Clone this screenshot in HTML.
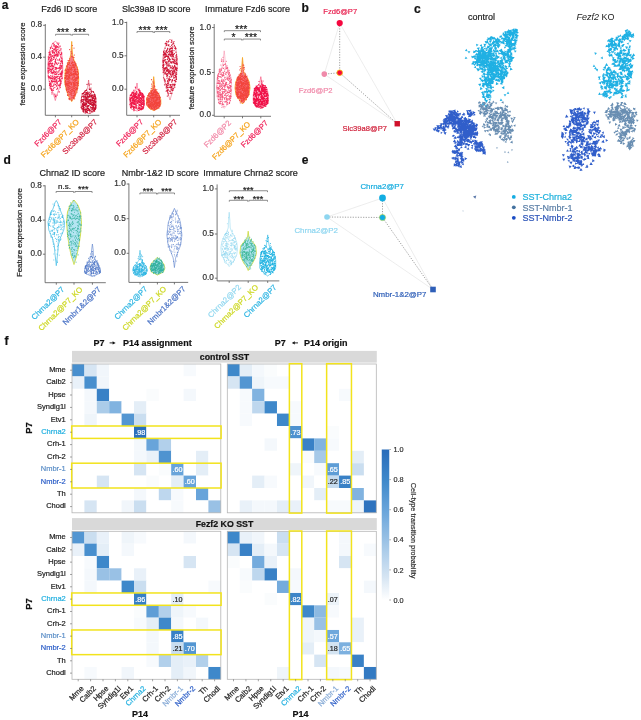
<!DOCTYPE html><html><head><meta charset="utf-8"><style>html,body{margin:0;padding:0;background:#fff;}svg{display:block;will-change:transform;}text{font-family:"Liberation Sans",sans-serif;}</style></head><body><svg width="641" height="720" viewBox="0 0 641 720" font-family="Liberation Sans">
<rect width="641" height="720" fill="#fff"/>
<text x="1.70" y="8.80" font-size="12" fill="#111" text-anchor="start" font-weight="bold" stroke="#111" stroke-width="0.2">a</text>
<text x="301.60" y="11.50" font-size="12" fill="#111" text-anchor="start" font-weight="bold" stroke="#111" stroke-width="0.2">b</text>
<text x="414.00" y="12.90" font-size="12" fill="#111" text-anchor="start" font-weight="bold" stroke="#111" stroke-width="0.2">c</text>
<text x="3.40" y="163.80" font-size="12" fill="#111" text-anchor="start" font-weight="bold" stroke="#111" stroke-width="0.2">d</text>
<text x="301.70" y="164.40" font-size="12" fill="#111" text-anchor="start" font-weight="bold" stroke="#111" stroke-width="0.2">e</text>
<text x="4.60" y="345.40" font-size="12" fill="#111" text-anchor="start" font-weight="bold" stroke="#111" stroke-width="0.2">f</text>
<text x="69.20" y="11.70" font-size="9" fill="#222" text-anchor="middle" stroke="#222" stroke-width="0.2">Fzd6 ID score</text>
<text x="25.20" y="64.00" font-size="7.6" fill="#222" text-anchor="middle" transform="rotate(-90 25.20 64.00)" stroke="#222" stroke-width="0.2">feature expression score</text>
<line x1="45.30" y1="24.00" x2="45.30" y2="115.30" stroke="#555" stroke-width="0.8"/>
<line x1="45.30" y1="115.30" x2="99.40" y2="115.30" stroke="#555" stroke-width="0.8"/>
<line x1="43.10" y1="25.30" x2="45.30" y2="25.30" stroke="#555" stroke-width="0.8"/>
<text x="42.10" y="27.30" font-size="8.2" fill="#333" text-anchor="end" stroke="#333" stroke-width="0.2">0.8</text>
<line x1="43.10" y1="57.20" x2="45.30" y2="57.20" stroke="#555" stroke-width="0.8"/>
<text x="42.10" y="59.20" font-size="8.2" fill="#333" text-anchor="end" stroke="#333" stroke-width="0.2">0.4</text>
<line x1="43.10" y1="89.20" x2="45.30" y2="89.20" stroke="#555" stroke-width="0.8"/>
<text x="42.10" y="91.20" font-size="8.2" fill="#333" text-anchor="end" stroke="#333" stroke-width="0.2">0.0</text>
<path d="M55.30 41.00 L56.31 42.01 L57.32 43.02 L58.31 44.03 L58.73 45.03 L59.15 46.04 L59.57 47.05 L59.99 48.06 L60.41 49.07 L60.81 50.08 L61.00 51.08 L61.19 52.09 L61.38 53.10 L61.57 54.11 L61.76 55.12 L61.95 56.13 L62.14 57.14 L62.31 58.14 L62.36 59.15 L62.41 60.16 L62.46 61.17 L62.51 62.18 L62.56 63.19 L62.61 64.19 L62.66 65.20 L62.71 66.21 L62.76 67.22 L62.79 68.23 L62.74 69.24 L62.69 70.25 L62.64 71.25 L62.59 72.26 L62.54 73.27 L62.49 74.28 L62.44 75.29 L62.39 76.30 L62.33 77.31 L62.22 78.31 L61.97 79.32 L61.72 80.33 L61.47 81.34 L61.21 82.35 L60.96 83.36 L60.71 84.36 L60.46 85.37 L60.14 86.38 L59.72 87.39 L59.30 88.40 L58.88 89.41 L58.46 90.42 L58.04 91.42 L57.67 92.43 L57.38 93.44 L57.08 94.45 L56.78 95.46 L56.49 96.47 L56.19 97.47 L55.89 98.48 L55.60 99.49 L55.30 100.50 L55.30 100.50 L55.00 99.49 L54.71 98.48 L54.41 97.47 L54.11 96.47 L53.82 95.46 L53.52 94.45 L53.22 93.44 L52.93 92.43 L52.56 91.42 L52.14 90.42 L51.72 89.41 L51.30 88.40 L50.88 87.39 L50.46 86.38 L50.14 85.37 L49.89 84.36 L49.64 83.36 L49.39 82.35 L49.13 81.34 L48.88 80.33 L48.63 79.32 L48.38 78.31 L48.27 77.31 L48.21 76.30 L48.16 75.29 L48.11 74.28 L48.06 73.27 L48.01 72.26 L47.96 71.25 L47.91 70.25 L47.86 69.24 L47.81 68.23 L47.84 67.22 L47.89 66.21 L47.94 65.20 L47.99 64.19 L48.04 63.19 L48.09 62.18 L48.14 61.17 L48.19 60.16 L48.24 59.15 L48.29 58.14 L48.46 57.14 L48.65 56.13 L48.84 55.12 L49.03 54.11 L49.22 53.10 L49.41 52.09 L49.60 51.08 L49.79 50.08 L50.19 49.07 L50.61 48.06 L51.03 47.05 L51.45 46.04 L51.87 45.03 L52.29 44.03 L53.28 43.02 L54.29 42.01 L55.30 41.00Z" fill="none" stroke="#f0245a" stroke-width="0.5" stroke-linejoin="round"/>
<path d="M62.6 72.1h.01M51.2 84.8h.01M59.7 78.0h.01M54.0 57.2h.01M59.4 59.7h.01M60.2 83.8h.01M58.9 43.1h.01M52.1 80.6h.01M54.6 79.1h.01M61.9 66.5h.01M61.7 60.4h.01M53.5 59.3h.01M61.6 58.6h.01M53.9 66.1h.01M53.4 68.1h.01M59.1 70.4h.01M55.1 96.8h.01M54.6 79.2h.01M53.6 72.4h.01M54.8 94.2h.01M50.3 56.2h.01M49.5 54.4h.01M59.0 71.8h.01M56.0 47.3h.01M57.1 46.6h.01M59.8 68.7h.01M51.3 66.2h.01M52.3 86.3h.01M52.0 72.5h.01M52.4 68.3h.01M59.2 67.5h.01M53.5 57.7h.01M53.8 44.1h.01M57.1 55.2h.01M50.8 75.7h.01M49.9 55.7h.01M58.2 63.1h.01M57.2 43.1h.01M52.6 81.4h.01M57.1 53.7h.01M48.6 59.2h.01M54.1 83.1h.01M56.5 67.9h.01M52.1 82.7h.01M53.1 73.0h.01M56.9 77.3h.01M56.4 50.3h.01M50.1 69.4h.01M58.4 68.3h.01M50.1 83.7h.01M62.2 62.1h.01M50.9 71.4h.01M52.6 48.4h.01M50.9 63.4h.01M62.4 61.3h.01M52.5 53.0h.01M56.7 80.4h.01M62.5 63.1h.01M59.1 91.7h.01M48.5 71.1h.01M55.6 72.2h.01M56.8 73.5h.01M58.3 74.3h.01M53.2 52.9h.01M52.7 65.5h.01M48.3 57.0h.01M48.4 64.5h.01M55.9 51.4h.01M51.5 90.4h.01M51.2 56.3h.01M52.9 73.8h.01M49.1 60.0h.01M49.5 83.7h.01M61.5 74.4h.01M54.5 53.2h.01M51.4 81.5h.01M57.4 88.6h.01M49.5 85.5h.01M51.5 70.2h.01M61.3 52.8h.01M60.7 54.9h.01M56.8 86.2h.01M49.3 70.2h.01M52.8 55.6h.01M49.6 84.2h.01M51.2 73.2h.01M48.2 70.1h.01M49.8 63.3h.01M57.3 64.6h.01M49.7 57.5h.01M51.7 46.9h.01M60.3 83.1h.01M52.8 66.6h.01M52.8 69.2h.01M49.3 61.4h.01M59.6 76.9h.01M57.0 46.4h.01M56.0 63.0h.01M56.5 46.0h.01M50.2 51.8h.01M53.2 90.3h.01M56.5 74.6h.01M62.0 65.5h.01M60.1 68.2h.01M57.1 83.6h.01M55.6 62.1h.01M48.1 71.1h.01M61.0 75.3h.01M49.0 61.9h.01M49.7 68.0h.01M58.0 78.5h.01M59.0 85.6h.01M59.1 53.7h.01M54.8 87.6h.01M52.9 43.3h.01M48.6 77.2h.01M60.0 79.9h.01M61.5 53.3h.01M51.5 64.9h.01M60.2 80.5h.01M54.4 44.9h.01M52.5 72.4h.01M55.4 79.1h.01M47.9 68.2h.01M54.5 76.3h.01M51.1 57.3h.01M58.2 55.8h.01M55.3 62.6h.01M60.3 54.9h.01M61.1 62.0h.01M53.4 88.2h.01M52.0 69.8h.01M61.7 61.1h.01M55.4 59.4h.01M51.2 88.6h.01M48.5 65.9h.01M59.1 92.1h.01M56.5 68.0h.01M48.6 68.5h.01M55.4 84.4h.01M55.4 77.7h.01M54.3 71.4h.01M62.0 65.3h.01M60.9 83.6h.01M49.8 64.4h.01M51.4 86.2h.01M54.2 48.8h.01M60.3 65.1h.01M57.2 68.2h.01M57.6 88.0h.01M56.4 58.1h.01M51.4 80.5h.01M59.9 73.9h.01M48.3 75.9h.01M58.2 71.9h.01M52.6 90.2h.01M54.9 61.6h.01M62.3 63.7h.01M55.8 55.8h.01M50.4 47.7h.01M54.3 56.1h.01M57.2 84.9h.01M49.5 81.3h.01M52.1 51.8h.01M48.2 72.0h.01M55.9 67.5h.01M53.5 70.9h.01M55.4 74.4h.01M52.3 60.1h.01M56.8 89.3h.01M50.4 66.5h.01M61.3 71.9h.01M62.0 73.7h.01M55.2 55.5h.01M54.9 49.2h.01M60.6 63.7h.01M52.3 78.5h.01M59.4 80.4h.01M52.2 76.6h.01M58.1 51.8h.01M53.4 85.8h.01M56.7 79.7h.01M60.6 83.0h.01M48.6 68.0h.01M58.9 84.9h.01M55.8 48.4h.01M54.1 46.5h.01M53.9 45.5h.01M49.1 58.3h.01M51.8 58.3h.01M57.0 55.3h.01M49.3 70.3h.01M57.1 47.5h.01M62.1 71.4h.01M61.7 53.9h.01M61.0 74.3h.01M58.2 44.5h.01M50.6 60.4h.01M60.3 87.6h.01M50.9 69.2h.01M60.3 80.7h.01M60.8 74.5h.01M57.1 72.1h.01M55.6 54.7h.01M50.8 69.9h.01M55.5 46.7h.01M52.4 79.1h.01M51.7 89.4h.01M50.5 82.8h.01M58.6 47.8h.01M61.4 61.6h.01M50.1 61.4h.01M49.1 52.4h.01M51.8 72.2h.01M50.2 78.8h.01M50.8 60.5h.01M56.4 82.1h.01M54.2 79.0h.01M54.4 52.4h.01M51.1 78.5h.01M57.3 83.1h.01M52.4 55.9h.01M53.8 70.7h.01M54.8 73.0h.01M61.3 72.5h.01M52.1 50.7h.01M58.5 74.6h.01M52.5 72.9h.01M60.6 80.3h.01M53.9 79.9h.01M55.4 61.2h.01M60.7 76.6h.01M57.4 82.9h.01M50.4 84.1h.01M50.5 54.4h.01M60.2 46.2h.01M48.4 73.1h.01M52.5 56.3h.01M62.1 70.2h.01M50.4 88.8h.01M50.3 63.0h.01M51.2 58.4h.01M49.1 66.3h.01M54.9 74.5h.01M56.5 51.0h.01M52.6 63.4h.01M50.2 53.3h.01M59.8 74.2h.01M59.3 80.9h.01M56.2 63.7h.01M50.0 63.4h.01M55.9 68.9h.01M57.1 56.4h.01M54.3 57.9h.01M60.6 61.1h.01M53.7 66.6h.01M55.4 50.0h.01M49.8 77.1h.01M56.2 71.1h.01M59.2 59.7h.01M58.1 49.8h.01M51.8 78.1h.01M61.7 52.8h.01M58.2 52.7h.01M54.3 52.1h.01M54.3 49.8h.01M58.6 85.6h.01M50.6 59.6h.01M57.3 59.9h.01M58.2 81.4h.01M55.5 72.3h.01M60.4 54.7h.01M54.8 64.8h.01M54.9 84.8h.01M52.1 63.2h.01M61.4 76.6h.01M53.0 50.6h.01M58.1 76.4h.01M54.0 78.7h.01M61.0 81.7h.01M61.8 73.8h.01M48.4 63.2h.01M61.1 48.9h.01M56.9 68.5h.01M49.2 77.9h.01M55.3 54.9h.01M48.8 59.5h.01M56.0 69.2h.01M50.8 77.3h.01M53.7 84.8h.01M52.8 51.9h.01M56.7 54.7h.01M59.8 79.2h.01M61.7 72.9h.01M52.8 75.9h.01M55.7 96.5h.01M50.0 87.8h.01M53.6 81.4h.01M61.8 78.5h.01M49.7 64.0h.01M60.7 73.3h.01M57.4 55.4h.01M52.4 78.4h.01M59.3 78.6h.01M52.3 76.3h.01M61.2 65.9h.01M49.2 63.3h.01M49.7 65.2h.01M57.9 46.7h.01M54.6 81.5h.01M50.0 69.6h.01M55.5 62.8h.01M52.3 69.3h.01M56.0 76.5h.01M58.9 63.1h.01M60.0 81.1h.01M50.3 86.3h.01M56.7 63.2h.01M61.6 53.3h.01M54.7 78.4h.01M57.1 95.1h.01M50.1 53.4h.01M60.7 76.7h.01M56.4 80.9h.01M59.7 86.1h.01M59.0 51.8h.01M59.8 50.4h.01M52.0 93.9h.01M58.1 51.6h.01M51.2 54.9h.01M51.8 69.9h.01M52.7 66.2h.01M56.6 77.7h.01M57.0 54.7h.01M60.4 85.0h.01M48.4 57.1h.01M50.9 78.3h.01M53.7 49.3h.01M60.1 67.2h.01M55.8 45.7h.01M55.5 60.0h.01M59.1 60.6h.01M57.5 76.5h.01M52.2 65.8h.01M50.7 48.4h.01M55.1 95.3h.01M59.9 84.6h.01M56.4 85.9h.01M48.9 58.5h.01M54.4 63.9h.01M53.7 57.1h.01M56.4 52.3h.01M56.2 46.1h.01M62.1 67.9h.01M53.2 51.7h.01M54.1 54.9h.01M56.8 81.9h.01M61.1 66.9h.01M58.1 54.7h.01M54.9 74.2h.01M59.8 59.0h.01M55.1 69.3h.01M62.0 58.9h.01M52.0 67.8h.01M49.8 72.1h.01M60.2 69.5h.01M52.3 63.9h.01M60.1 79.2h.01M56.7 83.6h.01M55.4 55.0h.01M49.9 53.5h.01M59.0 52.5h.01M51.9 92.2h.01M60.3 87.6h.01M60.6 56.9h.01M53.5 90.1h.01M50.2 56.1h.01M61.1 68.3h.01M55.0 67.7h.01M50.9 85.0h.01M55.3 47.3h.01M51.6 61.1h.01M53.9 70.9h.01M56.9 49.5h.01M61.2 57.3h.01M59.8 65.8h.01M51.1 83.8h.01M55.0 77.9h.01M55.2 80.9h.01M62.3 78.1h.01M49.3 76.7h.01M55.4 81.9h.01M61.3 75.7h.01M53.8 77.4h.01M51.9 59.7h.01M56.0 54.2h.01M52.7 78.3h.01M61.0 54.2h.01M50.6 86.6h.01M51.0 71.4h.01" stroke="#f22455" stroke-width="1.30" stroke-linecap="round" opacity="1.0"/>
<path d="M71.70 41.50 L71.76 42.52 L71.82 43.53 L71.88 44.55 L71.94 45.57 L72.00 46.58 L72.06 47.60 L72.12 48.62 L72.18 49.64 L72.27 50.65 L72.37 51.67 L72.47 52.69 L72.57 53.70 L72.67 54.72 L72.88 55.74 L73.12 56.75 L73.37 57.77 L73.61 58.79 L73.85 59.81 L74.28 60.82 L74.75 61.84 L75.21 62.86 L75.68 63.87 L76.15 64.89 L76.54 65.91 L76.93 66.92 L77.32 67.94 L77.70 68.96 L78.09 69.97 L78.16 70.99 L78.22 72.01 L78.28 73.03 L78.34 74.04 L78.40 75.06 L78.46 76.08 L78.53 77.09 L78.59 78.11 L78.65 79.13 L78.69 80.14 L78.58 81.16 L78.48 82.18 L78.38 83.19 L78.28 84.21 L78.15 85.23 L77.90 86.25 L77.66 87.26 L77.41 88.28 L77.17 89.30 L76.89 90.31 L76.52 91.33 L76.16 92.35 L75.80 93.36 L75.44 94.38 L75.07 95.40 L74.71 96.42 L74.23 97.43 L73.60 98.45 L72.97 99.47 L72.33 100.48 L71.70 101.50 L71.70 101.50 L71.07 100.48 L70.43 99.47 L69.80 98.45 L69.17 97.43 L68.69 96.42 L68.33 95.40 L67.96 94.38 L67.60 93.36 L67.24 92.35 L66.88 91.33 L66.51 90.31 L66.23 89.30 L65.99 88.28 L65.74 87.26 L65.50 86.25 L65.25 85.23 L65.12 84.21 L65.02 83.19 L64.92 82.18 L64.82 81.16 L64.71 80.14 L64.75 79.13 L64.81 78.11 L64.87 77.09 L64.94 76.08 L65.00 75.06 L65.06 74.04 L65.12 73.03 L65.18 72.01 L65.24 70.99 L65.31 69.97 L65.70 68.96 L66.08 67.94 L66.47 66.92 L66.86 65.91 L67.25 64.89 L67.72 63.87 L68.19 62.86 L68.65 61.84 L69.12 60.82 L69.55 59.81 L69.79 58.79 L70.03 57.77 L70.28 56.75 L70.52 55.74 L70.73 54.72 L70.83 53.70 L70.93 52.69 L71.03 51.67 L71.13 50.65 L71.22 49.64 L71.28 48.62 L71.34 47.60 L71.40 46.58 L71.46 45.57 L71.52 44.55 L71.58 43.53 L71.64 42.52 L71.70 41.50Z" fill="#f77b86" stroke="#f5a31a" stroke-width="0.9" stroke-linejoin="round"/>
<path d="M69.1 64.1h.01M71.6 84.2h.01M77.6 71.7h.01M74.2 91.0h.01M72.4 91.2h.01M71.9 93.2h.01M74.3 70.5h.01M72.3 45.5h.01M69.5 75.0h.01M68.1 95.2h.01M67.8 86.1h.01M74.3 62.7h.01M73.5 84.1h.01M74.8 92.5h.01M67.6 95.4h.01M77.1 83.9h.01M70.3 90.6h.01M76.8 89.3h.01M73.0 74.0h.01M72.2 65.1h.01M75.9 85.5h.01M73.1 67.3h.01M74.1 75.4h.01M69.7 99.6h.01M73.2 80.4h.01M69.7 78.8h.01M67.7 94.6h.01M66.8 71.8h.01M71.6 100.2h.01M69.2 92.0h.01M75.3 73.9h.01M66.6 72.5h.01M66.4 66.1h.01M76.9 92.6h.01M69.3 69.2h.01M71.8 53.3h.01M68.5 91.5h.01M67.7 81.5h.01M70.4 82.7h.01M75.5 84.9h.01M68.1 60.6h.01M75.2 64.9h.01M78.5 77.8h.01M72.2 61.9h.01M69.8 78.0h.01M68.2 85.4h.01M67.4 83.2h.01M69.3 82.4h.01M74.7 61.6h.01M65.2 70.2h.01M74.8 91.6h.01M73.5 66.1h.01M65.0 78.7h.01M68.1 62.3h.01M74.0 93.4h.01M73.8 67.7h.01M69.1 76.0h.01M76.8 80.2h.01M67.9 85.2h.01M71.0 93.1h.01M66.6 85.0h.01M73.7 73.9h.01M67.7 64.2h.01M67.4 84.1h.01M73.9 95.9h.01M71.7 56.7h.01M73.8 85.9h.01M74.5 67.4h.01M73.2 77.6h.01M67.5 78.9h.01M74.5 81.2h.01M69.1 98.3h.01M68.6 83.8h.01M71.0 75.5h.01M66.5 84.7h.01M66.3 76.8h.01M73.8 76.0h.01M75.0 73.9h.01M69.9 77.8h.01M70.2 72.2h.01M67.8 71.3h.01M71.9 67.2h.01M72.8 77.3h.01M77.5 71.5h.01M66.2 89.0h.01M76.6 89.3h.01M78.3 74.2h.01M69.6 82.1h.01M74.2 91.3h.01M76.1 74.4h.01M73.8 79.7h.01M68.8 76.9h.01M73.4 83.0h.01M75.1 95.9h.01M67.2 66.6h.01M71.5 94.9h.01M65.2 83.1h.01M76.0 87.4h.01M75.5 81.8h.01M66.5 90.7h.01M75.0 72.7h.01M74.3 84.4h.01M66.7 70.6h.01M72.1 79.5h.01M74.3 82.9h.01M69.6 69.2h.01M71.7 63.2h.01M77.7 87.0h.01M73.4 87.9h.01M71.7 83.3h.01M65.9 73.0h.01M66.6 83.2h.01M75.1 64.2h.01M75.0 83.2h.01M76.4 80.1h.01M72.8 82.2h.01M72.7 77.0h.01M72.1 69.9h.01M74.8 84.9h.01M69.4 76.9h.01M71.7 85.0h.01M71.3 73.8h.01M73.4 65.2h.01M67.7 78.7h.01M65.2 81.9h.01M67.4 92.4h.01M68.2 91.1h.01M75.0 62.6h.01M74.5 86.1h.01M75.0 71.0h.01M71.0 84.4h.01M66.3 75.5h.01M71.2 73.4h.01M76.7 78.0h.01M71.8 79.1h.01M73.5 84.1h.01M70.0 81.9h.01M67.0 83.7h.01M73.4 74.6h.01M71.5 82.9h.01M69.6 74.2h.01M68.4 81.3h.01M74.4 76.9h.01M69.2 80.6h.01M72.2 56.7h.01M68.4 78.2h.01M75.0 69.6h.01M70.0 75.5h.01M71.5 63.5h.01M77.5 83.1h.01M74.1 91.7h.01M74.9 74.5h.01M70.0 65.3h.01M76.4 82.5h.01M70.4 65.6h.01M77.1 90.9h.01M76.1 65.9h.01M73.9 73.6h.01M76.3 78.6h.01M72.2 65.4h.01M74.8 72.8h.01M66.7 71.7h.01M78.3 83.7h.01M74.0 97.4h.01M66.9 73.6h.01M68.5 87.7h.01M72.6 67.1h.01M75.4 80.0h.01M66.9 76.4h.01M77.8 72.3h.01M69.8 88.1h.01M78.3 85.6h.01M74.6 67.4h.01M71.5 72.1h.01M70.0 88.1h.01M68.9 98.9h.01M66.0 81.6h.01M73.2 90.2h.01M73.8 97.0h.01M77.1 85.6h.01M69.8 82.3h.01M77.5 69.7h.01M68.9 75.1h.01M77.7 82.0h.01M75.9 93.8h.01M67.1 71.8h.01M76.6 74.8h.01M73.0 57.3h.01M74.4 84.1h.01M76.4 77.6h.01M72.2 87.0h.01M71.8 69.9h.01M69.9 83.7h.01M76.7 82.7h.01M77.2 76.9h.01M67.4 69.3h.01M75.4 74.6h.01M68.7 85.7h.01M67.7 69.3h.01M68.5 64.5h.01M72.7 77.2h.01M68.8 70.0h.01M68.5 87.5h.01M66.8 88.1h.01M70.0 94.3h.01M75.0 89.0h.01M65.1 82.0h.01M71.5 68.6h.01M73.0 88.7h.01M65.7 85.6h.01M69.0 85.1h.01M77.2 84.4h.01M77.7 88.3h.01M76.4 71.8h.01M67.2 83.0h.01M75.4 79.6h.01M71.0 73.9h.01M67.3 73.1h.01M71.5 68.4h.01M77.6 77.9h.01M76.8 74.4h.01M70.2 75.7h.01M66.5 89.5h.01M77.1 83.5h.01M78.3 83.5h.01M71.8 97.9h.01M68.1 70.2h.01M72.3 78.6h.01M73.7 64.7h.01M71.5 75.1h.01M70.3 94.1h.01M69.2 63.4h.01M69.1 86.2h.01M66.5 90.5h.01M68.3 79.4h.01M77.4 86.8h.01M64.9 77.5h.01M74.8 73.8h.01M75.7 77.9h.01M70.5 69.3h.01M73.0 73.4h.01M68.0 73.3h.01M73.0 97.3h.01M74.5 73.0h.01M74.8 70.3h.01M71.6 93.2h.01M77.1 67.2h.01M75.0 95.7h.01M72.6 89.3h.01M74.2 82.6h.01M68.6 76.0h.01M77.3 69.2h.01M73.2 65.0h.01M75.8 64.7h.01M68.8 74.1h.01M78.3 76.2h.01M67.6 92.4h.01M72.1 78.7h.01M69.0 98.9h.01M67.6 85.7h.01M74.7 66.5h.01M65.6 80.6h.01M70.3 68.0h.01M69.3 60.4h.01M75.0 94.7h.01M66.1 74.0h.01M69.6 69.2h.01M75.4 65.2h.01M74.2 83.2h.01M74.5 76.6h.01M74.4 55.0h.01M65.3 84.4h.01M73.9 71.4h.01M74.8 87.0h.01M75.1 78.4h.01M74.7 79.5h.01M65.8 76.9h.01M66.1 83.1h.01M73.6 98.3h.01M73.1 86.8h.01M69.5 62.6h.01M64.9 77.9h.01M72.1 69.6h.01M67.4 65.2h.01M74.8 68.9h.01M69.6 71.1h.01M74.4 95.2h.01M66.3 85.1h.01M71.6 89.6h.01M66.3 84.2h.01M75.5 73.1h.01M72.5 75.0h.01M68.0 77.2h.01M77.9 72.4h.01M74.2 75.8h.01M69.6 86.3h.01M75.2 64.1h.01M70.1 71.6h.01M77.8 78.6h.01M68.9 83.2h.01M78.3 81.9h.01M65.9 85.5h.01M74.1 65.2h.01M69.1 69.1h.01M70.7 73.4h.01M73.5 71.6h.01M65.8 86.3h.01M69.8 98.7h.01M66.3 83.6h.01M73.4 59.9h.01M68.0 72.1h.01M71.7 87.1h.01M69.9 92.4h.01M68.0 81.2h.01M77.6 74.5h.01M71.8 74.4h.01M73.8 82.4h.01M74.0 90.7h.01M76.0 73.6h.01M68.7 69.2h.01M69.6 49.6h.01M71.3 67.2h.01M67.8 89.1h.01M65.1 82.1h.01M74.6 98.8h.01M72.9 62.4h.01M70.5 73.8h.01M67.1 87.3h.01M75.2 83.6h.01M72.0 62.6h.01M67.3 75.4h.01M78.3 81.9h.01M77.8 84.0h.01M77.6 77.1h.01M75.8 69.1h.01M72.0 95.8h.01M69.0 77.5h.01M73.7 85.0h.01M66.8 79.4h.01M72.8 64.0h.01M66.0 69.9h.01M67.3 63.1h.01M74.4 69.4h.01M69.7 68.9h.01M74.4 76.5h.01M75.5 72.6h.01M76.2 73.7h.01M73.1 88.5h.01M74.0 57.6h.01M73.4 65.0h.01M76.9 88.3h.01M77.2 78.8h.01M65.4 77.4h.01M68.6 71.2h.01M70.1 78.8h.01M68.4 69.7h.01M67.9 89.6h.01M76.3 88.7h.01M65.3 73.4h.01M69.5 58.8h.01M74.6 91.2h.01M68.0 72.0h.01M68.4 82.9h.01M77.2 89.3h.01M75.0 87.0h.01M71.1 90.0h.01M66.7 78.0h.01M69.0 88.9h.01M78.3 77.1h.01M75.6 71.2h.01M65.7 78.3h.01M74.5 73.5h.01M70.1 86.6h.01M74.4 88.4h.01M69.3 67.3h.01M67.2 67.9h.01M65.2 75.4h.01M68.9 76.9h.01M75.1 94.4h.01M75.6 93.9h.01M73.3 95.5h.01M75.0 85.2h.01M67.6 83.5h.01M69.8 70.8h.01M77.1 75.4h.01M74.0 48.1h.01M71.0 88.0h.01M75.4 71.7h.01M75.9 63.6h.01M78.4 73.5h.01M69.0 72.5h.01M73.7 85.0h.01M71.1 51.7h.01M71.2 70.2h.01M71.3 91.6h.01M69.1 89.2h.01M65.1 81.9h.01M75.4 80.5h.01M74.3 69.6h.01M75.6 89.9h.01" stroke="#f2443c" stroke-width="1.20" stroke-linecap="round" opacity="1.0"/>
<path d="M88.60 80.00 L88.67 80.57 L88.74 81.14 L88.81 81.70 L88.88 82.27 L88.95 82.84 L89.03 83.41 L89.10 83.97 L89.17 84.54 L89.24 85.11 L89.31 85.68 L89.38 86.25 L89.45 86.81 L89.52 87.38 L89.59 87.95 L89.94 88.52 L90.32 89.08 L90.70 89.65 L91.08 90.22 L91.46 90.79 L92.02 91.36 L92.68 91.92 L93.34 92.49 L94.00 93.06 L94.66 93.63 L95.13 94.19 L95.23 94.76 L95.32 95.33 L95.42 95.90 L95.51 96.47 L95.61 97.03 L95.70 97.60 L95.79 98.17 L95.89 98.74 L95.98 99.31 L96.08 99.87 L96.10 100.44 L96.10 101.01 L96.10 101.58 L96.10 102.14 L96.10 102.71 L96.10 103.28 L96.10 103.85 L96.10 104.42 L96.10 104.98 L96.10 105.55 L96.10 106.12 L96.10 106.69 L96.10 107.25 L96.10 107.82 L95.86 108.39 L95.50 108.96 L95.15 109.53 L94.79 110.09 L94.44 110.66 L94.08 111.23 L93.73 111.80 L92.39 112.36 L90.49 112.93 L88.60 113.50 L88.60 113.50 L86.71 112.93 L84.81 112.36 L83.47 111.80 L83.12 111.23 L82.76 110.66 L82.41 110.09 L82.05 109.53 L81.70 108.96 L81.34 108.39 L81.10 107.82 L81.10 107.25 L81.10 106.69 L81.10 106.12 L81.10 105.55 L81.10 104.98 L81.10 104.42 L81.10 103.85 L81.10 103.28 L81.10 102.71 L81.10 102.14 L81.10 101.58 L81.10 101.01 L81.10 100.44 L81.12 99.87 L81.22 99.31 L81.31 98.74 L81.41 98.17 L81.50 97.60 L81.59 97.03 L81.69 96.47 L81.78 95.90 L81.88 95.33 L81.97 94.76 L82.07 94.19 L82.54 93.63 L83.20 93.06 L83.86 92.49 L84.52 91.92 L85.18 91.36 L85.74 90.79 L86.12 90.22 L86.50 89.65 L86.88 89.08 L87.26 88.52 L87.61 87.95 L87.68 87.38 L87.75 86.81 L87.82 86.25 L87.89 85.68 L87.96 85.11 L88.03 84.54 L88.10 83.97 L88.17 83.41 L88.25 82.84 L88.32 82.27 L88.39 81.70 L88.46 81.14 L88.53 80.57 L88.60 80.00Z" fill="none" stroke="#d21e3c" stroke-width="0.5" stroke-linejoin="round"/>
<path d="M84.2 94.5h.01M88.2 96.3h.01M84.9 103.9h.01M93.6 110.9h.01M83.8 101.9h.01M95.2 95.8h.01M94.0 103.6h.01M87.2 111.2h.01M92.5 108.9h.01M89.7 109.5h.01M88.1 100.0h.01M93.1 97.2h.01M93.3 109.0h.01M84.1 107.3h.01M94.6 108.4h.01M81.6 100.0h.01M81.5 97.8h.01M88.4 96.7h.01M85.8 109.2h.01M87.6 110.3h.01M88.3 99.1h.01M88.2 108.9h.01M94.7 99.5h.01M94.9 100.9h.01M86.3 103.3h.01M85.6 96.2h.01M90.8 96.9h.01M84.3 97.0h.01M87.2 96.8h.01M91.9 102.1h.01M82.2 93.5h.01M92.7 107.5h.01M91.9 95.2h.01M86.9 100.9h.01M84.8 104.6h.01M89.1 94.2h.01M85.5 99.6h.01M93.4 103.1h.01M90.0 102.8h.01M86.0 109.4h.01M93.2 107.1h.01M90.1 94.3h.01M83.2 108.4h.01M87.3 102.6h.01M88.4 105.6h.01M94.7 94.8h.01M85.9 101.3h.01M87.8 105.4h.01M95.8 107.7h.01M87.5 108.0h.01M93.2 96.2h.01M82.7 108.3h.01M87.0 103.1h.01M83.9 105.1h.01M94.2 108.6h.01M89.4 99.6h.01M84.9 110.3h.01M83.0 109.6h.01M87.4 107.7h.01M82.6 99.5h.01M88.4 102.0h.01M91.8 95.5h.01M85.8 106.4h.01M84.1 109.5h.01M86.7 94.8h.01M83.6 106.9h.01M93.8 105.7h.01M85.2 90.8h.01M91.8 109.8h.01M86.1 101.5h.01M91.9 97.0h.01M90.9 91.1h.01M83.1 107.4h.01M92.4 98.7h.01M95.3 102.1h.01M89.5 96.1h.01M90.8 103.6h.01M85.9 100.1h.01M83.7 107.9h.01M92.3 104.9h.01M93.4 106.2h.01M84.4 97.0h.01M84.3 92.3h.01M86.6 109.5h.01M90.2 110.4h.01M86.6 104.2h.01M94.7 110.1h.01M93.0 105.7h.01M94.8 103.7h.01M90.1 100.4h.01M92.4 99.6h.01M95.4 101.8h.01M82.0 96.7h.01M89.7 100.5h.01M83.9 102.2h.01M91.1 90.8h.01M84.6 99.9h.01M92.1 97.6h.01M86.1 104.3h.01M90.9 107.7h.01M91.3 103.6h.01M94.7 104.9h.01M94.2 104.0h.01M87.7 97.1h.01M91.4 99.1h.01M83.9 108.6h.01M83.5 110.4h.01M91.6 95.6h.01M91.0 88.0h.01M91.6 111.3h.01M88.8 108.9h.01M90.5 104.0h.01M92.1 107.5h.01M89.6 103.6h.01M86.8 110.1h.01M93.6 96.9h.01M86.6 101.0h.01M94.7 105.0h.01M92.8 95.6h.01M93.0 106.4h.01M93.4 97.1h.01M95.9 105.9h.01M95.9 108.0h.01M88.6 100.5h.01M87.4 112.5h.01M92.1 104.6h.01M95.6 107.0h.01M89.6 89.4h.01M82.4 93.9h.01M81.7 106.1h.01M88.1 110.5h.01M92.9 104.3h.01M93.7 110.0h.01M87.3 92.1h.01M88.8 109.5h.01M88.8 108.7h.01M82.5 104.5h.01M81.1 100.4h.01M89.0 105.7h.01M88.7 96.8h.01M94.1 105.2h.01M83.8 105.8h.01M93.9 102.4h.01M85.3 97.0h.01M88.8 83.8h.01M91.5 95.9h.01M83.4 108.2h.01M94.9 96.1h.01M93.7 92.3h.01M95.3 97.1h.01M81.1 102.2h.01M90.8 103.2h.01M91.0 108.8h.01M94.0 109.2h.01M85.1 111.5h.01M83.5 109.4h.01M93.2 100.9h.01M85.3 94.8h.01M83.3 111.2h.01M82.8 96.2h.01M90.8 104.5h.01M89.1 97.2h.01M92.3 107.9h.01M92.9 95.9h.01M81.1 100.3h.01M94.7 96.2h.01M94.0 109.0h.01M95.1 104.5h.01M92.6 104.4h.01M86.9 98.4h.01M85.1 95.2h.01M94.4 109.1h.01M87.4 106.8h.01M88.4 106.3h.01M90.0 113.2h.01M91.4 103.1h.01M91.3 95.6h.01M90.5 103.8h.01M88.7 97.7h.01M92.6 102.4h.01M87.0 101.1h.01M85.0 103.3h.01M94.0 109.8h.01M93.8 107.9h.01M91.9 100.3h.01M83.6 107.8h.01M82.2 108.9h.01M94.9 107.5h.01M95.2 102.8h.01M85.5 109.7h.01M90.5 101.4h.01M82.3 93.5h.01M87.1 97.8h.01M91.7 104.8h.01M86.5 99.6h.01M93.2 100.4h.01M94.8 99.8h.01M83.5 95.9h.01M90.9 93.0h.01M87.3 91.9h.01M83.7 104.9h.01M86.4 98.3h.01M88.3 100.9h.01M93.6 110.5h.01M92.6 104.4h.01M81.2 107.6h.01M81.9 106.7h.01M94.6 111.2h.01M89.2 92.7h.01M90.2 99.7h.01M86.8 111.2h.01M93.6 101.2h.01M89.3 110.6h.01M89.9 95.5h.01M85.8 92.6h.01M92.4 109.3h.01M84.3 99.8h.01M83.2 102.3h.01M89.8 110.7h.01M93.3 96.6h.01M86.2 112.1h.01M85.6 100.0h.01M83.6 97.1h.01M90.1 96.7h.01M92.7 102.1h.01M83.0 100.7h.01M89.1 109.4h.01M89.0 92.0h.01M85.0 91.6h.01M89.0 94.8h.01M85.2 103.7h.01M84.1 107.5h.01M95.9 101.5h.01M82.5 103.7h.01M86.3 104.4h.01M89.5 89.6h.01M87.2 96.8h.01M85.2 113.1h.01M94.0 98.8h.01M85.3 110.9h.01M87.3 101.4h.01M94.4 96.7h.01M91.0 84.1h.01M94.5 96.3h.01M87.3 98.2h.01M92.3 100.5h.01M93.8 100.9h.01M84.1 102.5h.01M95.6 101.8h.01M85.2 90.6h.01M90.9 97.0h.01M85.4 111.2h.01M86.3 90.4h.01M83.2 106.2h.01M95.2 101.5h.01M83.0 105.8h.01M94.7 98.7h.01M83.6 99.4h.01M86.0 102.0h.01M84.8 110.2h.01M95.8 98.9h.01M83.7 93.2h.01M92.0 91.3h.01M85.9 109.4h.01M95.2 98.2h.01M92.0 94.4h.01M85.1 103.7h.01M88.7 108.1h.01M83.5 103.7h.01M87.3 95.0h.01M81.5 99.6h.01M91.2 96.8h.01M89.2 88.9h.01M85.8 111.5h.01M81.3 100.9h.01M94.6 94.3h.01M83.5 109.6h.01M86.9 112.3h.01M81.5 108.0h.01M86.9 97.0h.01M87.2 95.9h.01M89.1 102.0h.01M86.0 103.0h.01M85.1 109.0h.01M91.9 111.7h.01M85.7 110.0h.01M86.1 99.0h.01M88.5 103.2h.01M85.5 94.0h.01M92.0 102.2h.01M84.0 92.5h.01M86.3 93.4h.01M87.5 94.1h.01M85.1 98.2h.01M93.6 98.0h.01M86.4 105.8h.01M87.6 93.2h.01M88.2 93.6h.01M93.6 105.2h.01M84.4 104.7h.01M93.5 106.0h.01M95.3 106.4h.01M85.1 105.0h.01M83.6 102.5h.01M92.9 106.7h.01M86.3 93.2h.01M84.8 96.0h.01M82.3 106.4h.01M90.2 95.6h.01M95.2 102.7h.01M94.1 96.8h.01M89.9 100.2h.01M87.7 108.5h.01M95.7 104.9h.01M91.0 100.8h.01M95.2 97.8h.01M91.4 107.7h.01M91.6 105.2h.01M91.6 100.5h.01M83.3 109.0h.01M84.9 105.5h.01M83.5 111.9h.01M95.1 104.8h.01M95.4 109.4h.01M90.2 102.9h.01M83.4 106.0h.01M83.1 108.3h.01M88.0 93.2h.01M87.0 101.5h.01M84.0 103.8h.01M84.4 92.2h.01M90.8 107.1h.01M93.0 106.0h.01M83.1 110.9h.01M85.8 99.2h.01M85.6 100.9h.01M89.2 110.3h.01M90.2 99.8h.01M87.3 108.7h.01M94.1 100.6h.01M87.0 98.9h.01M85.8 97.4h.01M92.3 95.7h.01M93.7 100.6h.01M93.8 94.9h.01M83.8 108.2h.01M85.1 111.6h.01M88.1 93.5h.01M93.4 91.7h.01M89.2 85.1h.01M90.2 110.7h.01M86.7 92.6h.01M96.0 105.3h.01M84.0 98.0h.01M89.4 95.7h.01M91.1 96.9h.01M93.2 105.4h.01M90.8 89.3h.01M87.0 108.9h.01M85.2 103.1h.01M95.4 96.6h.01M89.3 96.2h.01M85.3 105.2h.01M83.2 104.5h.01M93.0 98.1h.01M93.7 98.7h.01M89.6 100.9h.01M87.1 110.3h.01M91.0 102.9h.01M95.6 108.4h.01M89.8 104.6h.01M92.9 103.4h.01M94.3 101.7h.01M92.5 105.4h.01M88.4 101.4h.01M83.8 106.0h.01M91.3 95.6h.01M93.4 98.3h.01M95.2 109.2h.01M83.4 100.1h.01M82.9 108.6h.01M90.3 110.6h.01M93.5 103.4h.01M83.1 93.4h.01M90.3 106.8h.01M85.1 104.7h.01M95.8 97.9h.01M86.6 109.2h.01M82.3 101.4h.01M91.5 92.1h.01M86.4 92.7h.01M87.5 96.2h.01M83.1 103.9h.01M86.1 107.8h.01M83.8 93.7h.01M86.8 89.9h.01M89.8 104.5h.01M85.6 99.7h.01M91.1 101.0h.01M94.6 107.9h.01M89.6 109.8h.01M83.1 111.6h.01M95.5 107.2h.01M87.0 84.4h.01M86.5 94.6h.01M89.0 103.4h.01M90.0 111.5h.01M86.7 93.0h.01M87.7 102.2h.01M90.5 100.0h.01M88.0 100.0h.01M85.5 97.1h.01M87.3 97.3h.01M87.0 96.7h.01M85.9 93.4h.01M90.1 102.5h.01M88.8 101.0h.01M87.3 106.2h.01M91.7 104.6h.01M92.4 111.1h.01M90.8 99.0h.01M86.4 109.6h.01M95.1 100.1h.01M82.7 105.0h.01M93.2 107.6h.01M87.4 99.6h.01M87.1 101.1h.01M93.7 104.4h.01M90.6 93.6h.01M95.7 102.6h.01" stroke="#c81030" stroke-width="1.20" stroke-linecap="round" opacity="1.0"/>
<path d="M55.60 35.70V34.30H71.10V35.70M72.30 35.70V34.30H88.60V35.70" fill="none" stroke="#666" stroke-width="0.75"/>
<text x="62.85" y="35.69" font-size="10.5" fill="#222" text-anchor="middle" stroke="#222" stroke-width="0.2">***</text>
<text x="80.00" y="35.69" font-size="10.5" fill="#222" text-anchor="middle" stroke="#222" stroke-width="0.2">***</text>
<line x1="55.40" y1="115.30" x2="55.40" y2="117.30" stroke="#555" stroke-width="0.8"/>
<text x="62.20" y="122.40" font-size="7.8" fill="#f0245a" text-anchor="end" transform="rotate(-45 62.20 122.40)" stroke="#f0245a" stroke-width="0.2">Fzd6@P7</text>
<line x1="71.70" y1="115.30" x2="71.70" y2="117.30" stroke="#555" stroke-width="0.8"/>
<text x="79.60" y="122.40" font-size="7.8" fill="#f5a31a" text-anchor="end" transform="rotate(-45 79.60 122.40)" stroke="#f5a31a" stroke-width="0.2">Fzd6@P7_KO</text>
<line x1="88.40" y1="115.30" x2="88.40" y2="117.30" stroke="#555" stroke-width="0.8"/>
<text x="97.90" y="122.40" font-size="7.8" fill="#d21e3c" text-anchor="end" transform="rotate(-45 97.90 122.40)" stroke="#d21e3c" stroke-width="0.2">Slc39a8@P7</text>
<text x="156.20" y="12.00" font-size="9" fill="#222" text-anchor="middle" stroke="#222" stroke-width="0.2">Slc39a8 ID score</text>
<line x1="126.70" y1="21.70" x2="126.70" y2="115.30" stroke="#555" stroke-width="0.8"/>
<line x1="126.70" y1="115.30" x2="180.00" y2="115.30" stroke="#555" stroke-width="0.8"/>
<line x1="124.50" y1="22.50" x2="126.70" y2="22.50" stroke="#555" stroke-width="0.8"/>
<text x="123.50" y="24.50" font-size="8.2" fill="#333" text-anchor="end" stroke="#333" stroke-width="0.2">1.0</text>
<line x1="124.50" y1="55.80" x2="126.70" y2="55.80" stroke="#555" stroke-width="0.8"/>
<text x="123.50" y="57.80" font-size="8.2" fill="#333" text-anchor="end" stroke="#333" stroke-width="0.2">0.5</text>
<line x1="124.50" y1="89.20" x2="126.70" y2="89.20" stroke="#555" stroke-width="0.8"/>
<text x="123.50" y="91.20" font-size="8.2" fill="#333" text-anchor="end" stroke="#333" stroke-width="0.2">0.0</text>
<path d="M137.00 83.00 L137.06 83.47 L137.11 83.95 L137.17 84.42 L137.23 84.90 L137.28 85.37 L137.34 85.85 L137.40 86.32 L137.46 86.80 L137.51 87.27 L137.57 87.75 L137.67 88.22 L137.81 88.69 L137.95 89.17 L138.09 89.64 L138.24 90.12 L138.38 90.59 L138.62 91.07 L139.45 91.54 L140.28 92.02 L141.11 92.49 L141.94 92.97 L142.29 93.44 L142.61 93.92 L142.93 94.39 L143.24 94.86 L143.56 95.34 L143.88 95.81 L144.01 96.29 L144.02 96.76 L144.03 97.24 L144.04 97.71 L144.05 98.19 L144.06 98.66 L144.07 99.14 L144.08 99.61 L144.09 100.08 L144.10 100.56 L144.11 101.03 L144.12 101.51 L144.13 101.98 L144.14 102.46 L144.15 102.93 L144.16 103.41 L144.18 103.88 L144.19 104.36 L144.20 104.83 L144.11 105.31 L143.97 105.78 L143.82 106.25 L143.68 106.73 L143.54 107.20 L143.40 107.68 L143.25 108.15 L143.11 108.63 L142.69 109.10 L141.27 109.58 L139.85 110.05 L138.42 110.53 L137.00 111.00 L137.00 111.00 L135.58 110.53 L134.15 110.05 L132.73 109.58 L131.31 109.10 L130.89 108.63 L130.75 108.15 L130.60 107.68 L130.46 107.20 L130.32 106.73 L130.18 106.25 L130.03 105.78 L129.89 105.31 L129.80 104.83 L129.81 104.36 L129.82 103.88 L129.84 103.41 L129.85 102.93 L129.86 102.46 L129.87 101.98 L129.88 101.51 L129.89 101.03 L129.90 100.56 L129.91 100.08 L129.92 99.61 L129.93 99.14 L129.94 98.66 L129.95 98.19 L129.96 97.71 L129.97 97.24 L129.98 96.76 L129.99 96.29 L130.12 95.81 L130.44 95.34 L130.76 94.86 L131.07 94.39 L131.39 93.92 L131.71 93.44 L132.06 92.97 L132.89 92.49 L133.72 92.02 L134.55 91.54 L135.38 91.07 L135.62 90.59 L135.76 90.12 L135.91 89.64 L136.05 89.17 L136.19 88.69 L136.33 88.22 L136.43 87.75 L136.49 87.27 L136.54 86.80 L136.60 86.32 L136.66 85.85 L136.72 85.37 L136.77 84.90 L136.83 84.42 L136.89 83.95 L136.94 83.47 L137.00 83.00Z" fill="none" stroke="#f0245a" stroke-width="0.5" stroke-linejoin="round"/>
<path d="M135.4 107.1h.01M141.3 94.6h.01M137.5 100.9h.01M139.7 105.3h.01M135.2 93.5h.01M138.3 101.5h.01M138.7 110.2h.01M135.2 96.5h.01M136.9 94.4h.01M141.9 97.8h.01M143.2 98.0h.01M134.9 97.3h.01M130.7 100.1h.01M141.7 106.7h.01M136.2 101.5h.01M143.8 102.5h.01M140.4 94.5h.01M135.5 93.2h.01M141.6 108.7h.01M137.7 98.9h.01M139.8 108.7h.01M142.5 98.1h.01M138.2 103.2h.01M143.5 103.7h.01M135.7 93.8h.01M135.6 93.3h.01M139.0 100.2h.01M135.8 94.5h.01M140.0 97.8h.01M137.4 95.8h.01M140.5 97.7h.01M141.7 100.0h.01M138.0 97.9h.01M143.0 98.0h.01M141.1 100.5h.01M142.2 103.9h.01M132.1 92.3h.01M133.9 110.7h.01M138.9 100.1h.01M134.8 108.1h.01M139.1 89.0h.01M135.8 92.9h.01M140.0 94.0h.01M133.6 108.0h.01M138.9 99.4h.01M142.6 106.8h.01M142.3 104.3h.01M135.4 94.1h.01M136.7 98.8h.01M137.5 98.3h.01M134.8 100.3h.01M136.8 105.5h.01M142.5 93.4h.01M142.0 108.2h.01M134.3 100.4h.01M139.6 98.5h.01M143.5 104.2h.01M135.0 97.1h.01M142.1 104.2h.01M141.3 99.5h.01M142.6 100.6h.01M131.1 95.7h.01M143.0 95.6h.01M143.6 107.2h.01M133.2 102.3h.01M138.9 99.7h.01M131.1 105.2h.01M138.4 108.2h.01M139.9 95.2h.01M138.6 110.5h.01M139.3 90.8h.01M134.0 102.8h.01M131.5 97.3h.01M141.5 96.7h.01M130.1 100.8h.01M133.1 102.7h.01M133.2 100.2h.01M141.0 104.3h.01M136.2 108.7h.01M141.6 95.3h.01M139.4 96.9h.01M142.0 102.8h.01M141.1 99.6h.01M142.5 97.7h.01M133.8 101.2h.01M134.9 104.1h.01M138.7 108.1h.01M138.1 108.6h.01M140.9 106.3h.01M141.4 98.5h.01M134.4 107.7h.01M131.5 104.4h.01M140.3 95.4h.01M139.4 108.5h.01M133.8 96.7h.01M130.5 103.8h.01M130.0 104.3h.01M133.7 108.1h.01M133.7 104.1h.01M133.9 109.3h.01M131.9 93.2h.01M133.6 92.3h.01M134.9 95.6h.01M131.1 102.3h.01M132.8 99.5h.01M136.3 93.6h.01M141.9 96.0h.01M142.4 102.7h.01M135.6 99.6h.01M131.6 105.1h.01M133.7 100.6h.01M139.4 107.4h.01M135.7 105.1h.01M138.0 101.2h.01M140.4 98.4h.01M139.3 96.4h.01M142.2 97.7h.01M131.0 98.9h.01M134.1 98.8h.01M130.4 95.6h.01M137.3 100.6h.01M138.5 94.3h.01M133.6 107.2h.01M130.6 101.8h.01M136.6 93.8h.01M132.2 98.1h.01M132.6 96.5h.01M135.4 95.3h.01M143.4 100.7h.01M135.0 95.6h.01M139.8 95.1h.01M135.1 104.4h.01M135.6 99.5h.01M131.8 104.1h.01M132.4 100.5h.01M140.9 101.0h.01M136.0 97.7h.01M133.9 99.8h.01M144.0 100.4h.01M142.4 98.0h.01M133.7 106.2h.01M136.1 96.6h.01M138.0 96.5h.01M132.2 98.2h.01M136.0 105.8h.01M134.0 106.9h.01M141.5 102.0h.01M131.2 98.6h.01M144.2 103.4h.01M133.3 106.3h.01M134.6 96.7h.01M130.8 103.8h.01M143.0 104.3h.01M141.7 99.2h.01M131.3 94.7h.01M137.4 103.2h.01M135.4 96.2h.01M138.5 98.6h.01M134.6 101.3h.01M142.7 109.1h.01M133.3 94.8h.01M140.8 93.5h.01M133.6 101.7h.01M139.0 108.5h.01M136.3 92.6h.01M137.4 103.3h.01M137.2 92.0h.01M138.8 101.8h.01M131.5 94.6h.01M130.6 103.3h.01M143.8 98.8h.01M133.4 103.2h.01M134.9 96.9h.01M133.9 93.3h.01M139.1 95.8h.01M143.9 97.3h.01M135.7 95.2h.01M134.5 95.8h.01M134.8 101.7h.01M130.2 99.9h.01M131.2 106.2h.01M130.5 100.9h.01M134.4 101.3h.01M144.1 104.4h.01M132.0 106.7h.01M137.7 102.5h.01M134.0 92.7h.01M130.3 100.7h.01M140.0 91.9h.01M131.6 102.9h.01M132.8 93.0h.01M141.6 101.7h.01M133.6 95.0h.01M132.8 106.7h.01M142.5 93.7h.01M132.6 103.6h.01M141.8 104.3h.01M134.2 97.2h.01M138.0 102.6h.01M134.3 98.0h.01M134.7 97.0h.01M143.2 96.6h.01M139.6 90.4h.01M132.3 103.9h.01M139.7 93.6h.01M131.9 95.8h.01M134.5 94.1h.01M131.0 106.2h.01M139.1 101.7h.01M140.3 100.4h.01M140.6 102.4h.01M140.9 106.1h.01M135.5 103.0h.01M132.3 101.0h.01M129.9 97.8h.01M136.1 101.4h.01M141.5 109.7h.01M136.3 102.2h.01M138.7 100.4h.01M142.6 107.6h.01M141.1 93.1h.01M139.7 93.1h.01M138.3 106.0h.01M133.5 108.5h.01M139.8 93.0h.01M136.4 91.3h.01M138.2 89.6h.01M133.0 102.5h.01M142.8 94.7h.01M132.1 101.9h.01M141.2 103.8h.01M139.5 90.4h.01M132.2 107.0h.01M142.2 96.9h.01M139.1 101.7h.01M138.5 98.9h.01M133.5 98.4h.01M134.5 99.8h.01M135.6 87.9h.01M136.2 99.4h.01M139.1 97.1h.01M140.3 98.6h.01M139.8 95.2h.01M134.8 98.0h.01M134.6 104.6h.01M139.8 109.8h.01M143.7 95.9h.01M133.2 107.1h.01M135.7 103.1h.01M134.2 94.1h.01M140.0 90.5h.01M130.5 107.5h.01M142.6 96.6h.01M140.4 94.3h.01M134.6 103.6h.01M139.6 104.2h.01M135.2 107.6h.01M139.0 101.0h.01M135.9 97.9h.01M143.0 98.0h.01M136.4 96.4h.01M141.5 103.3h.01M138.0 108.7h.01M135.5 93.6h.01M143.7 99.3h.01M132.6 98.8h.01M141.9 93.3h.01M144.0 102.4h.01M140.6 109.4h.01M138.6 97.1h.01M138.8 104.6h.01M142.8 107.8h.01M136.0 97.0h.01M141.3 108.0h.01M141.0 105.4h.01M142.2 103.5h.01M136.2 96.0h.01M139.2 97.2h.01M132.0 93.7h.01M131.2 107.8h.01M131.5 106.2h.01M139.9 94.0h.01M134.9 101.3h.01M142.9 96.1h.01M130.9 105.4h.01M132.2 102.1h.01M141.4 108.7h.01M135.8 104.8h.01M133.5 94.0h.01M141.0 98.5h.01M133.1 102.3h.01M143.3 108.1h.01M133.8 98.7h.01M142.1 95.7h.01M136.7 97.1h.01M143.2 96.7h.01M134.2 95.3h.01M143.1 98.1h.01M134.2 97.0h.01M136.2 101.2h.01M138.8 107.5h.01M137.7 109.1h.01M139.3 95.2h.01M139.8 101.9h.01M133.6 103.7h.01M130.3 95.1h.01M140.2 101.3h.01M138.4 95.6h.01M137.9 98.7h.01M136.9 98.0h.01M143.0 106.4h.01M134.1 96.9h.01M143.0 101.4h.01M132.2 102.5h.01M139.8 98.4h.01M142.9 108.0h.01M132.0 98.2h.01M140.9 98.2h.01M133.7 104.3h.01M130.6 100.9h.01M136.0 104.6h.01M139.7 95.4h.01M134.1 94.7h.01M143.6 104.8h.01M129.8 99.3h.01M133.8 107.1h.01M134.7 96.7h.01M135.1 97.0h.01M134.3 107.2h.01M130.1 98.7h.01M133.3 94.3h.01M133.6 96.4h.01M139.5 105.2h.01M135.2 97.3h.01M140.2 101.9h.01M136.2 106.5h.01M134.7 103.1h.01M132.1 105.4h.01M134.2 109.8h.01M142.8 97.6h.01M136.4 107.1h.01M134.3 101.8h.01M133.0 95.7h.01M142.0 94.8h.01M139.9 98.0h.01M139.6 94.8h.01M141.4 105.2h.01M133.2 102.2h.01M139.4 92.5h.01M131.1 107.4h.01M139.4 102.2h.01M134.4 99.9h.01M139.1 95.1h.01M133.0 100.3h.01M135.1 107.9h.01M139.5 102.5h.01M143.4 100.5h.01M134.7 102.8h.01M132.2 102.0h.01M131.5 103.0h.01M139.4 95.7h.01M142.2 94.9h.01M134.0 90.1h.01M134.8 106.9h.01M135.3 87.1h.01M143.5 96.6h.01M131.7 102.5h.01M130.8 100.8h.01M140.6 107.8h.01M144.2 96.5h.01M140.5 94.3h.01M131.7 95.5h.01M135.7 100.9h.01M137.3 97.9h.01M142.8 99.9h.01M140.7 103.6h.01M130.7 98.0h.01M136.3 103.9h.01M138.9 90.8h.01M137.6 102.2h.01M139.2 108.2h.01M143.1 108.7h.01M143.9 102.0h.01M140.5 109.5h.01M138.0 96.9h.01M134.2 97.8h.01M132.1 100.1h.01M132.2 100.9h.01M139.0 106.1h.01M140.9 100.0h.01M140.7 92.4h.01M143.0 104.2h.01M134.0 96.5h.01M134.8 107.6h.01M132.6 96.3h.01M137.6 97.5h.01M142.9 94.9h.01M140.7 97.8h.01M136.1 102.3h.01M132.1 97.5h.01M140.5 92.3h.01M142.8 102.3h.01M140.9 104.9h.01M134.3 94.3h.01M135.4 99.8h.01M138.0 93.3h.01M139.8 91.0h.01M133.3 99.2h.01M135.8 97.4h.01M131.0 107.4h.01M133.9 90.5h.01M133.3 103.4h.01M141.5 104.8h.01M139.5 99.7h.01M136.7 100.9h.01M135.7 96.9h.01M133.6 96.9h.01M140.0 92.8h.01M136.8 107.6h.01M133.1 91.9h.01M138.7 95.1h.01M144.2 104.8h.01M130.8 100.1h.01M144.2 101.2h.01M131.2 97.7h.01M134.4 95.6h.01M143.8 105.7h.01M143.0 94.2h.01M132.5 97.5h.01M140.2 105.4h.01" stroke="#f01848" stroke-width="1.20" stroke-linecap="round" opacity="1.0"/>
<path d="M153.70 76.70 L153.76 77.27 L153.83 77.85 L153.89 78.42 L153.96 78.99 L154.02 79.56 L154.09 80.14 L154.15 80.71 L154.22 81.28 L154.28 81.86 L154.33 82.43 L154.37 83.00 L154.40 83.57 L154.44 84.15 L154.48 84.72 L154.52 85.29 L154.56 85.87 L154.60 86.44 L154.63 87.01 L154.67 87.58 L154.78 88.16 L155.07 88.73 L155.35 89.30 L155.64 89.88 L155.92 90.45 L156.22 91.02 L156.70 91.59 L157.17 92.17 L157.65 92.74 L158.13 93.31 L158.61 93.89 L158.88 94.46 L159.11 95.03 L159.34 95.61 L159.57 96.18 L159.80 96.75 L160.03 97.32 L160.26 97.90 L160.49 98.47 L160.70 99.04 L160.72 99.62 L160.75 100.19 L160.77 100.76 L160.79 101.33 L160.82 101.91 L160.84 102.48 L160.86 103.05 L160.89 103.63 L160.79 104.20 L160.48 104.77 L160.16 105.34 L159.85 105.92 L159.53 106.49 L159.22 107.06 L158.90 107.64 L158.28 108.21 L157.14 108.78 L155.99 109.35 L154.85 109.93 L153.70 110.50 L153.70 110.50 L152.55 109.93 L151.41 109.35 L150.26 108.78 L149.12 108.21 L148.50 107.64 L148.18 107.06 L147.87 106.49 L147.55 105.92 L147.24 105.34 L146.92 104.77 L146.61 104.20 L146.51 103.63 L146.54 103.05 L146.56 102.48 L146.58 101.91 L146.61 101.33 L146.63 100.76 L146.65 100.19 L146.68 99.62 L146.70 99.04 L146.91 98.47 L147.14 97.90 L147.37 97.32 L147.60 96.75 L147.83 96.18 L148.06 95.61 L148.29 95.03 L148.52 94.46 L148.79 93.89 L149.27 93.31 L149.75 92.74 L150.23 92.17 L150.70 91.59 L151.18 91.02 L151.48 90.45 L151.76 89.88 L152.05 89.30 L152.33 88.73 L152.62 88.16 L152.73 87.58 L152.77 87.01 L152.80 86.44 L152.84 85.87 L152.88 85.29 L152.92 84.72 L152.96 84.15 L153.00 83.57 L153.03 83.00 L153.07 82.43 L153.12 81.86 L153.18 81.28 L153.25 80.71 L153.31 80.14 L153.38 79.56 L153.44 78.99 L153.51 78.42 L153.57 77.85 L153.64 77.27 L153.70 76.70Z" fill="#f77b86" stroke="#f5a31a" stroke-width="0.9" stroke-linejoin="round"/>
<path d="M159.5 102.1h.01M159.6 98.8h.01M160.3 104.8h.01M146.9 102.4h.01M154.8 96.0h.01M155.6 100.1h.01M154.2 103.6h.01M149.2 102.5h.01M159.7 101.3h.01M154.2 104.3h.01M148.5 94.1h.01M152.6 90.7h.01M155.2 89.4h.01M149.4 102.3h.01M157.6 99.7h.01M149.8 105.3h.01M153.0 108.1h.01M151.5 93.2h.01M148.5 98.3h.01M159.1 99.1h.01M151.4 101.1h.01M156.7 107.1h.01M159.3 101.9h.01M150.8 97.0h.01M146.6 102.9h.01M154.0 98.2h.01M149.9 101.4h.01M157.4 92.5h.01M148.9 101.4h.01M156.8 100.3h.01M146.9 102.3h.01M150.4 101.3h.01M149.4 101.2h.01M158.7 104.2h.01M154.8 94.1h.01M156.0 104.0h.01M147.7 102.3h.01M151.0 102.8h.01M159.3 99.1h.01M154.8 92.5h.01M156.8 107.1h.01M153.7 105.5h.01M151.0 108.9h.01M159.6 99.7h.01M150.7 106.2h.01M149.4 105.9h.01M155.8 101.2h.01M148.5 106.5h.01M157.2 105.1h.01M155.9 93.1h.01M152.4 94.1h.01M153.9 99.3h.01M153.5 100.5h.01M147.6 102.7h.01M147.7 101.1h.01M151.9 106.4h.01M146.9 105.1h.01M150.4 93.6h.01M151.9 97.9h.01M155.3 106.6h.01M153.9 104.1h.01M151.9 86.1h.01M157.4 102.4h.01M157.0 93.7h.01M156.0 100.6h.01M155.1 109.4h.01M151.4 92.2h.01M158.2 105.6h.01M154.9 100.0h.01M150.8 109.0h.01M156.1 106.2h.01M154.8 91.7h.01M154.7 102.3h.01M153.3 105.7h.01M157.1 96.5h.01M157.0 103.5h.01M154.8 96.9h.01M148.4 95.4h.01M150.1 97.9h.01M160.0 97.1h.01M152.7 108.3h.01M155.4 95.9h.01M148.5 99.2h.01M154.7 100.3h.01M155.3 102.9h.01M156.5 108.3h.01M160.4 101.8h.01M153.1 105.9h.01M151.6 93.9h.01M148.8 102.9h.01M151.7 95.0h.01M153.0 106.1h.01M160.3 102.1h.01M153.8 94.1h.01M156.0 106.0h.01M157.0 101.0h.01M146.8 100.0h.01M151.2 92.4h.01M154.2 106.8h.01M147.4 101.0h.01M149.2 106.1h.01M156.0 92.1h.01M156.2 103.2h.01M148.7 98.7h.01M148.3 100.6h.01M158.6 102.6h.01M153.3 105.1h.01M151.5 107.2h.01M156.2 94.2h.01M155.9 106.0h.01M158.9 93.0h.01M151.6 84.1h.01M157.2 97.5h.01M153.2 97.2h.01M150.1 104.5h.01M153.7 101.3h.01M146.9 98.9h.01M148.5 105.0h.01M149.2 107.4h.01M156.5 102.5h.01M156.7 102.7h.01M150.4 106.2h.01M151.2 97.4h.01M155.8 109.2h.01M152.4 95.0h.01M152.6 90.3h.01M159.7 105.2h.01M154.2 94.9h.01M154.2 97.7h.01M155.3 100.5h.01M148.9 93.5h.01M152.3 98.8h.01M157.7 98.5h.01M155.2 92.7h.01M159.3 102.0h.01M151.0 99.7h.01M153.4 94.4h.01M150.0 104.9h.01M149.3 99.1h.01M151.3 88.4h.01M149.9 106.5h.01M148.9 99.3h.01M153.1 92.9h.01M152.5 97.4h.01M157.1 96.7h.01M155.8 90.4h.01M154.3 97.7h.01M155.5 94.6h.01M153.3 95.7h.01M151.0 103.2h.01M153.7 94.2h.01M154.4 86.8h.01M159.1 95.1h.01M157.9 97.5h.01M148.7 94.2h.01M155.7 101.6h.01M148.6 106.4h.01M155.3 105.3h.01M158.7 99.9h.01M156.5 104.5h.01M148.4 104.6h.01M152.6 102.2h.01M149.5 104.6h.01M155.9 98.2h.01M156.7 104.1h.01M157.1 100.9h.01M151.7 104.3h.01M155.1 104.3h.01M151.2 91.6h.01M159.5 105.2h.01M156.8 89.6h.01M147.0 99.4h.01M154.6 102.2h.01M156.6 105.5h.01M151.6 91.1h.01M147.0 103.1h.01M147.0 98.0h.01M155.2 90.1h.01M147.1 97.7h.01M152.1 102.7h.01M156.4 92.3h.01M147.9 105.8h.01M155.2 90.3h.01M152.8 96.0h.01M152.2 97.9h.01M153.6 91.9h.01M151.9 107.2h.01M157.6 108.0h.01M155.7 106.8h.01M152.3 95.5h.01M148.6 105.2h.01M153.8 97.7h.01M160.3 97.5h.01M159.3 102.9h.01M149.4 92.8h.01M153.0 81.8h.01M153.3 107.9h.01M152.4 98.5h.01M148.3 104.6h.01M149.3 99.8h.01M154.0 92.6h.01M156.8 100.2h.01M156.3 94.9h.01M155.3 92.2h.01M154.7 86.3h.01M146.7 98.9h.01M150.1 96.6h.01M151.5 98.2h.01M151.1 108.0h.01M152.2 105.2h.01M152.3 103.6h.01M151.7 96.0h.01M146.7 104.0h.01M159.0 103.6h.01M160.2 100.8h.01M155.2 96.2h.01M150.9 95.5h.01M153.0 99.1h.01M159.0 96.9h.01M154.9 106.4h.01M156.5 100.0h.01M156.6 103.1h.01M159.7 106.4h.01M155.9 102.7h.01M149.2 94.2h.01M153.8 97.9h.01M158.8 107.0h.01M150.9 90.3h.01M148.2 95.8h.01M147.3 102.3h.01M148.1 106.1h.01M149.2 105.5h.01M157.6 103.9h.01M155.1 103.4h.01M156.9 98.3h.01M154.2 91.4h.01M151.6 102.4h.01M156.3 92.4h.01M149.1 104.9h.01M152.1 93.7h.01M153.2 87.9h.01M154.8 110.1h.01M156.7 94.5h.01M154.7 101.6h.01M154.6 91.6h.01M151.7 108.6h.01M154.2 85.7h.01M158.6 102.8h.01M152.9 106.2h.01M157.0 97.3h.01M153.7 83.1h.01M153.8 89.7h.01M154.6 91.5h.01M148.6 104.3h.01M149.6 100.9h.01M149.6 106.7h.01M154.2 102.3h.01M156.1 101.8h.01M156.2 95.5h.01M150.0 96.1h.01M152.2 109.0h.01M149.6 107.6h.01M155.9 99.5h.01M152.6 104.8h.01M150.4 103.7h.01M150.2 96.7h.01M159.2 95.3h.01M153.4 104.3h.01M159.0 108.0h.01M152.1 109.0h.01M149.8 98.3h.01M155.5 91.5h.01M159.3 97.9h.01M150.8 91.8h.01M157.0 108.7h.01M154.9 97.3h.01M158.9 105.9h.01M159.3 96.0h.01M152.9 108.1h.01M160.0 100.4h.01M149.4 105.6h.01M152.9 101.8h.01M152.9 104.4h.01M151.4 91.9h.01M153.5 92.9h.01M157.2 98.2h.01M148.8 106.4h.01M153.5 107.0h.01M154.1 103.6h.01M149.4 102.2h.01M154.8 90.4h.01M150.7 106.8h.01M154.7 102.8h.01M154.7 102.0h.01M156.9 105.7h.01M159.2 95.9h.01M159.8 102.3h.01M153.7 103.3h.01M150.3 104.2h.01M151.2 92.5h.01M157.8 103.7h.01M156.8 107.0h.01M157.9 102.5h.01M157.7 95.3h.01M154.5 107.2h.01M157.9 93.3h.01M155.7 96.5h.01M155.4 105.9h.01M158.5 101.9h.01M155.8 98.1h.01M157.4 105.0h.01M159.9 102.6h.01M152.6 93.2h.01M156.9 96.1h.01M151.0 105.1h.01M153.5 105.2h.01M157.1 92.3h.01M160.4 100.8h.01M160.1 103.8h.01M157.2 98.0h.01M156.7 91.6h.01M159.1 99.2h.01M155.0 107.6h.01M150.0 103.7h.01M147.8 95.6h.01M157.1 105.8h.01M157.4 103.2h.01M156.7 97.1h.01M154.7 97.0h.01M155.6 95.3h.01M156.8 99.2h.01M154.1 98.5h.01M155.8 97.3h.01M150.3 106.4h.01M154.2 104.2h.01M155.5 100.0h.01M154.4 108.4h.01M150.2 103.3h.01M149.4 107.6h.01M155.8 105.5h.01M148.1 102.4h.01M157.9 103.3h.01M149.3 105.0h.01M157.6 104.3h.01M151.9 106.8h.01M159.1 98.0h.01M149.9 98.6h.01M149.4 96.2h.01M155.8 106.8h.01M157.0 106.8h.01M151.6 99.8h.01M153.3 98.9h.01M155.5 94.0h.01M151.8 108.6h.01M152.1 103.2h.01M154.4 108.5h.01M150.9 102.5h.01M148.7 100.5h.01M159.5 104.3h.01M149.0 106.5h.01M160.0 106.1h.01M158.4 97.7h.01M152.9 100.6h.01M157.9 107.9h.01M147.5 101.0h.01M154.6 105.0h.01M151.6 100.8h.01M151.0 105.4h.01M157.1 91.8h.01M151.5 79.7h.01M157.3 92.5h.01M147.7 99.4h.01M156.2 98.2h.01M151.4 108.0h.01M153.9 109.7h.01M158.5 93.8h.01M157.7 105.4h.01M148.0 101.0h.01M151.1 105.3h.01M153.5 98.3h.01" stroke="#f2443c" stroke-width="1.20" stroke-linecap="round" opacity="1.0"/>
<path d="M170.00 39.00 L171.03 40.03 L172.07 41.07 L173.04 42.10 L173.43 43.14 L173.81 44.17 L174.20 45.20 L174.59 46.24 L174.98 47.27 L175.36 48.31 L175.75 49.34 L176.06 50.37 L176.21 51.41 L176.37 52.44 L176.52 53.47 L176.68 54.51 L176.83 55.54 L176.99 56.58 L177.14 57.61 L177.30 58.64 L177.45 59.68 L177.46 60.71 L177.41 61.75 L177.36 62.78 L177.31 63.81 L177.26 64.85 L177.21 65.88 L177.15 66.92 L177.10 67.95 L177.05 68.98 L177.00 70.02 L176.89 71.05 L176.79 72.08 L176.69 73.12 L176.58 74.15 L176.48 75.19 L176.38 76.22 L176.27 77.25 L176.17 78.29 L176.07 79.32 L175.89 80.36 L175.57 81.39 L175.24 82.42 L174.92 83.46 L174.60 84.49 L174.27 85.53 L173.95 86.56 L173.63 87.59 L173.32 88.63 L173.03 89.66 L172.73 90.69 L172.43 91.73 L172.14 92.76 L171.84 93.80 L171.55 94.83 L171.24 95.86 L170.93 96.90 L170.62 97.93 L170.31 98.97 L170.00 100.00 L170.00 100.00 L169.69 98.97 L169.38 97.93 L169.07 96.90 L168.76 95.86 L168.45 94.83 L168.16 93.80 L167.86 92.76 L167.57 91.73 L167.27 90.69 L166.97 89.66 L166.68 88.63 L166.37 87.59 L166.05 86.56 L165.73 85.53 L165.40 84.49 L165.08 83.46 L164.76 82.42 L164.43 81.39 L164.11 80.36 L163.93 79.32 L163.83 78.29 L163.73 77.25 L163.62 76.22 L163.52 75.19 L163.42 74.15 L163.31 73.12 L163.21 72.08 L163.11 71.05 L163.00 70.02 L162.95 68.98 L162.90 67.95 L162.85 66.92 L162.79 65.88 L162.74 64.85 L162.69 63.81 L162.64 62.78 L162.59 61.75 L162.54 60.71 L162.55 59.68 L162.70 58.64 L162.86 57.61 L163.01 56.58 L163.17 55.54 L163.32 54.51 L163.48 53.47 L163.63 52.44 L163.79 51.41 L163.94 50.37 L164.25 49.34 L164.64 48.31 L165.02 47.27 L165.41 46.24 L165.80 45.20 L166.19 44.17 L166.57 43.14 L166.96 42.10 L167.93 41.07 L168.97 40.03 L170.00 39.00Z" fill="none" stroke="#e0506a" stroke-width="0.5" stroke-linejoin="round"/>
<path d="M165.2 73.9h.01M166.5 41.3h.01M167.6 81.5h.01M167.7 80.5h.01M172.3 88.7h.01M172.5 53.7h.01M173.4 54.4h.01M168.6 79.8h.01M169.0 66.0h.01M176.2 55.4h.01M165.8 43.3h.01M163.4 54.7h.01M163.2 72.5h.01M174.3 75.3h.01M170.3 59.7h.01M172.1 84.3h.01M172.2 65.8h.01M174.6 65.7h.01M170.4 61.9h.01M167.4 62.1h.01M164.2 60.8h.01M168.8 79.0h.01M165.5 62.3h.01M176.0 55.9h.01M173.9 62.6h.01M167.7 85.7h.01M170.2 71.5h.01M169.6 49.8h.01M171.6 62.8h.01M176.6 64.2h.01M168.0 42.0h.01M171.0 89.1h.01M170.0 84.7h.01M175.7 48.9h.01M165.9 68.3h.01M172.2 58.3h.01M164.3 55.0h.01M170.6 56.1h.01M175.0 46.5h.01M173.1 72.8h.01M163.0 60.8h.01M176.7 74.0h.01M170.5 79.7h.01M171.2 67.7h.01M176.7 59.9h.01M171.1 51.9h.01M166.1 71.6h.01M169.0 72.3h.01M173.3 76.8h.01M168.6 51.7h.01M166.5 45.6h.01M168.7 82.1h.01M164.3 70.4h.01M165.2 48.2h.01M164.8 74.0h.01M170.1 46.7h.01M167.5 70.9h.01M165.4 67.6h.01M173.3 74.0h.01M171.3 48.7h.01M173.5 85.0h.01M166.6 86.5h.01M170.9 92.8h.01M166.8 76.3h.01M169.9 59.0h.01M169.6 91.2h.01M171.2 70.3h.01M171.0 74.6h.01M175.9 72.0h.01M171.7 54.4h.01M168.2 81.9h.01M174.2 71.0h.01M165.3 54.4h.01M174.1 61.1h.01M171.0 51.4h.01M166.4 62.9h.01M171.8 93.6h.01M164.2 60.9h.01M163.1 61.6h.01M167.0 78.6h.01M170.1 48.3h.01M171.7 50.8h.01M167.5 75.2h.01M171.0 50.7h.01M176.9 70.0h.01M176.5 79.5h.01M173.2 67.7h.01M167.6 48.4h.01M169.7 54.7h.01M174.5 66.6h.01M173.6 88.7h.01M176.3 72.5h.01M168.4 72.8h.01M167.7 69.0h.01M167.6 59.0h.01M174.1 69.9h.01M174.0 41.6h.01M170.9 62.8h.01M169.3 78.2h.01M172.3 55.0h.01M168.9 71.2h.01M171.0 74.4h.01M165.9 51.3h.01M165.1 81.8h.01M168.7 55.9h.01M168.0 89.2h.01M164.8 59.8h.01M176.7 70.4h.01M171.9 87.7h.01M168.5 79.8h.01M177.2 64.6h.01M164.6 53.6h.01M167.8 70.1h.01M175.5 68.8h.01M175.4 47.6h.01M174.4 60.6h.01M166.7 85.7h.01M171.0 67.2h.01M164.1 53.7h.01M163.8 70.6h.01M175.4 63.4h.01M164.5 84.8h.01M164.1 65.0h.01M166.1 43.8h.01M172.8 52.1h.01M171.7 52.4h.01M167.3 87.3h.01M168.7 61.2h.01M176.8 59.4h.01M167.6 91.2h.01M164.0 54.7h.01M172.1 70.1h.01M166.2 87.8h.01M170.6 84.7h.01M166.7 52.2h.01M163.1 64.8h.01M172.3 56.1h.01M173.5 73.7h.01M167.4 56.0h.01M165.4 52.8h.01M176.8 56.8h.01M166.7 50.0h.01M166.5 74.3h.01M168.0 57.8h.01M166.1 61.7h.01M166.4 56.5h.01M176.4 60.9h.01M163.8 58.1h.01M175.0 59.6h.01M170.5 73.9h.01M163.7 52.4h.01M165.1 73.2h.01M172.3 59.6h.01M170.7 48.7h.01M166.6 50.8h.01M167.6 83.7h.01M174.4 45.5h.01M173.4 56.6h.01M172.0 81.2h.01M175.1 48.6h.01M166.3 54.1h.01M167.6 56.7h.01M174.3 80.5h.01M169.2 50.0h.01M169.5 87.3h.01M174.0 50.6h.01M177.2 68.3h.01M175.2 77.1h.01M173.9 68.0h.01M169.2 66.1h.01M173.1 62.9h.01M166.1 56.5h.01M168.4 95.0h.01M165.6 62.0h.01M172.6 71.4h.01M176.5 69.0h.01M172.3 88.8h.01M166.7 55.2h.01M172.1 51.1h.01M168.3 83.8h.01M174.7 65.6h.01M169.8 71.0h.01M166.4 70.4h.01M167.2 76.9h.01M164.7 80.5h.01M168.1 73.9h.01M168.8 41.2h.01M169.5 80.7h.01M171.6 45.5h.01M175.3 81.7h.01M171.9 40.1h.01M171.0 77.3h.01M168.0 70.7h.01M166.8 43.8h.01M171.2 76.5h.01M163.7 68.5h.01M164.2 50.8h.01M171.7 82.1h.01M165.2 69.2h.01M175.2 63.8h.01M171.6 87.7h.01M170.3 54.8h.01M175.9 52.2h.01M165.8 83.8h.01M167.4 52.7h.01M170.1 79.4h.01M176.5 54.6h.01M164.5 79.2h.01M171.5 62.2h.01M176.0 69.9h.01M164.9 69.7h.01M173.0 61.8h.01M172.8 66.3h.01M168.0 71.5h.01M170.5 51.5h.01M174.8 84.4h.01M169.6 79.6h.01M169.4 54.6h.01M170.9 54.8h.01M163.0 62.1h.01M174.1 77.5h.01M163.4 66.4h.01M177.1 58.8h.01M176.3 76.7h.01M174.4 53.6h.01M175.4 73.9h.01M171.6 76.4h.01M167.6 49.6h.01M171.5 67.9h.01M172.6 68.6h.01M167.0 90.5h.01M174.0 57.9h.01M167.1 63.5h.01M170.1 86.1h.01M167.0 50.8h.01M167.5 83.9h.01M175.6 61.1h.01M174.0 60.0h.01M167.3 96.1h.01M174.0 61.8h.01M176.0 55.7h.01M172.8 54.8h.01M172.7 72.9h.01M166.7 70.7h.01M172.8 55.7h.01M168.2 65.0h.01M176.2 58.1h.01M172.6 80.3h.01M167.3 59.6h.01M175.5 69.6h.01M173.0 84.0h.01M165.8 55.2h.01M167.3 87.7h.01M162.8 65.3h.01M173.8 70.7h.01M164.1 56.2h.01M166.9 73.3h.01M173.2 75.0h.01M167.2 68.5h.01M167.4 81.8h.01M163.6 64.5h.01M165.8 43.1h.01M170.8 84.8h.01M164.8 68.2h.01M176.7 70.5h.01M163.2 69.1h.01M168.1 44.8h.01M165.4 57.2h.01M174.8 48.5h.01M173.6 71.1h.01M165.2 81.1h.01M163.8 71.7h.01M164.6 79.2h.01M173.6 59.5h.01M172.4 44.0h.01M172.0 61.6h.01M169.9 52.7h.01M169.5 58.6h.01M171.3 55.9h.01M164.6 53.5h.01M174.1 72.9h.01M174.0 69.4h.01M172.4 79.5h.01M168.0 93.1h.01M166.0 55.3h.01M174.8 87.0h.01M176.0 76.4h.01M173.6 67.8h.01M172.4 90.4h.01M169.4 65.5h.01M173.7 43.7h.01M172.5 50.1h.01M169.1 58.4h.01M172.5 73.2h.01M163.9 67.8h.01M168.5 72.6h.01M173.2 42.8h.01M169.7 55.0h.01M170.8 67.5h.01M170.9 71.9h.01M176.6 62.9h.01M165.8 54.2h.01M172.7 59.0h.01M169.3 76.7h.01M166.4 74.3h.01M163.6 55.1h.01M171.1 87.3h.01M166.7 45.2h.01M171.2 56.0h.01M169.0 63.3h.01M168.8 78.5h.01M175.6 68.4h.01M164.2 71.7h.01M170.6 87.6h.01M168.7 60.7h.01M165.2 53.2h.01M168.4 61.8h.01M175.3 68.0h.01M166.1 50.9h.01M171.9 44.8h.01M166.8 75.0h.01M170.1 93.5h.01M170.5 85.2h.01M163.6 60.5h.01M174.6 63.7h.01M168.4 79.8h.01M167.8 92.6h.01M165.6 59.7h.01M174.7 87.2h.01M176.2 72.8h.01M169.6 51.1h.01M166.6 63.9h.01M171.5 40.9h.01M163.3 61.5h.01M175.2 66.9h.01M163.5 77.8h.01M163.2 60.1h.01M167.6 70.6h.01M169.4 72.0h.01M162.8 67.4h.01M166.9 69.7h.01M177.2 63.3h.01M173.9 70.0h.01M163.5 63.9h.01M174.1 84.4h.01M169.6 49.0h.01M176.0 81.6h.01M167.6 75.3h.01M168.3 41.9h.01M172.5 74.3h.01M169.8 61.1h.01M166.7 65.9h.01M170.4 65.8h.01M171.9 75.3h.01M167.2 64.9h.01M174.6 70.6h.01M173.5 54.9h.01M172.9 46.9h.01M172.3 72.3h.01M168.1 93.7h.01M172.5 48.6h.01M166.4 84.5h.01M164.6 61.0h.01M170.1 72.1h.01M165.3 56.3h.01M164.8 73.4h.01M171.4 63.1h.01M176.3 78.3h.01M163.5 58.1h.01M169.2 59.9h.01M164.1 70.5h.01M170.5 49.0h.01M170.6 91.2h.01M169.9 70.3h.01M166.2 91.2h.01M172.7 52.3h.01M170.1 74.2h.01M171.0 53.9h.01M172.0 48.5h.01M176.0 63.6h.01M169.0 64.6h.01M176.0 68.4h.01M165.2 64.0h.01M169.4 53.0h.01M165.5 72.9h.01M168.2 56.6h.01M175.9 57.3h.01M176.3 77.2h.01M169.6 73.3h.01M167.0 74.8h.01M168.1 85.3h.01M175.1 80.7h.01M169.1 54.0h.01M167.5 90.3h.01M174.9 66.2h.01M170.1 68.1h.01M168.9 57.6h.01M176.0 62.1h.01M173.6 67.6h.01M165.2 43.7h.01M176.4 74.5h.01M169.3 59.8h.01M165.5 72.9h.01M175.6 75.3h.01M168.8 69.6h.01M172.1 47.1h.01M173.6 68.0h.01M165.4 60.0h.01M176.7 74.0h.01M170.9 73.7h.01M163.5 65.5h.01M170.5 75.0h.01M163.6 51.5h.01M176.2 79.5h.01M171.5 89.9h.01M168.6 83.8h.01M173.9 78.5h.01M174.4 61.9h.01M172.0 86.7h.01M166.2 68.1h.01M164.3 54.7h.01M175.2 67.4h.01M175.0 80.0h.01M167.9 73.3h.01M168.5 80.0h.01M169.0 44.9h.01M168.0 90.1h.01M174.6 85.4h.01M170.5 66.0h.01M172.2 85.2h.01M171.4 53.5h.01M163.8 60.2h.01M164.2 52.5h.01M165.0 72.6h.01M170.0 84.7h.01M171.3 86.7h.01M176.0 48.4h.01M175.4 76.0h.01M173.5 68.2h.01M168.4 54.4h.01M168.2 83.3h.01M172.9 67.0h.01M168.4 45.7h.01M174.0 61.0h.01M173.2 73.3h.01M165.1 80.0h.01M174.2 53.8h.01M164.1 68.9h.01M167.8 48.4h.01M175.2 84.6h.01M171.3 42.4h.01M173.0 90.2h.01M176.2 67.5h.01M166.8 76.0h.01M174.2 71.8h.01M168.1 66.1h.01M163.5 62.4h.01M164.5 54.1h.01M164.6 57.6h.01M171.6 47.9h.01M172.0 56.9h.01M174.9 71.9h.01M167.0 67.7h.01M173.8 68.0h.01M166.6 67.4h.01M168.2 87.4h.01M172.0 80.1h.01M168.5 56.4h.01M177.2 68.2h.01M168.4 90.1h.01" stroke="#d01838" stroke-width="1.24" stroke-linecap="round" opacity="1.0"/>
<path d="M137.00 33.00V31.60H153.20V33.00M154.40 33.00V31.60H169.80V33.00" fill="none" stroke="#666" stroke-width="0.75"/>
<text x="144.70" y="33.59" font-size="10.5" fill="#222" text-anchor="middle" stroke="#222" stroke-width="0.2">***</text>
<text x="161.50" y="33.59" font-size="10.5" fill="#222" text-anchor="middle" stroke="#222" stroke-width="0.2">***</text>
<line x1="137.00" y1="115.30" x2="137.00" y2="117.30" stroke="#555" stroke-width="0.8"/>
<text x="143.80" y="122.40" font-size="7.8" fill="#f0245a" text-anchor="end" transform="rotate(-45 143.80 122.40)" stroke="#f0245a" stroke-width="0.2">Fzd6@P7</text>
<line x1="153.70" y1="115.30" x2="153.70" y2="117.30" stroke="#555" stroke-width="0.8"/>
<text x="162.10" y="122.40" font-size="7.8" fill="#f5a31a" text-anchor="end" transform="rotate(-45 162.10 122.40)" stroke="#f5a31a" stroke-width="0.2">Fzd6@P7_KO</text>
<line x1="170.00" y1="115.30" x2="170.00" y2="117.30" stroke="#555" stroke-width="0.8"/>
<text x="177.90" y="122.40" font-size="7.8" fill="#d21e3c" text-anchor="end" transform="rotate(-45 177.90 122.40)" stroke="#d21e3c" stroke-width="0.2">Slc39a8@P7</text>
<text x="193.90" y="68.00" font-size="7.6" fill="#222" text-anchor="middle" transform="rotate(-90 193.90 68.00)" stroke="#222" stroke-width="0.2">feature expression score</text>
<text x="247.50" y="12.00" font-size="9" fill="#222" text-anchor="middle" stroke="#222" stroke-width="0.2">Immature Fzd6 score</text>
<line x1="214.20" y1="24.00" x2="214.20" y2="116.30" stroke="#555" stroke-width="0.8"/>
<line x1="214.20" y1="116.30" x2="271.00" y2="116.30" stroke="#555" stroke-width="0.8"/>
<line x1="212.00" y1="27.50" x2="214.20" y2="27.50" stroke="#555" stroke-width="0.8"/>
<text x="211.00" y="29.50" font-size="8.2" fill="#333" text-anchor="end" stroke="#333" stroke-width="0.2">1.0</text>
<line x1="212.00" y1="72.50" x2="214.20" y2="72.50" stroke="#555" stroke-width="0.8"/>
<text x="211.00" y="74.50" font-size="8.2" fill="#333" text-anchor="end" stroke="#333" stroke-width="0.2">0.5</text>
<line x1="212.00" y1="115.30" x2="214.20" y2="115.30" stroke="#555" stroke-width="0.8"/>
<text x="211.00" y="117.30" font-size="8.2" fill="#333" text-anchor="end" stroke="#333" stroke-width="0.2">0.0</text>
<path d="M224.20 50.80 L224.32 51.77 L224.43 52.75 L224.55 53.72 L224.66 54.70 L224.75 55.67 L224.82 56.65 L224.89 57.62 L224.96 58.60 L225.03 59.57 L225.10 60.55 L225.17 61.52 L225.32 62.49 L225.57 63.47 L225.81 64.44 L226.05 65.42 L226.30 66.39 L226.54 67.37 L226.91 68.34 L227.52 69.32 L228.13 70.29 L228.74 71.27 L229.28 72.24 L229.61 73.22 L229.93 74.19 L230.25 75.16 L230.58 76.14 L230.90 77.11 L231.20 78.09 L231.25 79.06 L231.30 80.04 L231.35 81.01 L231.40 81.99 L231.45 82.96 L231.50 83.94 L231.55 84.91 L231.59 85.88 L231.64 86.86 L231.69 87.83 L231.66 88.81 L231.60 89.78 L231.55 90.76 L231.49 91.73 L231.44 92.71 L231.38 93.68 L231.33 94.66 L231.28 95.63 L231.22 96.61 L231.01 97.58 L230.68 98.55 L230.36 99.53 L230.03 100.50 L229.71 101.48 L229.38 102.45 L228.77 103.43 L227.80 104.40 L226.82 105.38 L225.89 106.35 L225.05 107.33 L224.20 108.30 L224.20 108.30 L223.35 107.33 L222.51 106.35 L221.58 105.38 L220.60 104.40 L219.63 103.43 L219.02 102.45 L218.69 101.48 L218.37 100.50 L218.04 99.53 L217.72 98.55 L217.39 97.58 L217.18 96.61 L217.12 95.63 L217.07 94.66 L217.02 93.68 L216.96 92.71 L216.91 91.73 L216.85 90.76 L216.80 89.78 L216.74 88.81 L216.71 87.83 L216.76 86.86 L216.81 85.88 L216.85 84.91 L216.90 83.94 L216.95 82.96 L217.00 81.99 L217.05 81.01 L217.10 80.04 L217.15 79.06 L217.20 78.09 L217.50 77.11 L217.82 76.14 L218.15 75.16 L218.47 74.19 L218.79 73.22 L219.12 72.24 L219.66 71.27 L220.27 70.29 L220.88 69.32 L221.49 68.34 L221.86 67.37 L222.10 66.39 L222.35 65.42 L222.59 64.44 L222.83 63.47 L223.08 62.49 L223.23 61.52 L223.30 60.55 L223.37 59.57 L223.44 58.60 L223.51 57.62 L223.58 56.65 L223.65 55.67 L223.74 54.70 L223.85 53.72 L223.97 52.75 L224.08 51.77 L224.20 50.80Z" fill="none" stroke="#f4789a" stroke-width="0.5" stroke-linejoin="round"/>
<path d="M227.0 77.9h.01M218.9 99.2h.01M228.9 98.6h.01M222.5 75.3h.01M217.4 82.0h.01M228.2 86.5h.01M221.6 70.6h.01M231.5 82.8h.01M230.3 95.4h.01M229.8 95.8h.01M229.2 74.9h.01M218.0 80.4h.01M217.4 79.2h.01M222.8 93.0h.01M223.2 74.0h.01M223.3 104.3h.01M225.4 73.0h.01M228.5 87.6h.01M228.4 92.6h.01M229.3 102.7h.01M226.8 90.8h.01M229.3 98.9h.01M218.1 87.5h.01M217.4 77.9h.01M223.5 83.5h.01M229.9 90.2h.01M222.5 87.4h.01M218.6 95.7h.01M218.6 88.0h.01M220.2 82.7h.01M229.6 87.3h.01M221.7 88.3h.01M226.3 61.3h.01M230.6 80.7h.01M228.3 89.0h.01M230.4 93.7h.01M220.6 85.0h.01M219.8 94.8h.01M220.3 87.3h.01M217.1 83.2h.01M230.4 77.9h.01M220.0 96.8h.01M225.8 101.4h.01M221.1 94.1h.01M224.8 78.1h.01M223.3 93.2h.01M227.5 87.3h.01M220.5 101.3h.01M223.0 59.9h.01M219.0 95.7h.01M221.6 86.1h.01M228.7 98.8h.01M231.1 90.2h.01M221.4 60.9h.01M229.3 92.8h.01M227.7 87.7h.01M218.2 78.1h.01M219.9 74.0h.01M229.6 83.8h.01M219.6 88.8h.01M230.3 85.8h.01M224.5 64.2h.01M230.5 75.0h.01M224.3 92.5h.01M218.7 87.5h.01M225.7 94.7h.01M223.4 83.5h.01M218.0 78.8h.01M228.8 96.3h.01M229.9 78.3h.01M228.8 70.1h.01M226.3 82.6h.01M225.4 85.2h.01M220.0 77.1h.01M229.7 102.7h.01M227.6 77.9h.01M226.3 74.0h.01M227.1 91.8h.01M228.6 74.7h.01M221.9 80.5h.01M218.5 83.6h.01M231.3 79.5h.01M217.3 91.9h.01M221.3 74.4h.01M224.1 91.4h.01M218.6 73.6h.01M221.4 88.8h.01M227.7 104.3h.01M226.0 95.3h.01M225.2 102.1h.01M217.0 88.2h.01M223.3 75.6h.01M218.7 82.9h.01M222.6 95.8h.01M222.8 74.4h.01M223.1 91.7h.01M221.5 81.0h.01M227.8 100.6h.01M223.7 81.8h.01M230.1 81.3h.01M222.0 79.0h.01M218.9 87.8h.01M222.5 102.1h.01M229.8 88.3h.01M222.2 94.2h.01M229.0 88.0h.01M226.4 72.4h.01M220.6 89.6h.01M219.6 90.2h.01M218.4 89.3h.01M223.5 79.8h.01M227.0 78.9h.01M221.2 81.2h.01M227.7 67.5h.01M217.9 75.4h.01M228.3 80.4h.01M219.3 86.4h.01M230.5 100.6h.01M218.3 92.6h.01M230.5 87.0h.01M222.8 93.7h.01M221.0 84.8h.01M220.0 68.8h.01M220.1 92.5h.01M222.5 93.6h.01M230.6 91.6h.01M230.6 98.4h.01M218.1 95.8h.01M225.1 97.4h.01M219.9 69.7h.01M221.9 107.2h.01M225.9 89.7h.01M224.6 89.7h.01M230.1 91.2h.01M230.0 79.2h.01M219.3 80.5h.01M226.0 99.0h.01M228.8 90.2h.01M227.2 103.1h.01M225.1 77.5h.01M224.4 89.3h.01M225.3 90.1h.01M223.5 68.5h.01M225.2 90.9h.01M229.9 82.9h.01M222.0 84.8h.01M223.4 75.8h.01M223.3 89.4h.01M229.6 91.9h.01M220.8 99.4h.01M223.3 97.1h.01M226.6 104.1h.01M223.2 104.1h.01M229.4 92.4h.01M224.7 80.0h.01M218.2 88.2h.01M222.7 72.3h.01M218.9 89.0h.01M223.3 80.6h.01M222.2 88.0h.01M221.9 95.0h.01M227.5 70.8h.01M229.4 99.7h.01M226.3 68.4h.01M228.2 87.3h.01M229.8 77.7h.01M227.7 68.6h.01M219.4 86.1h.01M229.9 79.3h.01M220.5 71.1h.01M221.0 97.2h.01M228.4 77.7h.01M219.8 101.7h.01M231.1 89.6h.01M230.5 82.4h.01M219.2 69.9h.01M226.1 98.9h.01M229.3 73.2h.01M224.8 95.4h.01M224.8 87.6h.01M225.5 84.8h.01M224.8 71.1h.01M225.4 83.7h.01M225.4 64.2h.01M230.8 96.1h.01M218.1 93.6h.01M220.9 74.3h.01M216.8 87.1h.01M218.4 76.0h.01M219.9 94.1h.01M229.6 75.9h.01M221.7 75.8h.01M225.7 79.6h.01M222.2 103.2h.01M231.2 96.2h.01M219.7 84.1h.01M222.7 96.7h.01M222.3 81.5h.01M220.4 76.6h.01M218.6 99.8h.01M223.3 68.4h.01M219.9 97.0h.01M218.6 102.5h.01M228.7 71.9h.01M222.1 98.8h.01M217.2 96.1h.01M225.2 67.9h.01M223.9 84.9h.01M226.9 78.8h.01M222.1 83.4h.01M218.9 82.6h.01M226.2 83.3h.01M223.6 61.2h.01M229.6 79.2h.01M221.7 80.2h.01M220.1 92.0h.01M219.6 92.3h.01M220.7 94.6h.01M220.3 90.4h.01M224.5 99.2h.01M222.3 88.5h.01M231.0 80.7h.01M221.7 68.8h.01M230.6 93.7h.01M221.7 88.6h.01M224.0 75.2h.01M231.1 86.4h.01M227.5 102.2h.01M230.8 89.9h.01M224.8 81.2h.01M221.6 96.7h.01M226.8 84.4h.01M225.4 63.9h.01M219.2 71.6h.01M219.9 103.4h.01M229.4 72.5h.01M227.4 95.4h.01M226.7 67.7h.01M219.6 83.7h.01M231.1 80.5h.01M221.3 81.5h.01M220.0 72.5h.01M222.1 83.9h.01M222.0 95.0h.01M217.6 87.9h.01M228.5 74.5h.01M229.5 96.8h.01M220.1 98.7h.01M225.0 86.3h.01M229.6 81.6h.01M223.4 64.9h.01M224.3 71.3h.01M220.4 83.2h.01M223.8 73.4h.01M222.2 103.3h.01M229.0 91.8h.01M219.3 81.5h.01M217.3 89.8h.01M229.6 76.5h.01M220.0 100.0h.01M224.9 86.9h.01M227.3 92.9h.01M221.9 76.0h.01M230.6 85.5h.01M221.8 94.0h.01M219.8 83.2h.01M219.8 70.2h.01M230.1 85.5h.01M220.2 97.9h.01M230.1 86.2h.01M223.8 104.7h.01M230.7 89.1h.01M218.8 99.3h.01M227.0 67.5h.01M231.3 90.7h.01M227.3 86.8h.01M218.9 81.9h.01M230.5 100.7h.01M227.7 72.7h.01M219.9 85.9h.01M231.0 80.9h.01M219.7 103.6h.01M218.9 95.8h.01M217.5 77.0h.01M225.4 74.3h.01M223.5 65.6h.01M218.6 76.4h.01M224.1 101.2h.01M229.4 98.7h.01M218.4 96.5h.01M226.2 84.3h.01M219.3 86.0h.01M224.4 89.1h.01M221.9 96.9h.01M223.0 57.3h.01M217.6 75.7h.01M225.4 90.0h.01M223.5 73.8h.01M226.5 101.9h.01M221.3 69.5h.01M229.5 103.4h.01M217.5 77.3h.01M220.0 76.8h.01M226.3 84.1h.01M218.8 91.2h.01M221.9 103.9h.01M224.2 86.3h.01M227.6 99.3h.01M229.0 99.4h.01M222.5 104.8h.01M226.5 82.3h.01M217.1 85.8h.01M227.0 65.9h.01M226.7 82.5h.01M230.1 82.1h.01M220.6 74.2h.01M224.2 98.0h.01M227.7 79.6h.01M218.3 74.0h.01M228.3 73.2h.01M225.7 66.0h.01M228.4 94.8h.01M219.1 88.2h.01M228.4 88.2h.01M225.2 83.6h.01M220.4 103.4h.01M218.8 83.4h.01M229.5 85.5h.01M222.7 92.9h.01M221.4 101.3h.01M222.4 99.0h.01M226.6 99.6h.01M219.3 76.5h.01M220.2 102.0h.01M226.3 97.7h.01M229.9 80.9h.01M226.7 96.2h.01M229.4 102.4h.01M221.1 94.9h.01M222.1 94.7h.01M222.4 97.7h.01M222.3 99.3h.01M220.9 95.6h.01M227.4 71.2h.01M221.2 77.5h.01M223.2 74.6h.01M223.8 85.8h.01M229.2 70.3h.01M221.7 88.6h.01M226.5 101.5h.01M222.6 104.0h.01M226.7 68.8h.01M222.6 92.6h.01M218.0 74.7h.01M224.5 98.4h.01M222.9 67.8h.01M221.4 73.0h.01M221.2 80.9h.01M221.4 59.1h.01M227.6 92.0h.01M224.9 77.0h.01M226.2 93.4h.01M225.0 102.3h.01M222.4 85.8h.01M223.6 86.3h.01M224.0 106.4h.01M230.3 81.4h.01M222.2 100.0h.01M219.1 94.0h.01M221.8 61.4h.01M221.8 79.9h.01M225.3 93.7h.01M225.0 69.5h.01M227.3 98.9h.01M226.2 100.8h.01M218.2 94.5h.01M222.6 96.8h.01M222.3 89.7h.01M218.6 96.9h.01M225.5 85.4h.01M228.2 84.3h.01M217.5 92.9h.01M224.6 85.5h.01M218.7 80.8h.01M228.2 78.9h.01M225.1 84.9h.01M217.8 83.4h.01M224.4 95.1h.01M220.5 95.7h.01M220.0 96.2h.01M226.5 98.0h.01M222.8 82.4h.01M230.5 82.6h.01M230.0 97.7h.01M228.9 76.3h.01M222.9 92.9h.01M230.3 88.1h.01M217.9 91.2h.01M228.2 92.5h.01M222.1 91.6h.01M229.4 78.2h.01M220.9 65.0h.01M225.1 102.2h.01M218.5 99.2h.01M221.1 86.4h.01M225.2 91.7h.01M220.0 72.0h.01M227.1 85.9h.01M224.4 89.5h.01M220.2 93.0h.01M224.7 77.7h.01M223.6 72.5h.01M219.1 103.6h.01M227.0 98.2h.01M227.1 76.0h.01M230.0 97.5h.01M230.5 96.6h.01M222.5 76.3h.01M226.3 96.1h.01M225.8 82.6h.01" stroke="#f4587e" stroke-width="1.10" stroke-linecap="round" opacity="1.0"/>
<path d="M242.50 57.50 L242.56 58.29 L242.63 59.08 L242.69 59.86 L242.75 60.65 L242.82 61.44 L242.88 62.23 L242.94 63.02 L243.00 63.81 L243.07 64.59 L243.13 65.38 L243.20 66.17 L243.27 66.96 L243.34 67.75 L243.40 68.53 L243.47 69.32 L243.54 70.11 L243.61 70.90 L243.67 71.69 L243.91 72.47 L244.25 73.26 L244.59 74.05 L244.93 74.84 L245.52 75.63 L246.18 76.42 L246.84 77.20 L247.49 77.99 L247.85 78.78 L248.21 79.57 L248.56 80.36 L248.91 81.14 L249.27 81.93 L249.38 82.72 L249.48 83.51 L249.57 84.30 L249.66 85.08 L249.75 85.87 L249.84 86.66 L249.94 87.45 L249.97 88.24 L249.85 89.03 L249.74 89.81 L249.63 90.60 L249.52 91.39 L249.40 92.18 L249.29 92.97 L249.18 93.75 L249.07 94.54 L248.77 95.33 L248.22 96.12 L247.67 96.91 L247.11 97.69 L246.56 98.48 L246.01 99.27 L245.46 100.06 L244.86 100.85 L244.27 101.64 L243.68 102.42 L243.09 103.21 L242.50 104.00 L242.50 104.00 L241.91 103.21 L241.32 102.42 L240.73 101.64 L240.14 100.85 L239.54 100.06 L238.99 99.27 L238.44 98.48 L237.89 97.69 L237.33 96.91 L236.78 96.12 L236.23 95.33 L235.93 94.54 L235.82 93.75 L235.71 92.97 L235.60 92.18 L235.48 91.39 L235.37 90.60 L235.26 89.81 L235.15 89.03 L235.03 88.24 L235.06 87.45 L235.16 86.66 L235.25 85.87 L235.34 85.08 L235.43 84.30 L235.52 83.51 L235.62 82.72 L235.73 81.93 L236.09 81.14 L236.44 80.36 L236.79 79.57 L237.15 78.78 L237.51 77.99 L238.16 77.20 L238.82 76.42 L239.48 75.63 L240.07 74.84 L240.41 74.05 L240.75 73.26 L241.09 72.47 L241.33 71.69 L241.39 70.90 L241.46 70.11 L241.53 69.32 L241.60 68.53 L241.66 67.75 L241.73 66.96 L241.80 66.17 L241.87 65.38 L241.93 64.59 L242.00 63.81 L242.06 63.02 L242.12 62.23 L242.18 61.44 L242.25 60.65 L242.31 59.86 L242.37 59.08 L242.44 58.29 L242.50 57.50Z" fill="#f77b86" stroke="#f5a31a" stroke-width="0.9" stroke-linejoin="round"/>
<path d="M242.2 75.7h.01M237.9 92.0h.01M248.7 82.8h.01M238.8 85.7h.01M238.7 89.8h.01M237.1 87.7h.01M248.3 83.1h.01M247.4 95.8h.01M244.0 78.3h.01M242.9 89.8h.01M243.5 80.5h.01M241.2 98.0h.01M246.5 97.4h.01M243.3 92.1h.01M246.7 96.4h.01M245.1 93.0h.01M244.9 90.9h.01M244.7 93.2h.01M245.5 97.3h.01M246.5 81.3h.01M244.9 91.8h.01M240.3 80.7h.01M239.2 86.4h.01M238.4 84.0h.01M247.3 90.5h.01M242.3 90.4h.01M237.0 96.6h.01M243.8 94.7h.01M245.8 76.7h.01M247.6 80.2h.01M245.7 74.7h.01M247.4 92.3h.01M238.1 84.1h.01M242.6 100.1h.01M245.1 81.5h.01M243.9 98.2h.01M240.6 93.0h.01M236.4 92.7h.01M247.9 90.0h.01M245.8 95.9h.01M247.3 82.2h.01M241.1 95.3h.01M239.6 96.5h.01M247.2 89.7h.01M244.6 90.6h.01M244.7 81.6h.01M236.0 87.3h.01M237.1 89.0h.01M246.1 83.8h.01M245.3 74.9h.01M241.1 98.7h.01M247.3 94.0h.01M238.2 84.0h.01M243.6 88.1h.01M240.4 89.3h.01M242.8 98.7h.01M238.3 89.1h.01M240.9 92.1h.01M242.0 93.8h.01M243.4 77.6h.01M238.4 88.7h.01M243.6 97.6h.01M238.8 94.3h.01M247.4 97.5h.01M239.5 79.8h.01M237.4 94.0h.01M239.5 82.9h.01M243.3 96.2h.01M241.8 94.1h.01M244.7 84.9h.01M237.1 89.1h.01M241.3 86.6h.01M243.1 98.0h.01M249.1 88.1h.01M246.3 77.0h.01M243.5 88.4h.01M241.4 71.1h.01M238.2 79.0h.01M244.3 87.7h.01M243.4 86.4h.01M242.3 76.5h.01M245.5 84.3h.01M242.0 83.0h.01M246.2 82.6h.01M239.6 86.5h.01M241.3 73.9h.01M245.2 73.3h.01M243.5 82.3h.01M248.5 92.3h.01M238.0 97.9h.01M248.1 92.9h.01M238.1 77.1h.01M245.7 94.9h.01M243.5 94.5h.01M237.8 95.0h.01M239.9 92.4h.01M242.2 82.5h.01M243.3 87.4h.01M242.3 86.0h.01M239.2 74.3h.01M249.4 87.8h.01M240.5 82.8h.01M244.6 98.2h.01M248.3 90.7h.01M248.6 94.6h.01M240.4 73.3h.01M247.7 92.1h.01M242.7 93.8h.01M244.6 87.0h.01M239.2 81.8h.01M237.5 87.4h.01M243.6 88.0h.01M248.0 85.8h.01M241.4 83.2h.01M248.6 90.9h.01M244.9 96.0h.01M236.1 83.1h.01M247.6 95.8h.01M239.3 75.8h.01M238.8 91.5h.01M243.3 84.4h.01M248.7 88.5h.01M237.6 84.0h.01M240.5 77.4h.01M237.0 80.0h.01M239.5 100.7h.01M241.6 86.1h.01M243.2 98.5h.01M242.7 88.6h.01M237.5 97.2h.01M241.5 86.6h.01M242.1 101.5h.01M248.5 86.4h.01M240.2 81.6h.01M244.1 80.5h.01M242.4 76.7h.01M245.5 77.6h.01M243.9 91.4h.01M249.1 84.6h.01M244.1 96.2h.01M240.5 81.1h.01M241.7 98.0h.01M246.8 80.3h.01M240.8 82.6h.01M248.3 84.3h.01M241.7 82.6h.01M248.6 85.8h.01M238.0 93.8h.01M245.1 76.1h.01M241.8 82.0h.01M240.3 75.7h.01M243.7 93.9h.01M237.6 78.6h.01M238.3 87.1h.01M246.8 95.5h.01M242.8 83.4h.01M240.7 78.9h.01M237.8 82.5h.01M239.0 97.6h.01M239.6 77.8h.01M242.0 95.3h.01M237.1 78.9h.01M239.1 79.4h.01M241.6 92.8h.01M247.7 90.6h.01M247.4 83.7h.01M248.3 91.3h.01M239.3 79.2h.01M238.1 96.1h.01M247.3 89.0h.01M244.4 98.9h.01M239.0 89.9h.01M241.6 88.7h.01M247.8 95.4h.01M246.9 88.7h.01M246.8 77.1h.01M242.4 89.4h.01M238.4 82.8h.01M243.0 90.3h.01M240.3 102.8h.01M237.3 89.6h.01M237.3 94.9h.01M239.2 84.6h.01M240.7 68.5h.01M240.7 74.8h.01M243.6 70.8h.01M244.7 81.3h.01M236.2 82.5h.01M247.3 83.4h.01M246.8 90.3h.01M248.3 92.9h.01M238.8 92.7h.01M245.5 93.3h.01M243.2 95.3h.01M245.2 92.0h.01M248.1 86.5h.01M236.8 85.6h.01M245.9 76.9h.01M244.5 69.0h.01M244.3 95.5h.01M241.3 79.3h.01M243.0 95.6h.01M237.6 85.5h.01M244.7 76.7h.01M243.2 94.3h.01M243.5 92.4h.01M243.7 102.5h.01M236.9 88.6h.01M237.9 97.5h.01M237.2 87.5h.01M236.9 82.8h.01M246.6 84.8h.01M237.5 90.7h.01M241.1 96.3h.01M244.5 94.8h.01M240.0 98.0h.01M248.3 87.9h.01M248.2 86.9h.01M241.0 88.1h.01M243.4 97.9h.01M246.4 84.0h.01M246.8 76.3h.01M245.1 85.0h.01M241.8 90.8h.01M236.6 94.6h.01M243.9 98.7h.01M244.6 91.0h.01M245.0 94.4h.01M240.6 94.7h.01M247.1 94.3h.01M243.8 90.1h.01M241.4 98.3h.01M239.5 96.3h.01M240.1 66.6h.01M244.9 79.1h.01M241.3 101.3h.01M247.3 90.5h.01M240.4 79.5h.01M240.4 96.8h.01M245.3 77.2h.01M240.8 88.3h.01M249.1 85.3h.01M243.4 83.1h.01M248.2 82.2h.01M238.8 77.4h.01M236.3 84.8h.01M237.3 77.8h.01M247.7 89.4h.01M242.2 83.2h.01M245.6 93.2h.01M242.8 97.3h.01M248.0 95.9h.01M246.6 92.1h.01M242.2 93.5h.01M239.1 77.9h.01M241.6 99.9h.01M241.0 89.0h.01M240.5 88.0h.01M245.4 91.0h.01M246.6 80.7h.01M247.1 86.9h.01M239.1 79.0h.01M238.9 96.7h.01M244.9 87.8h.01M245.1 79.0h.01M245.0 99.2h.01M248.1 88.9h.01M240.4 93.2h.01M236.9 93.4h.01M240.8 91.4h.01M240.1 87.0h.01M237.3 83.0h.01M244.0 76.0h.01M242.7 89.8h.01M243.8 77.6h.01M247.5 85.0h.01M243.4 95.9h.01M246.8 97.0h.01M246.5 94.7h.01M242.8 80.7h.01M243.7 97.6h.01M242.2 79.5h.01M241.3 96.6h.01M245.5 93.2h.01M243.4 99.3h.01M241.5 100.6h.01M244.6 88.2h.01M243.0 83.5h.01M238.2 97.2h.01M245.8 83.3h.01M242.5 84.3h.01M248.4 89.0h.01M247.2 79.3h.01M237.2 86.4h.01M239.9 78.6h.01M245.2 86.6h.01M239.2 97.0h.01M246.1 97.1h.01M244.0 99.6h.01M248.5 91.9h.01M240.6 93.3h.01M245.1 85.8h.01M243.7 96.3h.01M244.5 78.6h.01M247.9 80.5h.01M240.8 78.9h.01M238.8 85.5h.01M245.3 76.7h.01M237.8 91.0h.01M243.1 80.4h.01M248.2 91.2h.01M247.3 89.1h.01M245.1 91.1h.01M236.0 91.5h.01M248.7 94.0h.01M241.8 86.7h.01M239.6 89.3h.01M236.8 81.8h.01M237.5 87.6h.01M238.0 77.2h.01M243.1 98.8h.01M241.3 97.4h.01M240.5 77.5h.01M244.2 67.4h.01M236.8 85.4h.01M241.4 87.9h.01M246.7 86.8h.01M246.9 84.0h.01M245.4 90.0h.01M242.8 84.9h.01M237.8 85.5h.01M241.8 73.6h.01M245.7 89.1h.01M245.3 77.5h.01M243.9 95.6h.01M248.0 86.3h.01M243.4 84.0h.01M247.2 90.8h.01M247.2 96.4h.01M238.5 80.1h.01M237.7 85.4h.01M246.4 99.7h.01M240.0 95.5h.01M241.8 85.2h.01M241.5 84.2h.01M247.0 94.4h.01M237.7 77.1h.01M242.4 78.8h.01M242.0 89.0h.01M236.9 88.8h.01M241.8 88.6h.01M247.4 93.0h.01M237.3 95.9h.01M239.1 84.8h.01M243.9 83.3h.01M243.0 95.1h.01M245.9 82.2h.01M240.7 96.0h.01M237.5 92.3h.01M240.9 94.9h.01M247.0 90.7h.01M241.8 78.3h.01M241.1 92.4h.01M246.4 87.7h.01M243.5 80.3h.01M238.6 78.0h.01M240.9 83.0h.01M247.1 78.6h.01M237.2 78.8h.01M245.8 95.5h.01M240.7 98.4h.01M244.1 101.6h.01M237.9 88.7h.01M244.7 89.2h.01M245.8 76.2h.01M237.6 78.6h.01M248.5 92.7h.01M237.0 89.2h.01M235.8 88.9h.01M246.7 93.4h.01M242.7 94.8h.01M236.3 92.5h.01M243.3 67.9h.01M242.6 88.0h.01M248.8 94.4h.01M248.6 94.4h.01M246.1 98.2h.01M242.8 88.2h.01M247.0 88.5h.01M243.9 72.5h.01M239.3 87.2h.01M245.9 89.2h.01M240.3 97.3h.01M241.6 96.1h.01M238.7 76.1h.01M238.3 79.7h.01M242.5 85.1h.01M246.9 94.0h.01M246.1 80.4h.01M238.0 93.3h.01M243.1 88.6h.01M240.2 96.2h.01M238.5 84.4h.01M240.7 85.3h.01M244.1 76.2h.01M248.4 87.5h.01M237.2 92.8h.01M239.6 87.6h.01M246.0 87.9h.01M242.5 96.6h.01M241.0 93.3h.01M246.5 83.7h.01M237.9 98.3h.01M248.4 92.0h.01M239.5 83.5h.01M246.9 80.9h.01M247.0 91.1h.01M247.2 87.8h.01M244.1 89.6h.01M244.2 79.0h.01M236.6 93.1h.01M241.6 95.5h.01M244.2 85.7h.01M239.5 83.3h.01M244.0 100.2h.01M242.9 100.4h.01M244.4 78.7h.01M247.5 88.0h.01M240.2 85.9h.01M244.1 82.5h.01M236.2 88.1h.01M246.5 90.8h.01M246.7 84.1h.01M245.0 83.5h.01M244.9 95.4h.01M243.3 90.3h.01M240.2 83.2h.01M246.0 79.9h.01M237.5 85.4h.01M243.3 98.0h.01M237.5 94.6h.01M245.6 81.1h.01M242.5 89.5h.01M243.2 65.2h.01M238.9 96.6h.01M241.7 98.5h.01M244.5 81.1h.01M241.7 84.0h.01M245.5 83.2h.01M237.5 80.4h.01M240.6 91.1h.01M237.2 84.7h.01M243.7 65.2h.01M241.2 81.4h.01M245.9 90.7h.01M245.9 91.4h.01M239.9 69.9h.01M244.2 88.2h.01M246.6 90.2h.01M248.1 90.5h.01M236.9 90.6h.01M237.2 93.4h.01M241.7 84.4h.01M245.6 95.3h.01M237.1 86.3h.01M247.0 76.1h.01M245.4 90.6h.01M236.0 84.6h.01M245.8 90.3h.01M241.5 85.1h.01M238.0 87.3h.01M244.8 88.1h.01M245.4 92.5h.01M244.1 83.6h.01M239.2 91.2h.01M238.3 81.9h.01M236.8 94.1h.01M238.2 82.2h.01M241.2 76.4h.01M241.4 74.1h.01" stroke="#f2443c" stroke-width="1.20" stroke-linecap="round" opacity="1.0"/>
<path d="M260.80 76.70 L260.90 77.24 L260.99 77.77 L261.09 78.31 L261.19 78.84 L261.29 79.38 L261.38 79.91 L261.44 80.45 L261.50 80.98 L261.55 81.52 L261.61 82.06 L261.66 82.59 L261.71 83.13 L261.77 83.66 L262.10 84.20 L262.90 84.73 L263.70 85.27 L264.51 85.81 L265.08 86.34 L265.53 86.88 L265.98 87.41 L266.42 87.95 L266.87 88.48 L267.30 89.02 L267.39 89.55 L267.48 90.09 L267.57 90.63 L267.66 91.16 L267.75 91.70 L267.84 92.23 L267.93 92.77 L268.02 93.30 L268.11 93.84 L268.20 94.37 L268.29 94.91 L268.30 95.45 L268.30 95.98 L268.30 96.52 L268.30 97.05 L268.30 97.59 L268.30 98.12 L268.30 98.66 L268.30 99.19 L268.30 99.73 L268.30 100.27 L268.30 100.80 L268.30 101.34 L268.30 101.87 L268.30 102.41 L268.30 102.94 L267.90 103.48 L267.45 104.02 L267.01 104.55 L266.56 105.09 L266.11 105.62 L265.46 106.16 L264.29 106.69 L263.13 107.23 L261.96 107.76 L260.80 108.30 L260.80 108.30 L259.64 107.76 L258.47 107.23 L257.31 106.69 L256.14 106.16 L255.49 105.62 L255.04 105.09 L254.59 104.55 L254.15 104.02 L253.70 103.48 L253.30 102.94 L253.30 102.41 L253.30 101.87 L253.30 101.34 L253.30 100.80 L253.30 100.27 L253.30 99.73 L253.30 99.19 L253.30 98.66 L253.30 98.12 L253.30 97.59 L253.30 97.05 L253.30 96.52 L253.30 95.98 L253.30 95.45 L253.31 94.91 L253.40 94.37 L253.49 93.84 L253.58 93.30 L253.67 92.77 L253.76 92.23 L253.85 91.70 L253.94 91.16 L254.03 90.63 L254.12 90.09 L254.21 89.55 L254.30 89.02 L254.73 88.48 L255.18 87.95 L255.62 87.41 L256.07 86.88 L256.52 86.34 L257.09 85.81 L257.90 85.27 L258.70 84.73 L259.50 84.20 L259.83 83.66 L259.89 83.13 L259.94 82.59 L259.99 82.06 L260.05 81.52 L260.10 80.98 L260.16 80.45 L260.22 79.91 L260.31 79.38 L260.41 78.84 L260.51 78.31 L260.61 77.77 L260.70 77.24 L260.80 76.70Z" fill="none" stroke="#f01048" stroke-width="0.5" stroke-linejoin="round"/>
<path d="M264.9 87.6h.01M255.0 102.8h.01M258.4 90.3h.01M263.4 87.4h.01M262.1 90.7h.01M259.1 95.4h.01M265.8 98.8h.01M265.4 87.3h.01M261.7 89.4h.01M258.7 85.0h.01M267.7 94.3h.01M260.7 107.9h.01M258.5 101.9h.01M255.2 103.1h.01M266.6 104.6h.01M263.5 91.2h.01M254.4 99.2h.01M256.0 94.7h.01M267.1 93.9h.01M254.4 101.2h.01M263.4 97.4h.01M261.8 98.4h.01M260.8 92.1h.01M263.2 105.2h.01M258.3 99.1h.01M262.7 98.5h.01M266.5 101.3h.01M261.8 104.8h.01M261.1 90.0h.01M262.4 91.6h.01M257.3 106.0h.01M258.3 99.6h.01M263.8 103.9h.01M261.8 93.5h.01M257.2 106.9h.01M266.3 94.9h.01M259.5 102.6h.01M257.5 104.3h.01M255.5 96.5h.01M267.2 95.1h.01M264.3 96.3h.01M258.2 89.3h.01M257.2 87.4h.01M265.2 105.1h.01M255.5 99.4h.01M261.1 88.2h.01M263.3 98.0h.01M267.0 91.7h.01M263.6 103.1h.01M255.0 93.8h.01M261.0 85.0h.01M267.0 99.6h.01M259.0 107.5h.01M254.6 100.9h.01M255.5 105.7h.01M265.1 88.6h.01M267.0 92.1h.01M260.2 101.8h.01M257.9 95.8h.01M259.4 90.3h.01M256.1 93.2h.01M259.9 92.0h.01M260.4 100.5h.01M261.3 101.3h.01M254.9 101.0h.01M267.9 99.7h.01M262.7 101.4h.01M261.8 104.7h.01M265.4 91.7h.01M254.3 92.5h.01M261.8 106.3h.01M258.9 103.7h.01M262.9 99.7h.01M267.4 101.7h.01M254.3 99.0h.01M256.1 92.6h.01M258.6 97.6h.01M261.3 91.9h.01M264.9 88.0h.01M264.2 93.3h.01M261.5 102.2h.01M256.6 89.0h.01M260.8 86.2h.01M260.0 91.1h.01M255.0 101.9h.01M266.8 103.7h.01M265.7 92.2h.01M262.2 105.8h.01M257.0 95.7h.01M262.0 99.6h.01M258.1 99.8h.01M263.0 95.4h.01M253.9 102.7h.01M262.2 103.9h.01M261.7 96.0h.01M267.0 93.0h.01M261.7 104.9h.01M265.0 100.0h.01M256.7 94.0h.01M261.5 89.6h.01M258.2 94.3h.01M268.1 95.4h.01M267.7 102.3h.01M257.0 100.4h.01M262.7 96.7h.01M254.9 103.9h.01M261.5 98.3h.01M267.8 103.4h.01M256.8 86.9h.01M263.5 87.3h.01M261.0 103.3h.01M268.2 100.6h.01M259.5 91.6h.01M265.1 88.4h.01M261.9 87.4h.01M265.1 93.0h.01M265.7 103.9h.01M262.8 90.2h.01M258.7 91.6h.01M262.2 102.9h.01M264.8 89.9h.01M265.3 91.4h.01M262.8 101.3h.01M260.1 103.0h.01M255.6 105.1h.01M256.8 86.3h.01M262.9 93.2h.01M259.2 98.8h.01M263.4 93.3h.01M261.1 100.6h.01M259.4 90.9h.01M256.4 98.7h.01M265.6 89.6h.01M257.7 89.4h.01M262.8 101.7h.01M254.8 98.8h.01M267.8 97.7h.01M255.6 94.2h.01M260.9 99.9h.01M264.5 105.4h.01M256.9 94.0h.01M262.3 86.5h.01M259.5 91.5h.01M267.7 102.1h.01M255.5 93.0h.01M256.2 101.2h.01M261.4 90.7h.01M263.5 98.1h.01M261.9 93.6h.01M256.0 96.9h.01M260.7 93.7h.01M254.3 98.2h.01M263.4 100.8h.01M258.2 100.5h.01M267.7 94.8h.01M259.8 85.8h.01M254.1 102.3h.01M254.5 88.4h.01M258.3 94.4h.01M257.2 102.0h.01M265.8 106.3h.01M265.0 100.6h.01M259.1 88.4h.01M257.9 105.7h.01M256.3 86.5h.01M257.2 86.0h.01M264.4 100.7h.01M255.0 104.5h.01M265.1 99.0h.01M259.3 103.5h.01M263.5 99.1h.01M262.2 88.0h.01M254.9 98.7h.01M264.6 101.2h.01M266.5 96.3h.01M255.0 100.4h.01M267.9 96.1h.01M264.8 88.7h.01M262.3 103.5h.01M263.5 90.4h.01M254.5 90.4h.01M257.1 89.3h.01M266.7 93.4h.01M266.2 94.2h.01M256.9 90.6h.01M261.4 89.4h.01M258.5 95.6h.01M258.8 84.3h.01M265.0 96.7h.01M263.1 88.6h.01M254.9 89.0h.01M263.0 88.7h.01M253.5 102.9h.01M254.7 102.5h.01M260.0 106.5h.01M253.8 102.3h.01M261.1 96.6h.01M263.5 94.3h.01M257.2 98.3h.01M263.8 98.7h.01M256.8 106.9h.01M254.8 93.4h.01M260.8 104.1h.01M255.2 105.6h.01M263.9 105.5h.01M266.7 98.6h.01M253.4 98.9h.01M263.1 107.3h.01M261.8 95.1h.01M267.9 101.8h.01M264.3 87.3h.01M266.5 91.3h.01M266.1 96.5h.01M266.1 101.0h.01M264.4 89.9h.01M266.9 102.3h.01M254.6 98.2h.01M264.9 89.2h.01M262.7 86.2h.01M258.8 94.6h.01M259.9 102.5h.01M256.5 106.0h.01M258.0 101.1h.01M263.8 91.4h.01M261.5 104.1h.01M266.7 89.7h.01M257.2 94.3h.01M256.7 99.5h.01M264.3 93.3h.01M267.5 93.4h.01M258.8 95.3h.01M259.3 104.3h.01M254.1 96.1h.01M257.5 87.7h.01M266.8 93.7h.01M268.0 98.3h.01M260.7 97.2h.01M265.0 105.8h.01M256.5 96.3h.01M263.0 102.1h.01M267.0 101.4h.01M258.5 95.9h.01M262.9 95.0h.01M264.5 95.3h.01M256.1 88.7h.01M257.8 87.7h.01M262.0 88.4h.01M257.5 89.1h.01M256.6 87.9h.01M255.8 94.6h.01M264.7 89.7h.01M260.4 106.3h.01M261.6 94.8h.01M261.5 81.0h.01M258.2 99.6h.01M263.2 100.2h.01M260.2 104.8h.01M255.0 91.6h.01M261.1 92.9h.01M260.8 101.4h.01M263.6 98.6h.01M267.7 98.6h.01M255.1 104.9h.01M261.7 107.0h.01M262.0 82.9h.01M260.5 94.4h.01M259.9 105.3h.01M262.4 84.8h.01M261.4 93.2h.01M259.5 101.4h.01M262.6 87.2h.01M262.4 97.9h.01M255.4 104.3h.01M258.7 97.1h.01M263.0 81.0h.01M256.4 88.3h.01M261.1 95.1h.01M261.7 84.0h.01M255.1 99.7h.01M256.5 92.3h.01M258.2 93.1h.01M262.3 101.8h.01M255.2 100.8h.01M264.8 102.0h.01M263.3 90.2h.01M265.2 93.4h.01M256.9 99.0h.01M261.4 96.3h.01M266.2 102.6h.01M259.8 94.7h.01M261.7 104.5h.01M259.5 91.3h.01M264.4 99.0h.01M262.7 102.1h.01M263.2 106.8h.01M267.8 94.3h.01M264.8 103.3h.01M261.9 98.1h.01M257.1 99.4h.01M261.0 91.5h.01M267.2 103.3h.01M266.5 87.4h.01M257.3 106.9h.01M263.4 97.5h.01M253.6 98.1h.01M255.4 90.3h.01M258.9 99.7h.01M255.3 89.7h.01M263.1 103.0h.01M260.8 101.4h.01M259.2 89.5h.01M266.1 102.0h.01M258.6 99.4h.01M257.1 92.6h.01M257.6 99.6h.01M253.6 100.1h.01M264.1 96.7h.01M263.0 100.2h.01M259.5 101.8h.01M265.2 104.0h.01M258.3 103.2h.01M257.1 88.2h.01M254.1 103.3h.01M256.7 105.3h.01M260.0 96.0h.01M258.5 103.9h.01M260.0 91.4h.01M256.1 86.1h.01M253.7 95.2h.01M263.1 88.7h.01M259.6 89.2h.01M265.1 95.5h.01M264.6 106.0h.01M258.7 97.2h.01M260.4 106.5h.01M264.8 96.5h.01M255.3 95.8h.01M263.4 85.2h.01M259.2 87.7h.01M257.2 103.5h.01M260.3 99.7h.01M263.0 97.8h.01M265.5 104.0h.01M265.6 99.2h.01M254.1 92.0h.01M255.9 103.4h.01M258.4 100.7h.01M255.6 87.7h.01M260.0 102.7h.01M260.1 93.9h.01M261.2 103.1h.01M258.5 102.6h.01M257.2 104.1h.01M262.0 88.3h.01M254.1 101.0h.01M254.1 92.8h.01M264.5 103.0h.01M256.8 88.7h.01M255.9 103.2h.01M258.0 106.3h.01M261.9 96.7h.01M256.9 97.7h.01M263.2 98.5h.01M262.7 104.2h.01M259.6 87.8h.01M267.2 102.8h.01M264.6 94.0h.01M255.4 95.1h.01M256.9 103.4h.01M255.7 88.5h.01M263.7 89.2h.01M256.2 99.8h.01M260.1 100.7h.01M255.1 91.1h.01M266.5 100.3h.01M264.4 94.0h.01M262.4 85.7h.01M263.6 91.5h.01M258.9 89.7h.01M256.1 95.3h.01M253.6 95.3h.01M259.5 94.3h.01M266.2 104.4h.01M253.8 94.2h.01M256.6 90.0h.01M261.1 104.9h.01M254.4 99.3h.01M258.4 105.4h.01M264.6 95.4h.01M256.5 98.9h.01M257.9 93.3h.01M258.2 105.8h.01M256.6 92.1h.01M264.6 105.2h.01M267.4 93.1h.01M262.2 101.6h.01M257.1 99.4h.01M256.9 102.0h.01M263.5 90.5h.01M262.1 107.9h.01M265.5 96.7h.01M256.5 87.5h.01M256.3 99.9h.01M258.9 87.3h.01M259.7 99.3h.01M265.5 100.7h.01M255.0 90.6h.01M258.2 88.4h.01M255.6 88.9h.01M265.4 99.1h.01M264.0 101.5h.01M264.9 104.3h.01M258.1 93.3h.01M261.1 87.9h.01M266.6 98.5h.01M253.6 102.7h.01M265.3 100.8h.01M264.8 96.4h.01M259.9 91.6h.01M264.9 100.7h.01M264.7 102.8h.01M256.3 91.2h.01M267.8 100.5h.01M267.4 101.2h.01M258.9 107.2h.01M267.5 93.9h.01M261.5 94.3h.01M260.9 86.1h.01M264.6 89.6h.01M267.0 100.7h.01M257.3 92.0h.01M255.8 104.5h.01M265.7 93.0h.01M259.9 101.6h.01M261.6 94.0h.01M260.5 101.4h.01M266.5 95.6h.01M261.8 90.7h.01M263.7 90.7h.01M264.6 92.4h.01M254.3 88.3h.01M261.7 103.3h.01M262.2 104.6h.01M254.9 101.9h.01M259.0 81.5h.01M254.6 103.4h.01M259.5 102.1h.01M264.9 103.0h.01M257.0 99.3h.01M266.0 90.4h.01M254.5 92.6h.01M258.5 94.3h.01M257.1 90.4h.01M265.2 85.6h.01M256.8 105.6h.01M266.0 94.5h.01M261.1 98.7h.01M257.8 88.6h.01M259.6 102.9h.01M255.3 101.2h.01M261.9 86.2h.01M263.1 90.7h.01M259.9 100.8h.01M264.0 86.8h.01M263.1 85.5h.01M263.1 88.4h.01M264.2 88.9h.01M259.7 101.9h.01M255.6 101.9h.01M261.2 97.7h.01M260.2 92.8h.01M255.5 101.6h.01M263.7 99.2h.01M260.2 86.7h.01M263.2 89.9h.01M256.2 100.4h.01M256.8 97.8h.01M254.8 94.6h.01M266.9 96.9h.01M263.5 91.1h.01M257.9 98.3h.01M254.7 89.2h.01M259.3 106.5h.01M265.0 102.3h.01M266.8 96.6h.01M257.1 106.0h.01M267.2 99.5h.01M256.3 98.0h.01M253.8 99.2h.01M255.3 100.4h.01M256.3 106.8h.01M256.9 101.9h.01M264.6 91.2h.01M260.6 86.9h.01M264.7 104.7h.01M254.7 100.9h.01M264.5 98.2h.01M255.3 96.7h.01M258.6 104.9h.01M265.4 86.1h.01M264.0 89.6h.01M264.1 92.7h.01M261.9 107.4h.01M258.8 100.2h.01M262.7 98.2h.01M259.8 93.4h.01M264.8 89.4h.01M262.1 84.5h.01M266.1 89.0h.01M265.5 89.9h.01M265.9 96.4h.01M254.8 93.8h.01M255.5 106.0h.01M259.2 104.6h.01M267.5 97.7h.01M262.3 89.5h.01M261.9 92.8h.01M264.0 85.6h.01M262.8 99.8h.01M255.0 94.6h.01" stroke="#f01048" stroke-width="1.20" stroke-linecap="round" opacity="1.0"/>
<path d="M224.30 32.10V30.70H260.50V32.10" fill="none" stroke="#666" stroke-width="0.75"/>
<path d="M224.30 40.45V39.05H241.70V40.45M242.90 40.45V39.05H260.50V40.45" fill="none" stroke="#666" stroke-width="0.75"/>
<text x="241.25" y="32.99" font-size="10.5" fill="#222" text-anchor="middle" stroke="#222" stroke-width="0.2">***</text>
<text x="233.50" y="41.29" font-size="10.5" fill="#222" text-anchor="middle" stroke="#222" stroke-width="0.2">*</text>
<text x="251.00" y="41.29" font-size="10.5" fill="#222" text-anchor="middle" stroke="#222" stroke-width="0.2">***</text>
<line x1="224.20" y1="116.30" x2="224.20" y2="118.30" stroke="#555" stroke-width="0.8"/>
<text x="231.50" y="123.50" font-size="7.8" fill="#f28aa8" text-anchor="end" transform="rotate(-45 231.50 123.50)" stroke="#f28aa8" stroke-width="0.2">Fzd6@P2</text>
<line x1="242.50" y1="116.30" x2="242.50" y2="118.30" stroke="#555" stroke-width="0.8"/>
<text x="250.90" y="124.60" font-size="7.8" fill="#f5a31a" text-anchor="end" transform="rotate(-45 250.90 124.60)" stroke="#f5a31a" stroke-width="0.2">Fzd6@P7_KO</text>
<line x1="260.80" y1="116.30" x2="260.80" y2="118.30" stroke="#555" stroke-width="0.8"/>
<text x="268.70" y="123.50" font-size="7.8" fill="#f0245a" text-anchor="end" transform="rotate(-45 268.70 123.50)" stroke="#f0245a" stroke-width="0.2">Fzd6@P7</text>
<text x="72.20" y="176.00" font-size="9" fill="#222" text-anchor="middle" stroke="#222" stroke-width="0.2">Chrna2 ID score</text>
<text x="22.30" y="232.60" font-size="7.9" fill="#222" text-anchor="middle" transform="rotate(-90 22.30 232.60)" stroke="#222" stroke-width="0.2">Feature expression score</text>
<line x1="45.10" y1="185.30" x2="45.10" y2="282.70" stroke="#555" stroke-width="0.8"/>
<line x1="45.10" y1="282.70" x2="105.80" y2="282.70" stroke="#555" stroke-width="0.8"/>
<line x1="42.90" y1="185.80" x2="45.10" y2="185.80" stroke="#555" stroke-width="0.8"/>
<text x="41.90" y="187.80" font-size="8.2" fill="#333" text-anchor="end" stroke="#333" stroke-width="0.2">0.8</text>
<line x1="42.90" y1="220.10" x2="45.10" y2="220.10" stroke="#555" stroke-width="0.8"/>
<text x="41.90" y="222.10" font-size="8.2" fill="#333" text-anchor="end" stroke="#333" stroke-width="0.2">0.4</text>
<line x1="42.90" y1="254.20" x2="45.10" y2="254.20" stroke="#555" stroke-width="0.8"/>
<text x="41.90" y="256.20" font-size="8.2" fill="#333" text-anchor="end" stroke="#333" stroke-width="0.2">0.0</text>
<path d="M56.30 200.60 L56.99 201.70 L57.68 202.80 L58.07 203.91 L58.40 205.01 L58.73 206.11 L59.06 207.21 L59.43 208.31 L59.91 209.41 L60.38 210.52 L60.85 211.62 L61.32 212.72 L61.79 213.82 L62.27 214.92 L62.64 216.02 L63.00 217.13 L63.36 218.23 L63.72 219.33 L64.08 220.43 L64.45 221.53 L64.54 222.63 L64.43 223.74 L64.32 224.84 L64.21 225.94 L64.10 227.04 L63.99 228.14 L63.88 229.24 L63.65 230.35 L63.17 231.45 L62.68 232.55 L62.20 233.65 L61.72 234.75 L61.24 235.85 L60.76 236.96 L60.28 238.06 L59.97 239.16 L59.65 240.26 L59.34 241.36 L59.02 242.46 L58.71 243.57 L58.39 244.67 L58.25 245.77 L58.17 246.87 L58.09 247.97 L58.01 249.07 L57.93 250.18 L57.85 251.28 L57.76 252.38 L57.64 253.48 L57.52 254.58 L57.39 255.68 L57.27 256.79 L57.15 257.89 L57.03 258.99 L56.91 260.09 L56.79 261.19 L56.66 262.29 L56.54 263.40 L56.42 264.50 L56.30 265.60 L56.30 265.60 L56.18 264.50 L56.06 263.40 L55.94 262.29 L55.81 261.19 L55.69 260.09 L55.57 258.99 L55.45 257.89 L55.33 256.79 L55.21 255.68 L55.08 254.58 L54.96 253.48 L54.84 252.38 L54.75 251.28 L54.67 250.18 L54.59 249.07 L54.51 247.97 L54.43 246.87 L54.35 245.77 L54.21 244.67 L53.89 243.57 L53.58 242.46 L53.26 241.36 L52.95 240.26 L52.63 239.16 L52.32 238.06 L51.84 236.96 L51.36 235.85 L50.88 234.75 L50.40 233.65 L49.92 232.55 L49.43 231.45 L48.95 230.35 L48.72 229.24 L48.61 228.14 L48.50 227.04 L48.39 225.94 L48.28 224.84 L48.17 223.74 L48.06 222.63 L48.15 221.53 L48.52 220.43 L48.88 219.33 L49.24 218.23 L49.60 217.13 L49.96 216.02 L50.33 214.92 L50.81 213.82 L51.28 212.72 L51.75 211.62 L52.22 210.52 L52.69 209.41 L53.17 208.31 L53.54 207.21 L53.87 206.11 L54.20 205.01 L54.53 203.91 L54.92 202.80 L55.61 201.70 L56.30 200.60Z" fill="none" stroke="#2db5e3" stroke-width="0.7" stroke-linejoin="round"/>
<path d="M63.7 224.2h.01M51.1 237.2h.01M60.3 233.8h.01M51.6 210.7h.01M57.3 261.2h.01M63.9 226.5h.01M50.1 219.7h.01M60.2 222.3h.01M53.3 244.3h.01M57.1 239.1h.01M53.9 222.0h.01M57.2 227.7h.01M59.0 210.2h.01M52.4 234.2h.01M54.2 210.8h.01M50.9 231.5h.01M54.9 220.1h.01M50.9 214.4h.01M50.2 214.7h.01M57.9 249.8h.01M59.1 217.5h.01M48.8 223.8h.01M58.3 214.9h.01M59.0 225.0h.01M54.4 234.7h.01M53.3 217.9h.01M52.3 230.6h.01M57.9 221.8h.01M51.8 214.3h.01M56.9 234.7h.01M54.9 220.0h.01M56.5 229.8h.01M58.2 245.2h.01M52.4 231.1h.01M53.4 220.7h.01M56.0 228.5h.01M53.9 233.0h.01M58.8 217.2h.01M53.7 246.6h.01M62.1 216.6h.01M60.3 208.6h.01M50.5 226.1h.01M56.1 223.3h.01M54.3 215.2h.01M53.9 225.3h.01M51.8 219.0h.01M56.8 234.9h.01M61.0 224.7h.01M52.2 226.1h.01M60.0 214.5h.01M58.2 245.1h.01M58.2 218.0h.01M62.3 227.2h.01M57.7 232.3h.01M61.0 225.6h.01M63.3 220.9h.01M61.6 229.0h.01M57.4 231.9h.01M53.7 214.2h.01M57.8 218.3h.01M59.3 216.1h.01M58.1 205.6h.01M54.7 228.4h.01M57.6 262.5h.01M53.8 219.4h.01M53.3 243.9h.01M63.6 221.5h.01M60.2 240.1h.01M55.5 211.9h.01M57.1 220.4h.01M50.7 236.0h.01M60.5 239.9h.01M54.4 233.3h.01M57.9 230.0h.01M50.7 220.8h.01M53.9 254.0h.01M57.6 227.6h.01M58.4 234.8h.01M64.0 222.9h.01M57.9 243.1h.01M58.0 228.0h.01M57.8 230.8h.01M53.4 214.7h.01M54.2 222.3h.01M57.8 212.6h.01M50.5 221.8h.01M53.3 227.6h.01M51.4 218.8h.01M53.0 204.1h.01M55.5 223.0h.01M54.6 232.9h.01M57.2 222.0h.01M54.9 232.7h.01M49.5 221.9h.01M61.9 225.8h.01M49.4 219.4h.01M51.0 211.7h.01M50.2 233.6h.01M60.8 224.8h.01M54.6 233.9h.01M62.0 233.3h.01M53.8 232.9h.01M54.9 221.8h.01M59.3 219.0h.01M62.5 217.0h.01M62.8 224.1h.01M54.4 228.1h.01M58.3 237.3h.01M53.8 260.0h.01M57.3 232.0h.01M58.5 226.9h.01M53.0 219.9h.01M58.7 226.9h.01M53.4 219.2h.01M59.2 236.6h.01M50.3 217.4h.01M56.6 222.2h.01M62.6 217.4h.01M58.1 217.1h.01M62.2 232.9h.01M62.5 217.3h.01M60.3 220.9h.01M59.1 208.3h.01M58.5 240.0h.01M56.4 239.6h.01M60.9 222.0h.01M58.9 241.7h.01M61.3 217.2h.01M49.2 218.0h.01M49.1 225.4h.01M55.8 217.5h.01M58.3 240.4h.01M55.7 250.1h.01M54.8 213.8h.01M48.7 224.1h.01M58.0 222.3h.01M59.2 255.2h.01M57.0 254.1h.01M53.7 211.1h.01M57.3 246.6h.01M54.3 229.8h.01M54.2 223.2h.01M49.3 223.9h.01M58.6 237.0h.01M50.2 213.8h.01M61.7 222.1h.01M50.6 212.8h.01M60.8 222.8h.01M54.4 234.0h.01M54.6 236.2h.01M56.2 214.2h.01M51.8 217.7h.01M52.0 230.8h.01M59.2 216.0h.01M60.3 209.8h.01M52.4 237.4h.01M54.5 205.6h.01M61.0 239.1h.01M59.2 227.0h.01M63.0 222.7h.01M54.6 219.8h.01M60.6 222.1h.01M58.4 239.3h.01M60.1 227.0h.01M56.0 214.5h.01M53.1 227.2h.01M54.2 220.7h.01M53.0 239.8h.01M50.9 214.5h.01M54.4 224.8h.01M59.2 206.6h.01M53.9 218.6h.01M57.2 230.5h.01M61.2 228.0h.01M52.8 241.9h.01M54.6 214.9h.01M54.2 223.3h.01M58.8 212.8h.01M62.3 229.9h.01M50.6 213.1h.01M56.7 241.4h.01M48.5 225.1h.01M53.2 226.3h.01M54.7 221.9h.01M52.8 223.0h.01M55.4 238.4h.01M54.4 232.4h.01M56.3 221.0h.01M53.3 234.5h.01M54.6 221.7h.01M53.2 211.4h.01M55.2 217.7h.01M59.6 222.4h.01M48.9 224.0h.01M63.0 215.6h.01M51.1 230.3h.01M60.5 218.6h.01M53.1 229.7h.01M49.6 225.5h.01M60.7 229.6h.01" stroke="#2db5e3" stroke-width="0.90" stroke-linecap="round" opacity="0.9"/>
<path d="M74.00 200.00 L74.87 201.09 L75.75 202.19 L76.62 203.28 L77.50 204.37 L78.17 205.47 L78.56 206.56 L78.95 207.65 L79.34 208.75 L79.73 209.84 L80.12 210.93 L80.50 212.03 L80.61 213.12 L80.72 214.21 L80.83 215.31 L80.94 216.40 L81.05 217.49 L81.16 218.58 L81.27 219.68 L81.38 220.77 L81.49 221.86 L81.43 222.96 L81.34 224.05 L81.26 225.14 L81.17 226.24 L81.09 227.33 L81.01 228.42 L80.92 229.52 L80.84 230.61 L80.75 231.70 L80.67 232.80 L80.59 233.89 L80.50 234.98 L80.34 236.08 L80.17 237.17 L80.01 238.26 L79.85 239.36 L79.68 240.45 L79.52 241.54 L79.35 242.64 L79.19 243.73 L79.03 244.82 L78.82 245.92 L78.60 247.01 L78.38 248.10 L78.16 249.19 L77.94 250.29 L77.72 251.38 L77.51 252.47 L77.29 253.57 L77.07 254.66 L76.76 255.75 L76.42 256.85 L76.07 257.94 L75.73 259.03 L75.38 260.13 L75.04 261.22 L74.69 262.31 L74.35 263.41 L74.00 264.50 L74.00 264.50 L73.65 263.41 L73.31 262.31 L72.96 261.22 L72.62 260.13 L72.27 259.03 L71.93 257.94 L71.58 256.85 L71.24 255.75 L70.93 254.66 L70.71 253.57 L70.49 252.47 L70.28 251.38 L70.06 250.29 L69.84 249.19 L69.62 248.10 L69.40 247.01 L69.18 245.92 L68.97 244.82 L68.81 243.73 L68.65 242.64 L68.48 241.54 L68.32 240.45 L68.15 239.36 L67.99 238.26 L67.83 237.17 L67.66 236.08 L67.50 234.98 L67.41 233.89 L67.33 232.80 L67.25 231.70 L67.16 230.61 L67.08 229.52 L66.99 228.42 L66.91 227.33 L66.83 226.24 L66.74 225.14 L66.66 224.05 L66.57 222.96 L66.51 221.86 L66.62 220.77 L66.73 219.68 L66.84 218.58 L66.95 217.49 L67.06 216.40 L67.17 215.31 L67.28 214.21 L67.39 213.12 L67.50 212.03 L67.88 210.93 L68.27 209.84 L68.66 208.75 L69.05 207.65 L69.44 206.56 L69.83 205.47 L70.50 204.37 L71.38 203.28 L72.25 202.19 L73.13 201.09 L74.00 200.00Z" fill="#b5e5f2" stroke="#cdd822" stroke-width="0.8" stroke-linejoin="round"/>
<path d="M72.0 229.2h.01M69.4 217.9h.01M72.6 222.4h.01M69.0 245.1h.01M71.1 236.2h.01M77.0 218.5h.01M75.7 216.8h.01M80.1 229.7h.01M71.6 210.5h.01M72.8 216.6h.01M76.9 241.4h.01M70.7 236.8h.01M71.3 205.3h.01M81.0 225.5h.01M71.7 223.2h.01M78.9 238.1h.01M72.6 224.4h.01M79.7 216.5h.01M77.9 243.6h.01M71.1 213.8h.01M67.8 234.1h.01M76.4 218.3h.01M71.8 231.7h.01M71.6 213.9h.01M76.4 246.1h.01M72.7 221.4h.01M71.0 234.7h.01M78.7 238.4h.01M78.3 226.6h.01M78.4 228.7h.01M71.7 210.7h.01M80.8 228.3h.01M74.2 228.4h.01M72.0 247.5h.01M68.6 220.4h.01M78.3 213.4h.01M77.1 222.5h.01M79.4 240.8h.01M70.7 202.9h.01M69.1 206.4h.01M76.1 262.2h.01M70.5 229.7h.01M71.8 237.0h.01M68.5 225.5h.01M74.0 214.7h.01M70.0 234.1h.01M67.7 215.9h.01M80.7 224.7h.01M68.9 215.6h.01M72.6 248.0h.01M69.5 223.0h.01M78.3 236.5h.01M77.9 214.4h.01M79.9 231.7h.01M73.6 218.4h.01M77.8 210.5h.01M78.6 219.3h.01M77.9 207.2h.01M69.2 231.6h.01M73.9 230.0h.01M75.8 244.4h.01M72.0 205.5h.01M78.2 223.1h.01M75.1 257.3h.01M78.5 221.3h.01M76.8 207.8h.01M73.2 241.6h.01M69.2 210.1h.01M70.5 236.0h.01M73.9 228.7h.01M79.1 246.3h.01M69.8 227.0h.01M78.3 235.0h.01M70.5 217.3h.01M74.7 256.4h.01M79.6 215.2h.01M73.4 243.8h.01M70.2 235.0h.01M71.2 226.1h.01M77.7 221.9h.01M76.1 209.8h.01M75.6 239.9h.01M69.9 216.6h.01M76.9 246.2h.01M77.7 247.0h.01M73.5 215.5h.01M70.7 218.3h.01M75.4 236.3h.01M77.6 239.3h.01M73.5 207.8h.01M74.7 242.8h.01M77.0 242.6h.01M79.8 232.5h.01M69.4 247.5h.01M75.6 256.1h.01M67.9 215.2h.01M71.8 251.2h.01M76.1 245.2h.01M69.4 230.9h.01M76.2 210.7h.01M76.6 253.9h.01M76.3 238.1h.01M78.9 222.2h.01M75.6 219.3h.01M74.0 253.0h.01M80.9 216.3h.01M72.1 243.1h.01M69.2 224.9h.01M73.9 235.9h.01M75.0 242.4h.01M72.3 209.9h.01M80.5 217.2h.01M71.8 211.1h.01M69.3 223.2h.01M74.5 212.3h.01M71.1 249.1h.01M75.6 240.4h.01M71.1 230.3h.01M72.1 214.2h.01M76.6 215.3h.01M76.5 230.4h.01M69.2 248.2h.01M74.7 249.9h.01M74.7 250.2h.01M71.9 219.5h.01M72.3 236.1h.01M75.5 227.6h.01M78.0 229.0h.01M77.8 234.9h.01M79.0 218.1h.01M74.5 217.3h.01M70.4 224.3h.01M77.3 216.5h.01M70.1 245.1h.01M66.8 222.2h.01M70.1 206.4h.01M67.8 232.7h.01M73.4 257.6h.01M72.5 229.3h.01M80.8 218.7h.01M77.8 248.3h.01M78.5 233.0h.01M77.3 231.7h.01M69.3 224.7h.01M69.6 239.5h.01M78.4 235.4h.01M77.7 229.9h.01M67.3 220.2h.01M72.9 240.3h.01M71.6 249.2h.01M74.7 210.0h.01M73.5 205.8h.01M73.6 209.3h.01M75.4 246.4h.01M77.8 231.6h.01M79.8 223.5h.01M73.9 256.1h.01M72.8 251.3h.01M79.3 224.5h.01M66.9 221.8h.01M77.9 228.0h.01M67.7 230.3h.01M71.6 243.8h.01M78.8 246.2h.01M71.2 218.4h.01M68.8 245.3h.01M69.5 208.5h.01M80.4 215.8h.01M72.7 224.2h.01M72.4 209.0h.01M80.0 220.6h.01M77.6 205.5h.01M70.9 241.4h.01M68.8 235.0h.01M79.7 217.9h.01M72.3 228.7h.01M73.4 223.3h.01M69.9 242.5h.01M72.7 218.4h.01M79.6 216.5h.01M79.2 239.9h.01M70.0 238.5h.01M75.9 235.8h.01M69.9 208.0h.01M74.1 207.0h.01M76.9 250.5h.01M71.9 254.9h.01M75.2 215.5h.01M69.6 226.3h.01M70.8 225.0h.01M76.0 218.8h.01M72.0 208.7h.01M69.9 217.1h.01M72.4 254.0h.01M77.8 225.6h.01M72.8 214.9h.01M75.2 209.1h.01M70.7 234.0h.01M75.5 243.5h.01M67.4 217.3h.01M68.3 237.9h.01M71.3 204.3h.01M77.9 211.7h.01M69.5 233.0h.01M73.0 210.3h.01M81.2 224.9h.01M70.1 226.0h.01M70.3 205.5h.01M71.3 242.2h.01M74.4 237.9h.01M79.0 240.1h.01M67.6 234.2h.01M74.5 218.6h.01M67.5 236.4h.01M80.9 231.0h.01M73.4 232.6h.01M76.3 237.9h.01M70.5 218.1h.01M73.7 249.5h.01M78.8 225.2h.01M68.4 220.1h.01M69.9 228.6h.01M72.4 255.4h.01M78.3 236.1h.01M79.0 209.7h.01M77.6 218.2h.01M70.5 234.6h.01M72.3 253.8h.01M77.4 228.6h.01M73.2 228.3h.01M73.1 200.7h.01M80.8 212.9h.01M71.0 241.5h.01M78.0 216.7h.01M69.4 228.3h.01M79.6 235.3h.01M71.0 230.5h.01M79.4 239.5h.01M76.9 233.1h.01M79.5 219.6h.01M75.9 230.6h.01M68.7 235.6h.01M72.8 208.3h.01M78.2 254.9h.01M68.7 231.3h.01M74.3 255.4h.01M74.2 244.8h.01M73.3 205.9h.01M71.3 210.4h.01M71.8 245.1h.01" stroke="#2fb09c" stroke-width="0.90" stroke-linecap="round" opacity="1.0"/>
<path d="M92.40 244.00 L92.47 244.55 L92.55 245.10 L92.62 245.65 L92.69 246.20 L92.77 246.75 L92.84 247.31 L92.91 247.86 L92.99 248.41 L93.06 248.96 L93.13 249.51 L93.20 250.06 L93.24 250.61 L93.28 251.16 L93.31 251.71 L93.35 252.26 L93.39 252.81 L93.42 253.36 L93.46 253.92 L93.50 254.47 L93.53 255.02 L93.57 255.57 L93.65 256.12 L93.87 256.67 L94.09 257.22 L94.31 257.77 L94.60 258.32 L94.95 258.87 L95.29 259.42 L95.63 259.97 L95.98 260.53 L96.32 261.08 L96.67 261.63 L96.99 262.18 L97.26 262.73 L97.54 263.28 L97.82 263.83 L98.09 264.38 L98.37 264.93 L98.64 265.48 L98.92 266.03 L99.19 266.58 L99.47 267.14 L99.74 267.69 L99.92 268.24 L99.98 268.79 L100.03 269.34 L100.09 269.89 L100.14 270.44 L100.20 270.99 L100.25 271.54 L100.31 272.09 L100.36 272.64 L99.95 273.19 L98.70 273.75 L97.44 274.30 L96.18 274.85 L94.92 275.40 L93.66 275.95 L92.40 276.50 L92.40 276.50 L91.14 275.95 L89.88 275.40 L88.62 274.85 L87.36 274.30 L86.10 273.75 L84.85 273.19 L84.44 272.64 L84.49 272.09 L84.55 271.54 L84.60 270.99 L84.66 270.44 L84.71 269.89 L84.77 269.34 L84.82 268.79 L84.88 268.24 L85.06 267.69 L85.33 267.14 L85.61 266.58 L85.88 266.03 L86.16 265.48 L86.43 264.93 L86.71 264.38 L86.98 263.83 L87.26 263.28 L87.54 262.73 L87.81 262.18 L88.13 261.63 L88.48 261.08 L88.82 260.53 L89.17 259.97 L89.51 259.42 L89.85 258.87 L90.20 258.32 L90.49 257.77 L90.71 257.22 L90.93 256.67 L91.15 256.12 L91.23 255.57 L91.27 255.02 L91.30 254.47 L91.34 253.92 L91.38 253.36 L91.41 252.81 L91.45 252.26 L91.49 251.71 L91.52 251.16 L91.56 250.61 L91.60 250.06 L91.67 249.51 L91.74 248.96 L91.81 248.41 L91.89 247.86 L91.96 247.31 L92.03 246.75 L92.11 246.20 L92.18 245.65 L92.25 245.10 L92.33 244.55 L92.40 244.00Z" fill="none" stroke="#4a73c6" stroke-width="0.6" stroke-linejoin="round"/>
<path d="M93.0 263.2h.01M94.5 264.4h.01M95.4 256.3h.01M88.3 271.5h.01M97.6 273.2h.01M93.5 263.8h.01M88.6 258.6h.01M90.5 266.7h.01M97.1 260.7h.01M95.8 266.9h.01M94.6 264.3h.01M95.5 269.5h.01M99.7 271.4h.01M93.0 273.3h.01M86.7 271.2h.01M85.2 272.8h.01M93.0 275.5h.01M87.8 266.5h.01M97.3 262.0h.01M97.9 263.0h.01M93.4 267.6h.01M94.2 271.2h.01M86.5 272.7h.01M95.9 262.4h.01M91.3 268.5h.01M94.7 259.6h.01M91.3 269.5h.01M97.2 272.7h.01M87.1 265.8h.01M99.8 270.3h.01M95.3 270.1h.01M90.0 270.4h.01M91.4 262.9h.01M88.0 268.5h.01M92.5 258.2h.01M98.2 266.9h.01M92.2 257.5h.01M90.4 274.3h.01M91.9 266.2h.01M91.3 264.5h.01M91.2 273.2h.01M92.6 266.9h.01M95.8 268.1h.01M95.9 272.5h.01M85.1 268.6h.01M98.7 266.4h.01M90.1 270.7h.01M91.6 265.5h.01M92.6 262.1h.01M98.8 270.9h.01M85.3 268.1h.01M94.7 276.1h.01M95.1 268.7h.01M93.0 273.0h.01M91.7 256.5h.01M92.6 253.2h.01M95.2 265.9h.01M91.6 272.6h.01M98.8 267.5h.01M93.5 270.0h.01M91.8 265.8h.01M98.1 266.3h.01M86.0 265.7h.01M97.7 264.9h.01M92.3 256.2h.01M86.7 270.3h.01M95.0 265.4h.01M89.0 274.0h.01M92.1 269.3h.01M92.8 262.3h.01M98.6 265.1h.01M94.5 262.8h.01M91.7 271.5h.01M94.3 264.3h.01M94.8 268.5h.01M87.2 267.3h.01M90.7 266.7h.01M87.2 272.4h.01M86.5 268.4h.01M90.1 265.4h.01M87.0 262.9h.01M88.3 264.7h.01M88.7 262.5h.01M93.1 270.6h.01M91.2 271.8h.01M86.3 269.3h.01M100.2 271.2h.01M96.4 271.3h.01M95.3 269.1h.01M94.1 263.0h.01M96.0 270.1h.01M90.5 254.0h.01M95.9 267.6h.01M90.9 262.3h.01M87.7 270.7h.01M89.2 270.4h.01M96.9 265.7h.01M91.0 269.2h.01M98.3 270.8h.01M100.0 268.2h.01M98.0 264.5h.01M92.2 261.0h.01M93.5 272.8h.01M93.4 260.2h.01M87.5 263.1h.01M96.5 271.5h.01M94.7 258.0h.01M89.2 261.6h.01M90.1 266.7h.01M93.9 262.1h.01M95.5 256.8h.01M90.2 271.7h.01M96.8 262.9h.01M85.8 273.4h.01M92.8 257.7h.01M89.8 264.9h.01M98.0 269.5h.01M89.3 260.6h.01M86.3 267.7h.01M90.6 268.0h.01M96.4 269.2h.01M95.6 273.7h.01M90.1 267.3h.01M95.9 273.4h.01M88.1 264.1h.01M91.6 270.4h.01M98.0 267.4h.01M87.1 271.5h.01M88.5 268.1h.01M90.2 272.9h.01M89.2 262.0h.01M92.8 264.4h.01M91.2 268.9h.01M93.9 270.0h.01M85.5 266.8h.01M97.4 272.1h.01M90.9 266.6h.01M86.5 273.7h.01M94.0 273.8h.01M90.2 256.7h.01M88.0 269.9h.01M96.5 272.7h.01M89.2 257.8h.01M99.5 271.6h.01M88.5 269.3h.01M94.0 268.4h.01M87.4 264.8h.01M100.3 270.9h.01M98.0 263.7h.01M94.2 262.9h.01M89.2 266.1h.01M91.3 275.6h.01M93.6 267.2h.01M90.0 261.9h.01M93.7 266.7h.01M98.8 271.8h.01M86.9 269.8h.01M88.8 271.3h.01M99.8 272.0h.01M97.2 265.1h.01M85.9 266.1h.01M86.0 272.6h.01M94.5 266.4h.01M97.6 268.0h.01M100.1 272.4h.01M86.6 269.9h.01M92.0 273.2h.01M92.5 251.5h.01M97.9 269.6h.01M92.2 268.0h.01M85.6 267.2h.01M86.8 265.1h.01M92.4 266.8h.01M86.6 272.1h.01M92.6 267.8h.01M93.5 263.7h.01M92.5 270.2h.01M93.7 272.1h.01M85.3 267.0h.01M94.5 261.6h.01M85.1 271.3h.01M92.4 270.5h.01M86.9 270.7h.01M91.8 251.8h.01M95.6 260.9h.01M96.4 274.2h.01M98.4 268.6h.01M94.9 264.7h.01M92.7 257.7h.01M97.0 267.5h.01M86.6 265.7h.01M87.1 262.0h.01M98.4 269.7h.01M95.0 262.7h.01M91.4 273.5h.01M89.4 263.8h.01M99.7 273.2h.01M88.4 265.9h.01M89.1 265.0h.01M99.4 271.7h.01M96.4 268.1h.01M96.2 261.5h.01M99.4 272.7h.01M99.5 268.7h.01M90.7 269.2h.01M88.8 266.8h.01M93.4 271.9h.01M90.6 269.8h.01M91.0 259.3h.01M93.6 273.4h.01M98.5 269.4h.01M93.0 265.2h.01M91.3 256.5h.01M90.3 256.8h.01M95.8 261.2h.01M94.2 264.2h.01M88.0 268.7h.01M96.3 264.0h.01M85.7 272.1h.01M86.0 268.6h.01M89.3 266.9h.01M96.6 267.0h.01M92.7 264.5h.01M95.4 268.6h.01M97.4 263.6h.01M99.0 265.7h.01M97.6 268.1h.01M91.4 270.0h.01M93.0 265.7h.01M84.5 271.1h.01M86.5 266.1h.01M91.6 273.7h.01M90.4 262.3h.01M92.8 269.3h.01M85.5 266.2h.01M99.2 267.8h.01M92.2 260.9h.01M87.7 265.8h.01M94.0 262.8h.01M93.6 270.4h.01M95.7 271.6h.01M100.2 272.2h.01M91.5 273.2h.01M85.2 266.4h.01M87.7 269.9h.01M91.3 274.2h.01M88.6 268.2h.01M92.2 268.0h.01M94.5 270.7h.01M92.6 254.8h.01M85.3 272.9h.01M85.4 267.3h.01M84.9 271.5h.01M94.4 261.7h.01M91.0 268.1h.01M93.2 269.1h.01M90.8 271.5h.01M95.4 269.1h.01M100.1 269.7h.01M93.9 273.5h.01" stroke="#4a73c6" stroke-width="0.84" stroke-linecap="round" opacity="1.0"/>
<path d="M56.10 192.90V191.50H73.70V192.90M74.90 192.90V191.50H92.10V192.90" fill="none" stroke="#666" stroke-width="0.75"/>
<text x="64.55" y="189.30" font-size="8" fill="#222" text-anchor="middle" stroke="#222" stroke-width="0.2">n.s.</text>
<text x="83.15" y="192.22" font-size="9" fill="#222" text-anchor="middle" stroke="#222" stroke-width="0.2">***</text>
<line x1="56.30" y1="282.70" x2="56.30" y2="284.70" stroke="#555" stroke-width="0.8"/>
<text x="64.90" y="289.90" font-size="7.8" fill="#2db5e3" text-anchor="end" transform="rotate(-45 64.90 289.90)" stroke="#2db5e3" stroke-width="0.2">Chrna2@P7</text>
<line x1="74.00" y1="282.70" x2="74.00" y2="284.70" stroke="#555" stroke-width="0.8"/>
<text x="83.00" y="289.90" font-size="7.8" fill="#cdd822" text-anchor="end" transform="rotate(-45 83.00 289.90)" stroke="#cdd822" stroke-width="0.2">Chrna2@P7_KO</text>
<line x1="92.40" y1="282.70" x2="92.40" y2="284.70" stroke="#555" stroke-width="0.8"/>
<text x="101.40" y="289.90" font-size="7.8" fill="#4a73c6" text-anchor="end" transform="rotate(-45 101.40 289.90)" stroke="#4a73c6" stroke-width="0.2">Nmbr1&amp;2@P7</text>
<text x="160.30" y="176.00" font-size="9" fill="#222" text-anchor="middle" stroke="#222" stroke-width="0.2">Nmbr-1&amp;2 ID score</text>
<line x1="128.90" y1="183.50" x2="128.90" y2="282.40" stroke="#555" stroke-width="0.8"/>
<line x1="128.90" y1="282.40" x2="188.20" y2="282.40" stroke="#555" stroke-width="0.8"/>
<line x1="126.70" y1="184.00" x2="128.90" y2="184.00" stroke="#555" stroke-width="0.8"/>
<text x="125.70" y="186.00" font-size="8.2" fill="#333" text-anchor="end" stroke="#333" stroke-width="0.2">1.0</text>
<line x1="126.70" y1="218.70" x2="128.90" y2="218.70" stroke="#555" stroke-width="0.8"/>
<text x="125.70" y="220.70" font-size="8.2" fill="#333" text-anchor="end" stroke="#333" stroke-width="0.2">0.5</text>
<line x1="126.70" y1="253.30" x2="128.90" y2="253.30" stroke="#555" stroke-width="0.8"/>
<text x="125.70" y="255.30" font-size="8.2" fill="#333" text-anchor="end" stroke="#333" stroke-width="0.2">0.0</text>
<path d="M140.00 250.30 L140.06 250.75 L140.12 251.21 L140.17 251.66 L140.23 252.11 L140.29 252.56 L140.35 253.02 L140.40 253.47 L140.46 253.92 L140.52 254.37 L140.58 254.83 L140.62 255.28 L140.66 255.73 L140.69 256.18 L140.73 256.64 L140.77 257.09 L140.80 257.54 L140.84 257.99 L140.88 258.45 L140.91 258.90 L140.95 259.35 L140.98 259.80 L141.17 260.26 L141.47 260.71 L141.77 261.16 L142.08 261.61 L142.38 262.07 L142.68 262.52 L142.98 262.97 L143.42 263.42 L143.88 263.88 L144.33 264.33 L144.78 264.78 L145.23 265.23 L145.69 265.69 L146.05 266.14 L146.22 266.59 L146.39 267.04 L146.56 267.50 L146.73 267.95 L146.90 268.40 L147.07 268.85 L147.24 269.31 L147.41 269.76 L147.42 270.21 L147.25 270.66 L147.08 271.12 L146.91 271.57 L146.74 272.02 L146.57 272.47 L146.40 272.93 L146.23 273.38 L146.06 273.83 L145.43 274.28 L144.53 274.74 L143.62 275.19 L142.72 275.64 L141.81 276.09 L140.91 276.55 L140.00 277.00 L140.00 277.00 L139.09 276.55 L138.19 276.09 L137.28 275.64 L136.38 275.19 L135.47 274.74 L134.57 274.28 L133.94 273.83 L133.77 273.38 L133.60 272.93 L133.43 272.47 L133.26 272.02 L133.09 271.57 L132.92 271.12 L132.75 270.66 L132.58 270.21 L132.59 269.76 L132.76 269.31 L132.93 268.85 L133.10 268.40 L133.27 267.95 L133.44 267.50 L133.61 267.04 L133.78 266.59 L133.95 266.14 L134.31 265.69 L134.77 265.23 L135.22 264.78 L135.67 264.33 L136.12 263.88 L136.58 263.42 L137.02 262.97 L137.32 262.52 L137.62 262.07 L137.92 261.61 L138.23 261.16 L138.53 260.71 L138.83 260.26 L139.02 259.80 L139.05 259.35 L139.09 258.90 L139.12 258.45 L139.16 257.99 L139.20 257.54 L139.23 257.09 L139.27 256.64 L139.31 256.18 L139.34 255.73 L139.38 255.28 L139.42 254.83 L139.48 254.37 L139.54 253.92 L139.60 253.47 L139.65 253.02 L139.71 252.56 L139.77 252.11 L139.83 251.66 L139.88 251.21 L139.94 250.75 L140.00 250.30Z" fill="none" stroke="#2db5e3" stroke-width="0.6" stroke-linejoin="round"/>
<path d="M142.0 265.6h.01M137.0 271.5h.01M145.6 265.5h.01M139.9 271.1h.01M142.0 270.4h.01M142.7 256.7h.01M140.5 265.6h.01M142.1 266.4h.01M141.1 268.1h.01M144.3 274.0h.01M142.4 271.4h.01M134.9 269.4h.01M133.8 268.3h.01M142.4 260.4h.01M143.2 266.1h.01M135.2 273.3h.01M145.0 268.2h.01M142.1 266.8h.01M141.3 274.4h.01M143.2 266.1h.01M145.8 272.5h.01M137.3 268.0h.01M133.9 267.9h.01M142.4 267.5h.01M137.6 266.5h.01M142.8 266.6h.01M142.4 266.5h.01M142.5 268.8h.01M144.4 268.8h.01M138.1 258.6h.01M135.6 268.0h.01M140.3 272.8h.01M135.5 271.9h.01M140.0 264.5h.01M137.2 265.9h.01M147.0 270.5h.01M144.9 270.7h.01M142.1 261.6h.01M144.9 267.0h.01M136.3 269.4h.01M140.4 271.3h.01M141.7 269.9h.01M133.5 270.5h.01M136.8 273.9h.01M144.2 273.2h.01M137.0 265.5h.01M145.3 273.3h.01M139.6 265.7h.01M140.0 253.9h.01M134.9 272.3h.01M144.5 273.8h.01M139.1 263.7h.01M136.2 271.9h.01M137.2 263.1h.01M136.0 274.4h.01M143.9 268.7h.01M138.1 269.4h.01M141.2 274.1h.01M138.0 267.2h.01M146.2 269.6h.01M140.1 263.9h.01M139.6 265.2h.01M146.5 269.7h.01M144.1 273.2h.01M146.6 267.8h.01M141.4 255.0h.01M136.6 266.1h.01M139.5 269.2h.01M142.3 262.5h.01M137.0 264.8h.01M139.3 266.0h.01M135.1 273.0h.01M139.2 268.5h.01M140.6 264.9h.01M135.3 269.9h.01M141.4 270.4h.01M134.9 270.9h.01M139.9 272.1h.01M142.8 270.4h.01M141.8 262.3h.01M139.0 270.1h.01M135.2 270.2h.01M146.8 269.3h.01M140.5 264.8h.01M139.8 265.5h.01M133.4 270.6h.01M143.5 272.2h.01M142.4 263.0h.01M143.0 272.1h.01M139.4 268.9h.01M139.5 270.7h.01M144.3 272.3h.01M143.9 263.4h.01M141.3 271.7h.01M141.9 272.0h.01M144.8 269.1h.01M137.9 266.8h.01M135.3 270.2h.01M143.7 270.4h.01M141.6 268.3h.01M137.7 269.8h.01M144.7 272.2h.01M143.4 272.3h.01M135.0 274.7h.01M140.1 275.2h.01M141.2 259.3h.01M145.2 273.8h.01M142.7 273.9h.01M138.2 276.3h.01M135.3 272.3h.01M144.9 274.6h.01M142.9 275.7h.01M139.2 264.3h.01M139.1 264.4h.01M143.9 269.9h.01M141.7 274.4h.01M136.5 269.7h.01M139.8 269.2h.01M146.2 273.4h.01M139.3 270.0h.01M133.7 273.0h.01M134.2 270.3h.01M135.0 269.3h.01M142.2 269.5h.01M138.2 272.3h.01M141.7 264.1h.01M137.1 267.7h.01M142.8 264.0h.01M140.0 270.9h.01M146.0 268.5h.01M143.4 273.9h.01M139.7 267.3h.01M145.6 274.2h.01M137.7 267.1h.01M139.7 274.8h.01M138.2 273.7h.01M133.8 266.8h.01M137.2 269.6h.01M136.4 262.9h.01M134.5 270.6h.01M134.6 271.0h.01M138.2 268.8h.01M140.8 268.2h.01M141.0 269.3h.01M141.8 272.4h.01M136.2 265.6h.01M137.2 272.9h.01M134.8 271.7h.01M145.5 268.1h.01M136.8 275.0h.01M141.9 270.0h.01M139.9 269.3h.01M133.8 269.6h.01M144.4 267.6h.01M140.1 269.7h.01M140.5 263.6h.01M143.7 270.2h.01M137.4 267.5h.01M138.4 270.9h.01M134.8 270.1h.01M142.6 276.0h.01M138.4 272.2h.01M141.8 256.0h.01M143.6 264.4h.01M138.6 269.4h.01M141.4 269.9h.01M136.3 268.8h.01M139.7 271.8h.01M137.8 274.2h.01M143.5 262.7h.01M142.4 270.4h.01M145.2 267.1h.01M136.6 268.0h.01M136.9 274.9h.01M136.0 262.4h.01M141.1 265.6h.01M137.0 269.5h.01M136.9 271.9h.01M139.5 274.6h.01M140.6 275.2h.01M143.0 274.5h.01M145.2 272.4h.01M135.7 268.7h.01M139.9 266.4h.01M145.4 273.6h.01M137.5 271.9h.01M140.8 271.7h.01M139.3 271.8h.01M143.0 274.3h.01M143.3 269.8h.01M138.7 266.7h.01M138.7 256.7h.01M141.7 266.1h.01M146.1 271.0h.01M138.7 267.9h.01M140.0 265.7h.01M137.4 264.2h.01M142.5 260.5h.01M133.5 270.4h.01M138.3 271.0h.01M135.6 274.7h.01M139.2 272.5h.01M141.1 264.6h.01M135.2 265.8h.01M141.6 275.0h.01M136.9 267.2h.01M135.8 269.5h.01M137.8 272.3h.01M146.2 270.7h.01M142.6 261.2h.01M137.2 268.8h.01M133.2 269.9h.01M134.1 269.9h.01M139.5 264.0h.01M135.0 274.9h.01M142.7 269.5h.01M141.4 271.3h.01M138.8 272.2h.01M135.5 266.7h.01M142.6 259.7h.01M138.1 270.7h.01M136.8 273.9h.01M146.2 273.8h.01M143.2 273.4h.01M140.5 265.6h.01M138.1 273.7h.01M142.6 263.2h.01M142.6 266.5h.01M145.1 272.7h.01M144.3 263.4h.01M141.1 272.7h.01M144.4 272.3h.01M145.3 274.1h.01M136.2 273.2h.01M141.8 271.4h.01M144.0 265.5h.01M143.1 264.2h.01M142.0 263.2h.01M139.5 266.9h.01M144.8 267.0h.01M139.9 275.9h.01M137.3 273.3h.01M139.5 263.6h.01M144.6 269.0h.01M134.3 272.4h.01M133.3 267.8h.01M133.6 269.9h.01M135.2 273.2h.01M136.8 274.2h.01M135.8 265.1h.01M133.6 273.1h.01M136.7 268.8h.01M140.6 258.9h.01M143.2 267.1h.01M139.7 273.7h.01M144.9 265.3h.01M134.7 265.3h.01M144.0 275.0h.01M133.7 268.4h.01M141.3 273.8h.01M136.2 266.5h.01M141.8 262.5h.01M142.9 274.2h.01M144.1 267.0h.01M137.6 274.3h.01M135.2 271.2h.01M143.4 273.0h.01M142.5 267.1h.01M139.4 271.4h.01M139.1 273.0h.01M140.0 271.0h.01M145.4 274.4h.01M135.2 274.0h.01M141.4 270.1h.01M143.8 274.9h.01M134.5 271.6h.01M143.1 273.9h.01M143.5 264.9h.01M136.7 267.1h.01M138.3 264.6h.01M139.6 259.4h.01M146.9 271.3h.01M143.8 275.3h.01M146.2 270.6h.01M138.8 275.4h.01M145.1 273.1h.01M139.9 270.6h.01M141.4 268.6h.01M141.9 265.6h.01M142.5 274.6h.01M138.0 274.3h.01M138.4 274.0h.01M135.0 267.6h.01M145.1 271.9h.01M139.3 269.8h.01M146.1 273.0h.01M136.6 270.3h.01M140.7 256.8h.01M146.4 266.4h.01M142.6 266.7h.01" stroke="#2db5e3" stroke-width="0.90" stroke-linecap="round" opacity="1.0"/>
<path d="M157.40 257.50 L157.76 257.80 L158.11 258.09 L158.47 258.39 L158.82 258.69 L159.18 258.98 L159.54 259.28 L159.89 259.58 L160.25 259.87 L160.55 260.17 L160.81 260.47 L161.07 260.76 L161.33 261.06 L161.59 261.36 L161.85 261.65 L162.11 261.95 L162.37 262.25 L162.62 262.54 L162.88 262.84 L163.14 263.14 L163.40 263.43 L163.66 263.73 L163.91 264.03 L163.98 264.32 L164.05 264.62 L164.13 264.92 L164.20 265.21 L164.28 265.51 L164.35 265.81 L164.43 266.10 L164.50 266.40 L164.57 266.69 L164.65 266.99 L164.72 267.29 L164.80 267.58 L164.87 267.88 L164.83 268.18 L164.72 268.47 L164.61 268.77 L164.50 269.07 L164.39 269.36 L164.28 269.66 L164.17 269.96 L164.05 270.25 L163.94 270.55 L163.83 270.85 L163.72 271.14 L163.61 271.44 L163.50 271.74 L163.33 272.03 L162.74 272.33 L162.15 272.63 L161.55 272.92 L160.96 273.22 L160.37 273.52 L159.77 273.81 L159.18 274.11 L158.59 274.41 L157.99 274.70 L157.40 275.00 L157.40 275.00 L156.81 274.70 L156.21 274.41 L155.62 274.11 L155.03 273.81 L154.43 273.52 L153.84 273.22 L153.25 272.92 L152.65 272.63 L152.06 272.33 L151.47 272.03 L151.30 271.74 L151.19 271.44 L151.08 271.14 L150.97 270.85 L150.86 270.55 L150.75 270.25 L150.63 269.96 L150.52 269.66 L150.41 269.36 L150.30 269.07 L150.19 268.77 L150.08 268.47 L149.97 268.18 L149.93 267.88 L150.00 267.58 L150.08 267.29 L150.15 266.99 L150.23 266.69 L150.30 266.40 L150.37 266.10 L150.45 265.81 L150.52 265.51 L150.60 265.21 L150.67 264.92 L150.75 264.62 L150.82 264.32 L150.89 264.03 L151.14 263.73 L151.40 263.43 L151.66 263.14 L151.92 262.84 L152.18 262.54 L152.43 262.25 L152.69 261.95 L152.95 261.65 L153.21 261.36 L153.47 261.06 L153.73 260.76 L153.99 260.47 L154.25 260.17 L154.55 259.87 L154.91 259.58 L155.26 259.28 L155.62 258.98 L155.98 258.69 L156.33 258.39 L156.69 258.09 L157.04 257.80 L157.40 257.50Z" fill="#b5e5f2" stroke="#cdd822" stroke-width="0.8" stroke-linejoin="round"/>
<path d="M159.3 271.9h.01M154.9 272.3h.01M152.9 267.5h.01M158.3 263.5h.01M158.7 268.5h.01M158.7 268.9h.01M156.0 265.2h.01M153.5 263.6h.01M163.0 265.5h.01M159.7 270.3h.01M159.9 264.8h.01M151.3 270.7h.01M157.8 265.5h.01M157.8 270.4h.01M151.5 268.2h.01M154.2 272.2h.01M153.0 264.0h.01M158.9 270.3h.01M162.5 266.6h.01M159.0 263.6h.01M155.4 263.2h.01M161.9 264.4h.01M158.1 269.1h.01M161.4 271.3h.01M158.5 264.8h.01M152.9 265.2h.01M156.6 262.1h.01M154.2 267.7h.01M155.4 262.3h.01M151.6 264.9h.01M160.7 272.1h.01M158.3 267.4h.01M155.1 265.0h.01M160.2 270.0h.01M157.3 258.0h.01M151.8 269.7h.01M161.3 270.6h.01M161.6 267.0h.01M158.1 263.7h.01M159.3 264.0h.01M158.1 271.8h.01M154.6 269.5h.01M153.5 273.1h.01M159.2 263.5h.01M154.5 266.2h.01M160.5 270.2h.01M154.7 268.1h.01M155.8 267.0h.01M161.9 262.6h.01M153.3 272.5h.01M154.5 263.7h.01M159.9 269.7h.01M156.4 268.1h.01M162.2 270.4h.01M152.5 270.3h.01M150.8 266.6h.01M161.6 267.7h.01M154.1 261.2h.01M154.6 270.1h.01M153.5 264.6h.01M156.7 262.1h.01M160.9 260.4h.01M157.2 264.5h.01M159.9 262.6h.01M153.4 263.2h.01M157.9 266.1h.01M153.7 265.6h.01M153.8 264.3h.01M155.1 263.2h.01M155.8 268.1h.01M160.4 267.5h.01M152.1 265.8h.01M154.5 263.5h.01M163.5 270.2h.01M156.0 262.0h.01M151.0 265.7h.01M162.0 263.8h.01M150.9 269.6h.01M155.7 267.7h.01M159.9 272.0h.01M163.4 269.1h.01M162.8 268.8h.01M161.6 261.3h.01M158.1 259.1h.01M163.8 268.7h.01M153.9 270.1h.01M155.2 271.4h.01M158.5 273.7h.01M159.0 271.3h.01M161.9 267.7h.01M152.3 269.1h.01M155.7 265.5h.01M158.5 273.3h.01M153.7 273.1h.01M157.5 269.5h.01M162.2 264.1h.01M150.7 267.9h.01M161.9 269.2h.01M160.2 270.5h.01M156.4 268.7h.01M153.8 270.4h.01M161.1 270.3h.01M155.4 268.7h.01M158.8 262.2h.01M152.5 269.8h.01M161.0 266.8h.01M162.7 270.5h.01M161.8 261.9h.01M164.0 267.0h.01M151.7 264.9h.01M161.7 267.1h.01M155.3 273.5h.01M152.3 270.2h.01M161.0 271.3h.01M162.4 271.0h.01M153.4 261.0h.01M153.5 269.8h.01M157.1 270.1h.01M162.2 269.9h.01M156.9 264.2h.01M151.4 265.9h.01M160.6 268.7h.01M163.3 264.5h.01M152.7 267.1h.01M161.7 266.1h.01M161.8 261.4h.01M156.6 261.4h.01M161.5 263.9h.01M159.2 266.6h.01M163.1 272.1h.01M159.6 270.0h.01M154.7 265.0h.01M160.1 270.3h.01M155.3 270.4h.01M155.8 272.3h.01M150.8 269.3h.01M151.6 268.6h.01M153.1 269.1h.01M159.0 261.5h.01M157.7 268.2h.01M156.5 260.3h.01M158.9 268.5h.01M154.9 269.0h.01M155.1 265.9h.01M158.7 263.1h.01M160.8 267.3h.01M160.1 262.7h.01M158.1 265.9h.01M163.8 269.3h.01M161.5 260.3h.01M162.2 272.5h.01M154.9 271.8h.01M160.6 265.4h.01M152.4 270.8h.01M163.6 270.8h.01M158.3 269.3h.01M151.6 266.0h.01M152.5 265.6h.01M159.2 263.8h.01M159.7 270.6h.01M155.7 268.9h.01M156.9 272.9h.01M161.7 268.6h.01M159.1 258.6h.01M160.5 263.6h.01M156.3 260.4h.01M155.5 264.5h.01M159.6 268.0h.01M151.8 267.5h.01M159.9 268.3h.01M159.9 265.4h.01M160.6 271.9h.01M154.0 266.4h.01M155.4 263.9h.01M153.9 266.0h.01M156.6 265.8h.01M159.0 263.2h.01M156.8 267.9h.01M162.7 267.7h.01M158.0 259.2h.01M161.2 265.0h.01M162.3 262.2h.01M161.3 265.3h.01M154.1 263.0h.01M155.9 261.1h.01M151.4 265.7h.01M156.6 260.4h.01M156.9 261.0h.01M155.1 269.7h.01M155.8 264.0h.01M153.5 269.9h.01M161.7 266.0h.01M155.9 268.0h.01M151.3 270.7h.01M156.8 261.9h.01M156.3 260.0h.01M153.2 265.6h.01M159.5 272.7h.01M156.3 265.4h.01M161.2 266.0h.01M159.0 268.3h.01M159.7 258.1h.01M155.1 268.1h.01M151.1 268.9h.01M153.6 272.1h.01M160.9 268.8h.01M153.3 269.0h.01M158.3 261.6h.01M152.2 266.5h.01M161.8 263.7h.01M155.9 265.1h.01M155.4 261.3h.01M162.6 265.8h.01M159.7 262.9h.01M158.7 264.8h.01M160.8 260.2h.01M160.1 273.3h.01M150.8 266.0h.01M162.8 265.1h.01M153.3 268.9h.01M160.4 269.9h.01M154.7 269.1h.01M154.7 264.8h.01M156.3 267.6h.01M150.7 266.3h.01M161.9 270.1h.01M154.3 265.7h.01M159.0 271.9h.01M152.6 266.2h.01M152.4 263.7h.01M151.5 271.6h.01M157.3 261.0h.01M156.9 274.2h.01M159.0 273.8h.01M156.5 267.0h.01M157.5 264.9h.01M158.1 262.3h.01M152.6 266.6h.01M155.8 269.8h.01M161.5 263.8h.01M164.0 269.1h.01M157.2 264.8h.01M154.8 267.6h.01M161.9 270.6h.01M158.0 267.1h.01M151.1 268.8h.01M152.9 265.6h.01M159.4 268.0h.01M152.6 270.6h.01M157.8 271.6h.01M162.3 272.6h.01M157.6 264.6h.01M156.9 262.1h.01M159.8 259.8h.01M157.7 262.9h.01M161.9 269.4h.01M151.5 263.6h.01M161.9 269.8h.01M154.4 260.7h.01M153.8 270.4h.01M158.3 266.1h.01M159.5 262.8h.01M152.7 268.2h.01M161.3 270.0h.01M157.2 261.1h.01M160.8 266.0h.01M155.9 261.8h.01M155.9 272.7h.01M157.9 266.4h.01M159.6 266.8h.01M161.2 268.2h.01M155.3 270.8h.01M158.7 272.2h.01M154.1 266.1h.01M160.1 266.5h.01M156.2 271.0h.01M163.0 269.6h.01M160.5 269.0h.01M152.0 270.5h.01M159.0 272.5h.01M156.3 260.8h.01M154.9 267.9h.01M153.7 264.4h.01M159.8 272.1h.01M160.2 259.9h.01M156.7 266.2h.01M157.4 266.7h.01M155.8 261.4h.01M161.5 265.2h.01M163.9 265.9h.01M156.9 261.8h.01M156.7 270.1h.01M153.3 265.5h.01M154.5 266.8h.01M156.0 270.5h.01M156.4 272.1h.01M153.1 264.3h.01M155.6 270.0h.01M151.7 265.0h.01M155.1 272.7h.01" stroke="#2fb09c" stroke-width="0.90" stroke-linecap="round" opacity="1.0"/>
<path d="M174.40 208.40 L174.86 209.40 L175.31 210.40 L175.77 211.41 L176.22 212.41 L176.68 213.41 L177.13 214.41 L177.58 215.41 L178.01 216.41 L178.44 217.42 L178.86 218.42 L179.29 219.42 L179.72 220.42 L180.15 221.42 L180.45 222.42 L180.56 223.43 L180.68 224.43 L180.80 225.43 L180.91 226.43 L181.03 227.43 L181.14 228.43 L181.26 229.44 L181.37 230.44 L181.49 231.44 L181.60 232.44 L181.72 233.44 L181.84 234.44 L181.85 235.45 L181.73 236.45 L181.61 237.45 L181.49 238.45 L181.37 239.45 L181.25 240.45 L181.13 241.46 L181.01 242.46 L180.88 243.46 L180.76 244.46 L180.51 245.46 L180.11 246.46 L179.71 247.47 L179.31 248.47 L178.91 249.47 L178.51 250.47 L178.11 251.47 L177.72 252.47 L177.33 253.48 L176.95 254.48 L176.57 255.48 L176.18 256.48 L175.80 257.48 L175.54 258.48 L175.41 259.49 L175.29 260.49 L175.16 261.49 L175.03 262.49 L174.91 263.49 L174.78 264.49 L174.65 265.50 L174.53 266.50 L174.40 267.50 L174.40 267.50 L174.27 266.50 L174.15 265.50 L174.02 264.49 L173.89 263.49 L173.77 262.49 L173.64 261.49 L173.51 260.49 L173.39 259.49 L173.26 258.48 L173.00 257.48 L172.62 256.48 L172.23 255.48 L171.85 254.48 L171.47 253.48 L171.08 252.47 L170.69 251.47 L170.29 250.47 L169.89 249.47 L169.49 248.47 L169.09 247.47 L168.69 246.46 L168.29 245.46 L168.04 244.46 L167.92 243.46 L167.79 242.46 L167.67 241.46 L167.55 240.45 L167.43 239.45 L167.31 238.45 L167.19 237.45 L167.07 236.45 L166.95 235.45 L166.96 234.44 L167.08 233.44 L167.20 232.44 L167.31 231.44 L167.43 230.44 L167.54 229.44 L167.66 228.43 L167.77 227.43 L167.89 226.43 L168.00 225.43 L168.12 224.43 L168.24 223.43 L168.35 222.42 L168.65 221.42 L169.08 220.42 L169.51 219.42 L169.94 218.42 L170.36 217.42 L170.79 216.41 L171.22 215.41 L171.67 214.41 L172.12 213.41 L172.58 212.41 L173.03 211.41 L173.49 210.40 L173.94 209.40 L174.40 208.40Z" fill="none" stroke="#4a73c6" stroke-width="0.6" stroke-linejoin="round"/>
<path d="M168.6 239.0h.01M177.2 249.6h.01M168.2 225.4h.01M168.2 240.8h.01M176.1 225.5h.01M177.8 252.5h.01M179.9 226.9h.01M171.6 217.2h.01M177.3 252.4h.01M169.9 229.7h.01M170.3 224.7h.01M173.8 233.0h.01M175.3 246.0h.01M174.8 231.2h.01M180.5 233.9h.01M174.4 239.0h.01M173.2 213.9h.01M174.0 249.9h.01M170.0 241.1h.01M177.6 237.3h.01M169.8 229.8h.01M174.3 254.4h.01M170.0 218.0h.01M175.8 211.3h.01M172.4 237.7h.01M178.4 240.1h.01M170.1 222.2h.01M174.2 246.3h.01M179.9 232.0h.01M177.7 229.6h.01M170.3 241.0h.01M168.6 231.2h.01M175.7 222.4h.01M181.4 232.7h.01M173.5 216.0h.01M177.2 228.9h.01M177.1 237.5h.01M179.8 219.1h.01M173.0 232.1h.01M168.3 233.5h.01M170.6 216.0h.01M179.9 224.1h.01M171.7 216.9h.01M175.7 235.8h.01M176.4 238.6h.01M177.0 211.7h.01M173.3 236.1h.01M171.3 246.2h.01M178.3 215.9h.01M176.1 237.5h.01M181.3 227.9h.01M178.0 222.0h.01M176.4 248.0h.01M174.0 228.0h.01M168.1 246.9h.01M178.1 248.5h.01M172.4 226.4h.01M169.1 247.1h.01M177.0 249.4h.01M177.2 210.3h.01M177.2 247.7h.01M169.7 238.9h.01M173.4 211.2h.01M172.0 235.0h.01M171.9 246.9h.01M176.7 246.4h.01M176.9 248.4h.01M171.1 234.7h.01M173.1 220.6h.01M171.9 229.5h.01M171.1 227.1h.01M176.7 238.8h.01M178.5 226.2h.01M177.6 236.6h.01M180.9 228.1h.01M180.9 233.2h.01M181.1 238.6h.01M178.2 244.7h.01M173.1 216.9h.01M178.0 233.6h.01M180.9 228.6h.01M171.1 238.6h.01M172.3 241.2h.01M167.7 241.9h.01M179.7 222.5h.01M178.3 222.0h.01M169.7 246.4h.01M173.6 228.3h.01M171.4 240.1h.01M173.1 214.6h.01M173.5 237.8h.01M180.4 225.8h.01M171.7 239.8h.01M175.3 219.9h.01M177.3 247.2h.01M177.3 240.5h.01M167.7 238.4h.01M172.1 233.7h.01M178.8 244.7h.01M169.6 232.0h.01M173.7 238.2h.01M178.6 231.2h.01M172.1 213.0h.01M174.2 233.2h.01M180.5 244.4h.01M168.6 238.3h.01M172.0 219.1h.01M170.1 215.7h.01M168.6 223.0h.01M178.8 238.2h.01M174.8 228.6h.01M176.0 226.3h.01M171.5 247.6h.01M176.0 213.0h.01M169.7 245.9h.01M170.2 229.3h.01M168.5 244.8h.01M180.6 227.3h.01M171.8 235.8h.01M171.7 222.0h.01M173.3 227.2h.01M170.6 239.9h.01M180.2 240.0h.01M171.5 223.8h.01M167.8 238.3h.01M177.0 255.5h.01M177.7 237.2h.01M170.0 227.3h.01M172.6 240.9h.01M169.4 237.4h.01M180.1 239.1h.01M179.8 245.7h.01M169.8 250.2h.01M170.7 222.5h.01M173.2 226.7h.01M175.9 221.4h.01M176.2 261.1h.01M177.2 256.7h.01M180.4 242.9h.01M175.5 238.6h.01M177.6 222.9h.01M179.9 228.4h.01M177.4 221.1h.01M173.9 230.3h.01M178.3 220.7h.01M175.5 214.8h.01M172.2 217.2h.01M167.5 232.8h.01M177.8 222.7h.01M169.5 217.1h.01M178.4 242.8h.01M178.2 243.4h.01M171.4 251.1h.01M179.2 244.5h.01M174.9 252.2h.01M180.9 239.5h.01M180.9 235.9h.01M167.5 231.1h.01M170.6 229.5h.01M176.8 213.4h.01M174.8 241.1h.01M169.4 228.5h.01M174.6 241.2h.01M172.9 251.9h.01M172.9 244.8h.01M168.6 234.5h.01M176.0 236.2h.01M178.2 248.1h.01M172.9 225.2h.01M171.7 237.5h.01M180.3 237.5h.01M176.3 237.1h.01M181.0 227.7h.01M179.5 233.4h.01M170.1 234.9h.01M177.1 244.4h.01M171.4 253.4h.01M171.0 217.7h.01M176.3 244.4h.01M167.4 234.7h.01M170.5 238.5h.01M181.4 235.1h.01M171.6 244.9h.01M177.6 231.8h.01M177.4 231.1h.01M175.0 235.3h.01M177.2 254.5h.01M170.0 232.0h.01M169.1 232.3h.01M178.8 234.0h.01M173.5 261.5h.01M170.5 222.4h.01M174.7 237.9h.01M177.2 237.8h.01M174.7 248.2h.01M178.8 229.6h.01M172.2 238.9h.01M178.5 226.1h.01M180.5 231.5h.01M175.3 218.1h.01M176.8 227.2h.01M175.4 231.4h.01M171.6 226.9h.01M170.8 231.4h.01M177.5 227.2h.01M169.6 226.0h.01M173.1 229.5h.01M172.6 239.2h.01M180.1 238.2h.01M174.7 255.9h.01M171.5 221.4h.01M173.6 244.5h.01M169.4 219.0h.01M171.4 225.9h.01M175.9 214.5h.01M170.6 234.2h.01M172.9 213.6h.01M178.9 218.6h.01M171.1 239.4h.01M175.5 239.4h.01" stroke="#4a73c6" stroke-width="0.84" stroke-linecap="round" opacity="0.85"/>
<path d="M139.90 194.40V193.00H156.50V194.40M157.70 194.40V193.00H174.50V194.40" fill="none" stroke="#666" stroke-width="0.75"/>
<text x="148.10" y="194.22" font-size="9" fill="#222" text-anchor="middle" stroke="#222" stroke-width="0.2">***</text>
<text x="166.40" y="194.22" font-size="9" fill="#222" text-anchor="middle" stroke="#222" stroke-width="0.2">***</text>
<line x1="140.00" y1="282.40" x2="140.00" y2="284.40" stroke="#555" stroke-width="0.8"/>
<text x="147.90" y="289.50" font-size="7.8" fill="#2db5e3" text-anchor="end" transform="rotate(-45 147.90 289.50)" stroke="#2db5e3" stroke-width="0.2">Chrna2@P7</text>
<line x1="157.40" y1="282.40" x2="157.40" y2="284.40" stroke="#555" stroke-width="0.8"/>
<text x="166.90" y="289.50" font-size="7.8" fill="#cdd822" text-anchor="end" transform="rotate(-45 166.90 289.50)" stroke="#cdd822" stroke-width="0.2">Chrna2@P7_KO</text>
<line x1="174.40" y1="282.40" x2="174.40" y2="284.40" stroke="#555" stroke-width="0.8"/>
<text x="186.20" y="289.50" font-size="7.8" fill="#4a73c6" text-anchor="end" transform="rotate(-45 186.20 289.50)" stroke="#4a73c6" stroke-width="0.2">Nmbr1&amp;2@P7</text>
<text x="250.50" y="176.00" font-size="9" fill="#222" text-anchor="middle" stroke="#222" stroke-width="0.2">Immature Chrna2 score</text>
<line x1="217.10" y1="184.40" x2="217.10" y2="280.90" stroke="#555" stroke-width="0.8"/>
<line x1="217.10" y1="280.90" x2="279.30" y2="280.90" stroke="#555" stroke-width="0.8"/>
<line x1="214.90" y1="188.90" x2="217.10" y2="188.90" stroke="#555" stroke-width="0.8"/>
<text x="213.90" y="190.90" font-size="8.2" fill="#333" text-anchor="end" stroke="#333" stroke-width="0.2">1.0</text>
<line x1="214.90" y1="234.00" x2="217.10" y2="234.00" stroke="#555" stroke-width="0.8"/>
<text x="213.90" y="236.00" font-size="8.2" fill="#333" text-anchor="end" stroke="#333" stroke-width="0.2">0.5</text>
<line x1="214.90" y1="278.20" x2="217.10" y2="278.20" stroke="#555" stroke-width="0.8"/>
<text x="213.90" y="280.20" font-size="8.2" fill="#333" text-anchor="end" stroke="#333" stroke-width="0.2">0.0</text>
<path d="M229.20 212.30 L229.27 213.22 L229.34 214.14 L229.41 215.06 L229.49 215.97 L229.56 216.89 L229.63 217.81 L229.70 218.73 L229.77 219.65 L229.83 220.57 L229.87 221.49 L229.92 222.41 L229.97 223.32 L230.01 224.24 L230.06 225.16 L230.10 226.08 L230.15 227.00 L230.20 227.92 L230.51 228.84 L230.86 229.75 L231.20 230.67 L231.55 231.59 L232.02 232.51 L232.59 233.43 L233.17 234.35 L233.74 235.27 L234.28 236.18 L234.66 237.10 L235.04 238.02 L235.43 238.94 L235.81 239.86 L236.19 240.78 L236.57 241.70 L236.78 242.62 L236.90 243.53 L237.03 244.45 L237.15 245.37 L237.27 246.29 L237.39 247.21 L237.49 248.13 L237.38 249.05 L237.28 249.96 L237.17 250.88 L237.07 251.80 L236.96 252.72 L236.86 253.64 L236.75 254.56 L236.46 255.48 L236.00 256.39 L235.54 257.31 L235.08 258.23 L234.62 259.15 L234.15 260.07 L233.46 260.99 L232.77 261.91 L232.08 262.83 L231.39 263.74 L230.67 264.66 L229.93 265.58 L229.20 266.50 L229.20 266.50 L228.47 265.58 L227.73 264.66 L227.01 263.74 L226.32 262.83 L225.63 261.91 L224.94 260.99 L224.25 260.07 L223.78 259.15 L223.32 258.23 L222.86 257.31 L222.40 256.39 L221.94 255.48 L221.65 254.56 L221.54 253.64 L221.44 252.72 L221.33 251.80 L221.23 250.88 L221.12 249.96 L221.02 249.05 L220.91 248.13 L221.01 247.21 L221.13 246.29 L221.25 245.37 L221.37 244.45 L221.50 243.53 L221.62 242.62 L221.83 241.70 L222.21 240.78 L222.59 239.86 L222.97 238.94 L223.36 238.02 L223.74 237.10 L224.12 236.18 L224.66 235.27 L225.23 234.35 L225.81 233.43 L226.38 232.51 L226.85 231.59 L227.20 230.67 L227.54 229.75 L227.89 228.84 L228.20 227.92 L228.25 227.00 L228.30 226.08 L228.34 225.16 L228.39 224.24 L228.43 223.32 L228.48 222.41 L228.53 221.49 L228.57 220.57 L228.63 219.65 L228.70 218.73 L228.77 217.81 L228.84 216.89 L228.91 215.97 L228.99 215.06 L229.06 214.14 L229.13 213.22 L229.20 212.30Z" fill="none" stroke="#93d8f0" stroke-width="0.6" stroke-linejoin="round"/>
<path d="M230.7 263.4h.01M230.6 235.8h.01M226.4 245.2h.01M231.9 255.5h.01M227.5 254.6h.01M231.4 250.9h.01M225.4 253.0h.01M226.2 237.7h.01M230.7 234.8h.01M225.2 237.3h.01M233.5 257.8h.01M233.4 238.5h.01M230.0 252.4h.01M226.6 235.4h.01M227.2 258.3h.01M223.9 254.3h.01M232.6 256.6h.01M233.6 261.8h.01M223.2 251.1h.01M223.5 257.5h.01M228.8 264.4h.01M234.7 235.8h.01M226.5 233.5h.01M224.7 253.3h.01M227.6 250.0h.01M226.8 241.9h.01M225.6 251.5h.01M230.4 252.0h.01M223.2 243.4h.01M225.4 233.5h.01M229.1 262.8h.01M236.3 249.2h.01M225.7 236.2h.01M225.2 255.5h.01M225.5 257.3h.01M222.8 244.1h.01M223.2 254.7h.01M227.4 233.9h.01M225.9 252.6h.01M230.0 262.2h.01M224.1 254.0h.01M235.3 242.0h.01M230.3 245.6h.01M233.9 252.2h.01M223.3 246.7h.01M231.7 263.7h.01M227.8 254.7h.01M226.5 246.0h.01M235.0 252.8h.01M228.6 234.2h.01M226.1 243.9h.01M228.3 232.2h.01M230.6 243.2h.01M225.8 239.1h.01M229.2 247.3h.01M226.6 243.6h.01M225.4 234.4h.01M223.0 238.5h.01M234.2 245.5h.01M235.5 249.9h.01M226.0 241.4h.01M233.3 245.7h.01M228.1 260.3h.01M226.9 245.5h.01M225.8 247.1h.01M226.5 246.9h.01M227.4 258.7h.01M224.2 239.3h.01M234.3 247.2h.01M228.1 255.5h.01M224.3 247.9h.01M227.9 243.5h.01M228.8 244.6h.01M232.6 239.8h.01M224.0 252.1h.01M229.2 256.1h.01M233.2 253.3h.01M232.1 233.8h.01M224.0 254.3h.01M227.2 253.5h.01M232.3 244.7h.01M226.8 242.2h.01M230.9 261.0h.01M226.2 237.9h.01M226.6 255.0h.01M222.9 241.7h.01M231.5 249.1h.01M226.0 252.9h.01M224.2 259.4h.01M225.6 254.4h.01M225.7 234.8h.01M227.5 257.4h.01M233.6 261.9h.01M232.5 231.3h.01M234.3 242.8h.01M233.2 257.5h.01M235.7 248.6h.01M227.3 223.7h.01M229.2 254.3h.01M231.7 262.7h.01M234.8 238.2h.01M230.7 256.9h.01M223.5 251.2h.01M226.8 250.1h.01M226.3 233.3h.01M231.8 262.3h.01M231.3 264.6h.01M227.9 236.9h.01M221.9 255.8h.01M235.7 244.8h.01M232.1 230.3h.01M236.1 248.5h.01M232.7 256.1h.01M236.9 250.1h.01M227.1 233.4h.01M224.2 257.7h.01M234.4 246.7h.01M234.2 248.7h.01M225.6 245.3h.01M230.3 261.3h.01M222.7 249.0h.01M224.0 255.2h.01M234.6 260.1h.01M235.1 249.5h.01M224.6 256.1h.01M231.3 240.2h.01M232.1 240.2h.01M229.7 253.9h.01M229.2 251.4h.01M231.1 261.1h.01M221.9 244.4h.01M235.3 239.1h.01M230.9 245.2h.01M228.9 258.0h.01M225.7 249.4h.01M225.8 243.7h.01M231.1 248.2h.01M224.5 253.6h.01M231.5 236.0h.01M222.9 252.7h.01M227.4 246.6h.01M226.3 257.6h.01M221.9 255.1h.01M232.1 254.8h.01M232.8 233.6h.01M227.4 248.3h.01M226.8 233.3h.01M231.6 244.9h.01M224.1 239.0h.01M234.8 247.5h.01M229.3 240.4h.01M232.0 243.5h.01M226.3 253.4h.01M229.6 254.5h.01M230.2 253.5h.01M231.0 253.7h.01M233.7 244.1h.01M228.6 232.5h.01M228.5 234.2h.01M228.1 250.1h.01M224.3 260.8h.01M227.1 248.0h.01M236.0 247.0h.01M231.6 257.7h.01M227.3 244.1h.01M233.8 240.5h.01M226.6 260.4h.01M228.7 217.7h.01M225.8 248.4h.01M228.0 238.6h.01M223.9 241.4h.01M230.0 260.2h.01M223.7 251.5h.01M228.5 248.8h.01M232.2 236.1h.01M234.0 259.3h.01M231.7 246.0h.01M227.8 235.8h.01M224.5 248.9h.01M226.8 235.4h.01M226.0 256.7h.01M231.8 245.4h.01M233.2 242.5h.01M223.9 242.1h.01M228.6 239.7h.01M232.7 240.1h.01M232.3 250.2h.01M224.0 239.1h.01M230.4 249.1h.01M235.0 257.0h.01M234.6 253.7h.01M225.0 248.6h.01M234.6 246.7h.01M236.6 243.6h.01M235.6 241.7h.01M234.9 245.8h.01M225.9 263.2h.01M228.2 248.9h.01M231.6 243.0h.01M234.6 242.1h.01M234.4 246.0h.01M227.8 246.2h.01M227.0 244.3h.01M232.4 249.1h.01M225.8 253.8h.01M228.0 252.6h.01M234.5 253.8h.01M225.7 248.2h.01M234.1 256.4h.01M224.4 234.8h.01M222.7 249.7h.01M227.3 256.3h.01M231.9 253.8h.01M226.3 260.9h.01M235.1 237.8h.01M230.7 251.4h.01M222.9 254.7h.01M225.1 245.3h.01M234.5 241.7h.01M223.1 246.6h.01M222.2 255.6h.01M225.6 240.5h.01M222.1 254.4h.01M224.7 253.8h.01M229.0 249.3h.01M234.5 247.8h.01M228.7 260.0h.01M229.9 237.8h.01M225.3 234.0h.01M226.7 248.3h.01M230.8 235.2h.01M228.9 241.6h.01M234.8 238.3h.01M228.3 259.6h.01M236.0 247.9h.01M224.9 241.3h.01M231.9 243.1h.01M232.9 239.9h.01M236.4 244.3h.01M224.9 239.1h.01M230.9 256.1h.01M236.0 248.7h.01M229.2 236.4h.01M236.0 256.0h.01M235.6 246.3h.01M227.6 231.2h.01M229.0 254.0h.01M226.5 252.2h.01M234.1 247.7h.01M222.3 245.8h.01M232.1 253.7h.01M224.4 262.1h.01M222.1 248.4h.01M232.7 258.2h.01M224.6 249.0h.01M230.2 240.6h.01M235.5 252.8h.01M224.4 254.1h.01M227.9 237.3h.01M233.2 241.0h.01" stroke="#93d8f0" stroke-width="0.90" stroke-linecap="round" opacity="1.0"/>
<path d="M248.20 231.30 L248.28 231.96 L248.37 232.63 L248.45 233.29 L248.54 233.96 L248.62 234.62 L248.71 235.29 L248.79 235.95 L248.98 236.62 L249.18 237.28 L249.38 237.94 L249.58 238.61 L249.97 239.27 L250.64 239.94 L251.30 240.60 L251.97 241.27 L252.63 241.93 L253.15 242.59 L253.64 243.26 L254.14 243.92 L254.64 244.59 L255.14 245.25 L255.64 245.92 L255.77 246.58 L255.84 247.25 L255.92 247.91 L255.99 248.57 L256.07 249.24 L256.15 249.90 L256.22 250.57 L256.30 251.23 L256.37 251.90 L256.45 252.56 L256.44 253.23 L256.27 253.89 L256.10 254.55 L255.92 255.22 L255.75 255.88 L255.58 256.55 L255.40 257.21 L255.23 257.88 L254.93 258.54 L254.60 259.21 L254.27 259.87 L253.93 260.53 L253.60 261.20 L253.27 261.86 L252.94 262.53 L252.56 263.19 L252.06 263.86 L251.56 264.52 L251.06 265.18 L250.56 265.85 L250.06 266.51 L249.62 267.18 L249.34 267.84 L249.05 268.51 L248.77 269.17 L248.48 269.84 L248.20 270.50 L248.20 270.50 L247.92 269.84 L247.63 269.17 L247.35 268.51 L247.06 267.84 L246.78 267.18 L246.34 266.51 L245.84 265.85 L245.34 265.18 L244.84 264.52 L244.34 263.86 L243.84 263.19 L243.46 262.53 L243.13 261.86 L242.80 261.20 L242.47 260.53 L242.13 259.87 L241.80 259.21 L241.47 258.54 L241.17 257.88 L241.00 257.21 L240.82 256.55 L240.65 255.88 L240.48 255.22 L240.30 254.55 L240.13 253.89 L239.96 253.23 L239.95 252.56 L240.03 251.90 L240.10 251.23 L240.18 250.57 L240.25 249.90 L240.33 249.24 L240.41 248.57 L240.48 247.91 L240.56 247.25 L240.63 246.58 L240.76 245.92 L241.26 245.25 L241.76 244.59 L242.26 243.92 L242.76 243.26 L243.25 242.59 L243.77 241.93 L244.43 241.27 L245.10 240.60 L245.76 239.94 L246.43 239.27 L246.82 238.61 L247.02 237.94 L247.22 237.28 L247.42 236.62 L247.61 235.95 L247.69 235.29 L247.78 234.62 L247.86 233.96 L247.95 233.29 L248.03 232.63 L248.12 231.96 L248.20 231.30Z" fill="#b5e5f2" stroke="#cdd822" stroke-width="0.8" stroke-linejoin="round"/>
<path d="M241.9 254.4h.01M253.0 254.7h.01M241.6 246.1h.01M244.7 252.5h.01M243.0 259.8h.01M242.8 252.8h.01M248.8 255.1h.01M254.0 256.1h.01M253.6 250.2h.01M242.4 252.5h.01M253.0 249.1h.01M253.5 247.7h.01M245.5 242.4h.01M244.9 261.4h.01M246.2 249.1h.01M252.1 256.4h.01M255.1 246.7h.01M248.8 253.7h.01M246.9 257.1h.01M246.2 256.2h.01M247.4 252.2h.01M246.4 266.7h.01M250.9 245.4h.01M249.3 257.1h.01M246.3 244.5h.01M251.3 252.8h.01M249.8 237.3h.01M244.8 242.4h.01M246.9 261.1h.01M249.9 257.4h.01M250.5 241.2h.01M243.2 243.5h.01M243.4 243.7h.01M251.6 259.5h.01M252.1 251.7h.01M244.5 258.9h.01M246.6 253.7h.01M250.6 258.2h.01M248.3 244.7h.01M252.1 256.5h.01M244.0 248.3h.01M247.1 255.4h.01M245.9 245.3h.01M253.1 249.1h.01M246.0 258.5h.01M250.8 243.5h.01M247.3 245.6h.01M243.6 248.2h.01M250.0 246.6h.01M243.9 259.2h.01M243.7 260.5h.01M252.7 258.9h.01M254.1 251.1h.01M246.0 254.8h.01M246.2 253.8h.01M249.7 255.3h.01M249.9 254.9h.01M249.1 262.7h.01M244.9 255.1h.01M250.9 241.1h.01M245.5 257.5h.01M253.8 253.0h.01M254.2 258.0h.01M244.9 249.3h.01M249.7 246.6h.01M251.3 252.4h.01M244.4 246.9h.01M255.1 254.1h.01M247.4 253.2h.01M248.4 255.7h.01M246.9 240.5h.01M246.9 258.2h.01M243.0 244.4h.01M254.7 251.7h.01M253.8 250.3h.01M250.4 265.2h.01M254.7 258.3h.01M252.2 261.6h.01M249.9 247.6h.01M241.1 252.8h.01M253.6 260.3h.01M251.6 260.2h.01M248.7 254.2h.01M248.2 252.6h.01M250.0 247.5h.01M251.6 252.2h.01M248.8 260.7h.01M246.2 256.6h.01M242.9 259.3h.01M246.7 254.9h.01M243.3 243.7h.01M246.5 245.8h.01M253.7 250.7h.01M251.6 261.0h.01M248.3 252.2h.01M250.1 263.0h.01M247.1 251.8h.01M249.0 257.4h.01M253.7 256.1h.01M251.3 239.5h.01M244.9 251.4h.01M252.1 253.8h.01M247.3 265.8h.01M247.6 259.2h.01M246.8 247.0h.01M243.4 247.9h.01M244.1 251.9h.01M253.7 249.1h.01M249.3 249.7h.01M243.1 253.0h.01M253.1 241.8h.01M252.3 250.6h.01M251.0 242.9h.01M248.5 239.1h.01M249.4 259.6h.01M244.4 242.5h.01M243.6 255.2h.01M250.4 257.9h.01M250.1 243.2h.01M247.0 243.5h.01M250.9 240.4h.01M245.0 260.4h.01M243.1 251.7h.01M242.3 245.6h.01M251.7 265.2h.01M248.6 254.5h.01M249.1 260.9h.01M250.0 243.8h.01M242.6 254.1h.01M253.4 257.4h.01M255.3 251.5h.01M244.3 251.7h.01M245.5 241.6h.01M253.2 246.4h.01M248.3 247.0h.01M243.7 251.5h.01M251.4 239.1h.01M252.1 243.5h.01M246.3 253.7h.01M249.2 265.6h.01M251.5 247.1h.01M246.1 252.6h.01M249.5 252.2h.01M246.6 258.0h.01M253.4 252.8h.01M244.1 252.6h.01M247.7 241.5h.01M245.2 239.5h.01M249.7 251.6h.01M242.6 244.8h.01M245.9 248.7h.01M251.7 245.5h.01M248.8 258.8h.01M246.0 248.0h.01M248.0 254.9h.01M242.5 253.8h.01M244.7 256.2h.01M254.2 248.0h.01M243.4 245.2h.01M251.6 260.8h.01M251.8 251.8h.01M250.1 256.5h.01M252.3 251.3h.01M245.1 240.7h.01M246.4 244.6h.01M246.1 245.1h.01M245.6 241.3h.01M244.5 256.4h.01M246.4 264.0h.01M255.0 250.6h.01M247.2 264.3h.01M251.7 244.0h.01M251.8 249.5h.01M251.8 254.0h.01M248.1 254.9h.01M248.3 240.6h.01M244.6 261.0h.01M250.6 267.1h.01M246.4 247.7h.01M251.2 248.2h.01M253.6 254.7h.01M249.3 250.6h.01M246.2 252.4h.01M252.6 260.3h.01M242.4 255.4h.01M251.4 244.4h.01M245.1 249.5h.01M250.6 260.8h.01M245.2 262.3h.01M253.8 248.9h.01M247.9 243.6h.01M243.0 257.6h.01M252.5 246.6h.01M246.0 246.4h.01M242.3 250.7h.01M252.1 243.5h.01M242.3 255.7h.01M244.6 259.6h.01M243.7 249.2h.01M246.9 255.7h.01M254.2 244.7h.01M242.0 249.1h.01M254.7 245.3h.01M245.5 243.7h.01M247.0 247.8h.01M252.4 250.1h.01M251.2 240.8h.01M242.9 255.3h.01M250.9 255.3h.01M247.5 247.6h.01M242.0 251.3h.01M255.3 248.0h.01M247.1 243.7h.01M250.0 264.0h.01M250.8 262.3h.01M244.4 251.3h.01M245.5 258.9h.01M246.6 252.8h.01M251.8 263.8h.01M253.1 254.9h.01M250.1 259.8h.01M245.9 253.4h.01M245.4 253.2h.01M246.1 254.3h.01M246.8 259.7h.01M247.7 244.6h.01M246.9 256.7h.01M246.0 256.3h.01M249.5 269.2h.01M253.7 249.4h.01M253.5 255.7h.01M243.1 249.8h.01M249.4 253.7h.01M246.2 238.1h.01M253.0 259.1h.01M248.3 246.2h.01M241.0 252.1h.01M252.4 245.3h.01M249.9 263.5h.01M242.9 256.4h.01M252.4 260.2h.01M242.2 257.3h.01M252.7 261.4h.01M255.3 255.5h.01M247.6 243.0h.01M249.3 242.3h.01M246.7 257.3h.01M247.9 247.8h.01M252.8 256.4h.01M252.5 251.3h.01M247.1 259.9h.01M253.1 249.3h.01M246.2 243.5h.01M251.8 259.4h.01M245.5 248.4h.01M253.1 250.3h.01M245.0 258.0h.01M248.4 246.9h.01M245.0 263.0h.01M244.6 240.9h.01M247.0 257.8h.01M243.1 260.0h.01M243.0 254.7h.01M246.5 245.7h.01M251.4 244.1h.01M246.4 258.0h.01M241.9 256.9h.01M247.2 258.2h.01M247.6 264.9h.01M244.6 254.5h.01M246.6 263.2h.01M248.0 265.8h.01M248.4 254.2h.01M249.6 257.7h.01M254.1 245.5h.01M250.7 268.8h.01M250.9 251.7h.01M246.2 252.2h.01M241.4 255.7h.01M247.5 259.6h.01" stroke="#3cb896" stroke-width="0.90" stroke-linecap="round" opacity="1.0"/>
<path d="M267.70 234.90 L267.78 235.60 L267.86 236.29 L267.95 236.99 L268.03 237.69 L268.11 238.38 L268.19 239.08 L268.27 239.78 L268.37 240.47 L268.48 241.17 L268.58 241.87 L268.68 242.56 L268.79 243.26 L268.89 243.96 L269.00 244.65 L269.10 245.35 L269.24 246.05 L269.82 246.74 L270.40 247.44 L270.98 248.14 L271.56 248.83 L272.03 249.53 L272.47 250.23 L272.90 250.92 L273.34 251.62 L273.77 252.32 L274.20 253.01 L274.35 253.71 L274.50 254.41 L274.65 255.10 L274.80 255.80 L274.95 256.49 L275.10 257.19 L275.25 257.89 L275.40 258.58 L275.55 259.28 L275.70 259.98 L275.70 260.67 L275.70 261.37 L275.70 262.07 L275.70 262.76 L275.70 263.46 L275.70 264.16 L275.70 264.85 L275.70 265.55 L275.70 266.25 L275.70 266.94 L275.70 267.64 L275.45 268.34 L274.92 269.03 L274.40 269.73 L273.88 270.43 L273.36 271.12 L272.83 271.82 L272.05 272.52 L271.18 273.21 L270.31 273.91 L269.44 274.61 L268.57 275.30 L267.70 276.00 L267.70 276.00 L266.83 275.30 L265.96 274.61 L265.09 273.91 L264.22 273.21 L263.35 272.52 L262.57 271.82 L262.04 271.12 L261.52 270.43 L261.00 269.73 L260.48 269.03 L259.95 268.34 L259.70 267.64 L259.70 266.94 L259.70 266.25 L259.70 265.55 L259.70 264.85 L259.70 264.16 L259.70 263.46 L259.70 262.76 L259.70 262.07 L259.70 261.37 L259.70 260.67 L259.70 259.98 L259.85 259.28 L260.00 258.58 L260.15 257.89 L260.30 257.19 L260.45 256.49 L260.60 255.80 L260.75 255.10 L260.90 254.41 L261.05 253.71 L261.20 253.01 L261.63 252.32 L262.06 251.62 L262.50 250.92 L262.93 250.23 L263.37 249.53 L263.84 248.83 L264.42 248.14 L265.00 247.44 L265.58 246.74 L266.16 246.05 L266.30 245.35 L266.40 244.65 L266.51 243.96 L266.61 243.26 L266.72 242.56 L266.82 241.87 L266.92 241.17 L267.03 240.47 L267.13 239.78 L267.21 239.08 L267.29 238.38 L267.37 237.69 L267.45 236.99 L267.54 236.29 L267.62 235.60 L267.70 234.90Z" fill="none" stroke="#18b0e0" stroke-width="0.6" stroke-linejoin="round"/>
<path d="M265.4 256.8h.01M260.8 263.5h.01M273.3 254.1h.01M260.6 263.5h.01M268.6 255.7h.01M267.2 253.2h.01M271.8 249.4h.01M260.5 260.8h.01M261.3 252.1h.01M272.3 253.8h.01M263.0 255.9h.01M266.8 253.1h.01M270.4 243.6h.01M265.3 252.3h.01M263.1 266.4h.01M272.8 259.2h.01M272.5 264.7h.01M275.6 265.7h.01M272.4 263.6h.01M269.3 262.7h.01M263.1 268.6h.01M270.6 250.4h.01M268.5 257.5h.01M267.2 241.3h.01M269.1 260.3h.01M262.5 269.2h.01M274.6 261.3h.01M265.8 268.7h.01M274.6 263.6h.01M270.6 248.8h.01M269.5 251.2h.01M264.2 265.1h.01M270.1 272.1h.01M265.9 253.0h.01M273.3 270.5h.01M265.5 265.6h.01M272.5 252.3h.01M260.9 256.4h.01M272.5 268.7h.01M267.7 268.7h.01M269.3 265.8h.01M269.1 271.6h.01M275.4 266.7h.01M269.2 271.3h.01M274.7 258.2h.01M271.0 260.1h.01M266.9 257.0h.01M273.7 254.7h.01M271.6 257.2h.01M270.3 252.1h.01M272.7 271.9h.01M262.7 264.3h.01M263.9 272.1h.01M269.1 252.0h.01M265.3 264.5h.01M262.2 260.2h.01M264.6 270.2h.01M264.6 245.4h.01M273.0 263.5h.01M261.7 262.1h.01M262.9 248.7h.01M268.6 261.0h.01M264.2 256.6h.01M262.5 256.5h.01M267.9 248.4h.01M266.4 268.2h.01M266.1 254.4h.01M269.9 270.5h.01M263.3 252.4h.01M267.6 269.6h.01M272.7 271.9h.01M265.5 260.6h.01M271.2 269.2h.01M265.9 255.7h.01M264.3 252.3h.01M266.0 266.3h.01M260.8 262.5h.01M264.5 269.1h.01M264.6 262.3h.01M270.9 273.3h.01M273.3 259.3h.01M271.9 259.0h.01M267.6 267.0h.01M264.1 273.8h.01M270.6 257.1h.01M267.7 255.9h.01M272.6 268.0h.01M267.4 256.5h.01M261.4 252.8h.01M268.0 262.9h.01M262.1 256.5h.01M272.7 251.9h.01M260.5 263.6h.01M266.7 258.5h.01M263.1 251.8h.01M268.6 257.2h.01M260.6 259.4h.01M274.4 252.7h.01M270.1 265.4h.01M271.1 249.1h.01M265.8 258.9h.01M265.3 257.3h.01M266.5 270.7h.01M261.4 252.6h.01M269.9 250.0h.01M268.3 256.9h.01M269.1 271.7h.01M264.6 260.4h.01M261.1 269.1h.01M269.3 248.2h.01M273.1 267.8h.01M266.1 265.8h.01M266.7 272.4h.01M264.3 253.4h.01M264.2 251.4h.01M270.4 272.7h.01M268.2 270.9h.01M275.5 261.1h.01M269.3 269.9h.01M262.6 268.4h.01M263.9 263.1h.01M270.5 260.9h.01M266.6 247.0h.01M271.0 265.1h.01M270.2 265.9h.01M272.2 263.1h.01M269.3 266.8h.01M267.7 260.4h.01M267.8 255.4h.01M264.9 271.7h.01M264.2 250.0h.01M272.6 255.8h.01M270.3 254.6h.01M268.9 263.3h.01M272.3 260.9h.01M261.2 263.1h.01M269.3 260.7h.01M273.2 263.3h.01M268.6 251.5h.01M273.6 258.4h.01M261.7 262.0h.01M274.9 263.4h.01M264.4 259.8h.01M269.8 248.8h.01M275.1 265.4h.01M268.6 261.6h.01M265.4 272.8h.01M275.1 257.8h.01M263.8 264.6h.01M269.7 248.0h.01M269.1 265.0h.01M267.9 249.9h.01M272.2 263.6h.01M274.5 263.9h.01M275.0 265.4h.01M272.2 261.1h.01M272.9 260.7h.01M261.7 251.5h.01M265.8 255.8h.01M268.7 267.5h.01M267.4 271.5h.01M274.4 258.1h.01M274.4 262.0h.01M267.4 256.2h.01M274.0 256.3h.01M265.4 267.3h.01M272.3 268.6h.01M261.8 263.2h.01M275.0 269.3h.01M267.4 241.5h.01M274.1 270.2h.01M264.6 251.8h.01M266.0 246.5h.01M264.9 251.8h.01M264.7 256.1h.01M261.1 262.0h.01M270.8 249.3h.01M267.8 270.5h.01M267.9 260.1h.01M265.4 273.0h.01M267.4 265.6h.01M267.1 255.8h.01M260.8 254.3h.01M264.5 267.6h.01M262.4 263.1h.01M265.3 251.0h.01M266.7 255.7h.01M274.2 252.4h.01M265.7 263.5h.01M273.3 270.0h.01M271.4 258.6h.01M271.5 247.0h.01M271.7 270.9h.01M274.6 268.5h.01M264.4 248.3h.01M271.9 256.2h.01M265.4 258.7h.01M266.7 272.9h.01M264.4 247.7h.01M265.1 274.6h.01M270.6 263.2h.01M263.3 259.4h.01M270.0 259.1h.01M265.4 264.6h.01M269.7 257.2h.01M269.6 256.7h.01M263.2 267.8h.01M273.9 257.4h.01M271.1 267.8h.01M268.7 257.8h.01M269.6 264.7h.01M268.5 237.6h.01M265.4 262.3h.01M269.5 259.6h.01M262.2 266.6h.01M275.5 263.8h.01M270.9 264.5h.01M271.5 253.7h.01M271.4 269.3h.01M273.2 268.4h.01M267.1 261.5h.01M263.8 264.5h.01M260.8 256.0h.01M267.9 255.9h.01M262.2 262.2h.01M267.1 259.8h.01M261.9 252.4h.01M271.8 269.2h.01M265.4 265.8h.01M265.0 253.4h.01M271.5 271.4h.01M266.1 262.9h.01M267.2 260.7h.01M270.1 269.2h.01M261.8 251.8h.01M265.4 251.0h.01M273.1 272.8h.01M270.1 251.9h.01M261.8 260.2h.01M272.6 272.3h.01M274.2 257.1h.01M269.7 271.4h.01M261.0 253.1h.01M266.5 269.5h.01M267.1 238.6h.01M262.6 261.1h.01M269.0 271.4h.01M264.3 267.1h.01M270.4 265.2h.01M263.6 260.5h.01M274.3 267.2h.01M264.1 265.4h.01M260.9 252.7h.01M273.3 265.7h.01M263.3 267.9h.01M260.4 265.1h.01M274.2 254.8h.01M264.9 258.6h.01M270.6 254.5h.01M261.6 258.5h.01M272.6 259.4h.01M273.2 267.6h.01M264.1 266.5h.01M264.1 253.8h.01M261.9 267.6h.01M269.1 265.6h.01M266.4 257.1h.01M274.0 262.8h.01M266.0 251.8h.01M267.8 252.9h.01M266.0 255.5h.01M264.0 267.1h.01M261.5 253.7h.01M269.1 256.7h.01M264.4 261.0h.01M274.2 259.5h.01M269.9 254.3h.01M269.8 261.6h.01M270.4 274.5h.01M262.7 261.1h.01M273.5 269.1h.01M272.6 268.1h.01M263.3 253.2h.01M263.2 261.4h.01M260.4 260.2h.01M266.8 267.8h.01M261.6 265.5h.01M272.7 264.2h.01M264.5 269.4h.01M264.2 251.3h.01M273.0 251.4h.01M264.7 260.7h.01M265.1 265.1h.01M268.6 264.5h.01M268.3 268.9h.01M264.9 253.4h.01M269.2 251.8h.01M263.3 258.2h.01M270.4 265.6h.01M264.9 256.3h.01M263.3 266.5h.01M265.2 262.0h.01M264.2 256.6h.01M272.5 263.0h.01M271.8 260.6h.01M261.6 268.1h.01M274.1 267.3h.01M272.4 255.4h.01M261.9 254.1h.01M267.6 268.6h.01M268.1 268.6h.01M267.8 269.0h.01M260.2 258.3h.01M273.3 252.4h.01M266.6 261.9h.01M270.5 271.8h.01M268.5 262.6h.01M274.5 265.0h.01M266.0 247.6h.01M270.9 259.4h.01M265.1 253.7h.01M272.6 250.4h.01M264.9 254.2h.01M260.9 256.3h.01M267.5 261.1h.01M271.0 263.2h.01M266.2 262.0h.01M271.5 257.6h.01M271.1 253.3h.01M263.3 261.1h.01M266.3 270.0h.01M274.6 269.9h.01M267.9 270.5h.01M273.1 269.7h.01M266.1 263.0h.01M263.3 261.3h.01M273.2 255.3h.01M267.0 266.2h.01M259.9 263.0h.01M270.9 259.3h.01M268.1 249.9h.01M272.3 253.8h.01M275.1 265.7h.01M270.7 261.2h.01M261.8 267.3h.01M262.6 251.3h.01M273.4 264.5h.01M271.1 269.6h.01M270.4 247.8h.01M268.2 272.4h.01M268.7 249.2h.01M260.9 266.1h.01M266.5 262.3h.01M268.7 257.4h.01M264.4 257.6h.01M263.7 248.1h.01M273.8 266.9h.01M265.3 245.8h.01M267.9 271.6h.01M269.6 272.4h.01M267.6 268.3h.01M272.9 252.4h.01M263.5 263.6h.01M274.0 267.7h.01M273.4 259.2h.01M268.4 259.1h.01M266.4 267.4h.01M270.2 245.8h.01M267.5 258.7h.01M274.9 268.1h.01M262.1 267.6h.01M262.6 270.9h.01M262.8 268.9h.01M272.6 254.6h.01M266.8 270.6h.01M267.2 255.8h.01M270.4 262.2h.01M263.0 262.9h.01M266.8 265.1h.01M269.4 263.1h.01M260.8 254.9h.01M266.7 269.2h.01M268.9 253.4h.01M266.4 266.4h.01M266.0 240.7h.01M261.5 269.5h.01M274.1 269.4h.01M272.1 256.1h.01M268.6 261.9h.01M271.3 260.5h.01M261.6 271.2h.01M275.2 256.5h.01M265.8 250.5h.01M266.8 259.1h.01M261.1 257.0h.01M265.1 255.5h.01M261.6 267.1h.01M265.2 258.7h.01M266.6 252.4h.01M269.2 253.5h.01M262.2 268.8h.01M273.6 260.8h.01M274.1 254.6h.01M261.8 260.5h.01M263.2 251.5h.01M272.3 260.9h.01M265.3 255.3h.01M264.1 258.4h.01M264.7 271.0h.01M262.7 260.9h.01M274.2 266.4h.01M270.2 257.1h.01M263.7 253.9h.01M275.4 258.0h.01M265.3 254.4h.01M271.9 261.4h.01M271.4 264.7h.01M266.8 255.7h.01M270.5 265.3h.01M264.2 261.4h.01M271.4 267.3h.01M262.9 266.6h.01M263.0 271.4h.01M265.8 264.6h.01M269.9 249.4h.01M271.0 258.2h.01M264.2 259.0h.01M260.7 269.1h.01M268.5 269.0h.01M271.3 254.5h.01M261.2 269.8h.01M262.0 259.3h.01M267.0 265.1h.01M262.8 265.0h.01M265.9 259.7h.01M262.6 262.8h.01M270.9 260.4h.01M272.2 264.7h.01M274.8 268.6h.01M260.2 261.8h.01" stroke="#18b0e0" stroke-width="1.00" stroke-linecap="round" opacity="1.0"/>
<path d="M229.30 192.15V190.75H267.50V192.15" fill="none" stroke="#666" stroke-width="0.75"/>
<path d="M229.30 201.70V200.30H247.70V201.70M248.90 201.70V200.30H267.50V201.70" fill="none" stroke="#666" stroke-width="0.75"/>
<text x="248.30" y="192.62" font-size="9" fill="#222" text-anchor="middle" stroke="#222" stroke-width="0.2">***</text>
<text x="238.80" y="202.32" font-size="9" fill="#222" text-anchor="middle" stroke="#222" stroke-width="0.2">***</text>
<text x="258.10" y="202.32" font-size="9" fill="#222" text-anchor="middle" stroke="#222" stroke-width="0.2">***</text>
<line x1="229.20" y1="280.90" x2="229.20" y2="282.90" stroke="#555" stroke-width="0.8"/>
<text x="241.50" y="287.80" font-size="7.8" fill="#93d8f0" text-anchor="end" transform="rotate(-45 241.50 287.80)" stroke="#93d8f0" stroke-width="0.2">Chrna2@P2</text>
<line x1="248.20" y1="280.90" x2="248.20" y2="282.90" stroke="#555" stroke-width="0.8"/>
<text x="258.80" y="287.80" font-size="7.8" fill="#cdd822" text-anchor="end" transform="rotate(-45 258.80 287.80)" stroke="#cdd822" stroke-width="0.2">Chrna2@P7_KO</text>
<line x1="267.70" y1="280.90" x2="267.70" y2="282.90" stroke="#555" stroke-width="0.8"/>
<text x="277.20" y="287.80" font-size="7.8" fill="#2db5e3" text-anchor="end" transform="rotate(-45 277.20 287.80)" stroke="#2db5e3" stroke-width="0.2">Chrna2@P7</text>
<line x1="339.70" y1="23.10" x2="324.30" y2="74.10" stroke="#e8e8e8" stroke-width="0.8"/>
<line x1="339.70" y1="23.10" x2="397.25" y2="123.75" stroke="#e8e8e8" stroke-width="0.8"/>
<line x1="324.30" y1="74.10" x2="397.25" y2="123.75" stroke="#e8e8e8" stroke-width="0.8"/>
<line x1="339.70" y1="23.10" x2="339.70" y2="72.75" stroke="#808080" stroke-width="0.75" stroke-dasharray="1.2 1.4"/>
<line x1="339.70" y1="72.75" x2="324.30" y2="74.10" stroke="#808080" stroke-width="0.75" stroke-dasharray="1.2 1.4"/>
<line x1="339.70" y1="72.75" x2="397.25" y2="123.75" stroke="#808080" stroke-width="0.75" stroke-dasharray="1.2 1.4"/>
<circle cx="339.7" cy="23.1" r="3.1" fill="#f5073f"/>
<circle cx="339.7" cy="72.75" r="2.8" fill="#f5073f" stroke="#f8c000" stroke-width="0.8"/>
<circle cx="324.3" cy="74.1" r="2.8" fill="#f08aaa"/>
<rect x="394.55" y="121.05" width="5.4" height="5.4" fill="#d0102a"/>
<text x="340.20" y="14.30" font-size="7.6" fill="#e8204f" text-anchor="middle" stroke="#e8204f" stroke-width="0.2">Fzd6@P7</text>
<text x="315.60" y="93.30" font-size="7.6" fill="#f08aaa" text-anchor="middle" stroke="#f08aaa" stroke-width="0.2">Fzd6@P2</text>
<text x="364.80" y="131.10" font-size="7.6" fill="#d0203a" text-anchor="middle" stroke="#d0203a" stroke-width="0.2">Slc39a8@P7</text>
<line x1="382.50" y1="198.00" x2="327.00" y2="217.00" stroke="#e8e8e8" stroke-width="0.8"/>
<line x1="382.50" y1="198.00" x2="433.00" y2="289.50" stroke="#e8e8e8" stroke-width="0.8"/>
<line x1="327.00" y1="217.00" x2="433.00" y2="289.50" stroke="#e8e8e8" stroke-width="0.8"/>
<line x1="382.50" y1="198.00" x2="382.50" y2="217.50" stroke="#808080" stroke-width="0.75" stroke-dasharray="1.2 1.4"/>
<line x1="382.50" y1="217.50" x2="327.00" y2="217.00" stroke="#808080" stroke-width="0.75" stroke-dasharray="1.2 1.4"/>
<line x1="382.50" y1="217.50" x2="433.00" y2="289.50" stroke="#808080" stroke-width="0.75" stroke-dasharray="1.2 1.4"/>
<circle cx="382.5" cy="198" r="3.4" fill="#12ade2"/>
<circle cx="382.5" cy="217.5" r="3.1" fill="#12ade2" stroke="#c8d830" stroke-width="0.55"/>
<circle cx="327" cy="217" r="2.8" fill="#8ed6f0"/>
<rect x="430.2" y="286.7" width="5.6" height="5.6" fill="#2f5fb8"/>
<text x="382.20" y="189.40" font-size="7.9" fill="#16acdf" text-anchor="middle" stroke="#16acdf" stroke-width="0.2">Chrna2@P7</text>
<text x="316.20" y="232.70" font-size="7.9" fill="#8ed6f0" text-anchor="middle" stroke="#8ed6f0" stroke-width="0.2">Chrna2@P2</text>
<text x="399.70" y="296.50" font-size="7.9" fill="#2f5fb8" text-anchor="middle" stroke="#2f5fb8" stroke-width="0.2">Nmbr-1&amp;2@P7</text>
<text x="481.50" y="19.60" font-size="9" fill="#222" text-anchor="middle" stroke="#222" stroke-width="0.2">control</text>
<text x="595.5" y="19.6" font-size="9" fill="#222" text-anchor="middle"><tspan font-style="italic">Fezf2</tspan> KO</text>
<path d="M512.1 41.4 509.0 41.0 510.8 38.6zM513.3 45.0 512.1 43.1 514.3 43.0zM511.7 42.0 513.1 45.1 509.7 44.7zM506.0 34.4 508.4 36.5 505.4 37.5zM507.5 37.4 505.9 39.5 504.8 37.1zM510.4 36.7 509.6 39.4 507.6 37.4zM510.8 34.3 512.9 33.3 512.7 35.6zM508.8 46.7 507.9 44.2 510.5 44.6zM515.3 39.9 517.7 39.4 517.0 41.8zM516.7 47.9 514.1 49.9 513.6 46.7zM506.8 42.5 504.7 41.7 506.5 40.2zM507.2 38.2 504.8 38.7 505.6 36.3zM511.8 31.1 512.8 33.4 510.3 33.1zM510.7 38.3 513.6 38.5 512.0 40.9zM510.6 42.8 508.6 44.7 508.0 42.1zM510.6 37.4 508.5 35.3 511.3 34.6zM508.3 34.5 508.9 32.2 510.5 33.9zM507.4 32.9 506.7 35.4 504.9 33.5zM506.9 35.3 503.9 36.8 504.1 33.5zM507.8 38.9 507.6 41.6 505.4 40.0zM504.2 41.8 504.9 44.6 502.2 43.8zM503.9 33.7 506.6 34.1 504.9 36.3zM510.0 41.6 506.7 40.7 509.2 38.3zM511.5 41.5 509.5 42.5 509.7 40.2zM508.2 46.9 509.8 45.1 510.6 47.4zM514.2 35.1 514.2 38.4 511.4 36.7zM508.7 33.2 508.3 30.9 510.4 31.7zM511.1 38.3 513.7 37.7 512.9 40.2zM519.0 35.8 516.8 37.3 516.6 34.6zM514.5 33.2 517.8 34.0 515.5 36.4zM504.5 34.1 503.5 36.3 502.1 34.3zM509.8 46.6 511.4 44.3 512.7 46.9zM506.6 43.7 508.1 46.6 504.8 46.5zM509.3 35.9 508.1 38.6 506.3 36.2zM509.5 47.9 509.9 51.1 506.9 49.9zM512.2 43.0 508.8 42.4 511.0 39.7zM503.4 42.0 503.4 39.8 505.3 40.9zM510.8 51.2 509.7 48.4 512.7 48.9zM505.3 36.9 506.1 34.1 508.2 36.2zM506.7 34.6 507.4 37.1 504.9 36.5zM513.1 37.0 510.8 34.8 513.8 33.9zM516.6 41.1 513.2 41.0 514.9 38.1zM507.1 34.7 507.1 37.4 504.8 36.1zM512.6 45.0 515.3 43.5 515.3 46.6zM507.7 36.1 506.3 39.2 504.3 36.4zM514.6 35.6 517.0 34.3 516.9 37.0zM512.6 43.6 509.2 44.1 510.5 40.9zM509.0 40.2 508.0 37.9 510.4 38.2zM510.0 39.4 508.9 42.3 506.9 39.9zM502.0 40.3 504.5 38.5 504.8 41.5zM512.1 31.4 510.4 33.7 509.3 31.1zM513.5 35.1 510.1 35.6 511.3 32.4zM512.1 42.8 509.6 44.9 509.0 41.6zM508.7 32.7 506.7 31.0 509.2 30.1zM510.8 45.7 508.0 46.3 508.9 43.5zM511.2 30.4 509.6 32.8 508.3 30.2zM512.7 39.5 510.4 39.1 511.9 37.2zM509.3 38.7 510.4 41.0 507.9 40.8zM512.2 37.4 513.4 40.1 510.5 39.8zM504.9 40.2 505.8 37.5 507.6 39.7zM511.3 44.9 511.4 48.4 508.4 46.8zM506.1 40.5 503.2 39.1 505.8 37.3zM505.3 40.4 507.8 40.9 506.1 42.8zM514.0 37.2 512.2 35.6 514.5 34.8zM507.4 31.6 505.2 33.9 504.4 30.9zM510.8 40.6 508.5 42.0 508.5 39.2zM509.4 40.4 510.8 42.5 508.3 42.6zM505.2 43.9 506.8 41.8 507.8 44.2zM508.1 42.3 510.1 41.2 510.1 43.5zM511.5 36.4 513.6 37.5 511.6 38.8zM513.3 44.4 515.4 43.3 515.3 45.7zM507.2 49.3 509.5 49.6 508.1 51.4zM516.4 32.6 514.8 29.8 517.9 29.8zM502.2 37.0 499.7 36.7 501.2 34.7zM510.4 44.1 513.3 44.8 511.3 46.9zM514.0 40.4 511.1 40.7 512.3 38.0zM514.9 43.4 513.5 45.3 512.5 43.2zM507.2 41.8 507.8 39.6 509.4 41.2zM513.3 34.9 515.4 36.0 513.4 37.2zM506.3 35.8 507.2 33.5 508.7 35.4zM515.7 42.3 516.7 44.5 514.3 44.4zM512.7 39.3 511.9 36.4 514.9 37.2zM511.2 47.7 508.3 47.8 509.7 45.3zM509.5 48.0 507.4 46.8 509.5 45.5zM511.1 39.7 509.2 40.9 509.1 38.6zM512.0 46.4 510.7 44.1 513.4 44.1zM516.4 36.4 518.1 38.2 515.7 38.8zM517.5 36.5 515.0 35.7 516.9 34.0zM511.6 47.3 515.0 47.7 513.0 50.5zM504.1 37.4 506.3 37.3 505.3 39.3zM507.7 31.9 508.5 29.1 510.5 31.2zM510.8 39.7 511.5 43.1 508.2 42.0zM509.2 35.3 506.1 34.3 508.6 32.1zM510.0 41.7 512.1 43.8 509.2 44.6zM502.7 38.8 505.7 38.1 504.8 41.0zM510.6 51.1 510.4 48.8 512.5 49.8zM504.8 48.8 503.8 46.8 506.1 47.0zM509.1 42.0 509.9 44.4 507.4 43.9zM510.8 32.3 509.3 34.9 507.8 32.4zM502.7 52.3 504.9 54.1 502.2 55.1zM505.9 36.9 505.3 40.0 502.9 37.9zM516.7 43.0 513.8 42.1 516.0 40.0zM508.4 30.5 508.5 33.6 505.7 32.2zM503.8 40.5 503.8 43.6 501.2 42.0zM511.9 35.8 513.5 34.1 514.1 36.3zM507.5 44.2 505.8 41.7 508.9 41.4zM512.9 35.5 512.1 32.4 515.2 33.3zM515.3 43.6 515.7 47.0 512.5 45.7zM511.5 32.2 510.2 35.4 508.1 32.6zM512.2 45.3 511.0 43.3 513.3 43.2zM517.6 35.1 517.5 37.7 515.3 36.4zM517.5 36.7 516.5 39.6 514.4 37.2zM513.4 39.1 511.4 40.6 511.2 38.1zM509.9 50.3 508.9 47.4 511.9 48.0zM509.0 44.9 506.3 46.3 506.5 43.2zM507.3 39.2 510.1 38.6 509.2 41.3zM508.8 41.9 505.6 42.1 507.0 39.3zM503.8 39.0 500.8 39.6 501.8 36.6zM514.4 43.5 514.9 46.0 512.5 45.1zM504.5 32.2 504.0 34.7 502.2 33.0zM507.0 52.2 507.9 49.1 510.1 51.4zM509.7 38.6 508.7 41.8 506.4 39.2zM509.2 40.4 510.0 42.5 507.8 42.2zM507.5 39.9 507.2 43.2 504.5 41.3zM513.1 45.3 511.9 47.6 510.5 45.4zM507.7 46.7 504.7 45.6 507.1 43.5zM515.0 52.8 514.0 50.3 516.7 50.7zM515.9 42.1 515.0 44.3 513.5 42.4zM513.0 59.2 512.1 56.7 514.7 57.2zM507.9 35.8 508.4 39.1 505.2 37.9zM517.4 33.8 515.2 32.5 517.4 31.2zM508.9 31.0 509.8 33.3 507.3 33.0zM513.5 29.2 516.3 29.5 514.7 31.7zM515.7 31.2 515.6 33.8 513.5 32.4zM507.9 32.8 510.6 31.7 510.2 34.6zM515.4 32.9 513.2 33.5 513.8 31.3zM511.0 31.8 509.4 30.2 511.6 29.6zM516.1 33.6 517.0 30.8 518.9 33.0zM514.8 32.1 517.3 30.4 517.6 33.4zM514.9 30.1 518.1 30.0 516.6 32.7zM513.5 29.1 513.2 31.3 511.4 30.0zM510.4 31.7 508.2 32.0 509.1 29.9zM509.3 30.6 511.7 30.2 510.9 32.4zM512.9 32.4 515.0 31.0 515.2 33.6zM513.6 32.0 515.0 29.6 516.3 32.0zM512.8 33.6 515.0 33.7 513.7 35.6zM512.1 32.0 514.3 30.7 514.3 33.3zM515.2 29.7 517.9 29.2 517.0 31.8zM512.9 34.1 510.3 35.2 510.7 32.4zM509.1 33.3 512.3 32.7 511.3 35.8zM512.3 31.0 514.3 29.3 514.6 31.9zM510.3 34.8 508.0 35.7 508.4 33.3zM517.5 28.9 515.6 31.1 514.6 28.4zM516.4 31.2 515.3 33.2 514.0 31.3zM514.3 31.5 511.4 29.9 514.2 28.2zM513.9 33.0 511.1 33.6 511.9 30.9zM510.6 31.8 513.2 33.1 510.8 34.7zM513.9 31.9 515.9 33.0 513.9 34.2zM512.9 32.6 515.8 32.0 514.9 34.7zM515.2 32.0 516.1 34.6 513.4 34.2zM495.7 44.3 495.5 41.6 498.0 42.8zM496.0 46.4 493.3 44.8 496.0 43.2zM489.8 36.8 492.2 36.1 491.6 38.6zM492.2 41.6 494.2 43.3 491.8 44.2zM496.3 40.9 499.4 39.3 499.2 42.7zM491.7 41.1 490.1 43.3 488.9 40.8zM497.5 43.6 496.1 40.8 499.3 41.0zM500.8 40.1 498.3 42.2 497.7 39.0zM496.9 45.8 500.0 46.0 498.2 48.6zM492.4 39.3 490.2 40.6 490.2 38.1zM499.0 52.2 495.9 52.1 497.6 49.4zM498.4 41.1 496.9 43.6 495.5 41.0zM499.6 43.1 499.1 40.4 501.7 41.3zM490.3 39.1 487.5 40.6 487.6 37.5zM501.7 36.7 499.7 38.2 499.4 35.8zM487.9 43.6 490.6 43.6 489.2 46.0zM494.2 44.1 497.4 45.1 494.9 47.4zM491.5 38.2 491.7 41.2 489.0 39.9zM495.0 38.6 492.5 39.4 493.1 36.8zM493.1 43.0 493.0 39.9 495.8 41.4zM499.3 42.8 496.9 41.9 498.8 40.3zM494.7 44.6 491.6 44.0 493.7 41.7zM500.9 45.1 498.5 46.4 498.6 43.7zM494.9 42.4 495.2 39.0 497.9 41.0zM494.7 38.6 491.7 39.2 492.7 36.2zM493.8 42.3 495.5 40.4 496.3 42.9zM503.0 42.9 500.4 43.8 501.0 41.1zM499.7 45.5 497.3 47.6 496.7 44.5zM488.2 41.2 486.1 40.1 488.1 38.8zM492.3 41.9 495.2 41.0 494.4 44.0zM492.2 43.6 490.2 46.5 488.8 43.4zM499.5 42.4 498.9 44.7 497.2 43.1zM496.3 39.1 497.9 37.2 498.7 39.6zM498.3 39.1 500.8 39.6 499.2 41.5zM485.6 43.1 487.6 40.4 489.0 43.4zM496.4 41.8 495.0 38.8 498.3 39.1zM487.2 37.6 489.7 38.0 488.1 39.9zM498.3 43.3 500.8 45.1 498.0 46.4zM492.7 46.3 493.9 43.2 496.0 45.8zM494.4 36.8 495.7 39.5 492.7 39.3zM496.6 41.9 499.3 43.7 496.4 45.2zM489.6 36.9 492.7 36.7 491.3 39.5zM489.4 45.5 491.7 44.0 491.9 46.8zM492.7 51.5 493.2 48.9 495.2 50.7zM493.0 42.4 493.1 45.0 490.7 43.8zM494.8 40.7 497.4 40.3 496.4 42.8zM497.1 38.6 499.5 38.8 498.2 40.7zM496.2 38.7 493.7 39.6 494.2 37.0zM486.0 44.0 484.6 41.1 487.9 41.3zM490.7 36.2 491.8 39.3 488.6 38.7zM487.6 53.2 490.1 51.5 490.4 54.5zM488.3 61.0 489.4 63.3 486.8 63.2zM488.5 57.4 485.1 56.9 487.2 54.2zM479.9 57.5 478.6 59.4 477.7 57.3zM491.8 50.3 489.1 48.6 492.0 47.1zM488.8 53.9 491.7 55.4 489.0 57.1zM483.2 54.5 485.2 53.0 485.4 55.5zM501.2 52.4 498.5 50.5 501.5 49.1zM482.3 54.0 485.1 53.2 484.3 56.0zM483.4 43.7 486.5 44.2 484.5 46.5zM489.6 59.8 488.7 57.7 491.0 58.0zM497.5 50.4 496.2 52.5 495.1 50.3zM478.2 55.6 479.8 57.9 477.0 58.1zM478.8 55.6 478.7 52.2 481.7 53.8zM483.2 53.0 485.2 55.5 482.0 56.0zM482.7 59.1 481.9 56.1 484.9 56.9zM479.2 67.2 479.8 64.1 482.2 66.1zM491.5 49.8 491.0 52.1 489.3 50.5zM480.6 51.5 481.1 54.2 478.6 53.2zM484.8 50.2 481.8 51.1 482.6 48.1zM494.8 57.4 495.1 59.9 492.8 59.0zM478.6 55.1 481.1 56.8 478.4 58.2zM484.2 57.1 487.5 56.6 486.3 59.7zM481.8 62.9 483.5 65.3 480.6 65.5zM487.7 63.7 485.9 65.1 485.5 62.9zM482.0 59.3 484.8 60.4 482.4 62.3zM484.4 60.6 487.1 62.4 484.3 63.8zM483.5 48.6 485.5 47.4 485.5 49.8zM478.6 49.7 480.8 50.5 479.0 52.0zM490.6 54.4 490.3 57.4 487.8 55.6zM488.0 60.4 485.0 59.9 487.0 57.5zM496.2 50.7 494.0 48.4 497.1 47.7zM493.2 65.9 491.1 66.4 491.6 64.3zM481.1 52.2 481.9 49.6 483.7 51.6zM487.3 55.8 488.3 53.8 489.5 55.6zM484.3 53.6 481.9 55.0 481.9 52.2zM494.8 56.7 497.6 58.7 494.4 60.1zM481.5 44.0 482.2 46.5 479.6 45.8zM477.5 55.2 479.9 53.1 480.5 56.2zM480.4 51.2 480.4 48.3 483.0 49.8zM488.8 53.6 490.1 50.8 491.9 53.3zM482.8 56.0 483.3 53.7 485.0 55.3zM493.1 56.0 495.0 53.9 495.8 56.6zM488.7 53.8 491.3 53.5 490.3 55.9zM494.4 49.5 494.3 46.3 497.1 47.8zM479.4 50.1 480.3 52.2 478.0 51.9zM496.3 61.7 499.0 60.1 499.1 63.3zM480.9 52.3 478.1 52.7 479.1 50.1zM489.9 55.9 487.6 54.1 490.3 53.0zM489.9 52.5 491.1 49.8 492.9 52.3zM475.2 56.1 477.3 56.8 475.6 58.3zM492.5 47.2 493.1 45.0 494.8 46.7zM476.0 51.4 474.4 53.0 473.8 50.8zM475.3 57.4 473.4 55.9 475.7 55.1zM480.2 58.9 477.4 58.1 479.5 56.1zM484.0 56.5 482.3 53.8 485.5 53.7zM491.8 52.7 489.3 54.7 488.8 51.5zM479.4 59.9 479.0 57.5 481.3 58.3zM478.2 62.5 475.4 61.2 477.9 59.4zM484.0 52.5 480.5 52.2 482.5 49.4zM489.1 54.4 489.4 57.5 486.6 56.3zM490.3 46.2 488.8 47.9 488.1 45.8zM481.8 57.0 479.1 56.0 481.3 54.2zM487.5 52.4 489.6 53.5 487.6 54.7zM492.5 52.8 494.7 52.1 494.2 54.4zM490.6 60.3 491.4 58.1 492.9 59.9zM488.5 51.3 489.4 54.3 486.3 53.6zM491.1 54.8 491.3 57.5 488.9 56.4zM490.7 51.2 487.9 49.8 490.6 48.1zM487.6 62.6 488.9 60.6 490.0 62.7zM485.8 54.9 483.4 55.9 483.7 53.3zM483.4 57.3 486.1 57.9 484.3 60.0zM472.6 62.7 473.6 60.7 474.9 62.5zM487.2 52.4 490.5 51.5 489.6 54.8zM488.4 61.3 485.8 59.5 488.7 58.2zM489.8 58.3 486.7 58.3 488.3 55.6zM491.6 55.7 493.3 53.1 494.8 55.9zM489.5 60.2 492.0 61.2 489.9 62.8zM490.3 49.6 490.2 52.4 487.8 50.9zM492.5 64.0 489.9 65.9 489.6 62.7zM486.0 56.5 483.1 57.8 483.4 54.6zM487.0 57.5 490.3 57.5 488.6 60.4zM482.2 53.0 485.2 53.2 483.5 55.7zM496.6 56.6 499.1 57.0 497.5 58.9zM480.5 58.2 483.2 56.3 483.5 59.5zM487.3 63.0 484.9 61.8 487.2 60.3zM476.8 52.7 477.9 55.8 474.7 55.2zM492.6 49.1 490.5 47.7 492.8 46.6zM481.6 54.6 483.3 57.3 480.1 57.4zM486.1 53.9 485.3 51.7 487.6 52.1zM489.6 48.2 486.3 48.2 487.9 45.2zM482.4 62.3 480.8 63.9 480.2 61.8zM481.1 57.2 482.0 54.8 483.7 56.7zM484.3 59.1 485.9 56.7 487.2 59.3zM486.4 56.3 488.7 54.5 489.1 57.4zM491.4 55.4 494.1 54.4 493.6 57.3zM477.2 50.0 476.1 52.3 474.7 50.2zM495.3 61.1 492.7 59.0 495.8 57.9zM483.4 46.3 485.3 45.0 485.5 47.3zM481.6 62.7 483.4 65.0 480.5 65.4zM492.9 58.7 494.6 60.6 492.1 61.1zM483.7 46.5 482.9 48.8 481.3 46.9zM487.3 47.3 487.7 49.8 485.3 48.9zM490.1 51.6 489.5 54.8 487.1 52.6zM483.3 55.6 484.0 58.6 481.0 57.7zM489.1 52.9 490.1 56.0 487.0 55.3zM483.7 52.5 485.2 54.3 482.9 54.7zM480.7 56.1 481.6 52.9 483.9 55.3zM497.9 56.2 495.7 57.1 496.0 54.7zM481.1 50.0 481.2 53.3 478.3 51.7zM478.9 52.1 480.0 55.0 476.9 54.5zM484.2 53.3 486.7 53.0 485.7 55.3zM486.7 60.3 487.2 57.8 489.1 59.5zM488.6 49.0 490.3 46.7 491.5 49.4zM489.1 49.2 491.9 47.3 492.2 50.7zM489.3 53.1 489.1 56.0 486.7 54.5zM497.0 54.7 494.6 53.9 496.5 52.2zM486.6 53.7 484.2 53.1 485.8 51.3zM490.2 56.6 490.8 54.3 492.5 55.9zM485.2 60.1 482.6 57.8 485.8 56.7zM497.2 62.3 499.1 60.8 499.4 63.2zM496.0 50.2 495.5 53.0 493.4 51.2zM487.2 54.3 485.3 56.6 484.2 53.8zM475.0 61.0 477.9 62.4 475.2 64.3zM479.1 56.8 476.2 57.0 477.5 54.4zM479.4 53.5 479.6 55.8 477.5 54.9zM490.4 55.1 492.6 56.9 490.0 58.0zM481.4 52.3 479.7 50.5 482.1 49.9zM493.5 53.6 490.8 55.5 490.5 52.2zM487.9 58.0 486.9 60.1 485.6 58.1zM493.0 61.4 495.2 63.1 492.6 64.2zM491.9 51.3 488.7 51.6 490.0 48.7zM493.2 64.6 490.1 63.9 492.2 61.5zM483.5 52.2 480.4 50.7 483.2 48.8zM484.9 50.5 486.8 52.6 484.1 53.2zM477.0 51.9 478.3 49.3 479.9 51.8zM490.5 52.3 487.2 52.7 488.5 49.6zM487.6 59.0 488.6 62.1 485.4 61.4zM505.3 57.5 503.9 60.2 502.3 57.6zM478.9 57.9 482.1 58.3 480.2 60.8zM484.8 57.2 485.6 54.0 488.0 56.3zM492.0 59.6 490.3 57.2 493.2 56.9zM476.6 48.1 479.7 47.2 478.9 50.3zM489.0 56.8 487.8 59.1 486.4 56.9zM497.0 57.1 499.3 55.7 499.4 58.4zM483.2 53.5 482.8 50.1 485.9 51.5zM480.8 46.3 483.7 47.5 481.2 49.4zM479.3 53.0 476.5 51.3 479.4 49.8zM487.2 49.0 487.6 51.4 485.3 50.6zM486.3 54.4 484.7 51.9 487.6 51.8zM505.0 53.4 507.6 53.9 505.9 55.9zM509.8 55.1 508.3 58.0 506.5 55.3zM495.5 57.7 496.7 55.8 497.8 57.8zM507.6 55.1 506.2 53.0 508.7 52.8zM506.6 52.1 509.4 53.0 507.2 55.0zM509.2 52.4 506.9 54.2 506.5 51.3zM508.4 58.4 509.5 55.8 511.3 58.1zM501.7 51.6 502.7 54.5 499.7 53.9zM510.8 56.4 510.4 59.1 508.3 57.4zM506.0 50.7 509.2 50.7 507.6 53.5zM505.7 57.6 502.9 57.4 504.5 55.1zM507.3 54.4 510.1 56.0 507.3 57.6zM505.1 54.9 503.3 56.4 502.9 54.1zM506.4 51.2 504.7 52.7 504.2 50.5zM502.8 51.5 503.9 53.6 501.6 53.5zM502.4 58.8 499.8 58.5 501.3 56.4zM510.8 58.2 510.9 60.8 508.5 59.6zM505.6 53.2 503.1 54.5 503.2 51.6zM507.0 55.1 507.8 52.9 509.3 54.7zM507.6 54.9 504.9 56.4 505.0 53.2zM500.0 62.3 499.9 59.7 502.2 61.0zM500.1 50.2 501.7 48.6 502.4 50.8zM509.9 50.1 511.8 52.4 508.8 52.8zM511.5 59.1 509.6 56.8 512.5 56.2zM507.0 55.2 508.5 53.0 509.7 55.4zM499.6 51.6 502.3 49.6 502.6 52.9zM508.7 55.8 506.6 56.6 507.0 54.4zM501.6 52.8 501.5 50.3 503.8 51.5zM501.9 56.2 504.1 54.0 504.9 57.0zM507.2 59.7 509.3 58.1 509.6 60.8zM504.4 60.2 507.3 61.2 505.0 63.3zM511.5 61.2 509.5 63.5 508.5 60.6zM504.7 57.6 503.6 59.6 502.5 57.6zM511.5 47.7 512.3 50.0 510.0 49.6zM510.6 59.6 508.9 56.7 512.3 56.6zM512.0 56.2 510.3 58.2 509.4 55.6zM512.1 52.9 512.4 55.7 509.9 54.5zM505.6 60.0 503.6 58.8 505.7 57.6zM508.8 51.9 509.4 49.3 511.3 51.1zM510.1 59.8 513.1 59.6 511.8 62.3zM512.6 52.9 510.4 54.7 510.0 51.9zM511.9 56.2 513.5 59.0 510.3 58.9zM509.8 56.8 510.1 54.6 511.9 56.0zM504.0 51.9 507.2 52.8 504.9 55.1zM503.5 60.3 504.6 58.1 505.9 60.1zM505.0 54.7 502.6 54.0 504.4 52.2zM510.2 54.9 507.4 56.7 507.3 53.4zM500.4 52.9 498.9 54.9 497.9 52.6zM504.4 63.5 505.1 60.6 507.3 62.7zM510.2 53.3 508.2 52.1 510.3 51.0zM504.1 55.1 501.3 54.9 502.8 52.6zM506.6 52.2 509.2 52.3 507.8 54.5zM508.9 48.9 510.0 51.6 507.2 51.2zM507.3 61.7 507.8 59.3 509.7 60.9zM496.4 54.3 498.2 56.4 495.5 56.9zM509.2 56.2 508.7 59.6 506.0 57.4zM506.5 54.2 509.2 55.8 506.5 57.3zM506.4 57.2 508.3 54.6 509.6 57.5zM506.9 63.4 506.5 61.0 508.7 61.9zM510.2 58.0 512.7 59.7 510.0 61.0zM488.9 67.2 488.8 64.1 491.5 65.6zM502.5 62.2 501.1 64.4 499.9 62.1zM500.7 59.9 502.4 62.1 499.6 62.5zM489.2 67.4 489.5 64.0 492.3 65.9zM479.5 66.7 481.5 67.7 479.6 68.9zM501.9 69.1 503.7 71.8 500.5 72.0zM490.9 78.0 492.8 76.7 493.0 79.0zM497.9 68.4 499.0 71.0 496.3 70.6zM492.6 69.4 493.0 72.1 490.4 71.0zM481.0 69.7 483.0 67.3 484.1 70.2zM506.7 75.7 505.4 72.6 508.7 73.0zM490.4 71.6 488.9 68.7 492.2 68.8zM484.3 69.6 485.1 72.1 482.6 71.6zM487.8 63.7 489.6 66.1 486.7 66.5zM489.1 65.8 489.6 63.0 491.8 64.8zM506.1 76.3 504.2 75.2 506.1 74.0zM493.8 68.1 491.5 70.1 490.9 67.1zM505.6 65.1 506.6 67.5 504.0 67.2zM492.3 64.0 490.2 65.0 490.4 62.7zM504.1 70.2 503.6 67.7 506.0 68.5zM492.6 66.0 494.8 64.7 494.8 67.2zM489.2 71.8 487.9 74.2 486.5 71.9zM488.0 66.8 488.0 64.1 490.3 65.5zM482.7 64.0 481.4 62.1 483.7 61.9zM489.6 64.4 492.0 65.4 489.9 67.0zM482.1 66.1 483.5 63.1 485.5 65.8zM493.2 53.4 494.6 56.4 491.3 56.1zM496.7 65.2 499.7 66.3 497.2 68.3zM484.9 65.0 486.2 67.5 483.4 67.4zM498.0 66.8 497.3 69.4 495.5 67.5zM493.6 69.6 493.1 66.7 495.9 67.7zM496.9 60.4 499.9 60.6 498.2 63.1zM488.9 69.0 491.1 69.2 489.8 71.1zM494.9 61.2 495.1 64.3 492.3 62.9zM493.4 64.0 491.8 66.0 490.8 63.6zM494.0 61.7 492.5 59.0 495.6 59.0zM484.0 62.1 481.4 61.3 483.3 59.5zM494.5 79.6 492.4 81.3 492.0 78.7zM498.9 73.7 501.5 72.5 501.2 75.3zM494.0 73.8 495.5 76.6 492.4 76.5zM495.0 69.5 495.8 66.5 498.0 68.7zM499.8 61.5 502.4 61.0 501.5 63.6zM477.9 63.3 478.6 60.6 480.6 62.6zM502.2 72.6 503.7 71.0 504.3 73.1zM496.6 66.9 494.3 67.9 494.6 65.5zM491.9 68.0 494.7 70.0 491.5 71.4zM489.3 71.7 487.3 72.7 487.4 70.5zM485.4 74.0 488.5 73.0 487.9 76.2zM492.5 62.4 492.0 64.7 490.2 63.2zM491.2 65.0 490.8 62.0 493.6 63.2zM493.9 57.5 493.9 60.8 491.0 59.2zM489.5 69.7 489.7 66.7 492.3 68.3zM495.3 65.1 497.8 65.4 496.3 67.4zM502.1 58.3 503.3 60.4 500.9 60.4zM491.8 64.1 493.9 65.8 491.4 66.7zM494.1 64.8 495.2 67.8 492.0 67.2zM504.2 69.2 501.6 68.0 503.9 66.3zM488.9 78.9 487.8 81.7 485.9 79.3zM492.8 67.6 494.3 65.7 495.2 68.0zM500.6 66.4 498.2 64.9 500.7 63.5zM492.7 70.2 493.6 73.3 490.5 72.6zM486.5 64.1 486.7 67.1 484.0 65.8zM501.8 76.2 499.8 78.2 499.0 75.4zM491.4 66.9 494.6 65.9 493.8 69.2zM501.8 58.9 502.5 62.1 499.4 61.1zM487.9 65.2 488.7 62.4 490.7 64.5zM481.3 54.9 478.1 54.5 480.1 51.9zM490.8 74.0 489.7 71.2 492.7 71.7zM499.8 74.3 497.3 75.2 497.9 72.6zM476.2 68.3 473.7 67.4 475.7 65.7zM501.8 62.4 504.5 63.3 502.4 65.2zM486.5 70.1 483.7 70.6 484.6 67.9zM495.5 71.2 492.9 72.2 493.3 69.5zM494.2 72.3 495.0 75.1 492.1 74.4zM497.3 70.4 498.1 67.4 500.2 69.6zM489.8 70.6 492.5 70.4 491.4 72.9zM487.9 73.7 489.0 70.8 491.0 73.2zM500.5 71.2 503.4 72.2 501.1 74.1zM486.4 71.5 483.2 70.5 485.7 68.2zM497.3 71.1 496.8 73.5 495.0 71.8zM483.4 63.4 484.5 65.9 481.8 65.6zM494.0 73.2 494.3 76.0 491.7 74.9zM488.7 71.0 491.5 71.9 489.2 73.9zM493.8 76.0 496.6 77.1 494.2 78.9zM495.1 58.7 497.7 59.9 495.4 61.5zM490.6 69.0 492.8 68.0 492.5 70.4zM501.4 70.0 504.0 70.8 502.1 72.6zM493.7 62.4 490.5 62.9 491.6 59.9zM493.3 66.0 495.6 67.3 493.3 68.7zM502.0 70.7 505.0 72.4 502.0 74.2zM485.4 58.0 482.5 56.8 485.0 54.9zM492.4 69.2 490.4 70.4 490.4 68.1zM487.5 66.9 485.8 64.8 488.4 64.4zM503.3 71.2 501.6 72.8 501.1 70.6zM480.7 69.3 483.1 68.6 482.5 71.0zM495.7 68.0 493.7 67.1 495.5 65.8zM496.5 71.7 497.6 69.3 499.1 71.4zM509.8 70.5 510.3 67.3 512.8 69.4zM487.5 66.2 489.0 63.9 490.2 66.3zM497.2 77.0 499.9 76.2 499.3 79.0zM497.7 68.9 499.7 71.1 496.8 71.7zM494.0 66.6 495.9 63.8 497.4 66.9zM496.1 61.6 493.9 63.7 493.2 60.7zM499.6 69.0 499.8 71.4 497.6 70.4zM497.0 63.0 494.9 65.6 493.7 62.6zM490.7 64.9 493.0 64.0 492.7 66.5zM494.3 66.0 497.4 65.3 496.4 68.3zM494.8 72.2 497.5 71.2 497.0 74.1zM501.3 64.0 502.4 61.2 504.2 63.6zM492.2 60.8 492.9 64.0 489.8 63.0zM503.0 65.6 500.7 63.3 503.9 62.5zM502.3 64.3 504.7 65.3 502.6 66.9zM501.9 64.2 501.5 66.7 499.6 65.1zM493.6 70.0 490.6 68.9 493.0 66.9zM496.1 67.1 494.0 68.6 493.7 66.1zM497.0 73.7 499.4 72.6 499.2 75.2zM498.5 64.3 501.7 65.1 499.5 67.5zM482.6 67.3 481.7 70.2 479.6 68.0zM497.7 60.6 499.7 62.3 497.2 63.2zM496.8 65.4 498.0 63.4 499.1 65.4zM503.4 65.5 501.2 64.3 503.3 63.0zM487.0 63.6 489.9 64.3 487.8 66.5zM497.0 63.2 494.6 64.0 495.2 61.5zM508.9 64.4 511.3 66.6 508.1 67.5zM505.4 65.1 507.6 66.8 505.0 67.9zM493.4 64.8 490.8 65.8 491.3 63.0zM490.2 70.1 488.1 71.3 488.1 68.9zM502.4 70.4 500.5 67.7 503.7 67.4zM488.3 67.2 489.2 70.3 486.1 69.5zM487.4 55.4 488.7 53.6 489.6 55.6zM495.3 57.5 496.3 60.8 493.0 60.0zM488.1 67.8 490.8 67.2 490.0 69.8zM492.2 67.9 489.8 66.9 491.8 65.3zM502.8 72.4 505.7 71.2 505.3 74.4zM505.7 70.0 502.9 69.7 504.6 67.4zM497.2 76.8 494.5 78.0 494.9 75.1zM488.1 69.6 490.5 68.2 490.5 71.0zM494.9 70.8 493.7 68.7 496.1 68.7zM499.5 67.2 498.5 70.5 496.2 68.0zM497.7 63.3 501.0 62.5 500.0 65.8zM496.1 63.8 497.2 61.3 498.8 63.5zM500.5 73.8 500.9 71.5 502.7 73.0zM491.7 66.8 491.8 64.1 494.1 65.5zM493.3 69.2 495.2 71.0 492.7 71.7zM482.2 64.2 483.3 61.3 485.3 63.7zM498.6 67.0 501.2 65.4 501.3 68.4zM483.9 57.8 485.2 55.7 486.4 57.8zM489.5 60.3 490.7 57.7 492.4 60.1zM495.8 66.3 495.3 69.0 493.2 67.2zM507.3 62.7 505.2 62.1 506.8 60.6zM499.9 61.8 497.5 63.7 497.2 60.7zM487.7 65.2 487.8 68.5 484.9 66.9zM486.7 76.2 489.2 75.9 488.3 78.2zM492.1 64.3 494.0 63.0 494.2 65.3zM507.7 63.3 511.1 62.7 509.9 65.9zM489.8 67.6 491.3 65.2 492.6 67.7zM488.2 72.6 487.0 69.6 490.2 70.1zM503.2 60.5 502.1 63.2 500.3 60.9zM489.2 66.5 490.6 64.6 491.6 66.8zM483.2 60.5 485.5 60.9 483.9 62.8zM490.9 64.9 490.0 62.4 492.6 62.9zM495.7 73.5 494.3 70.8 497.4 70.9zM493.5 67.9 496.7 68.5 494.6 71.0zM487.7 63.0 488.9 66.0 485.7 65.5zM496.4 72.2 494.8 69.7 497.8 69.6zM494.1 69.0 493.7 72.0 491.4 70.2zM491.8 63.9 490.5 61.1 493.6 61.3zM494.7 67.0 495.1 64.1 497.5 65.9zM482.9 70.4 482.9 73.2 480.4 71.8zM494.7 71.7 496.7 69.7 497.4 72.4zM489.2 73.4 492.3 74.6 489.8 76.7zM495.1 72.5 497.7 70.9 497.8 73.9zM488.5 64.5 491.1 66.4 488.1 67.7zM503.7 68.6 500.8 68.3 502.4 65.9zM494.8 75.8 492.6 75.3 494.1 73.7zM502.6 70.5 499.5 69.0 502.3 67.1zM505.0 59.5 508.2 59.8 506.3 62.4zM491.7 64.2 494.7 64.2 493.2 66.8zM502.6 76.8 502.9 73.8 505.3 75.5zM490.2 70.1 489.1 67.4 492.0 67.9zM502.6 77.6 505.3 76.5 504.9 79.4zM502.2 80.8 499.5 80.1 501.5 78.1zM494.3 76.7 493.5 74.6 495.7 75.0zM499.7 73.0 500.8 75.1 498.4 75.0zM504.7 78.1 502.8 80.3 501.9 77.6zM503.3 78.7 503.7 76.4 505.4 77.9zM502.8 72.1 500.1 73.4 500.3 70.3zM497.7 71.1 499.7 72.8 497.2 73.7zM502.3 74.2 501.9 76.8 499.9 75.2zM498.3 77.7 500.5 76.8 500.1 79.2zM497.3 81.4 497.7 78.3 500.2 80.2zM503.5 72.8 505.0 70.8 506.0 73.1zM504.2 74.5 507.1 73.0 507.0 76.2zM495.1 73.9 497.6 73.9 496.3 76.1zM494.8 76.3 494.0 78.5 492.5 76.7zM505.6 68.5 506.9 70.9 504.2 70.8zM500.4 77.8 502.8 77.0 502.3 79.5zM502.9 79.7 501.8 77.5 504.2 77.7zM500.2 73.6 503.2 72.8 502.3 75.8zM505.5 77.2 503.3 78.4 503.4 75.8zM501.6 77.2 504.5 75.3 504.7 78.7zM496.9 75.6 499.4 74.2 499.4 77.1zM501.4 79.5 503.7 78.8 503.1 81.2zM489.3 70.7 491.6 69.9 491.2 72.3zM492.6 72.1 493.3 75.2 490.3 74.3zM496.8 75.2 497.8 77.5 495.3 77.2zM497.1 81.5 498.5 79.6 499.5 81.7zM495.6 72.5 498.1 72.4 496.9 74.6zM496.6 73.2 496.8 76.1 494.2 74.8zM500.9 75.7 499.0 73.4 501.9 72.9zM494.0 71.6 495.3 68.9 497.0 71.4zM501.7 72.9 500.9 75.0 499.4 73.3zM494.9 76.7 493.6 73.7 496.8 74.0zM502.6 84.8 499.7 84.1 501.8 82.0zM508.9 72.0 507.2 73.8 506.5 71.4zM498.8 67.5 497.8 69.8 496.3 67.8zM488.9 68.0 491.9 67.8 490.6 70.5zM505.8 76.1 502.5 76.2 504.1 73.3zM493.4 72.1 493.5 74.4 491.5 73.3zM495.4 73.5 498.1 71.5 498.5 74.9zM505.8 69.7 506.1 67.0 508.3 68.6zM497.0 77.9 496.8 75.6 498.9 76.6zM503.5 68.5 500.4 68.3 502.2 65.8zM500.4 73.0 499.1 69.8 502.4 70.2zM498.5 68.7 497.2 71.5 495.4 69.0zM501.6 87.7 504.3 86.1 504.3 89.2zM506.5 74.8 503.5 76.3 503.7 72.9zM493.1 78.9 490.8 80.7 490.3 77.8zM503.8 70.9 506.9 70.6 505.6 73.4zM506.0 69.0 503.3 70.5 503.4 67.4zM492.8 77.3 493.4 75.1 494.9 76.7zM491.3 79.5 493.4 76.8 494.7 79.9zM505.3 75.3 507.9 75.4 506.5 77.5zM500.3 81.9 503.1 80.3 503.0 83.6zM503.5 82.4 500.3 81.1 503.0 79.0zM507.4 73.0 505.3 72.0 507.3 70.6zM502.5 79.4 499.4 80.5 499.9 77.2zM500.1 75.6 503.1 76.3 501.0 78.5zM494.0 75.2 495.0 73.0 496.4 75.0zM497.4 81.1 497.9 78.7 499.7 80.4zM488.6 82.7 491.7 82.5 490.3 85.2zM485.9 86.4 488.4 85.6 487.9 88.2zM492.3 82.1 491.0 79.4 494.1 79.6zM491.8 89.8 489.1 87.8 492.1 86.4zM490.1 76.3 492.6 74.9 492.6 77.8zM487.7 76.5 487.4 78.8 485.5 77.4zM491.9 85.0 490.2 87.8 488.5 84.9zM485.8 84.9 486.5 82.6 488.2 84.3zM487.4 88.0 487.9 90.2 485.7 89.6zM488.6 81.0 490.1 83.8 487.0 83.7zM491.5 87.0 489.4 86.2 491.1 84.8zM492.6 83.1 489.6 82.4 491.6 80.1zM486.4 84.7 488.5 82.0 489.8 85.1zM492.1 82.0 488.9 81.0 491.4 78.7zM486.7 80.8 484.8 82.5 484.2 80.0zM491.9 81.0 488.7 81.4 489.9 78.4zM481.8 79.3 484.6 80.5 482.1 82.4zM486.2 85.5 484.3 84.2 486.4 83.2zM485.2 82.3 484.1 79.2 487.3 79.8zM498.8 83.9 495.8 85.2 496.1 82.0zM484.1 88.0 482.1 86.3 484.6 85.4zM484.5 78.1 487.8 77.8 486.5 80.8zM489.5 76.1 492.3 75.5 491.4 78.3zM487.8 82.4 489.2 85.2 486.1 84.9zM492.4 78.8 492.2 81.4 490.1 79.9zM487.5 81.1 485.2 83.6 484.2 80.3zM493.5 73.9 495.0 75.7 492.7 76.0zM490.5 84.4 491.5 81.3 493.7 83.7zM494.8 79.4 493.0 77.2 495.7 76.7zM492.8 80.0 492.7 77.5 494.9 78.7zM488.0 79.9 490.7 79.6 489.6 82.1zM490.5 84.1 490.7 86.4 488.5 85.4zM486.3 76.7 485.2 79.1 483.6 77.0zM491.2 79.2 492.7 81.2 490.2 81.5zM494.1 88.1 491.9 88.1 493.0 86.1zM486.8 82.8 485.8 80.6 488.2 80.8zM483.4 73.1 486.3 74.0 484.1 76.0zM489.4 83.8 488.2 86.5 486.4 84.1zM491.7 81.4 494.2 81.0 493.3 83.4zM498.5 80.4 495.7 81.3 496.3 78.4zM488.9 81.7 485.9 80.0 488.9 78.2zM485.4 79.8 487.3 81.1 485.2 82.1zM483.5 81.0 485.0 79.1 485.9 81.3zM491.0 82.5 488.6 83.8 488.6 81.1zM484.3 83.4 483.0 85.3 482.0 83.2zM485.8 83.7 483.5 85.2 483.3 82.5zM487.8 76.6 487.1 73.3 490.3 74.4zM482.6 86.9 482.3 84.6 484.5 85.5zM486.7 78.6 485.0 81.5 483.3 78.6zM486.3 80.7 487.4 83.7 484.3 83.1zM489.0 81.4 491.4 79.1 492.1 82.3zM494.7 80.8 496.0 78.3 497.6 80.6zM486.8 82.8 484.2 81.4 486.6 79.9zM488.5 86.2 490.3 88.1 487.8 88.6zM500.1 81.8 497.9 81.0 499.7 79.5zM485.9 84.7 487.7 83.2 488.1 85.5zM486.0 86.2 487.6 83.6 489.0 86.3zM484.7 86.0 481.6 86.5 482.7 83.5zM492.4 92.3 490.0 92.1 491.4 90.2zM482.6 83.1 485.7 84.6 482.9 86.5zM492.5 79.6 489.5 79.0 491.5 76.7zM487.9 79.1 489.8 77.5 490.2 79.9zM481.1 75.6 483.8 75.4 482.7 77.9zM485.6 79.3 486.6 76.2 488.8 78.6zM478.1 84.0 481.3 83.5 480.1 86.5zM491.1 79.4 487.8 80.2 488.7 77.0zM480.7 80.2 478.9 77.9 481.7 77.5zM482.9 81.1 480.4 81.4 481.4 79.1zM484.5 91.8 487.0 89.8 487.4 93.0zM490.9 84.4 492.0 87.0 489.2 86.6zM494.5 79.9 493.0 77.4 495.9 77.3zM490.9 71.9 491.5 69.6 493.2 71.2zM487.1 83.5 488.5 86.3 485.3 86.1zM492.1 77.7 490.1 76.5 492.1 75.4zM483.9 71.8 485.7 74.5 482.4 74.7zM485.8 77.4 483.1 77.5 484.3 75.1zM488.8 77.6 490.8 79.3 488.3 80.2zM491.2 80.3 491.8 82.5 489.6 81.9zM485.0 88.3 487.5 87.9 486.6 90.2zM493.4 75.6 494.9 77.2 492.7 77.7zM489.9 95.4 491.9 97.3 489.2 98.1zM489.8 94.5 491.6 96.0 489.3 96.8zM483.5 91.0 483.5 94.0 480.9 92.5zM482.9 89.0 479.8 89.9 480.5 86.7zM486.1 100.3 483.7 98.9 486.1 97.6zM486.0 96.3 486.4 93.1 488.9 95.0zM488.8 89.1 489.9 91.2 487.6 91.1zM490.5 93.7 490.2 96.1 488.3 94.7zM484.4 90.4 486.0 92.2 483.6 92.7zM485.2 97.1 486.3 95.0 487.6 97.0zM489.7 91.4 492.0 92.8 489.7 94.1zM484.6 100.2 488.0 99.8 486.7 103.0zM488.1 91.3 488.2 93.8 486.0 92.7zM487.1 95.8 488.8 93.5 490.0 96.2zM484.4 100.4 484.4 98.1 486.4 99.3zM492.3 91.9 492.6 89.3 494.6 90.8zM485.5 93.3 483.7 91.7 486.0 90.9zM485.4 98.3 482.1 97.8 484.2 95.3zM481.7 97.1 483.9 94.8 484.8 97.8zM488.3 95.0 489.4 98.1 486.2 97.6zM481.7 93.6 485.0 93.6 483.3 96.4zM488.6 98.5 486.3 97.7 488.1 96.1zM487.0 90.5 489.4 91.5 487.3 93.1zM490.3 100.9 488.3 99.2 490.8 98.2zM488.8 92.2 490.0 89.2 492.1 91.8zM480.3 59.2 482.2 56.5 483.6 59.5zM479.8 66.8 477.5 64.5 480.6 63.6zM485.4 57.7 485.6 60.1 483.4 59.0zM477.9 59.8 479.2 62.8 476.1 62.4zM479.9 55.4 480.8 58.6 477.6 57.7zM477.9 56.4 479.8 54.3 480.6 57.0zM477.5 70.7 476.1 68.2 479.0 68.2zM481.3 59.7 479.6 62.2 478.3 59.5zM486.8 61.4 487.4 64.7 484.3 63.6zM481.2 58.7 484.0 59.2 482.2 61.4zM484.7 62.3 482.7 60.2 485.5 59.5zM482.5 63.6 484.7 64.1 483.1 65.8zM488.8 66.0 485.8 67.6 485.9 64.2zM481.7 58.4 478.5 59.0 479.6 56.0zM477.5 57.9 480.6 58.8 478.3 61.1zM484.4 59.8 487.2 59.1 486.4 61.9zM483.5 60.0 481.6 57.8 484.5 57.3zM483.9 55.9 483.0 58.2 481.5 56.2zM482.3 60.7 480.9 62.8 479.7 60.5zM480.0 62.1 483.1 63.4 480.5 65.5zM478.0 63.8 478.2 66.4 475.8 65.3zM476.3 61.7 479.5 61.3 478.2 64.3zM487.4 58.1 484.9 60.0 484.5 56.9zM481.7 67.5 480.2 70.0 478.9 67.4zM483.9 58.3 486.4 58.8 484.7 60.7zM476.3 65.1 477.3 62.6 478.9 64.7zM479.3 61.8 476.8 64.2 476.0 60.8zM476.0 63.9 474.4 66.1 473.3 63.5zM475.3 62.1 473.2 64.2 472.4 61.3zM483.2 60.9 481.2 59.0 483.9 58.1zM475.0 58.0 472.2 57.5 474.0 55.3zM473.8 56.4 472.0 58.4 471.2 55.8zM480.3 63.1 481.0 60.9 482.6 62.5zM482.3 67.3 484.8 65.6 485.1 68.7zM483.1 61.0 481.7 63.2 480.5 60.9zM477.7 63.2 476.0 60.3 479.4 60.3zM485.0 65.3 482.3 65.0 483.9 62.9zM480.5 55.4 483.3 53.5 483.6 56.9zM475.4 58.1 478.7 58.5 476.7 61.1zM479.3 56.7 478.0 59.6 476.2 57.0zM483.1 64.8 483.7 67.2 481.3 66.6zM488.0 58.2 488.3 61.4 485.4 60.1zM479.0 63.6 478.8 61.2 481.0 62.2zM479.7 60.5 478.4 57.5 481.7 57.9zM482.7 52.4 484.8 54.2 482.1 55.1zM479.7 55.4 476.4 55.3 478.1 52.5zM483.9 56.5 481.7 57.6 481.9 55.1zM476.7 61.0 475.5 63.6 473.9 61.2zM474.9 64.3 475.1 61.5 477.5 63.1zM477.2 68.5 480.2 69.4 477.9 71.5zM473.8 58.3 476.1 57.8 475.4 60.0zM483.1 63.7 480.8 62.5 482.9 61.2zM480.1 61.2 482.3 59.2 482.9 62.1zM484.2 62.0 484.8 64.4 482.4 63.7zM486.7 57.8 483.5 57.2 485.6 54.7zM479.7 60.2 482.4 60.4 480.9 62.6zM482.9 58.8 480.4 59.0 481.5 56.8zM483.7 55.1 484.3 57.9 481.6 57.0zM485.2 64.4 482.6 65.5 482.9 62.7zM471.1 64.3 473.0 61.8 474.2 64.7z" fill="#13ace2" opacity="0.95"/>
<path d="M467.6 51.3 464.9 51.1 466.4 48.8zM464.7 59.0 465.8 56.4 467.5 58.6zM470.4 51.2 469.0 53.6 467.6 51.2zM482.8 102.4 484.5 104.6 481.7 105.0zM485.1 104.7 487.6 105.8 485.3 107.5zM499.7 100.9 500.9 98.4 502.5 100.7zM505.0 96.6 503.6 94.2 506.4 94.2zM509.3 93.9 506.6 93.7 508.1 91.4zM476.5 46.5 476.0 43.8 478.6 44.7zM473.0 53.2 473.5 50.5 475.6 52.3z" fill="#13ace2" opacity="0.9"/>
<path d="M485.1 110.8 484.9 113.2 483.0 111.8zM484.9 110.1 482.3 109.4 484.2 107.6zM484.8 116.0 483.4 113.8 486.1 113.7zM481.9 104.2 483.3 106.2 480.9 106.4zM490.5 112.3 491.2 109.6 493.2 111.6zM484.7 106.8 486.7 106.1 486.3 108.2zM480.5 108.1 480.4 105.9 482.4 106.9zM488.4 111.5 487.9 114.1 485.9 112.4zM490.0 112.3 490.6 114.6 488.3 114.0zM489.2 105.9 486.1 106.4 487.2 103.5zM485.9 112.9 485.0 115.5 483.2 113.5zM487.3 114.4 485.2 113.8 486.8 112.3zM479.1 104.8 481.5 106.2 479.1 107.5zM482.1 110.4 482.2 107.6 484.5 109.1zM484.3 103.3 482.0 103.8 482.7 101.6zM485.2 109.5 483.2 111.1 482.8 108.5zM479.9 108.5 481.8 106.0 483.1 109.0zM481.5 107.1 482.9 105.5 483.5 107.5zM486.2 108.5 488.5 109.9 486.1 111.2zM487.7 106.7 486.4 104.3 489.1 104.4zM491.5 110.9 490.7 108.1 493.6 108.9zM484.8 113.0 483.1 114.4 482.8 112.3zM484.4 113.9 486.1 116.5 483.0 116.6zM488.9 106.1 490.9 108.0 488.3 108.8zM483.9 106.2 483.1 103.8 485.6 104.4zM483.8 107.9 481.8 107.2 483.4 105.8zM490.9 107.6 492.6 109.0 490.5 109.7zM487.1 110.1 484.7 110.6 485.5 108.4zM486.5 103.3 484.0 104.5 484.2 101.8zM478.8 113.4 481.2 112.5 480.8 115.0zM486.4 115.1 483.7 115.2 484.9 112.8zM493.0 107.9 494.9 109.4 492.6 110.3zM488.9 108.2 487.9 105.8 490.5 106.1zM485.3 109.9 484.5 107.5 487.0 107.9zM485.0 113.4 487.1 113.3 486.1 115.2zM485.4 112.9 484.8 110.8 487.0 111.3zM486.8 112.3 485.0 109.9 488.0 109.5zM492.2 103.0 493.1 100.6 494.7 102.6zM490.1 107.4 489.5 104.3 492.5 105.3zM487.7 105.9 487.3 108.0 485.7 106.5zM484.2 104.3 483.0 102.0 485.6 102.1zM489.6 105.8 490.7 108.0 488.3 107.8zM479.3 112.0 477.5 110.6 479.5 109.7zM493.2 108.6 493.0 111.2 490.9 109.7zM478.6 107.4 478.6 104.8 480.9 106.1zM488.8 107.7 486.4 109.3 486.2 106.4zM490.6 105.6 489.3 103.8 491.6 103.5zM491.9 111.9 488.9 111.2 491.0 108.9zM487.9 103.0 489.9 100.8 490.8 103.6zM481.3 103.4 480.7 105.5 479.2 104.0zM482.1 113.9 480.3 112.0 482.8 111.4zM489.0 106.9 490.1 109.2 487.5 109.0zM483.4 109.0 483.0 106.9 485.0 107.6zM479.6 110.3 480.8 108.3 481.9 110.3zM484.0 105.6 481.8 107.7 481.1 104.7zM486.3 105.2 487.3 103.3 488.5 105.1zM479.1 113.4 480.0 110.3 482.2 112.6zM478.1 101.7 480.6 102.6 478.6 104.3zM480.3 105.9 481.1 103.8 482.6 105.6zM484.9 114.8 482.5 113.9 484.5 112.3zM510.2 120.9 507.7 122.9 507.2 119.8zM500.3 115.4 499.9 117.9 498.0 116.3zM495.0 102.5 497.3 102.6 496.0 104.6zM502.5 123.9 501.4 121.9 503.7 121.9zM501.2 115.7 501.8 113.6 503.3 115.1zM507.3 115.8 506.8 118.9 504.3 117.0zM508.4 113.4 506.5 111.7 508.8 110.9zM487.7 120.1 485.8 117.9 488.6 117.4zM508.1 109.4 505.5 111.2 505.2 108.0zM503.4 120.6 500.3 121.3 501.3 118.3zM504.2 113.9 505.9 112.3 506.4 114.5zM491.3 105.3 490.8 102.6 493.3 103.6zM503.8 111.5 504.5 108.8 506.5 110.7zM499.1 120.5 496.3 120.4 497.7 118.0zM492.4 115.9 492.5 112.9 495.1 114.5zM497.6 117.6 499.7 117.9 498.4 119.6zM507.4 113.6 505.5 115.0 505.3 112.6zM508.6 111.0 511.1 110.7 510.1 113.1zM496.1 115.0 498.3 114.9 497.3 116.9zM498.1 121.9 497.0 119.8 499.4 119.9zM478.5 103.1 479.7 101.0 481.0 103.1zM483.4 125.9 484.4 123.5 485.9 125.6zM504.6 111.3 505.4 108.4 507.5 110.5zM501.2 102.8 503.2 100.9 503.9 103.6zM496.4 124.9 499.1 124.6 498.0 127.1zM506.0 129.0 504.9 132.0 502.9 129.6zM497.9 123.5 495.5 124.3 496.1 121.8zM502.1 117.2 500.2 118.5 500.0 116.2zM500.4 120.5 502.6 119.3 502.5 121.8zM508.1 114.4 511.1 114.9 509.2 117.2zM501.9 113.2 504.1 114.2 502.2 115.6zM501.0 108.0 503.8 109.0 501.6 110.9zM508.4 121.2 505.7 120.6 507.5 118.5zM503.9 115.2 501.5 116.1 501.9 113.6zM494.6 109.4 494.8 107.2 496.7 108.5zM491.4 108.0 493.8 109.5 491.3 110.9zM505.7 116.8 508.3 118.0 506.0 119.7zM489.6 106.7 491.5 108.6 488.8 109.3zM511.2 126.7 509.2 128.5 508.6 125.8zM504.5 129.8 507.3 129.0 506.7 131.8zM495.2 120.2 493.7 117.4 496.9 117.4zM494.6 130.1 497.0 130.5 495.4 132.4zM503.1 119.7 502.2 117.3 504.7 117.8zM504.3 110.3 502.3 111.7 502.1 109.2zM498.4 109.5 495.4 108.6 497.7 106.5zM506.6 126.2 504.5 124.9 506.7 123.7zM501.7 109.2 501.7 106.9 503.6 108.1zM493.3 122.3 490.8 120.5 493.6 119.3zM499.7 113.2 498.3 114.8 497.6 112.8zM491.4 118.3 492.5 115.4 494.4 117.9zM501.6 122.4 501.0 120.3 503.1 120.9zM495.0 114.0 494.3 116.9 492.1 114.9zM492.1 117.5 489.3 118.4 489.9 115.5zM499.1 113.6 500.6 111.3 501.9 113.8zM507.7 107.7 505.5 106.5 507.5 105.2zM513.0 118.0 511.2 119.9 510.5 117.4zM503.3 118.6 504.4 115.8 506.3 118.1zM494.3 110.6 497.0 111.0 495.4 113.1zM509.0 115.9 506.1 116.6 507.0 113.8zM502.7 114.5 501.7 112.3 504.1 112.5zM506.6 121.7 505.3 119.5 507.8 119.5zM492.4 128.4 491.8 131.0 489.8 129.2zM508.6 119.8 509.2 122.9 506.2 121.9zM502.6 114.0 504.2 115.6 502.0 116.1zM506.9 135.2 505.6 133.6 507.6 133.2zM500.6 106.7 500.6 109.0 498.6 107.8zM500.9 114.9 501.2 117.2 499.0 116.3zM508.3 106.0 507.7 108.1 506.2 106.5zM497.7 111.5 498.9 114.4 495.8 114.1zM506.1 123.7 508.0 122.1 508.4 124.6zM500.5 122.1 503.6 122.4 501.9 125.0zM502.5 117.4 499.7 116.7 501.7 114.7zM482.8 110.1 484.3 107.4 485.9 110.0zM493.5 120.1 490.8 118.9 493.2 117.1zM499.5 107.4 502.2 106.7 501.4 109.4zM499.3 114.5 501.5 113.2 501.5 115.8zM503.5 113.1 501.6 111.0 504.4 110.3zM493.5 124.5 495.8 122.2 496.6 125.3zM499.1 123.6 497.2 122.5 499.1 121.5zM493.3 112.2 495.8 113.8 493.1 115.2zM497.2 107.2 499.5 108.3 497.4 109.8zM506.4 106.4 504.3 106.4 505.4 104.5zM503.5 116.2 505.4 113.8 506.6 116.7zM509.0 131.0 506.6 129.4 509.1 128.1zM495.6 113.6 496.8 116.4 493.8 116.0zM490.7 110.5 492.7 112.3 490.1 113.2zM500.1 114.1 502.2 115.7 499.7 116.7zM504.0 118.3 507.0 117.4 506.3 120.5zM507.6 109.2 507.9 111.4 505.9 110.6zM500.5 109.1 500.6 106.7 502.6 107.9zM500.7 115.7 498.7 116.5 499.0 114.4zM495.7 113.0 497.0 111.0 498.1 113.0zM489.6 110.5 487.6 111.8 487.4 109.4zM495.6 117.9 495.1 115.8 497.1 116.5zM502.7 110.3 505.2 112.4 502.1 113.5zM499.5 115.9 500.5 118.8 497.5 118.2zM495.1 122.7 492.9 123.1 493.6 121.0zM514.0 119.2 513.4 116.7 515.9 117.4zM497.4 117.7 495.5 116.7 497.3 115.6zM506.5 123.8 509.4 122.5 509.1 125.7zM489.6 118.1 490.6 116.1 491.9 118.0zM495.1 113.3 493.8 111.5 496.1 111.3zM503.7 119.1 501.0 120.2 501.4 117.4zM497.6 107.4 500.0 109.6 496.9 110.5zM497.7 108.7 498.5 106.6 499.9 108.3zM505.4 116.9 502.8 116.3 504.6 114.4zM500.3 106.6 501.2 108.5 499.0 108.3zM497.1 111.5 497.5 113.8 495.3 113.0zM497.5 113.8 495.3 114.2 496.1 112.1zM500.2 110.9 502.1 111.9 500.3 113.1zM493.5 129.2 496.5 128.4 495.8 131.5zM488.7 130.4 490.6 127.9 491.8 130.8zM493.4 124.9 491.8 122.5 494.7 122.3zM496.7 131.2 495.0 132.9 494.4 130.6zM492.9 115.9 491.5 118.7 489.8 116.1zM498.0 130.1 497.1 132.4 495.5 130.5zM488.8 125.6 486.5 126.4 487.0 124.0zM494.2 115.0 495.1 112.8 496.6 114.8zM496.2 128.1 498.5 129.8 495.9 130.9zM497.3 134.9 495.6 132.9 498.2 132.4zM488.8 129.4 488.3 132.2 486.1 130.4zM504.3 113.0 505.8 115.6 502.8 115.6zM489.4 129.2 492.2 128.2 491.7 131.0zM488.1 116.3 490.4 116.0 489.6 118.1zM495.9 127.4 493.2 127.7 494.3 125.2zM489.9 125.5 490.5 128.5 487.5 127.4zM497.8 129.5 498.6 131.9 496.1 131.4zM494.4 118.3 496.5 119.9 494.1 121.0zM491.8 113.2 492.3 115.5 490.0 114.8zM486.1 127.5 487.7 125.0 489.0 127.6zM496.9 124.6 495.9 127.5 494.0 125.2zM493.6 117.0 491.5 116.3 493.2 114.8zM486.7 121.5 485.1 119.6 487.5 119.2zM491.1 124.2 488.1 123.3 490.4 121.1zM502.5 130.8 504.4 129.8 504.3 132.0zM486.6 123.6 487.3 121.0 489.2 122.8zM490.0 121.1 491.6 123.7 488.6 123.8zM490.9 116.8 488.8 115.6 490.9 114.4zM499.8 128.2 499.0 130.6 497.2 128.7zM494.3 125.5 497.6 125.3 496.1 128.2zM494.0 124.6 495.1 122.7 496.2 124.6zM481.6 126.1 483.8 125.4 483.3 127.7zM493.2 120.5 491.5 118.8 493.9 118.2zM486.6 125.5 487.5 123.4 488.9 125.2zM489.6 133.0 490.1 135.1 488.1 134.4zM486.7 130.3 485.2 132.6 483.9 130.2zM490.4 115.6 489.2 113.9 491.2 113.7zM493.2 127.2 491.4 124.6 494.5 124.3zM483.8 128.7 484.0 126.2 486.1 127.6zM493.8 129.2 491.0 128.7 492.9 126.5zM485.4 123.3 484.7 121.0 487.0 121.5zM489.0 126.9 486.8 127.0 487.8 125.0zM491.0 122.3 488.2 120.7 490.9 119.0zM497.9 122.4 501.1 121.9 499.9 124.9zM497.7 131.3 497.2 128.7 499.7 129.6zM490.5 115.5 489.3 118.2 487.6 115.8zM492.2 128.4 495.1 128.2 493.9 130.8zM500.3 128.4 497.2 128.8 498.3 125.8zM496.5 122.0 494.6 124.2 493.7 121.4zM497.4 120.0 498.2 117.7 499.8 119.5zM494.1 129.3 493.2 127.3 495.5 127.5zM484.9 124.6 482.9 125.2 483.4 123.1zM494.2 134.6 495.8 132.6 496.7 135.1zM500.9 125.5 499.6 123.3 502.2 123.2zM492.5 123.3 490.5 124.7 490.4 122.3zM495.1 129.5 493.8 131.5 492.7 129.3zM485.9 124.7 488.5 123.6 488.2 126.4zM491.0 123.2 488.1 122.3 490.3 120.2zM491.0 136.2 488.8 135.1 490.8 133.7zM499.8 132.9 502.7 131.8 502.2 134.9zM499.3 130.7 499.0 133.2 497.0 131.7zM502.2 133.0 504.5 133.5 502.9 135.3zM504.5 127.9 505.1 125.5 506.9 127.3zM506.6 132.8 509.0 131.9 508.6 134.5zM507.3 129.4 505.3 130.9 505.1 128.4zM502.8 128.0 502.3 131.1 499.8 129.1zM511.7 129.0 510.9 132.1 508.6 129.9zM506.7 118.3 506.6 120.8 504.4 119.4zM511.0 120.6 514.0 120.6 512.5 123.2zM508.6 127.6 510.7 125.5 511.4 128.4zM510.9 135.5 512.2 137.9 509.4 137.9zM505.5 109.7 503.8 107.9 506.3 107.3zM497.4 121.7 496.9 124.2 495.1 122.6zM500.9 131.3 503.1 130.9 502.4 133.1zM504.3 139.2 507.1 137.8 506.9 140.9zM505.0 134.2 507.7 135.9 504.9 137.3zM509.4 114.8 509.5 117.3 507.2 116.1zM512.8 143.6 510.0 142.5 512.4 140.6zM506.6 134.5 504.9 136.8 503.7 134.2zM509.1 129.6 508.2 126.8 511.1 127.3zM503.7 137.0 505.4 135.6 505.7 137.9zM502.4 127.2 503.2 124.4 505.2 126.4zM509.7 135.8 512.3 135.4 511.4 137.9zM515.1 127.1 513.3 125.3 515.8 124.6zM500.6 139.0 498.6 137.1 501.2 136.3zM497.9 126.7 499.9 125.9 499.6 128.0zM504.4 142.0 506.4 140.8 506.4 143.1zM507.0 119.5 508.6 122.2 505.4 122.2zM505.6 138.1 508.3 138.8 506.4 140.8zM498.5 121.7 496.4 120.6 498.4 119.3zM513.5 131.7 510.4 131.4 512.2 128.9zM503.5 128.0 501.2 130.1 500.5 127.0zM506.2 120.4 508.9 121.5 506.6 123.2zM502.7 138.8 505.7 139.6 503.6 141.8zM509.0 136.3 509.5 138.9 507.0 138.0zM505.0 126.0 507.5 124.3 507.7 127.3zM508.9 124.9 506.8 123.0 509.5 122.2zM507.5 128.8 508.3 126.1 510.3 128.1zM504.4 128.9 505.1 126.6 506.7 128.3zM502.8 138.1 503.0 140.8 500.5 139.6zM498.8 129.9 500.8 131.7 498.2 132.6zM501.6 134.9 501.1 137.8 498.8 135.9zM507.4 130.8 505.2 132.7 504.7 129.9zM509.8 130.7 510.4 133.7 507.5 132.7zM506.9 130.8 509.7 132.4 506.9 134.0zM509.5 127.6 507.4 126.9 509.0 125.4zM503.7 128.2 506.2 126.6 506.3 129.6zM502.2 124.6 505.1 125.8 502.6 127.7zM512.6 118.6 514.9 119.5 513.0 121.1zM510.0 131.7 508.4 128.9 511.6 128.9zM505.2 132.8 507.2 133.6 505.5 134.9zM506.0 127.4 506.0 124.8 508.2 126.0zM510.9 130.9 512.6 128.2 514.1 131.1zM497.0 134.6 496.4 132.2 498.8 132.9zM499.6 125.5 497.1 126.9 497.2 124.0zM510.6 126.3 511.8 124.5 512.8 126.5zM502.5 114.0 504.8 114.6 503.1 116.2zM511.3 134.3 508.7 132.7 511.4 131.3zM506.3 132.5 503.4 133.9 503.7 130.7zM499.8 122.4 499.1 124.6 497.5 122.9zM508.0 137.5 506.5 135.4 509.1 135.1zM508.4 121.8 505.4 122.3 506.4 119.5zM502.7 137.4 505.5 136.3 505.1 139.3zM504.6 130.2 504.8 133.0 502.3 131.7zM508.8 124.1 510.8 126.7 507.6 127.1zM506.6 118.6 506.1 116.3 508.3 116.9zM502.7 130.1 504.6 128.9 504.7 131.2zM509.1 137.4 511.9 138.9 509.2 140.5zM503.5 132.1 505.9 132.7 504.1 134.5zM504.9 123.4 507.7 123.7 506.1 125.9z" fill="#44729f" opacity="0.8"/>
<path d="M508.9 162.2 506.9 162.9 507.3 160.9zM504.9 150.8 506.1 152.5 504.0 152.7zM511.8 151.2 511.1 149.3 513.1 149.6zM496.7 149.1 496.2 147.1 498.2 147.7zM509.4 153.2 507.3 153.0 508.5 151.3z" fill="#44729f" opacity="0.6"/>
<path d="M451.2 117.8 452.3 115.3 453.9 117.5zM448.1 117.6 449.4 119.8 446.9 119.8zM459.0 114.9 456.5 114.6 458.0 112.6zM453.6 111.4 453.8 114.1 451.4 112.9zM456.7 113.3 459.5 113.7 457.7 115.9zM450.4 110.2 449.8 112.4 448.2 110.8zM448.1 111.4 451.1 110.5 450.4 113.5zM458.6 117.1 459.5 120.1 456.4 119.4zM447.8 115.7 448.4 112.5 450.9 114.6zM452.2 116.1 455.4 116.6 453.3 119.2zM451.0 119.9 450.1 122.6 448.1 120.5zM458.3 123.7 454.9 124.2 456.2 121.0zM457.3 119.3 455.2 117.2 458.0 116.4zM454.1 113.7 452.0 114.5 452.3 112.3zM457.2 113.8 456.7 117.3 454.0 115.1zM459.0 121.9 458.2 119.2 460.9 119.8zM458.9 111.7 456.8 112.4 457.2 110.2zM456.9 123.3 453.5 123.1 455.3 120.3zM462.0 121.9 460.0 120.7 462.0 119.6zM457.1 114.6 459.3 113.5 459.2 115.9zM461.5 121.9 459.7 124.5 458.3 121.6zM455.6 117.0 457.0 119.2 454.4 119.4zM452.1 116.4 455.0 117.0 453.0 119.2zM454.5 118.9 451.4 119.7 452.3 116.7zM454.8 112.2 452.7 113.8 452.4 111.2zM452.4 117.1 451.9 119.6 450.1 117.9zM456.4 121.8 453.7 122.5 454.4 119.8zM456.3 120.3 459.1 119.9 458.1 122.5zM453.8 121.5 452.6 119.5 454.9 119.6zM450.0 115.7 451.1 113.6 452.3 115.6zM458.2 119.5 455.7 117.3 458.8 116.3zM451.2 118.0 452.2 121.1 449.0 120.4zM458.3 119.9 460.1 117.6 461.2 120.3zM461.0 119.3 458.8 121.6 457.9 118.5zM458.9 115.9 455.9 115.0 458.2 112.8zM446.4 117.7 445.0 115.0 448.0 115.2zM451.0 117.6 448.5 118.5 448.9 115.8zM449.7 117.9 450.9 115.3 452.6 117.7zM449.2 116.9 450.3 114.8 451.6 116.8zM461.0 112.7 460.4 115.4 458.4 113.5zM448.5 122.2 445.3 122.1 447.0 119.4zM457.1 115.5 458.2 117.5 455.9 117.5zM453.3 118.7 451.1 118.3 452.6 116.6zM450.8 119.5 453.6 118.7 452.9 121.5zM454.2 114.9 452.1 116.4 451.8 113.8zM457.3 116.1 454.2 114.7 457.0 112.8zM456.9 115.0 454.5 113.2 457.2 112.0zM453.4 118.4 450.2 118.4 451.8 115.6zM452.2 120.7 449.9 120.5 451.2 118.6zM454.4 119.3 451.7 117.5 454.6 116.0zM444.3 118.6 447.0 117.2 446.8 120.2zM454.9 112.8 452.4 110.5 455.6 109.5zM456.3 117.2 454.9 119.5 453.6 117.1zM451.0 111.7 452.8 114.6 449.4 114.7zM446.7 116.5 449.5 115.9 448.6 118.6zM453.2 115.3 455.3 116.0 453.6 117.5zM463.3 117.9 460.5 117.5 462.3 115.2zM453.3 113.0 454.5 110.7 455.9 112.8zM453.5 119.6 456.1 118.4 455.8 121.2zM448.7 124.2 450.4 121.3 452.0 124.2zM453.0 118.8 449.8 117.8 452.2 115.5zM452.8 114.4 453.4 116.8 451.0 116.1zM443.5 119.8 446.7 119.8 445.1 122.5zM448.1 114.9 450.5 114.4 449.7 116.7zM462.9 115.3 463.4 112.4 465.6 114.3zM452.4 111.7 454.6 113.3 452.0 114.5zM451.8 117.0 454.9 117.6 452.8 119.9zM453.8 116.9 455.1 119.8 451.9 119.4zM455.6 115.0 458.0 112.8 458.8 116.0zM455.1 124.0 452.5 122.6 455.1 121.1zM456.0 124.5 454.0 123.2 456.2 122.2zM447.4 114.4 450.2 113.5 449.6 116.4zM455.5 112.7 454.4 115.6 452.3 113.2zM456.6 111.9 457.9 114.4 455.1 114.3zM453.7 113.2 455.4 110.6 456.8 113.4zM451.4 116.5 451.1 119.0 449.0 117.5zM457.4 115.1 454.9 114.4 456.7 112.6zM446.2 119.8 447.6 116.6 449.7 119.4zM450.5 116.4 451.1 119.6 448.0 118.4zM461.0 118.5 458.5 120.7 457.9 117.4zM448.4 122.0 446.4 120.5 448.7 119.5zM458.9 113.3 459.8 116.5 456.5 115.7zM450.8 122.7 451.7 119.3 454.1 121.8zM455.8 119.4 453.9 118.2 455.9 117.2zM459.7 118.0 458.2 120.1 457.1 117.7zM467.0 122.2 463.6 122.1 465.3 119.2zM454.2 119.2 453.2 116.1 456.4 116.8zM454.3 120.2 452.5 122.2 451.6 119.6zM448.1 121.1 448.5 118.0 451.0 119.9zM451.9 113.4 449.8 110.7 453.2 110.3zM470.2 127.6 468.5 129.0 468.2 126.7zM466.1 123.4 466.3 126.0 464.0 124.8zM462.6 124.0 464.1 122.1 465.1 124.3zM471.5 130.0 471.7 133.0 469.1 131.7zM462.7 124.7 465.6 125.8 463.2 127.8zM464.2 131.0 465.0 127.9 467.3 130.2zM466.8 124.6 464.1 125.4 464.8 122.6zM461.3 127.5 463.5 125.7 463.9 128.4zM461.7 123.9 464.7 123.4 463.6 126.3zM470.0 129.4 469.1 126.7 471.9 127.3zM467.7 124.3 467.7 120.8 470.7 122.5zM469.2 125.2 468.7 127.4 467.1 125.9zM464.2 123.9 461.7 124.3 462.7 121.9zM460.5 122.3 462.8 124.8 459.5 125.6zM465.8 125.1 464.7 127.1 463.6 125.1zM474.8 129.9 472.3 127.6 475.6 126.6zM463.7 126.1 465.9 124.1 466.5 127.0zM458.5 123.1 460.8 121.3 461.2 124.2zM467.5 121.1 464.3 120.8 466.1 118.1zM470.9 133.3 472.3 130.8 473.8 133.2zM456.1 132.3 455.9 129.8 458.1 130.9zM469.7 132.3 468.3 129.9 471.1 129.9zM468.6 134.2 465.8 132.9 468.3 131.1zM459.9 126.2 458.5 123.2 461.9 123.5zM468.6 124.9 467.8 128.2 465.3 125.9zM455.7 128.4 458.6 128.8 456.7 131.1zM468.5 126.3 468.9 124.1 470.6 125.5zM466.5 128.3 467.4 131.2 464.4 130.5zM452.9 125.5 452.6 122.6 455.3 123.7zM460.9 124.6 460.1 126.9 458.5 125.1zM459.3 121.9 456.5 121.7 458.1 119.5zM465.5 135.4 463.5 132.7 466.9 132.4zM458.8 131.5 458.5 133.9 456.6 132.4zM468.0 131.7 468.2 128.6 470.8 130.3zM468.9 124.5 471.7 122.7 471.8 126.1zM471.0 119.5 469.8 121.4 468.8 119.4zM461.5 127.1 459.9 128.8 459.2 126.6zM468.8 122.3 466.3 120.4 469.2 119.2zM454.0 126.6 456.0 127.9 453.9 129.0zM467.3 128.6 465.2 130.5 464.6 127.8zM462.8 120.0 465.1 120.5 463.6 122.3zM471.1 127.8 470.5 131.1 468.0 129.0zM464.2 136.3 464.3 133.5 466.7 135.0zM467.2 132.8 464.0 133.5 465.0 130.4zM464.5 116.1 461.7 114.5 464.5 112.9zM459.3 116.5 456.8 115.2 459.1 113.7zM464.3 130.3 463.0 132.3 461.9 130.1zM456.0 130.6 454.1 128.6 456.8 128.0zM462.1 128.8 464.1 129.7 462.3 131.0zM464.9 123.0 466.1 120.7 467.4 122.9zM467.2 127.5 465.8 125.4 468.4 125.2zM467.7 132.6 470.5 133.8 468.1 135.7zM463.7 134.1 461.8 132.5 464.2 131.7zM464.2 126.7 465.2 130.0 461.9 129.3zM463.3 123.3 466.4 121.9 466.0 125.3zM463.8 123.4 466.3 124.0 464.6 125.9zM468.5 121.6 466.7 123.3 466.1 120.9zM460.7 128.3 460.0 131.6 457.5 129.3zM466.1 129.5 466.6 127.3 468.2 128.8zM468.4 129.4 467.4 132.0 465.6 129.8zM465.7 131.3 465.9 128.4 468.4 130.0zM462.1 127.6 460.1 130.1 459.0 127.2zM459.2 120.0 462.3 120.6 460.2 123.1zM461.9 127.9 464.6 128.2 463.0 130.4zM465.6 132.3 464.7 135.0 462.9 132.9zM466.8 126.8 469.2 127.8 467.1 129.3zM464.4 119.0 466.7 121.4 463.5 122.2zM463.2 127.6 464.1 124.5 466.4 126.9zM474.8 122.7 472.6 124.7 471.9 121.8zM462.4 124.2 463.5 121.8 465.1 124.0zM466.5 119.9 463.8 120.2 464.9 117.8zM465.0 127.6 465.1 125.0 467.3 126.3zM464.0 137.7 465.1 135.4 466.6 137.4zM464.3 126.6 465.1 129.3 462.3 128.7zM464.3 129.3 465.4 131.4 463.0 131.2zM476.7 132.1 475.8 134.5 474.2 132.6zM465.5 122.8 464.8 119.9 467.7 120.7zM467.1 117.9 467.6 120.9 464.8 119.9zM458.5 123.4 461.0 122.9 460.2 125.3zM459.7 127.3 457.3 126.6 459.1 124.8zM462.9 124.9 460.9 122.8 463.7 122.1zM465.8 121.6 467.9 123.8 464.9 124.4zM470.8 130.5 469.3 128.0 472.2 128.0zM463.5 127.1 462.2 129.7 460.6 127.3zM461.5 125.5 459.0 123.3 462.1 122.3zM468.8 121.6 468.1 118.3 471.3 119.4zM466.6 132.6 467.8 134.6 465.4 134.7zM454.3 136.7 451.7 136.6 453.2 134.4zM456.4 116.5 454.2 119.1 453.0 115.9zM452.3 121.0 454.7 120.6 453.8 122.9zM459.3 118.5 462.1 116.8 462.2 120.1zM462.0 128.9 464.3 128.7 463.3 130.8zM458.3 126.2 461.6 125.2 460.9 128.5zM468.6 134.0 466.0 133.9 467.4 131.7zM464.5 127.4 464.8 130.6 462.0 129.2zM468.1 125.8 466.7 127.7 465.7 125.6zM460.8 127.5 463.4 126.3 463.2 129.2zM466.5 120.1 468.9 120.1 467.7 122.2zM461.3 125.8 464.3 127.5 461.3 129.2zM464.8 129.2 464.6 125.9 467.7 127.4zM470.7 130.1 473.7 129.0 473.1 132.2zM457.5 130.7 459.5 133.3 456.3 133.7zM461.8 121.6 461.0 124.4 459.0 122.3zM469.8 126.3 468.3 124.2 470.9 124.0zM456.2 129.8 454.3 128.6 456.3 127.6zM468.2 128.0 465.9 130.0 465.3 127.0zM456.7 130.9 455.8 128.4 458.5 128.9zM461.6 131.7 459.1 129.4 462.3 128.4zM459.2 121.6 457.6 123.7 456.6 121.3zM455.3 122.3 454.0 124.3 453.0 122.2zM469.2 125.7 471.0 127.4 468.5 128.1zM462.4 131.0 461.3 133.1 460.1 131.1zM463.9 130.5 464.8 127.5 466.9 129.8zM466.6 127.3 464.1 125.5 466.9 124.3zM464.3 126.1 466.7 128.3 463.5 129.3zM471.3 128.3 469.4 129.9 469.0 127.5zM469.2 123.0 467.1 121.3 469.6 120.4zM452.7 127.0 455.8 126.0 455.1 129.2zM466.3 126.5 465.4 129.8 463.0 127.4zM458.8 128.3 457.7 125.7 460.5 126.0zM460.4 126.4 457.9 127.9 457.8 125.0zM463.7 123.5 465.3 126.3 462.1 126.3zM466.1 125.7 464.0 123.5 467.0 122.8zM463.2 130.4 463.2 127.5 465.6 128.9zM473.3 127.5 471.3 129.2 470.8 126.6zM469.6 127.3 468.7 130.2 466.6 127.9zM474.0 134.7 471.9 135.8 472.0 133.4zM459.1 128.9 461.7 127.4 461.7 130.4zM466.7 131.4 466.1 134.1 464.1 132.2zM449.8 124.2 451.8 121.5 453.2 124.6zM456.5 132.8 453.7 132.3 455.5 130.0zM465.8 127.3 466.7 129.8 464.1 129.3zM467.5 126.0 466.6 128.9 464.5 126.8zM466.3 126.2 464.6 123.6 467.7 123.4zM452.7 126.5 454.9 127.0 453.4 128.7zM463.8 125.1 462.6 123.1 465.0 123.1zM461.9 133.0 459.2 131.4 462.0 129.9zM459.1 122.4 460.3 120.4 461.5 122.5zM466.6 131.0 468.8 131.8 467.0 133.3zM457.8 123.8 455.8 121.4 458.9 120.9zM457.7 128.4 458.6 126.3 460.0 128.2zM467.5 133.3 465.3 131.6 467.9 130.6zM462.0 125.4 464.4 123.4 465.0 126.4zM460.4 129.2 462.6 130.9 460.1 131.9zM462.6 122.4 460.5 124.1 460.0 121.5zM462.8 127.3 461.8 125.2 464.1 125.4zM464.4 123.3 467.2 122.1 466.8 125.1zM472.8 132.1 474.6 134.6 471.5 134.9zM458.4 124.7 460.0 127.7 456.6 127.6zM457.2 124.0 460.6 123.9 459.0 126.9zM458.0 123.5 458.8 125.8 456.5 125.3zM463.9 127.6 465.4 124.9 467.0 127.6zM457.7 119.7 455.4 117.3 458.6 116.5zM455.2 129.4 455.7 132.3 452.9 131.3zM463.2 128.1 461.6 125.5 464.6 125.4zM472.5 120.5 472.2 123.6 469.7 121.7zM466.2 125.3 464.5 122.3 467.9 122.3zM463.1 118.2 466.1 116.8 465.8 120.1zM462.0 123.8 463.6 126.7 460.3 126.6zM464.3 121.4 463.7 119.3 465.9 119.8zM463.9 128.3 463.4 131.3 461.0 129.4zM462.9 130.9 462.7 128.3 465.1 129.4zM465.5 127.1 468.4 125.3 468.4 128.7zM463.0 128.1 460.2 126.2 463.3 124.7zM457.9 130.0 458.8 126.9 461.1 129.3zM465.5 132.6 464.3 129.8 467.3 130.2zM474.1 128.3 477.3 128.8 475.2 131.4zM468.7 126.6 466.2 128.4 465.9 125.4zM468.7 130.2 469.5 132.7 467.0 132.2zM463.0 122.6 460.9 120.3 463.9 119.6zM457.8 131.4 455.6 130.1 457.8 128.9zM465.4 127.4 467.7 127.8 466.2 129.6zM456.7 125.0 453.8 124.2 455.9 122.0zM454.7 121.4 456.7 120.1 456.8 122.5zM459.6 122.3 462.7 122.3 461.1 125.1zM470.8 121.0 472.7 119.6 472.9 122.0zM461.5 124.7 459.1 122.6 462.1 121.6zM465.4 130.7 462.4 129.1 465.3 127.3zM461.2 118.5 459.9 120.7 458.7 118.5zM461.5 129.6 460.3 126.4 463.7 127.0zM459.8 128.5 459.1 131.9 456.5 129.6zM458.4 121.8 460.4 123.9 457.6 124.5zM461.1 135.1 460.9 132.7 463.1 133.7zM467.3 125.8 469.8 127.7 466.9 128.9zM458.7 119.9 460.2 122.1 457.6 122.3zM460.2 130.8 462.1 133.2 459.0 133.7zM469.6 127.4 470.6 125.3 471.9 127.2zM462.2 118.7 459.7 120.4 459.4 117.4zM460.7 127.2 463.0 127.8 461.4 129.4zM465.6 126.5 468.5 127.1 466.5 129.2zM459.0 129.1 460.2 126.3 462.0 128.8zM464.9 128.6 463.3 131.6 461.5 128.7zM466.3 130.1 464.0 129.6 465.6 127.8zM464.5 125.4 465.1 122.4 467.5 124.4zM471.0 122.9 468.6 122.0 470.5 120.4zM467.3 125.9 466.1 123.2 469.0 123.5zM463.7 126.4 462.0 128.9 460.7 126.1zM459.8 121.4 462.6 120.7 461.8 123.5zM458.0 120.1 461.1 121.0 458.8 123.2zM462.5 127.8 464.6 125.6 465.4 128.5zM472.1 122.2 472.8 124.7 470.2 124.1zM471.6 134.8 472.2 132.6 473.9 134.3zM467.7 128.0 465.8 125.8 468.7 125.2zM476.8 128.1 476.3 130.8 474.2 129.1zM474.8 128.1 477.7 127.5 476.8 130.4zM464.4 130.3 466.7 128.1 467.4 131.2zM472.6 132.4 470.4 131.4 472.4 130.0zM470.3 127.8 468.0 129.8 467.4 126.8zM474.6 131.7 472.0 132.9 472.3 130.0zM476.8 128.5 476.2 131.8 473.7 129.7zM470.9 130.0 469.0 132.0 468.2 129.4zM467.5 121.0 464.2 120.6 466.2 118.0zM467.1 136.2 465.3 137.7 464.9 135.4zM475.2 139.0 474.2 136.6 476.8 137.0zM473.1 125.7 473.1 122.4 475.9 124.0zM467.3 132.4 467.4 130.2 469.3 131.3zM468.7 124.5 470.0 127.0 467.2 126.9zM468.3 125.3 468.7 128.3 465.9 127.1zM465.9 131.5 463.7 133.3 463.2 130.5zM467.1 135.1 470.1 133.5 470.1 136.9zM476.9 135.9 474.7 134.3 477.2 133.2zM474.8 129.0 472.1 131.1 471.6 127.7zM477.9 131.0 478.3 134.1 475.5 133.0zM472.2 126.3 472.3 129.6 469.4 128.1zM471.0 132.6 473.6 133.5 471.5 135.4zM473.3 127.3 475.8 126.5 475.3 129.1zM470.1 132.0 471.0 128.9 473.2 131.2zM472.2 130.2 469.0 131.0 469.9 127.8zM467.7 128.4 466.8 125.6 469.7 126.2zM473.9 132.7 471.3 130.7 474.3 129.5zM470.8 137.4 472.0 139.5 469.6 139.5zM469.7 133.0 472.0 131.4 472.3 134.2zM472.1 127.4 474.3 127.5 473.1 129.4zM475.2 132.7 476.1 135.7 473.1 135.0zM470.9 131.0 473.5 131.6 471.8 133.6zM470.0 131.2 472.9 131.9 470.8 134.0zM471.8 128.3 470.9 125.7 473.5 126.2zM471.5 128.6 469.8 130.6 469.0 128.2zM469.4 130.4 471.6 128.9 471.8 131.5zM469.8 131.5 472.1 132.9 469.7 134.2zM475.9 125.1 474.6 127.2 473.5 125.0zM469.0 127.6 468.3 124.2 471.6 125.3zM472.4 132.0 475.2 133.4 472.6 135.1zM469.9 135.4 471.5 133.7 472.1 135.9zM471.5 129.3 468.4 130.0 469.4 127.0zM473.4 130.6 471.2 132.3 470.8 129.5zM474.0 128.9 475.8 130.8 473.2 131.4zM476.8 123.3 478.1 125.5 475.5 125.4zM466.1 138.2 467.0 135.1 469.2 137.4zM475.5 134.4 478.0 133.0 477.9 135.9zM473.1 134.6 470.6 135.5 471.1 132.9zM472.0 127.3 470.8 124.8 473.6 125.0zM472.4 130.8 469.6 128.9 472.6 127.4zM468.7 126.1 469.0 129.3 466.1 128.0zM467.8 133.1 469.2 130.4 470.9 132.9zM475.2 135.8 475.3 133.2 477.5 134.6zM478.0 124.8 476.5 127.7 474.8 124.9zM475.5 132.0 474.9 135.0 472.7 133.0zM472.8 124.5 475.7 126.4 472.7 128.0zM459.1 130.0 461.7 129.9 460.5 132.2zM437.3 132.2 434.9 129.8 438.1 128.9zM434.5 130.7 432.9 129.1 435.1 128.5zM437.0 127.1 439.4 126.9 438.4 129.0zM441.9 130.4 443.8 128.6 444.4 131.1zM444.1 131.5 444.1 128.3 446.8 130.0zM437.3 128.6 437.3 125.3 440.2 126.9zM441.5 125.4 441.8 128.7 438.8 127.4zM442.9 129.8 441.9 127.4 444.5 127.7zM447.7 128.3 446.7 125.8 449.4 126.2zM443.8 129.9 443.1 127.3 445.7 128.0zM440.8 127.0 443.6 127.7 441.6 129.9zM444.6 127.4 446.0 130.4 442.8 130.2zM436.7 129.1 437.8 125.9 440.0 128.4zM437.9 129.0 439.0 126.8 440.4 128.8zM439.8 127.9 440.7 125.5 442.3 127.5zM437.7 129.4 436.6 127.3 438.9 127.4zM436.7 127.0 436.0 129.4 434.3 127.6zM445.6 128.1 444.2 131.1 442.2 128.4zM445.3 127.7 443.1 129.1 443.0 126.5zM445.3 130.1 442.3 131.2 442.8 128.0zM440.0 126.4 440.9 129.6 437.7 128.8zM442.2 130.3 445.3 129.2 444.7 132.4zM440.8 134.0 440.7 131.7 442.7 132.7zM445.3 135.0 443.4 132.4 446.6 132.0zM443.4 125.2 444.6 127.3 442.1 127.3zM437.8 132.1 437.9 129.3 440.3 130.9zM435.9 128.5 434.2 131.3 432.7 128.5zM438.5 132.7 437.0 130.6 439.5 130.4zM439.3 125.2 437.8 128.0 436.2 125.3zM443.9 118.4 445.2 120.7 442.5 120.7zM453.4 124.1 452.4 126.3 451.0 124.3zM447.5 126.4 444.3 127.5 445.0 124.1zM447.0 126.7 444.8 126.3 446.3 124.6zM449.0 124.8 449.3 127.6 446.8 126.4zM445.6 121.3 444.1 123.6 442.8 121.1zM454.3 123.7 457.0 124.6 454.9 126.5zM445.8 121.0 448.2 120.2 447.7 122.7zM447.3 125.6 444.5 125.4 446.0 123.1zM441.4 124.2 443.7 122.2 444.3 125.2zM448.1 119.0 445.6 118.7 447.1 116.6zM449.0 128.5 446.8 128.1 448.2 126.4zM446.1 124.7 445.1 122.6 447.5 122.7zM449.6 123.8 447.4 121.8 450.1 120.9zM439.5 123.8 442.0 123.0 441.4 125.5zM448.1 122.4 444.9 123.5 445.5 120.2zM455.1 124.2 452.9 125.7 452.7 123.1zM443.9 121.0 446.3 121.4 444.7 123.3zM453.5 125.3 455.8 126.3 453.8 127.7zM438.9 125.5 442.1 124.3 441.6 127.6zM446.1 120.7 447.2 123.1 444.6 122.9zM453.5 125.0 452.9 127.6 451.0 125.8zM444.0 122.6 446.0 124.1 443.7 125.1zM451.5 122.6 450.9 125.0 449.2 123.3zM450.1 123.6 448.0 121.4 450.9 120.7zM454.9 128.8 451.9 129.6 452.7 126.6zM444.4 121.4 444.4 118.1 447.2 119.7zM445.7 128.3 444.8 125.4 447.7 126.1zM447.0 123.6 450.0 122.3 449.5 125.5zM448.4 120.8 447.8 118.6 450.0 119.2zM449.1 122.9 447.8 125.2 446.5 123.0zM462.7 140.9 462.4 143.6 460.3 142.0zM461.0 137.7 460.9 135.2 463.2 136.3zM468.8 140.2 469.5 142.5 467.2 141.9zM464.7 138.4 467.0 140.1 464.4 141.2zM465.1 139.8 468.3 139.0 467.4 142.2zM461.8 142.5 459.1 143.8 459.3 140.7zM473.9 139.7 476.4 139.9 475.0 142.0zM465.6 143.9 462.6 145.3 462.8 142.0zM466.5 134.8 469.9 135.1 468.0 138.0zM463.1 135.9 465.9 135.9 464.5 138.3zM468.8 132.3 472.1 133.3 469.6 135.6zM471.9 138.2 469.3 135.9 472.6 134.8zM465.6 138.6 465.7 135.8 468.1 137.3zM465.6 143.3 467.9 142.7 467.2 145.0zM468.1 135.6 466.8 133.3 469.5 133.4zM463.3 140.8 462.9 138.5 465.0 139.3zM474.3 135.0 476.1 137.8 472.8 138.0zM462.8 137.2 462.0 135.1 464.2 135.5zM463.5 140.6 466.2 141.1 464.5 143.2zM461.5 145.9 458.2 145.3 460.4 142.8zM469.9 141.1 473.1 141.6 471.0 144.1zM469.4 149.8 466.7 149.4 468.4 147.3zM458.6 135.6 461.2 136.5 459.2 138.3zM476.7 132.3 476.9 135.7 473.9 134.2zM466.9 136.8 467.8 139.3 465.1 138.8zM459.0 136.2 460.1 133.5 461.8 135.8zM465.1 141.4 462.2 140.4 464.5 138.5zM467.4 140.0 468.6 142.0 466.3 142.1zM465.5 137.4 466.8 140.1 463.8 139.9zM467.8 135.1 469.4 136.9 467.0 137.4zM458.0 141.0 459.7 142.8 457.3 143.4zM452.8 142.0 454.8 139.3 456.1 142.4zM471.0 132.5 472.9 134.4 470.3 135.1zM454.9 134.9 453.8 136.9 452.6 134.9zM467.8 136.5 464.7 135.5 467.1 133.3zM469.0 142.9 469.6 139.8 472.0 142.0zM461.3 142.5 459.0 143.0 459.7 140.8zM456.2 137.4 458.4 135.7 458.7 138.4zM465.4 142.8 467.8 144.4 465.2 145.7zM470.0 144.3 469.1 146.3 467.8 144.5zM456.1 152.7 457.8 150.2 459.1 152.9zM462.3 140.8 459.0 141.3 460.3 138.2zM472.5 139.5 474.4 141.5 471.7 142.2zM470.0 133.0 472.5 133.6 470.7 135.5zM457.9 137.4 459.9 135.9 460.2 138.3zM463.5 139.9 461.1 140.4 461.8 138.0zM463.5 132.8 464.6 135.2 461.9 134.9zM465.4 131.5 468.0 133.6 464.9 134.8zM462.5 141.7 459.7 140.4 462.2 138.6zM458.8 139.5 460.7 137.2 461.8 140.0zM469.9 144.1 468.3 146.8 466.7 144.0zM471.7 141.3 471.8 143.7 469.7 142.6zM468.3 132.1 468.6 135.5 465.5 134.0zM462.4 134.8 460.4 137.3 459.2 134.3zM463.1 137.0 463.0 139.9 460.5 138.4zM461.8 136.5 459.9 139.0 458.7 136.1zM471.9 138.1 469.2 137.8 470.7 135.6zM456.6 139.1 453.3 138.5 455.5 135.9zM465.8 137.5 463.3 138.9 463.4 136.1zM475.3 141.2 477.3 143.1 474.7 143.8zM474.8 135.7 473.5 138.0 472.2 135.7zM467.7 140.9 468.5 138.5 470.2 140.4zM465.6 134.2 465.1 137.2 462.8 135.3zM465.9 129.4 467.6 131.8 464.6 132.1zM471.3 131.1 472.5 129.2 473.5 131.1zM466.0 133.9 467.5 137.0 464.1 136.8zM462.3 139.5 460.1 137.4 463.0 136.6zM469.9 140.9 472.1 141.6 470.4 143.1zM459.0 140.6 462.0 140.0 461.0 142.9zM466.4 145.6 466.6 148.5 464.0 147.3zM454.9 151.2 452.4 152.6 452.4 149.7zM456.1 151.1 454.3 153.3 453.3 150.6zM455.9 147.2 457.9 148.1 456.1 149.4zM455.4 149.7 455.5 152.4 453.2 151.1zM457.1 147.3 453.8 147.1 455.6 144.3zM455.6 153.7 455.1 150.4 458.2 151.7zM457.1 142.6 457.0 140.1 459.2 141.3zM457.2 158.7 455.5 160.1 455.0 157.9zM451.6 153.1 453.7 150.9 454.5 153.8zM457.3 157.8 455.4 160.0 454.4 157.3zM458.6 153.8 460.4 152.0 461.0 154.4zM455.3 143.7 454.6 141.2 457.1 141.9zM454.3 146.9 456.1 145.5 456.4 147.8zM457.8 159.4 458.1 162.7 455.1 161.3zM460.4 154.8 461.4 151.9 463.3 154.2zM459.0 150.6 456.7 152.8 456.0 149.6zM456.3 150.7 458.3 149.4 458.4 151.7zM460.1 148.2 461.2 145.9 462.7 147.9zM458.4 148.8 456.1 148.9 457.2 146.8zM457.5 162.6 460.3 161.2 460.1 164.3zM460.0 153.4 457.6 154.1 458.2 151.6zM458.7 156.2 455.6 156.3 457.0 153.5zM455.2 160.5 457.2 161.9 454.9 162.9zM461.0 156.4 462.9 158.4 460.2 159.1zM460.3 148.2 459.5 151.4 457.2 149.0zM462.6 142.2 462.3 145.3 459.7 143.5zM456.9 164.6 454.4 166.2 454.3 163.2zM455.4 145.9 457.3 147.2 455.2 148.2zM451.1 158.1 453.9 156.7 453.7 159.8zM460.7 152.1 460.6 154.5 458.6 153.2zM454.4 151.2 452.5 153.0 451.9 150.4zM455.7 158.6 453.8 157.4 455.8 156.4zM460.0 156.5 459.5 153.3 462.5 154.4zM456.8 161.2 458.8 160.2 458.7 162.5zM459.9 145.9 461.2 143.4 462.7 145.7zM458.3 143.4 459.6 146.1 456.6 145.8zM455.3 160.7 453.5 158.2 456.6 157.9zM453.1 150.6 455.4 150.4 454.4 152.5zM459.5 153.3 461.9 155.2 459.0 156.2zM454.1 150.2 453.6 153.2 451.3 151.3zM456.9 145.3 457.6 147.9 455.0 147.2zM461.7 151.4 463.4 152.7 461.3 153.6zM456.9 157.1 458.5 158.7 456.3 159.2zM456.0 143.7 458.9 143.5 457.6 146.1zM458.4 155.7 455.7 155.5 457.2 153.2zM457.8 160.4 455.8 157.9 459.0 157.4zM457.9 156.3 459.2 153.7 460.8 156.1zM458.1 153.7 455.1 153.2 457.0 150.8zM461.8 144.5 460.3 141.5 463.6 141.7zM460.6 153.9 460.6 156.2 458.6 155.1zM455.7 153.7 454.2 151.8 456.5 151.5zM460.0 143.0 459.0 145.8 457.0 143.5zM459.3 156.1 456.5 157.2 456.9 154.3zM454.9 151.9 456.1 153.8 453.9 153.9zM460.9 155.0 459.3 153.2 461.7 152.6zM455.9 144.1 453.7 143.2 455.5 141.7zM451.8 157.3 454.1 157.9 452.5 159.6zM456.1 150.4 458.3 152.1 455.7 153.1zM457.7 149.3 455.1 148.4 457.2 146.6zM463.0 155.4 461.7 158.5 459.7 155.8zM467.3 158.5 464.9 160.2 464.6 157.3zM463.9 165.2 461.6 164.4 463.5 162.9zM458.2 158.0 459.1 160.8 456.3 160.1zM460.5 164.3 458.8 167.2 457.1 164.3zM461.1 158.4 463.8 160.2 460.8 161.7zM461.3 160.1 464.4 158.7 464.1 162.0zM459.9 162.1 462.4 160.5 462.5 163.5zM460.5 164.9 457.9 166.7 457.6 163.5zM460.2 154.8 462.6 154.7 461.4 156.9zM461.9 168.1 458.8 167.0 461.4 164.9zM456.3 165.0 453.7 166.4 453.8 163.4zM461.1 157.3 463.4 158.6 461.2 159.9zM461.5 160.5 459.6 158.3 462.5 157.8zM458.3 163.0 456.2 164.9 455.6 162.1zM461.0 155.7 463.6 156.6 461.6 158.4zM459.8 164.0 458.1 161.6 461.0 161.3zM456.4 163.8 458.1 166.1 455.2 166.4zM460.4 161.9 459.6 165.3 457.1 162.9zM464.1 160.5 461.7 159.7 463.6 158.0zM461.7 160.9 463.9 162.9 461.1 163.8zM480.8 145.3 478.1 145.4 479.4 143.0zM479.9 150.7 480.3 147.3 483.0 149.3zM484.2 151.8 480.9 151.1 483.2 148.6zM475.6 143.5 474.0 145.6 473.0 143.1zM477.9 149.7 480.7 149.1 479.9 151.9zM477.5 145.8 475.9 147.8 475.0 145.4zM477.6 145.5 480.2 144.7 479.6 147.4zM482.8 141.2 481.4 144.3 479.4 141.6zM480.4 144.7 478.0 143.0 480.7 141.8zM478.2 142.1 480.6 141.8 479.6 144.0zM476.0 150.1 478.0 148.7 478.2 151.1zM475.2 148.2 474.1 145.6 476.8 145.9zM481.3 146.7 478.8 146.5 480.2 144.4zM476.6 147.4 476.9 145.1 478.7 146.5zM477.2 148.2 475.7 151.2 473.8 148.4zM478.2 148.9 480.9 150.7 478.0 152.1zM477.5 149.6 475.1 148.1 477.7 146.8zM476.9 147.7 474.5 148.2 475.2 145.8zM478.9 150.9 475.7 151.0 477.2 148.2zM473.3 144.7 472.6 147.0 470.9 145.2zM478.5 149.7 476.1 149.5 477.4 147.5zM477.5 144.0 476.0 146.1 474.9 143.8zM480.2 144.8 481.9 141.9 483.6 144.8zM478.8 150.8 476.2 152.2 476.3 149.2zM470.7 147.7 472.9 146.7 472.6 149.2zM477.8 146.0 481.0 146.8 478.8 149.2zM473.8 141.9 471.6 140.9 473.6 139.5zM474.2 142.2 477.3 141.9 475.9 144.7zM480.9 142.7 481.4 146.1 478.2 144.9zM483.4 144.9 483.0 147.7 480.7 146.0zM478.3 143.7 480.8 142.2 480.9 145.1zM475.0 149.1 476.3 146.1 478.2 148.7zM482.1 145.0 479.0 144.2 481.2 142.0zM482.9 146.5 480.5 145.6 482.5 144.0zM475.3 148.9 478.1 147.1 478.3 150.4zM479.8 143.5 477.6 145.9 476.7 142.8zM478.4 149.5 481.4 148.7 480.6 151.7zM477.9 150.8 475.3 149.3 477.9 147.8zM478.2 142.0 477.4 144.9 475.3 142.7zM480.4 144.2 482.7 142.7 482.8 145.4zM475.4 149.9 476.9 147.7 478.1 150.2zM473.6 141.8 476.9 141.5 475.5 144.6zM476.2 147.7 477.2 145.0 479.0 147.3zM480.9 144.1 482.2 146.2 479.7 146.3zM475.0 140.2 477.9 140.7 476.0 142.9zM484.0 149.5 484.8 152.5 481.8 151.7zM482.1 148.7 479.7 149.7 480.1 147.1zM485.4 153.2 482.6 154.4 483.0 151.3zM483.6 149.4 486.1 151.0 483.5 152.4zM484.5 146.1 484.5 149.4 481.6 147.7zM483.0 151.4 482.9 148.1 485.8 149.7zM482.8 153.0 485.9 151.6 485.5 155.0zM483.0 151.1 480.6 151.4 481.5 149.2zM482.6 151.4 484.7 152.6 482.6 153.9zM479.8 149.9 481.9 151.1 479.8 152.3zM472.4 111.6 471.9 114.4 469.7 112.5zM472.0 114.2 469.6 115.1 470.0 112.5zM466.7 114.3 469.3 112.6 469.5 115.7zM470.4 117.3 469.5 114.4 472.5 115.1zM466.9 111.4 469.8 113.1 467.0 114.7zM469.6 111.7 470.5 109.5 471.9 111.4zM470.1 112.8 468.0 110.3 471.2 109.7zM470.3 114.3 472.7 112.7 472.9 115.6zM472.9 114.3 472.7 111.1 475.6 112.5zM471.3 116.7 467.9 117.3 469.1 114.1zM469.9 113.0 471.1 115.1 468.6 115.1zM473.8 113.3 475.7 114.9 473.3 115.7zM467.2 112.7 466.2 109.9 469.1 110.5zM467.8 114.1 470.9 113.5 469.9 116.5zM468.9 113.5 470.8 114.5 468.9 115.7z" fill="#1a4cc4" opacity="0.9"/>
<path d="M629.6 35.5 626.8 34.6 629.0 32.7zM624.8 34.1 626.9 33.2 626.6 35.6zM631.0 32.3 627.6 33.1 628.7 29.8zM621.5 36.6 618.9 36.4 620.4 34.3zM624.3 35.1 627.1 34.3 626.4 37.1zM627.0 34.4 625.1 36.7 624.0 33.9zM627.5 34.3 625.9 32.5 628.2 32.0zM626.7 35.7 627.6 33.6 629.0 35.4zM624.7 37.4 621.9 39.2 621.7 36.0zM631.6 33.8 631.4 36.0 629.6 34.7zM623.9 35.2 623.7 37.6 621.7 36.3zM628.4 40.6 626.0 38.2 629.3 37.3zM625.5 34.7 625.8 31.7 628.3 33.5zM626.7 34.8 625.5 32.6 628.1 32.7zM629.4 33.1 629.7 36.5 626.6 35.0zM631.1 37.2 633.1 35.0 634.0 37.8zM625.2 36.2 623.3 37.3 623.3 35.1zM629.4 32.9 630.0 35.2 627.7 34.6zM626.3 38.6 624.3 41.3 623.0 38.2zM633.7 32.9 634.3 36.3 631.1 35.1zM624.3 35.0 626.1 37.0 623.5 37.5zM624.7 37.7 621.7 38.6 622.4 35.5zM629.4 35.0 626.3 36.6 626.5 33.2zM629.8 42.5 629.0 39.8 631.7 40.5zM630.5 35.2 628.3 32.9 631.5 32.2zM630.9 33.8 628.6 36.2 627.6 33.0zM627.0 33.0 629.6 33.9 627.5 35.8zM625.9 33.5 625.7 36.3 623.3 34.7zM625.2 36.1 624.3 38.9 622.3 36.7zM627.9 29.0 627.6 32.2 625.0 30.3zM628.7 36.7 629.7 34.6 631.1 36.5zM622.8 35.8 624.5 34.3 625.0 36.5zM627.2 36.1 629.2 34.1 630.0 36.8zM626.8 36.2 625.5 38.9 623.8 36.5zM624.5 34.0 626.9 32.7 626.9 35.5zM626.8 30.5 625.7 32.5 624.6 30.6zM627.7 37.1 627.5 39.9 625.1 38.4zM627.4 32.5 629.4 31.0 629.7 33.5zM627.8 32.5 629.6 31.0 630.0 33.3zM632.4 35.0 631.8 37.9 629.6 35.9zM615.0 44.3 612.6 46.4 612.0 43.4zM615.0 41.3 614.3 39.0 616.6 39.6zM611.1 43.9 608.8 46.0 608.1 43.0zM609.1 46.1 610.2 42.9 612.4 45.4zM618.9 45.3 618.0 43.0 620.5 43.4zM618.4 55.2 616.2 53.3 618.9 52.3zM614.2 51.2 612.9 53.5 611.5 51.3zM612.0 41.0 609.0 39.4 611.8 37.7zM616.9 43.1 616.3 45.7 614.4 43.8zM606.4 51.7 608.2 49.9 608.8 52.3zM617.7 41.1 619.2 38.6 620.6 41.1zM612.1 44.5 615.1 43.0 614.9 46.3zM608.8 48.5 607.3 45.5 610.7 45.8zM621.1 40.2 624.0 42.0 621.0 43.6zM613.1 43.2 610.9 45.8 609.8 42.6zM613.0 56.8 609.6 56.1 611.8 53.5zM618.2 48.0 617.7 50.5 615.8 48.8zM620.8 56.1 618.1 56.3 619.2 53.8zM616.1 43.9 617.0 46.4 614.5 45.9zM621.3 49.4 619.3 47.8 621.6 46.9zM605.4 47.2 606.3 44.7 608.0 46.8zM615.7 50.4 613.5 51.8 613.4 49.2zM616.4 49.6 614.1 48.2 616.6 46.9zM619.6 44.2 618.4 46.2 617.2 44.1zM611.3 51.1 609.8 49.0 612.3 48.8zM613.6 52.3 616.1 52.5 614.7 54.6zM619.6 37.9 622.0 39.8 619.2 40.9zM619.5 46.4 617.3 44.9 619.7 43.7zM616.3 44.2 614.2 45.6 614.1 43.1zM621.1 42.6 618.1 41.3 620.7 39.3zM618.4 36.5 617.3 39.0 615.7 36.8zM615.8 40.5 615.5 37.2 618.5 38.7zM610.3 45.5 607.3 45.7 608.6 43.1zM609.0 52.3 608.1 49.0 611.4 49.9zM608.2 52.3 610.8 51.9 609.9 54.4zM617.4 45.4 619.9 44.1 619.8 46.9zM619.3 45.5 618.0 47.3 617.0 45.2zM625.2 46.3 628.3 46.8 626.3 49.3zM611.7 48.5 611.0 45.8 613.7 46.4zM612.8 46.1 612.4 43.5 614.8 44.5zM613.1 43.9 610.3 42.5 613.0 40.8zM620.3 46.3 617.3 45.1 619.8 43.1zM618.8 45.2 617.4 42.7 620.2 42.7zM615.8 43.6 613.2 43.3 614.8 41.2zM621.9 51.7 622.3 54.3 619.8 53.3zM614.7 47.6 616.1 50.5 612.9 50.2zM620.2 36.2 618.2 37.9 617.6 35.3zM630.6 49.5 628.3 51.9 627.4 48.6zM623.5 46.0 622.4 43.9 624.8 44.0zM609.8 41.7 606.8 41.4 608.6 39.0zM612.3 48.5 610.7 51.0 609.3 48.3zM608.8 42.4 609.4 39.4 611.7 41.4zM624.5 38.2 622.7 40.9 621.2 38.1zM610.9 50.9 613.2 51.4 611.7 53.1zM629.0 36.0 627.5 38.7 625.9 36.1zM618.0 45.4 614.8 46.2 615.6 43.0zM611.6 37.2 614.0 38.8 611.4 40.1zM619.0 43.9 618.2 41.6 620.6 42.1zM610.5 46.4 611.5 43.6 613.5 45.9zM623.2 47.3 620.7 46.1 623.0 44.5zM628.5 44.8 626.6 43.4 628.8 42.4zM610.9 45.8 611.7 43.7 613.1 45.5zM610.4 42.6 611.1 39.5 613.4 41.6zM613.5 41.0 611.2 41.0 612.3 38.9zM611.0 46.8 612.1 43.6 614.3 46.1zM616.5 38.2 618.6 40.1 615.9 41.0zM615.2 41.9 612.9 41.7 614.2 39.8zM621.3 53.4 619.2 55.4 618.5 52.6zM616.8 48.7 614.5 47.0 617.1 45.9zM614.1 49.1 612.4 47.2 614.9 46.6zM621.2 48.8 622.4 51.7 619.3 51.3zM628.9 69.9 631.6 71.9 628.5 73.2zM627.4 58.9 624.6 59.1 625.9 56.6zM624.4 67.0 626.6 68.3 624.3 69.6zM619.5 61.0 620.9 63.5 618.0 63.5zM622.1 44.7 624.4 44.5 623.4 46.5zM621.7 60.6 620.2 63.6 618.4 60.8zM623.5 58.8 623.8 56.1 625.9 57.8zM616.2 58.9 614.9 61.5 613.3 59.0zM621.7 60.6 625.0 60.6 623.3 63.4zM632.2 57.1 634.8 58.6 632.2 60.0zM630.4 60.0 629.2 63.1 627.1 60.6zM616.7 60.2 615.1 63.2 613.3 60.3zM621.0 64.9 623.0 66.5 620.7 67.4zM628.0 62.3 627.9 64.5 626.0 63.3zM618.9 57.7 617.7 59.6 616.7 57.6zM627.1 56.4 626.7 54.0 628.9 54.8zM623.3 67.5 620.8 65.6 623.7 64.3zM620.9 60.2 622.7 58.7 623.1 61.0zM629.8 59.9 631.1 61.9 628.7 62.0zM615.1 59.4 612.9 60.4 613.2 58.0zM621.2 59.8 624.2 59.7 622.8 62.4zM622.5 55.5 623.2 53.3 624.7 55.0zM628.1 61.0 626.3 59.5 628.6 58.7zM628.9 61.1 630.7 58.8 631.8 61.6zM628.6 55.1 627.5 53.1 629.7 53.1zM620.9 57.5 623.1 59.1 620.6 60.1zM617.2 59.5 619.1 61.3 616.6 62.0zM621.2 54.6 621.4 58.0 618.4 56.5zM618.2 56.6 619.7 58.6 617.2 58.8zM613.8 65.2 611.1 64.3 613.2 62.4zM623.4 60.9 626.7 61.1 624.9 63.9zM630.2 62.0 628.4 59.4 631.6 59.2zM620.5 68.4 619.2 65.3 622.5 65.8zM621.5 59.4 619.6 60.6 619.5 58.4zM611.0 54.3 609.6 57.0 608.0 54.5zM623.8 62.6 621.4 63.6 621.8 61.0zM627.2 63.2 625.7 66.1 623.9 63.3zM620.4 56.5 617.1 55.5 619.7 53.2zM625.5 53.1 623.3 55.5 622.3 52.3zM618.7 57.6 621.6 58.1 619.7 60.4zM609.1 48.9 610.9 47.6 611.1 49.9zM622.9 53.2 626.3 52.7 625.1 56.0zM627.2 53.8 628.0 56.5 625.2 55.8zM617.9 62.5 614.6 63.3 615.6 60.1zM621.6 61.9 618.9 60.5 621.5 58.9zM617.1 52.1 619.8 53.1 617.6 55.0zM620.1 55.1 618.8 52.5 621.7 52.7zM619.3 51.6 622.3 50.9 621.5 53.8zM623.2 61.5 625.9 62.6 623.6 64.4zM626.8 50.6 623.9 52.1 624.1 48.9zM629.4 46.2 630.8 48.3 628.3 48.4zM624.8 58.5 622.8 60.1 622.5 57.6zM627.7 53.2 626.9 55.4 625.4 53.6zM620.3 66.5 617.2 65.3 619.8 63.2zM627.0 52.3 629.6 50.2 630.1 53.5zM619.2 52.0 622.2 53.0 619.8 55.1zM606.7 63.0 608.1 66.0 604.8 65.7zM619.5 57.7 618.2 60.0 616.8 57.7zM621.9 51.1 623.8 48.5 625.1 51.5zM626.3 55.5 626.9 52.4 629.3 54.4zM615.0 59.7 612.9 61.7 612.2 58.9zM622.6 53.4 624.6 55.2 622.0 56.0zM622.5 66.6 622.8 69.7 620.0 68.4zM627.7 58.8 624.9 59.0 626.1 56.6zM618.3 70.1 619.9 67.2 621.6 70.0zM618.7 47.5 618.9 45.2 620.8 46.5zM630.7 54.4 629.4 56.6 628.1 54.4zM609.0 48.0 610.6 50.5 607.6 50.6zM612.5 45.5 614.1 43.4 615.1 45.8zM616.9 52.7 619.4 54.8 616.3 55.9zM632.6 56.0 632.8 58.9 630.2 57.7zM619.7 57.9 617.3 57.6 618.7 55.7zM623.9 65.4 621.7 63.9 624.1 62.7zM631.2 45.8 629.7 47.7 628.8 45.5zM612.2 56.9 614.7 57.6 612.8 59.3zM631.9 55.9 633.7 53.3 635.1 56.1zM628.8 52.9 630.0 55.8 626.9 55.4zM620.4 56.1 618.1 58.2 617.5 55.2zM631.1 57.0 628.5 54.9 631.6 53.7zM622.3 61.6 621.3 59.1 624.0 59.5zM629.0 57.7 627.5 60.1 626.2 57.6zM625.9 67.4 628.9 67.4 627.5 70.0zM626.0 57.1 626.3 54.5 628.4 56.0zM619.8 60.1 621.8 58.4 622.3 60.9zM619.4 52.6 620.1 49.8 622.1 51.8zM617.3 56.6 614.6 54.5 617.8 53.2zM611.0 77.5 608.4 75.3 611.6 74.1zM627.4 53.2 628.5 55.6 625.9 55.4zM618.6 67.0 615.9 65.6 618.5 64.0zM623.5 63.3 623.4 66.7 620.5 65.0zM630.9 72.4 632.3 70.1 633.6 72.4zM632.4 73.7 629.9 73.6 631.3 71.5zM627.7 66.0 629.7 68.2 626.8 68.8zM631.0 72.1 631.1 75.5 628.0 73.9zM627.7 69.2 629.6 68.1 629.7 70.3zM629.2 64.9 630.4 62.4 631.9 64.7zM619.9 76.8 622.7 76.3 621.8 78.9zM626.1 68.0 623.7 66.0 626.7 64.9zM630.4 82.9 628.0 81.6 630.3 80.1zM626.0 71.6 626.2 68.5 628.8 70.3zM629.2 77.2 629.2 74.8 631.3 76.0zM627.1 61.0 627.7 57.7 630.3 59.8zM632.1 65.0 632.2 68.4 629.2 66.8zM627.5 71.1 630.3 70.9 629.1 73.4zM629.3 91.0 627.6 89.4 629.8 88.8zM628.3 78.2 627.5 81.0 625.5 78.9zM626.5 69.8 628.9 68.3 629.0 71.2zM631.7 76.3 629.4 74.2 632.4 73.3zM626.6 66.5 626.8 64.2 628.8 65.5zM628.8 75.3 628.2 78.3 625.9 76.3zM627.0 97.5 624.4 97.2 626.0 95.1zM624.3 68.7 621.0 69.5 622.0 66.3zM619.6 75.5 622.5 77.1 619.7 78.7zM627.9 74.1 630.2 75.1 628.2 76.6zM628.0 81.5 629.6 83.9 626.7 84.2zM618.7 65.7 616.8 67.1 616.5 64.8zM628.0 80.1 627.5 77.2 630.3 78.2zM615.6 83.0 618.3 82.3 617.5 85.0zM629.8 82.2 630.5 84.4 628.2 83.9zM624.6 65.9 623.7 68.3 622.1 66.3zM623.8 69.2 622.9 67.1 625.2 67.3zM623.7 60.7 625.1 58.5 626.3 60.8zM624.2 59.5 623.6 56.4 626.6 57.4zM631.3 56.2 633.5 54.8 633.6 57.4zM622.9 64.4 623.1 62.1 625.0 63.3zM624.6 76.7 624.3 74.3 626.5 75.3zM631.6 75.8 630.3 73.7 632.7 73.6zM622.7 82.4 622.8 80.1 624.7 81.4zM623.3 67.5 625.1 64.7 626.6 67.7zM625.3 75.0 627.2 77.3 624.2 77.8zM629.9 67.7 629.8 70.9 627.1 69.2zM626.0 65.7 627.4 68.8 624.0 68.4zM621.3 69.7 624.2 69.5 622.9 72.1zM625.6 70.4 624.7 72.6 623.3 70.7zM631.5 75.0 628.8 77.1 628.3 73.7zM624.4 85.0 627.4 84.0 626.8 87.1zM623.2 75.4 624.9 77.6 622.1 78.0zM629.7 74.7 626.7 75.0 627.9 72.3zM624.9 68.1 624.1 65.4 626.8 66.0zM631.9 60.8 629.1 60.5 630.7 58.2zM630.2 60.8 628.5 63.5 626.9 60.7zM620.3 71.2 621.9 72.9 619.6 73.4zM624.7 84.7 627.0 85.2 625.4 87.0zM622.0 71.5 621.7 74.7 619.0 72.8zM629.0 71.7 629.3 74.4 626.9 73.3zM627.2 62.1 624.2 60.8 626.9 58.8zM632.3 78.4 629.2 77.8 631.3 75.4zM629.7 75.2 628.3 73.4 630.6 73.1zM630.0 66.0 632.5 67.6 629.8 69.0zM633.4 64.6 632.5 67.6 630.3 65.3zM630.6 63.5 630.2 66.6 627.8 64.7zM626.8 79.4 626.0 76.2 629.2 77.1zM625.7 77.9 628.0 78.2 626.6 80.0zM625.6 84.9 625.3 82.7 627.4 83.6zM626.1 91.8 626.6 88.5 629.3 90.6zM630.5 73.5 629.5 70.5 632.6 71.2zM622.2 68.6 624.5 68.1 623.8 70.4zM620.0 74.4 622.2 72.5 622.8 75.4zM626.1 69.8 624.3 72.1 623.2 69.4zM606.6 84.1 608.6 86.5 605.5 87.1zM618.9 76.4 617.2 78.5 616.3 76.0zM604.9 68.5 604.2 71.0 602.4 69.1zM599.7 79.0 597.7 77.1 600.4 76.3zM600.9 81.5 601.1 84.4 598.5 83.1zM605.6 72.5 607.9 72.2 607.0 74.3zM616.9 66.7 613.5 66.8 615.1 63.8zM612.6 77.1 613.9 79.6 611.1 79.4zM608.0 76.3 611.2 77.5 608.6 79.7zM602.1 80.9 603.5 82.7 601.2 83.0zM614.1 61.9 615.4 64.7 612.4 64.5zM606.9 76.5 609.7 76.0 608.7 78.7zM605.5 81.7 606.1 79.5 607.7 81.1zM607.6 73.2 608.2 76.5 605.1 75.4zM612.3 70.9 614.9 69.8 614.6 72.6zM607.3 74.3 605.7 76.4 604.7 74.0zM605.3 74.3 603.1 75.4 603.2 72.9zM614.9 73.7 613.5 71.1 616.4 71.2zM620.1 68.5 619.1 65.4 622.3 66.2zM603.4 86.9 600.3 88.2 600.7 84.8zM609.3 71.6 609.4 68.8 611.8 70.3zM605.7 76.2 606.9 74.3 608.0 76.3zM619.8 79.3 621.3 77.4 622.2 79.7zM610.2 82.5 607.9 82.0 609.5 80.2zM608.8 79.7 607.5 76.7 610.7 77.0zM603.3 76.8 605.0 79.1 602.2 79.4zM608.7 70.0 607.5 67.3 610.5 67.6zM606.8 68.7 609.2 67.8 608.8 70.3zM599.4 78.7 598.1 76.5 600.7 76.5zM611.5 82.9 611.2 86.1 608.6 84.2zM603.1 67.4 606.0 65.8 605.9 69.1zM602.4 74.2 605.2 76.0 602.3 77.6zM607.4 82.7 605.8 80.4 608.6 80.1zM608.0 84.3 607.1 86.6 605.6 84.7zM603.0 82.0 604.5 79.2 606.3 81.9zM610.3 81.6 610.5 79.3 612.4 80.7zM609.1 70.9 610.5 68.5 611.9 70.8zM613.3 75.3 610.8 74.5 612.7 72.7zM605.6 69.2 608.8 70.2 606.3 72.4zM608.6 75.4 609.6 73.3 610.9 75.2zM604.5 84.0 603.1 82.0 605.5 81.8zM603.3 82.1 602.8 78.8 605.9 80.1zM609.4 80.1 609.7 82.8 607.2 81.8zM609.9 69.0 607.4 70.9 607.0 67.8zM609.6 78.7 609.6 82.2 606.6 80.4zM618.7 90.6 616.9 92.3 616.3 90.0zM611.5 83.0 614.3 84.9 611.2 86.4zM601.0 81.1 604.0 81.4 602.2 83.9zM610.1 80.4 612.0 81.9 609.8 82.9zM611.0 78.8 612.3 81.4 609.4 81.2zM609.1 74.2 606.2 75.1 606.9 72.1zM612.5 76.6 612.2 79.4 609.9 77.8zM612.6 75.9 612.7 73.6 614.6 74.8zM605.8 73.5 605.9 71.1 608.0 72.5zM613.0 72.7 609.9 73.3 610.9 70.3zM603.1 76.8 606.0 77.2 604.2 79.6zM604.8 87.4 606.4 85.5 607.2 87.8zM611.1 85.9 607.8 85.6 609.8 82.9zM613.8 86.0 615.1 84.0 616.1 86.1zM612.1 73.1 614.2 75.0 611.6 75.8zM610.6 75.5 611.6 78.5 608.5 77.9zM611.7 72.3 613.4 74.5 610.7 74.9zM610.6 75.6 610.8 73.2 612.7 74.6zM613.2 87.8 610.1 87.4 612.0 84.9zM616.0 74.6 613.8 76.9 612.9 73.9zM613.3 66.8 614.7 64.2 616.2 66.7zM610.7 68.6 607.5 69.3 608.5 66.2zM609.6 69.9 607.2 70.8 607.6 68.3zM609.5 72.9 607.2 74.6 606.9 71.7zM613.1 94.7 614.0 91.6 616.3 93.9zM611.8 84.0 614.0 85.6 611.5 86.6zM609.4 76.3 612.0 77.3 609.9 79.0zM606.7 68.6 608.2 70.3 606.0 70.8zM603.6 82.5 605.5 84.0 603.3 84.9zM606.6 82.2 604.6 80.7 606.9 79.8zM603.2 92.5 605.5 95.0 602.2 95.7zM613.2 77.9 615.6 75.9 616.2 79.0zM616.2 81.0 619.0 81.1 617.5 83.5zM615.3 76.3 613.7 79.0 612.1 76.2zM604.1 88.7 606.5 86.5 607.2 89.7zM613.5 85.0 610.4 85.0 611.9 82.4zM613.3 80.7 612.0 78.5 614.6 78.4zM604.6 81.4 606.2 79.7 607.0 81.9zM598.2 79.6 599.5 77.6 600.5 79.7zM614.2 75.2 615.1 77.7 612.4 77.2zM616.8 77.0 617.1 74.6 619.0 76.1zM602.2 81.1 604.6 82.4 602.3 83.8zM609.1 83.6 605.7 83.7 607.4 80.7zM605.3 83.5 603.7 81.8 606.0 81.3zM608.2 81.8 607.7 78.8 610.5 79.8zM623.7 80.7 622.0 83.6 620.4 80.7zM615.0 93.6 616.5 91.4 617.7 93.8zM625.0 90.9 622.3 91.9 622.8 89.0zM612.4 85.9 612.7 89.0 609.8 87.6zM615.3 82.9 616.4 85.2 613.9 85.0zM609.1 75.2 608.4 72.6 611.0 73.3zM620.6 90.8 623.2 90.0 622.6 92.6zM611.3 83.6 609.7 85.6 608.8 83.2zM618.8 83.7 616.0 83.4 617.7 81.1zM621.0 83.9 619.0 85.0 619.1 82.7zM608.6 84.5 610.3 81.9 611.7 84.6zM618.2 79.8 620.7 80.0 619.3 82.1zM619.6 93.2 620.9 91.0 622.2 93.2zM621.6 90.3 618.9 90.4 620.1 88.0zM615.3 88.8 618.0 88.6 616.8 91.0zM611.7 72.4 614.2 70.4 614.6 73.5zM614.8 95.4 612.6 95.7 613.4 93.6zM620.8 80.3 622.6 78.2 623.5 80.8zM617.4 80.6 616.4 83.6 614.2 81.2zM611.0 86.0 609.6 83.1 612.9 83.3zM619.3 86.8 621.5 84.7 622.2 87.7zM616.3 74.5 614.4 72.8 616.8 72.0zM629.0 78.1 628.4 80.4 626.6 78.8zM618.4 91.3 616.2 91.9 616.8 89.7zM616.6 90.2 619.4 90.3 617.8 92.7zM604.3 79.7 606.9 80.3 605.0 82.2zM614.7 78.8 612.3 78.4 613.9 76.5zM610.9 90.9 608.5 93.0 607.9 89.9zM609.6 90.8 612.6 92.6 609.6 94.3zM621.0 82.7 622.8 84.1 620.7 85.0zM609.1 84.0 609.2 80.9 611.8 82.5zM614.3 80.5 614.3 83.6 611.6 82.1zM614.1 85.0 613.7 87.8 611.5 86.1zM616.3 87.1 613.9 85.5 616.5 84.2zM616.5 91.5 618.6 93.9 615.4 94.5zM628.2 86.8 625.8 86.8 627.0 84.7zM618.2 84.2 616.4 86.8 615.1 84.0zM621.3 91.4 620.9 89.1 623.1 89.9zM616.2 84.0 619.2 84.6 617.2 86.8zM621.6 93.3 618.1 93.2 619.9 90.3zM614.8 90.3 613.3 87.7 616.3 87.7zM607.1 83.0 607.5 80.8 609.3 82.2zM620.0 78.1 617.7 76.3 620.4 75.2zM610.5 85.9 610.4 89.2 607.5 87.4zM605.6 84.1 607.8 82.7 608.0 85.3zM627.5 89.4 626.2 87.6 628.4 87.3zM626.6 94.2 626.2 96.6 624.4 95.1zM612.0 86.0 612.8 83.1 614.9 85.3zM618.3 90.7 620.8 93.1 617.5 94.0zM623.7 92.1 623.2 89.5 625.6 90.4zM617.0 80.5 618.8 77.8 620.2 80.8zM622.7 80.7 623.7 83.9 620.4 83.1zM622.3 95.7 620.3 93.5 623.2 92.9zM608.6 97.6 610.9 97.3 609.9 99.4zM616.7 94.1 614.4 92.3 617.1 91.1zM623.4 98.0 620.3 98.2 621.6 95.4zM622.4 97.0 622.2 94.8 624.2 95.8zM623.1 80.8 620.8 83.3 619.8 80.0zM615.0 91.4 615.7 88.6 617.7 90.6zM620.4 85.7 623.6 86.3 621.5 88.8zM613.6 80.3 611.9 77.8 615.0 77.6zM615.0 82.4 617.8 82.2 616.6 84.8zM619.2 91.8 619.4 89.0 621.7 90.6zM618.7 75.7 615.9 74.1 618.6 72.5zM612.0 82.2 614.6 80.9 614.5 83.8zM619.6 80.7 621.9 82.6 619.1 83.6zM614.5 80.1 616.0 77.9 617.2 80.3zM620.5 90.0 620.4 87.3 622.8 88.7zM611.0 78.7 613.8 77.2 613.8 80.4zM623.8 85.2 622.2 87.9 620.7 85.1zM608.7 95.3 606.5 97.9 605.4 94.7zM606.6 86.1 606.2 89.4 603.5 87.4zM604.0 95.6 605.0 92.9 606.8 95.1zM605.1 92.4 607.6 94.7 604.4 95.8zM601.1 94.7 598.2 95.0 599.4 92.3zM600.9 94.6 602.4 92.9 603.1 95.0zM604.4 95.3 606.5 96.5 604.5 97.7zM610.0 96.0 612.2 96.8 610.5 98.3zM606.8 93.4 605.5 90.4 608.8 90.7zM608.6 89.2 611.2 89.2 609.9 91.4zM609.6 99.0 607.8 97.5 610.0 96.6zM606.7 90.8 605.7 93.6 603.8 91.3zM607.7 95.1 605.0 93.8 607.5 92.2zM610.2 87.4 607.7 86.6 609.6 84.9zM604.3 85.7 607.2 87.1 604.5 88.9zM607.2 93.5 605.0 96.1 603.8 92.9zM606.1 92.1 608.0 90.2 608.7 92.8zM601.9 86.9 603.7 89.3 600.8 89.6zM605.2 96.1 602.6 96.7 603.4 94.1zM602.9 92.7 604.5 90.6 605.6 93.1z" fill="#13ace2" opacity="0.95"/>
<path d="M595.1 54.9 594.4 52.3 597.0 53.0zM596.7 69.3 594.0 68.9 595.8 66.7zM598.1 68.8 597.5 71.5 595.4 69.6zM593.9 64.4 595.4 66.7 592.7 66.9zM602.9 59.3 600.4 58.1 602.7 56.6z" fill="#13ace2" opacity="0.9"/>
<path d="M613.3 118.3 616.0 120.0 613.1 121.5zM609.1 115.9 608.2 118.8 606.1 116.6zM608.1 106.9 610.1 109.0 607.3 109.7zM609.8 114.5 609.9 111.7 612.3 113.2zM619.2 116.5 621.8 116.7 620.3 118.8zM613.9 114.5 612.1 115.9 611.8 113.6zM615.9 116.3 614.1 114.0 616.9 113.6zM618.2 112.1 615.7 113.2 616.1 110.4zM616.0 115.7 613.6 114.9 615.5 113.2zM618.9 106.1 618.0 108.6 616.3 106.6zM621.0 113.0 620.8 110.3 623.2 111.5zM622.8 112.4 624.3 110.3 625.4 112.6zM618.0 110.4 615.0 111.1 615.9 108.2zM625.7 122.7 623.1 121.3 625.6 119.7zM614.9 109.8 615.5 107.6 617.1 109.2zM623.8 118.0 622.2 116.1 624.6 115.7zM622.5 105.7 619.5 105.7 621.0 103.1zM619.8 111.9 619.4 114.4 617.5 112.8zM614.3 115.4 615.0 113.0 616.7 114.8zM615.4 112.5 618.0 114.2 615.2 115.7zM618.8 110.6 616.3 112.2 616.1 109.2zM627.9 110.6 628.4 113.0 626.1 112.2zM620.0 118.1 620.3 115.5 622.4 117.0zM611.8 109.4 612.8 112.4 609.7 111.8zM610.6 111.2 612.7 110.2 612.5 112.5zM608.6 117.5 610.0 114.7 611.7 117.3zM616.8 104.7 618.5 106.2 616.3 106.9zM619.9 105.9 621.1 107.6 619.0 107.8zM609.8 114.6 607.5 115.2 608.1 112.9zM618.9 107.5 617.6 110.2 615.9 107.7zM620.9 113.4 622.7 114.4 620.9 115.5zM617.8 115.7 619.8 117.7 617.1 118.4zM618.7 117.1 620.3 118.8 618.0 119.4zM619.5 112.5 620.4 114.7 618.0 114.4zM629.0 110.9 627.2 108.7 630.0 108.2zM618.1 110.4 615.2 111.2 615.9 108.3zM607.7 114.9 605.8 116.5 605.4 114.1zM627.5 119.7 629.8 120.0 628.4 121.9zM616.1 106.1 617.1 108.7 614.3 108.3zM612.6 113.8 615.4 114.0 613.7 116.3zM615.5 114.8 615.6 117.3 613.3 116.2zM618.5 107.5 617.8 104.9 620.4 105.6zM611.2 117.9 608.6 116.5 611.1 114.9zM622.4 113.8 620.9 111.5 623.7 111.4zM627.5 110.7 626.4 113.6 624.4 111.2zM616.3 111.1 615.8 113.1 614.3 111.7zM619.1 111.7 618.6 114.4 616.4 112.6zM612.3 109.4 610.7 107.3 613.3 107.0zM626.5 109.7 623.8 111.5 623.6 108.3zM613.7 116.4 616.6 115.5 615.9 118.5zM613.9 109.9 611.3 109.5 612.9 107.4zM609.7 109.5 607.4 109.9 608.2 107.7zM611.8 111.0 610.2 109.5 612.3 108.9zM624.9 114.8 624.9 117.0 623.0 115.9zM620.2 113.9 622.4 114.5 620.8 116.1zM620.7 107.2 621.9 109.2 619.6 109.3zM635.2 110.6 632.9 109.0 635.4 107.8zM608.5 121.5 611.2 121.6 609.7 123.9zM615.0 110.7 616.0 113.5 613.1 112.9zM611.9 109.5 611.8 112.2 609.4 110.7zM621.4 114.0 619.1 114.9 619.5 112.4zM608.8 117.1 609.2 114.4 611.3 116.1zM612.7 102.6 613.6 105.3 610.9 104.8zM622.6 112.5 623.7 114.4 621.4 114.4zM616.9 107.4 615.8 109.6 614.4 107.5zM620.1 109.9 623.3 109.7 621.8 112.6zM613.4 113.3 614.0 116.1 611.3 115.3zM620.3 105.6 618.5 107.5 617.7 105.0zM623.1 104.1 625.0 102.1 625.8 104.8zM610.9 113.2 613.5 113.1 612.3 115.4zM617.0 114.7 617.5 117.2 615.1 116.4zM625.6 108.1 626.1 110.7 623.6 109.9zM615.5 109.3 617.0 106.4 618.7 109.1zM609.8 116.4 610.1 114.0 611.9 115.5zM618.6 113.9 620.1 111.9 621.1 114.2zM612.6 121.3 612.4 118.8 614.6 119.9zM618.1 113.9 621.0 114.5 619.0 116.7zM618.2 112.2 618.6 114.8 616.1 113.9zM622.7 116.6 625.5 116.5 624.2 119.0zM623.7 111.0 625.4 113.5 622.4 113.7zM617.9 108.1 616.5 105.3 619.6 105.5zM614.5 110.1 616.1 107.7 617.4 110.3zM611.8 110.5 613.8 112.7 610.9 113.3zM617.1 106.8 619.4 109.0 616.3 109.9zM605.2 110.5 608.1 109.4 607.6 112.5zM615.8 113.7 617.9 112.5 617.9 114.9zM612.8 104.0 612.7 107.2 610.0 105.5zM607.5 113.2 604.3 112.7 606.3 110.2zM612.8 116.2 612.9 113.8 614.9 115.1zM609.9 119.8 606.9 119.3 608.8 116.9zM614.5 111.1 616.5 109.7 616.7 112.2zM617.3 117.3 616.8 114.1 619.7 115.3zM621.9 104.5 620.4 102.0 623.3 101.9zM612.3 113.6 614.9 113.5 613.7 115.8zM621.3 114.3 619.1 113.2 621.2 111.9zM610.5 113.2 613.1 113.6 611.5 115.6zM616.8 111.0 616.4 113.3 614.6 111.8zM624.0 112.9 623.3 110.5 625.8 111.1zM618.3 120.4 619.6 117.5 621.4 120.1zM623.4 107.0 621.8 105.4 624.0 104.9zM622.2 110.6 624.5 110.4 623.5 112.5zM614.3 110.0 614.9 112.8 612.2 112.0zM609.8 116.6 608.6 113.8 611.6 114.2zM612.9 116.2 611.4 117.7 610.8 115.6zM617.7 110.9 619.8 111.3 618.4 113.0zM620.8 109.4 621.4 111.9 618.9 111.1zM615.5 117.7 617.9 117.1 617.2 119.4zM626.3 113.9 628.3 114.6 626.7 116.0zM626.8 104.9 624.2 105.0 625.4 102.7zM616.7 112.2 618.3 110.8 618.7 112.9zM613.4 115.5 614.1 113.6 615.4 115.2zM630.1 114.5 628.1 116.1 627.7 113.5zM623.9 117.7 625.0 119.7 622.7 119.6zM625.0 114.2 623.7 111.6 626.6 111.8zM612.4 118.9 613.3 116.3 615.1 118.4zM623.5 108.8 623.0 111.4 620.9 109.6zM628.1 107.3 627.0 109.5 625.6 107.5zM609.2 110.9 611.3 111.7 609.5 113.1zM610.4 112.5 608.0 111.8 609.9 110.0zM616.5 107.9 618.4 109.7 615.8 110.5zM618.7 107.2 616.1 106.3 618.2 104.4zM624.6 116.2 622.1 118.1 621.6 115.0zM615.8 115.5 613.5 114.8 615.3 113.1zM614.6 119.4 614.5 116.9 616.7 118.0zM609.7 112.0 612.0 114.0 609.1 115.0zM615.5 117.1 612.8 115.9 615.2 114.2zM619.5 103.0 617.2 105.2 616.4 102.1zM614.1 107.0 616.3 106.5 615.7 108.7zM619.6 114.7 621.6 117.0 618.7 117.6zM610.8 115.5 608.8 114.3 610.9 113.1zM626.4 114.2 625.6 116.9 623.7 114.8zM632.6 126.4 629.4 126.3 631.1 123.6zM630.9 122.4 633.1 120.6 633.6 123.4zM627.2 116.3 629.2 117.4 627.2 118.6zM632.0 119.9 633.4 117.8 634.5 120.1zM629.6 119.7 632.6 119.9 630.9 122.4zM636.1 119.6 638.7 120.1 637.0 122.1zM626.4 113.0 625.1 110.6 627.9 110.6zM632.2 112.4 630.4 113.5 630.4 111.5zM619.5 115.8 622.0 115.9 620.7 118.0zM631.9 119.1 629.6 118.2 631.6 116.7zM632.3 110.8 630.3 111.4 630.7 109.4zM630.4 122.3 632.9 122.5 631.5 124.5zM629.9 119.7 632.9 118.9 632.1 121.9zM629.3 123.5 630.4 121.2 631.8 123.3zM626.3 106.7 624.0 108.1 623.9 105.4zM629.1 118.3 627.3 119.3 627.4 117.2zM632.2 114.7 633.3 112.6 634.6 114.6zM630.5 119.6 630.3 116.9 632.8 118.0zM633.2 114.4 635.3 115.7 633.2 116.8zM631.9 121.9 634.9 121.9 633.5 124.5zM627.7 118.9 628.4 115.7 630.8 117.9zM626.9 114.5 628.4 113.0 628.9 115.1zM626.4 111.1 628.4 111.8 626.8 113.2zM633.6 122.3 632.6 119.8 635.3 120.2zM628.5 119.9 629.5 117.5 631.1 119.6zM630.8 125.7 631.6 128.3 629.0 127.6zM635.8 115.5 634.8 117.9 633.2 115.8zM632.9 109.8 633.1 107.5 635.0 108.7zM626.6 114.5 627.9 112.4 629.1 114.6zM630.8 115.8 631.7 113.8 633.1 115.7zM626.5 112.5 627.6 114.9 625.0 114.6zM623.0 111.9 622.1 109.6 624.5 110.0zM625.8 119.2 626.3 121.3 624.2 120.7zM630.4 123.7 631.2 121.2 632.9 123.1zM620.8 112.8 623.1 115.0 620.0 115.9zM633.3 120.5 630.6 120.1 632.3 117.9zM624.6 120.2 623.2 121.8 622.5 119.9zM630.8 112.8 628.4 113.3 629.2 111.0zM631.5 126.5 633.8 128.7 630.7 129.6zM627.8 110.0 630.6 109.8 629.4 112.3zM628.5 111.7 631.1 112.6 629.0 114.4zM620.1 115.5 617.3 116.8 617.5 113.6zM632.9 113.4 630.8 112.9 632.2 111.3zM629.4 115.7 631.2 117.9 628.3 118.3zM627.0 114.7 629.2 115.5 627.4 117.1zM627.7 115.4 629.8 116.3 628.0 117.6zM628.0 122.1 629.2 119.4 630.9 121.8zM629.1 113.3 626.9 114.4 627.0 111.9zM631.8 115.4 631.7 112.9 633.9 114.1zM632.7 123.0 631.2 124.5 630.7 122.5zM631.8 119.2 630.7 116.1 633.9 116.7zM627.8 114.1 627.4 111.5 629.9 112.5zM625.0 121.3 627.1 123.5 624.1 124.2zM618.6 126.7 619.3 129.1 616.9 128.5zM634.2 114.9 636.0 116.6 633.6 117.3zM619.8 120.0 622.0 122.3 618.9 123.0zM624.5 118.6 625.5 121.4 622.6 120.9zM627.5 118.5 629.6 120.7 626.7 121.4zM629.5 117.2 628.4 119.3 627.1 117.3zM621.9 119.4 619.9 116.9 623.1 116.5zM625.3 125.4 624.4 123.0 626.9 123.4zM625.9 122.0 625.5 119.1 628.3 120.2zM632.3 115.8 633.9 117.1 631.9 117.8zM625.2 119.8 624.9 117.5 627.1 118.4zM628.8 120.9 630.5 122.7 628.1 123.3zM625.8 109.2 626.3 112.2 623.5 111.2zM633.9 118.0 633.7 120.3 631.8 119.0zM635.6 126.9 634.3 125.0 636.6 124.9zM622.2 120.2 618.9 119.9 620.8 117.3zM632.1 117.4 630.2 119.8 629.0 117.0zM632.7 129.0 635.0 127.7 635.1 130.4zM628.9 118.1 627.7 116.3 629.8 116.1zM632.1 123.3 632.1 120.7 634.4 122.0zM629.5 124.4 627.4 122.2 630.3 121.4zM637.6 114.9 635.3 115.4 636.1 113.2zM635.9 114.8 634.2 112.2 637.4 112.1zM636.7 111.2 636.5 113.5 634.6 112.2zM624.2 110.0 625.7 108.1 626.5 110.4zM629.6 116.5 627.9 118.9 626.7 116.2zM630.2 115.7 627.8 116.3 628.5 113.9zM629.9 114.8 627.3 115.7 627.8 113.0zM627.2 120.0 626.3 116.9 629.4 117.7zM626.9 116.8 628.0 119.1 625.4 118.9zM624.5 107.8 625.6 110.7 622.5 110.2zM634.6 112.2 633.0 114.1 632.1 111.8zM628.8 112.5 629.6 109.9 631.4 111.9zM621.5 110.4 621.5 108.2 623.4 109.3zM626.2 123.8 625.5 126.4 623.6 124.4zM625.6 119.8 625.1 117.7 627.1 118.4zM623.7 134.5 622.2 136.2 621.5 134.0zM616.8 141.4 618.6 138.8 620.0 141.7zM626.3 132.7 623.9 131.8 625.9 130.2zM627.6 126.4 627.7 124.1 629.6 125.2zM619.1 135.8 622.2 135.1 621.3 138.1zM632.9 132.5 630.7 131.4 632.7 130.0zM634.4 140.3 633.5 142.7 631.9 140.7zM621.5 137.7 619.1 138.4 619.7 136.0zM631.4 127.9 629.9 130.2 628.6 127.8zM633.0 125.0 631.3 126.4 630.9 124.3zM632.5 142.4 629.5 141.5 631.7 139.4zM632.9 140.7 631.3 139.0 633.6 138.4zM624.3 125.6 626.1 123.4 627.1 126.1zM634.6 138.5 632.3 139.4 632.6 136.9zM628.1 132.5 627.7 129.9 630.2 130.8zM621.0 133.2 620.7 135.5 618.8 134.1zM628.6 127.0 626.5 127.8 626.8 125.6zM627.7 128.8 627.3 131.4 625.3 129.7zM621.9 140.1 620.6 138.5 622.7 138.1zM617.3 129.6 618.6 131.8 616.1 131.8zM623.3 139.0 624.5 141.1 622.1 141.1zM622.7 137.3 625.7 137.7 623.9 140.1zM619.3 123.7 620.6 126.6 617.4 126.4zM625.3 143.7 622.8 145.0 623.0 142.2zM626.5 133.6 625.8 130.5 628.8 131.5zM622.6 143.1 620.2 143.0 621.5 140.9zM629.0 127.1 625.9 126.6 627.9 124.1zM626.1 133.2 626.0 135.9 623.7 134.4zM624.4 134.0 627.1 132.3 627.3 135.4zM622.8 133.1 625.1 133.6 623.5 135.4zM614.8 133.8 613.4 131.9 615.8 131.6zM623.6 141.4 620.9 141.6 622.1 139.1zM629.4 133.6 628.0 131.5 630.5 131.3zM622.5 135.7 623.8 133.2 625.3 135.7zM632.8 140.0 635.5 139.9 634.3 142.2zM621.0 141.3 622.7 143.5 619.9 143.9zM618.2 141.8 620.1 139.2 621.4 142.2zM624.5 126.3 626.3 127.6 624.3 128.5zM621.1 132.8 623.4 132.5 622.6 134.6zM628.3 142.3 630.3 140.8 630.7 143.3zM617.3 131.8 615.0 132.6 615.4 130.2zM630.4 136.1 630.6 138.5 628.5 137.6zM627.5 139.4 625.8 138.1 627.8 137.3zM627.4 143.0 628.0 140.9 629.5 142.4zM624.3 121.0 622.0 122.8 621.5 119.9zM625.2 130.7 627.8 129.1 627.8 132.1zM617.5 135.2 615.3 135.5 616.2 133.4zM621.1 132.5 622.0 135.0 619.4 134.5zM625.6 135.8 623.3 136.5 623.8 134.1zM622.4 129.2 620.4 131.1 619.7 128.4zM627.9 138.6 629.4 136.7 630.2 138.9zM624.7 127.0 622.6 128.6 622.3 126.0zM628.6 131.7 625.8 132.7 626.4 129.8zM628.6 128.9 629.7 130.9 627.5 130.9zM624.1 135.8 626.5 135.7 625.4 137.9zM621.4 139.2 620.4 136.4 623.4 136.9zM624.0 132.3 621.1 133.0 622.0 130.2zM622.9 133.4 622.8 131.0 624.9 132.2zM622.0 134.2 621.5 136.9 619.4 135.2zM620.6 134.2 620.4 131.1 623.2 132.4zM624.1 133.6 625.4 131.8 626.3 133.8zM619.2 138.6 621.4 138.0 620.9 140.2zM634.4 132.5 632.3 130.3 635.3 129.6zM627.8 131.6 627.8 128.7 630.4 130.1zM624.6 128.4 621.9 129.0 622.8 126.4zM622.8 130.4 620.6 130.7 621.4 128.6zM623.6 133.5 623.1 131.5 625.1 132.0zM633.8 129.4 635.5 128.1 635.8 130.2zM627.2 138.0 628.6 139.5 626.6 140.0zM615.0 125.8 615.0 122.9 617.5 124.3zM627.2 127.2 629.7 126.4 629.2 129.0zM623.6 117.3 624.1 120.3 621.2 119.2zM618.8 131.7 620.5 133.2 618.4 133.9zM630.6 145.0 630.8 147.5 628.6 146.4zM622.9 142.7 621.0 144.3 620.6 141.9zM625.7 132.2 624.8 134.6 623.2 132.6zM625.0 132.1 623.6 134.9 622.0 132.4zM617.6 132.9 618.0 135.0 616.0 134.3zM619.9 135.4 619.7 137.9 617.7 136.4zM632.3 129.3 631.7 127.0 634.1 127.6zM631.4 147.9 629.7 150.6 628.2 147.8zM630.9 148.0 628.1 148.8 628.7 146.1zM632.6 143.2 633.6 146.1 630.6 145.5zM629.9 143.5 627.7 144.7 627.7 142.2zM629.8 144.2 632.1 144.5 630.8 146.4zM632.4 147.9 629.8 148.5 630.7 146.0zM634.3 146.2 632.0 146.7 632.7 144.5zM631.5 144.5 628.7 144.2 630.4 141.9zM632.3 146.3 629.1 146.3 630.7 143.6zM628.4 146.5 628.0 143.5 630.7 144.7zM632.7 146.1 631.3 144.5 633.3 144.1zM626.9 144.7 628.9 146.6 626.3 147.4zM632.6 142.5 630.7 143.9 630.5 141.6zM631.1 143.1 630.7 145.4 628.9 143.9zM630.3 141.9 632.5 141.1 632.1 143.3zM631.1 146.8 629.3 148.9 628.4 146.2zM627.5 146.2 629.1 144.0 630.2 146.5zM630.7 142.5 630.0 145.3 627.9 143.3zM630.6 143.1 632.9 141.4 633.3 144.2zM629.0 146.0 626.5 145.7 628.0 143.7z" fill="#44729f" opacity="0.8"/>
<path d="M585.3 119.8 586.6 121.8 584.2 121.9zM582.4 113.8 582.1 116.8 579.7 115.1zM574.3 129.0 574.3 131.3 572.4 130.2zM577.3 121.4 575.5 123.1 575.0 120.7zM574.2 108.2 575.0 110.9 572.3 110.2zM574.2 129.3 577.2 130.7 574.4 132.6zM583.0 124.1 586.4 124.7 584.1 127.3zM574.7 117.5 574.2 120.7 571.6 118.7zM579.2 112.8 578.7 115.0 577.0 113.4zM576.9 109.0 579.7 107.1 579.9 110.5zM581.0 122.6 581.6 125.5 578.7 124.6zM571.9 122.7 573.5 121.0 574.2 123.2zM581.2 122.7 582.8 119.7 584.6 122.6zM585.9 117.3 588.3 117.9 586.6 119.6zM574.8 122.3 573.8 124.3 572.6 122.4zM579.9 115.1 576.9 114.1 579.2 112.0zM575.8 117.4 577.3 119.4 574.8 119.7zM585.9 120.9 587.9 119.3 588.3 121.9zM576.0 115.4 572.8 116.1 573.8 113.0zM580.5 119.3 580.2 122.2 577.8 120.4zM593.0 111.8 595.8 111.6 594.6 114.2zM573.3 123.3 576.2 123.0 575.0 125.7zM578.0 119.0 575.4 121.1 575.0 117.8zM580.4 112.0 583.4 110.6 583.1 113.9zM583.9 116.7 581.1 115.6 583.4 113.8zM580.8 126.9 578.4 125.2 581.0 123.9zM574.0 115.3 571.7 113.1 574.7 112.2zM586.5 117.0 585.5 120.2 583.2 117.7zM575.4 123.4 578.4 121.9 578.2 125.2zM571.9 119.5 571.3 116.9 573.8 117.6zM572.5 109.7 570.2 112.1 569.3 109.0zM581.3 126.9 581.2 123.9 583.9 125.4zM580.4 110.8 577.6 109.7 579.9 107.8zM577.1 121.4 576.4 119.2 578.7 119.7zM577.1 126.4 577.3 123.6 579.6 125.3zM574.4 121.7 571.3 120.2 574.1 118.2zM577.5 119.0 574.2 118.2 576.6 115.8zM577.4 121.3 575.3 122.1 575.7 119.9zM571.2 117.7 569.6 115.9 572.0 115.4zM580.9 121.7 581.2 124.7 578.5 123.5zM585.7 120.5 582.9 119.7 585.0 117.6zM585.6 127.5 583.1 125.4 586.1 124.3zM578.2 131.3 575.8 129.9 578.2 128.5zM588.5 115.5 587.5 118.0 585.9 115.8zM578.6 116.7 575.7 115.6 578.1 113.7zM576.2 119.3 578.9 119.6 577.2 121.8zM580.6 117.3 578.0 115.8 580.7 114.3zM582.8 124.5 580.9 127.3 579.4 124.2zM584.2 123.8 581.7 121.8 584.7 120.6zM577.6 115.7 576.1 117.9 574.9 115.5zM587.9 120.4 586.4 117.4 589.8 117.5zM572.8 124.7 573.1 122.2 575.1 123.7zM587.9 110.8 586.6 108.4 589.4 108.5zM587.4 110.8 589.5 112.7 586.9 113.5zM582.0 119.2 583.4 117.2 584.4 119.4zM573.1 113.9 574.0 110.6 576.4 113.0zM572.3 112.1 570.8 110.2 573.2 109.9zM577.0 125.5 574.2 124.4 576.6 122.6zM577.6 128.8 576.9 130.9 575.4 129.2zM576.3 115.9 575.2 112.8 578.5 113.4zM579.4 129.0 576.5 128.5 578.4 126.2zM572.3 118.2 574.4 116.8 574.6 119.3zM583.9 113.8 585.4 115.7 583.0 116.0zM582.1 118.0 579.9 117.5 581.4 115.8zM578.2 116.7 576.8 118.7 575.8 116.5zM577.6 123.8 575.1 122.8 577.2 121.1zM575.9 110.5 573.7 108.8 576.2 107.7zM573.7 111.4 571.2 111.7 572.3 109.4zM575.6 112.5 577.9 114.3 575.2 115.4zM585.0 107.5 584.3 109.7 582.7 108.0zM570.1 111.2 572.8 112.1 570.7 114.0zM580.8 114.4 580.2 111.8 582.8 112.6zM577.6 115.3 577.3 118.7 574.5 116.7zM579.5 108.4 582.5 108.6 580.8 111.1zM573.9 118.1 571.7 118.2 572.7 116.2zM584.4 113.1 586.7 112.8 585.8 114.9zM574.6 121.7 572.7 123.2 572.4 120.8zM579.3 118.8 576.5 118.1 578.5 115.9zM586.6 113.5 589.0 111.7 589.4 114.7zM581.5 127.4 583.6 129.1 581.1 130.0zM575.4 132.7 573.4 130.6 576.2 130.0zM582.8 121.1 580.4 119.7 582.8 118.2zM586.8 117.8 587.3 120.1 585.0 119.4zM575.8 108.4 578.1 108.8 576.6 110.5zM582.3 112.9 583.4 115.7 580.4 115.3zM573.4 129.1 573.8 132.2 570.8 131.1zM584.0 125.4 586.4 127.2 583.6 128.3zM587.7 111.5 587.7 109.1 589.8 110.3zM590.7 111.0 588.8 113.8 587.3 110.8zM570.9 121.7 570.8 118.3 573.8 120.0zM574.7 127.3 577.2 127.4 575.8 129.5zM576.8 123.1 574.3 122.0 576.5 120.4zM576.7 114.4 577.8 112.1 579.2 114.2zM575.4 116.5 576.0 114.0 577.8 115.8zM580.3 117.1 578.3 118.3 578.3 116.0zM583.1 115.0 584.2 117.1 581.8 117.0zM578.3 128.0 580.1 126.2 580.7 128.7zM579.7 133.1 582.7 134.1 580.3 136.1zM577.2 120.6 578.9 118.2 580.1 120.9zM581.5 123.5 583.0 125.5 580.5 125.8zM584.6 117.6 582.0 119.8 581.4 116.4zM575.6 115.6 577.7 114.7 577.5 117.0zM577.1 107.7 579.8 109.0 577.4 110.7zM569.7 112.0 570.9 110.0 572.0 111.9zM586.9 120.9 585.1 119.4 587.3 118.6zM583.0 117.5 584.0 115.3 585.4 117.3zM578.2 113.2 580.9 111.6 580.9 114.8zM566.3 114.6 568.5 117.3 565.1 117.8zM576.1 113.3 575.5 115.8 573.6 114.1zM569.3 123.0 568.8 120.2 571.5 121.2zM581.5 119.8 584.4 120.9 582.0 122.9zM585.0 114.8 582.7 112.9 585.4 111.8zM581.4 115.9 583.0 118.4 580.0 118.6zM576.0 117.0 575.7 119.4 573.8 118.0zM573.4 117.1 571.1 116.4 572.8 114.7zM586.8 125.6 585.2 122.8 588.4 122.8zM583.2 129.4 581.4 127.9 583.5 127.1zM580.9 120.8 583.1 121.0 581.8 122.9zM588.8 113.8 588.4 116.8 585.9 115.0zM571.2 124.9 568.5 123.7 570.9 122.0zM576.7 122.5 578.0 125.0 575.2 124.8zM580.0 113.3 583.4 112.7 582.2 115.9zM575.9 110.9 579.2 110.4 577.9 113.5zM579.7 117.8 577.0 117.9 578.2 115.4zM583.4 130.9 581.0 128.7 584.0 127.7zM581.0 115.8 579.5 117.9 578.5 115.6zM580.6 117.2 578.1 119.3 577.6 116.1zM574.8 120.7 574.6 118.3 576.8 119.4zM573.0 112.2 571.5 114.9 569.9 112.3zM578.8 121.8 581.5 123.9 578.3 125.2zM578.2 132.1 577.7 135.0 575.4 133.2zM579.9 135.4 582.4 137.1 579.7 138.4zM585.6 138.1 583.5 139.2 583.6 136.8zM575.5 128.9 572.5 128.9 574.1 126.3zM583.3 140.6 580.9 142.5 580.4 139.5zM581.1 132.8 581.8 130.5 583.5 132.3zM567.9 141.6 569.0 144.0 566.4 143.8zM573.3 119.7 575.4 120.6 573.5 121.9zM577.7 126.2 579.2 128.2 576.7 128.5zM583.5 140.2 582.9 143.1 580.7 141.1zM562.8 138.9 560.7 136.4 564.0 135.9zM572.6 137.5 575.7 138.1 573.7 140.4zM568.6 126.4 566.4 128.2 565.9 125.4zM579.0 121.5 581.1 124.2 577.8 124.7zM573.4 139.1 572.2 136.8 574.8 136.9zM579.6 136.3 578.5 138.5 577.1 136.5zM585.8 141.6 588.9 140.9 588.0 143.9zM572.8 132.8 574.5 134.6 572.1 135.2zM568.1 136.2 570.6 134.8 570.5 137.6zM584.9 139.7 586.9 137.5 587.8 140.4zM574.7 128.7 572.3 128.7 573.5 126.6zM569.0 138.8 568.5 136.0 571.1 137.0zM566.4 138.5 568.8 139.0 567.2 140.8zM574.2 131.9 571.5 132.4 572.4 129.9zM576.9 131.1 576.3 133.7 574.4 131.9zM573.2 129.4 575.1 130.8 573.0 131.7zM575.5 124.5 577.9 124.3 576.9 126.4zM572.6 139.6 572.7 137.0 574.9 138.4zM579.2 139.6 577.9 137.6 580.3 137.5zM580.9 135.1 583.2 136.5 580.9 137.8zM590.3 131.0 589.6 133.3 587.9 131.6zM562.4 133.4 564.3 135.1 561.8 135.9zM565.1 127.2 562.5 126.9 564.1 124.7zM579.2 123.0 578.6 126.1 576.2 124.0zM575.0 141.2 573.0 140.1 574.9 138.9zM580.8 137.7 579.7 135.5 582.1 135.6zM566.1 127.5 566.8 130.2 564.1 129.4zM580.7 144.0 583.6 143.0 583.0 146.0zM572.6 139.5 571.3 141.4 570.3 139.3zM577.6 133.9 577.9 131.7 579.7 133.0zM579.0 128.5 581.7 129.3 579.6 131.1zM576.6 140.0 576.5 137.1 579.1 138.5zM571.6 132.5 572.9 129.9 574.6 132.4zM582.7 131.4 582.2 129.3 584.4 129.9zM570.0 126.3 568.3 127.9 567.7 125.7zM573.1 132.3 573.7 135.0 571.0 134.1zM568.4 143.2 568.1 140.2 570.9 141.4zM574.6 139.9 573.5 137.6 576.0 137.8zM567.0 132.5 565.6 134.5 564.6 132.3zM584.6 140.5 583.3 142.8 582.0 140.5zM575.6 140.5 578.5 141.5 576.2 143.6zM578.9 138.3 577.0 136.7 579.4 135.8zM575.6 137.0 577.9 137.7 576.1 139.3zM572.9 146.2 570.7 146.4 571.7 144.3zM590.2 135.3 588.5 138.1 587.0 135.3zM575.5 149.2 573.4 150.6 573.3 148.0zM575.7 138.0 578.4 138.1 576.9 140.3zM577.7 134.5 578.1 137.1 575.6 136.2zM573.5 138.7 573.0 141.8 570.6 139.9zM565.7 143.1 564.5 141.0 566.9 141.1zM581.4 134.2 584.3 132.4 584.4 135.8zM573.5 146.0 572.5 148.9 570.5 146.6zM571.9 132.9 573.6 130.5 574.8 133.1zM580.7 127.2 581.2 130.4 578.2 129.2zM561.0 136.9 561.4 133.8 563.9 135.8zM571.2 129.3 572.8 131.4 570.2 131.7zM568.8 133.1 569.5 130.0 571.8 132.2zM571.7 123.5 571.8 120.2 574.6 121.9zM578.0 132.2 580.7 133.1 578.6 135.0zM571.2 132.6 573.5 133.2 571.8 134.9zM578.6 138.9 578.2 135.8 581.1 137.0zM585.8 122.0 589.0 121.2 588.1 124.4zM579.6 139.8 580.4 142.1 578.0 141.7zM572.7 135.9 572.9 133.0 575.3 134.7zM573.4 138.7 573.8 136.5 575.5 137.9zM570.8 131.8 571.9 129.5 573.3 131.6zM578.5 135.6 580.6 133.8 581.1 136.5zM577.9 151.2 580.1 150.1 580.0 152.5zM566.2 128.0 567.8 130.9 564.5 130.9zM568.8 134.3 570.9 133.7 570.3 135.9zM582.6 138.3 584.8 136.3 585.4 139.2zM580.0 148.2 579.8 145.1 582.6 146.5zM564.1 133.3 561.3 134.5 561.6 131.5zM569.8 139.3 569.0 136.7 571.7 137.3zM569.1 145.8 566.8 145.5 568.2 143.6zM569.9 129.7 572.6 129.9 571.1 132.2zM566.4 127.6 568.5 125.9 568.9 128.5zM572.6 130.9 575.3 130.9 573.9 133.2zM574.1 132.4 577.0 130.5 577.1 133.9zM578.5 137.0 575.6 137.5 576.6 134.7zM582.0 138.1 581.3 141.4 578.8 139.1zM569.3 142.3 572.0 141.3 571.5 144.2zM570.4 128.3 572.2 130.1 569.7 130.8zM577.6 127.3 580.6 126.2 580.1 129.4zM569.4 124.9 571.4 126.0 569.4 127.1zM565.3 135.5 566.2 137.6 564.0 137.4zM569.3 143.9 569.2 146.4 567.1 145.0zM581.1 136.9 583.8 135.9 583.3 138.7zM569.6 133.4 571.7 135.3 569.0 136.1zM570.6 141.8 573.5 140.1 573.5 143.5zM561.7 135.4 561.9 132.5 564.4 134.2zM575.7 136.0 575.2 139.2 572.6 137.2zM578.2 134.6 576.5 131.7 579.9 131.7zM579.3 128.2 576.7 129.2 577.2 126.4zM580.5 135.5 582.4 137.9 579.3 138.4zM572.0 142.6 573.1 140.1 574.8 142.4zM571.6 125.3 568.4 126.3 569.1 123.0zM576.9 133.8 578.5 136.3 575.6 136.5zM571.6 129.3 573.6 131.4 570.7 132.1zM578.2 140.8 575.6 141.2 576.5 138.8zM569.3 125.0 569.5 128.1 566.7 126.8zM576.6 129.8 577.7 126.7 579.9 129.1zM580.3 145.0 580.9 141.6 583.5 143.8zM571.5 147.8 571.0 150.2 569.2 148.6zM571.8 135.8 571.7 133.3 573.9 134.4zM575.1 136.8 573.3 139.6 571.8 136.6zM579.2 138.4 577.8 136.6 580.0 136.3zM569.0 131.9 571.3 132.9 569.3 134.5zM565.9 130.5 562.9 129.1 565.6 127.2zM575.1 136.4 573.8 134.4 576.2 134.3zM589.7 147.8 590.3 150.6 587.6 149.7zM588.8 149.0 587.0 147.6 589.1 146.8zM590.8 154.2 592.8 152.5 593.2 155.1zM598.5 143.1 595.4 142.6 597.4 140.2zM591.2 136.2 590.6 139.2 588.4 137.1zM603.4 134.2 602.1 137.1 600.3 134.6zM590.3 138.9 592.0 137.4 592.5 139.7zM591.9 150.7 591.1 148.2 593.7 148.7zM593.7 143.2 596.5 143.7 594.7 145.8zM595.0 145.4 594.3 142.6 597.0 143.4zM585.5 142.4 588.8 142.0 587.4 145.1zM588.6 156.1 589.4 159.3 586.3 158.4zM596.1 153.3 595.1 150.6 597.9 151.1zM582.9 146.4 582.3 148.7 580.5 147.0zM596.3 138.6 593.4 137.8 595.6 135.7zM596.5 143.0 595.6 140.4 598.2 140.9zM590.2 148.4 593.5 148.5 591.8 151.3zM590.4 148.8 590.9 146.4 592.7 148.1zM594.3 156.8 592.6 154.0 595.9 153.9zM600.9 157.3 597.8 156.7 599.9 154.3zM594.3 135.9 591.9 137.4 591.7 134.5zM586.3 143.3 588.0 145.9 584.9 146.0zM596.2 153.4 596.0 156.8 593.2 154.9zM590.1 142.2 591.5 144.8 588.5 144.8zM591.5 150.2 592.0 147.9 593.8 149.5zM596.6 153.5 594.0 153.1 595.6 151.0zM591.5 131.7 591.8 134.4 589.3 133.3zM588.2 129.5 591.3 129.0 590.2 132.0zM589.5 165.1 591.0 162.1 592.8 165.0zM599.2 148.8 598.7 151.8 596.4 149.8zM601.2 142.3 603.6 139.8 604.5 143.1zM592.4 151.6 594.5 149.6 595.2 152.4zM590.1 145.3 587.1 145.5 588.4 142.9zM595.0 147.8 597.1 150.0 594.2 150.7zM587.5 146.1 591.0 146.4 589.0 149.2zM595.4 148.7 593.6 145.9 597.0 145.7zM589.9 150.2 587.7 151.8 587.4 149.1zM590.0 148.5 592.3 147.7 591.8 150.2zM584.2 147.7 587.1 146.0 587.1 149.3zM591.8 138.6 590.0 141.1 588.7 138.3zM601.1 148.6 599.2 150.2 598.8 147.8zM592.7 151.7 594.9 153.5 592.2 154.5zM600.3 154.4 598.1 155.2 598.5 152.9zM587.3 149.1 589.5 148.4 589.1 150.6zM588.8 145.3 590.4 147.1 588.0 147.6zM592.4 155.0 594.9 154.0 594.6 156.6zM587.8 154.0 585.0 152.9 587.4 151.1zM593.6 143.7 592.5 140.7 595.7 141.2zM598.6 146.3 599.0 149.0 596.5 148.0zM592.8 151.8 595.9 153.3 593.1 155.2zM590.6 147.5 593.8 147.0 592.7 150.0zM599.3 156.0 596.7 155.0 599.0 153.3zM603.5 148.4 606.3 149.9 603.6 151.6zM583.6 137.6 584.6 140.8 581.4 140.1zM594.9 140.4 596.2 143.0 593.2 142.9zM586.5 154.3 584.7 156.7 583.5 154.0zM585.5 137.7 583.7 139.9 582.7 137.3zM591.6 156.2 592.9 153.8 594.3 156.0zM597.0 142.2 594.9 141.4 596.6 140.0zM597.1 142.7 594.8 142.7 595.9 140.7zM594.3 127.9 594.8 131.0 591.8 129.9zM587.1 149.3 585.9 151.9 584.2 149.6zM593.2 150.4 590.4 152.2 590.2 148.9zM574.0 155.1 573.0 158.3 570.7 155.9zM590.6 153.3 588.9 155.1 588.3 152.7zM595.6 148.5 593.5 146.4 596.3 145.7zM593.1 148.6 595.5 147.4 595.3 150.1zM595.0 145.5 597.2 147.3 594.5 148.3zM590.9 143.5 593.4 142.1 593.3 145.0zM591.1 150.9 588.1 149.6 590.8 147.7zM595.2 150.7 592.8 151.6 593.1 149.1zM595.9 142.3 598.2 143.7 595.8 145.0zM587.3 139.1 587.9 136.7 589.6 138.4zM594.0 150.0 595.8 153.0 592.3 153.0zM590.1 148.8 587.5 150.6 587.3 147.5zM597.5 150.9 599.5 148.1 600.9 151.2zM586.4 149.1 585.1 151.6 583.6 149.2zM593.9 152.9 591.9 155.3 590.7 152.3zM602.2 149.2 599.1 149.7 600.2 146.7zM595.9 153.3 594.9 155.7 593.4 153.6zM588.9 146.0 588.1 148.3 586.5 146.5zM583.8 148.1 585.4 150.6 582.4 150.7zM597.6 151.1 594.4 151.6 595.6 148.6zM595.9 142.3 595.1 145.6 592.6 143.2zM588.7 157.5 586.5 155.9 589.0 154.8zM595.3 144.4 597.2 146.7 594.3 147.2zM595.6 142.3 596.3 144.6 594.0 144.1zM588.6 150.1 586.8 151.7 586.4 149.4zM593.4 149.5 591.5 151.8 590.5 149.0zM605.0 151.8 602.9 151.1 604.6 149.6zM592.4 159.1 594.9 160.9 592.1 162.2zM587.8 146.2 589.6 147.7 587.4 148.5zM589.4 149.1 588.9 146.8 591.2 147.5zM604.7 134.9 604.8 138.2 601.9 136.7zM597.4 139.4 600.1 139.6 598.6 141.9zM585.8 147.1 583.7 148.8 583.3 146.2zM593.5 146.7 590.7 147.9 591.1 144.8zM585.3 152.3 587.3 151.2 587.3 153.5zM584.0 153.0 585.8 150.2 587.4 153.1zM605.7 139.0 608.2 140.4 605.8 141.8zM576.2 158.3 579.1 158.2 577.7 160.8zM567.8 159.6 567.9 157.2 569.9 158.5zM580.9 165.5 580.2 163.1 582.7 163.7zM581.1 153.9 580.0 156.5 578.3 154.3zM574.5 153.5 576.0 151.8 576.7 153.9zM582.3 152.5 583.5 154.7 581.0 154.7zM571.2 153.2 572.2 156.0 569.3 155.4zM586.4 147.9 585.0 150.3 583.5 147.9zM582.3 162.3 580.8 164.7 579.5 162.2zM574.0 161.7 571.7 159.1 575.1 158.4zM569.2 162.1 567.5 160.5 569.8 159.8zM579.2 155.3 577.2 153.5 579.8 152.6zM575.9 158.6 578.0 157.4 578.0 159.9zM577.7 161.7 581.0 161.9 579.2 164.7zM580.2 157.4 583.1 156.6 582.3 159.5zM578.7 165.3 578.6 162.6 580.9 163.9zM583.3 160.1 584.9 157.4 586.5 160.1zM573.6 152.7 575.9 155.0 572.7 155.9zM574.5 147.3 577.3 147.2 576.0 149.7zM569.2 161.8 572.6 161.5 571.2 164.6zM585.1 167.8 586.7 165.1 588.3 167.8zM574.1 164.6 574.2 167.4 571.7 166.0zM579.6 156.9 576.4 155.9 578.9 153.6zM582.1 164.7 583.4 162.9 584.3 164.9zM582.6 161.6 580.8 163.8 579.9 161.1zM583.4 156.9 580.5 158.5 580.6 155.2zM575.5 153.8 575.9 156.1 573.7 155.3zM579.3 161.6 582.0 160.0 582.0 163.2zM582.3 155.4 582.3 158.0 580.0 156.7zM573.9 159.9 574.7 156.8 577.0 159.0zM574.9 156.5 578.2 156.2 576.9 159.2zM584.5 158.6 584.5 161.1 582.4 159.8zM565.0 154.4 563.1 156.7 562.0 153.9zM577.6 158.1 579.3 160.2 576.6 160.7zM578.2 157.5 576.1 158.5 576.3 156.2zM585.1 155.5 582.5 153.7 585.3 152.4zM581.5 165.8 578.7 164.6 581.2 162.8zM574.0 155.2 571.0 156.3 571.6 153.2zM579.8 162.6 577.5 162.8 578.5 160.7zM580.9 154.9 578.8 155.8 579.1 153.6zM573.5 169.0 574.8 166.9 576.0 169.1zM579.0 163.7 580.1 161.5 581.4 163.6zM582.7 170.5 579.5 170.9 580.8 168.0zM576.9 162.2 574.4 160.9 576.7 159.4zM568.4 158.1 567.8 155.9 570.0 156.4zM576.5 163.5 578.6 160.8 579.9 163.9zM572.1 149.1 574.9 150.5 572.3 152.3zM571.9 144.8 573.9 146.2 571.7 147.3zM572.5 157.3 571.3 159.3 570.1 157.3zM580.3 166.5 579.4 169.3 577.4 167.2zM578.8 154.7 576.3 154.9 577.4 152.7zM576.3 156.9 578.0 155.1 578.7 157.5zM580.6 164.0 583.6 164.6 581.6 166.9zM570.0 156.5 567.8 158.8 566.9 155.8zM588.4 166.9 585.6 166.8 587.1 164.5zM576.7 140.6 574.5 140.7 575.5 138.7zM581.6 160.3 579.9 162.7 578.6 160.1zM577.2 163.8 574.9 164.7 575.2 162.2zM579.6 161.4 577.8 163.9 576.5 161.1zM576.6 157.6 574.6 158.8 574.6 156.4zM578.4 155.1 579.8 157.3 577.2 157.4zM569.5 152.1 570.0 149.6 572.0 151.3zM577.7 152.2 579.0 154.0 576.8 154.2zM570.8 153.0 573.7 154.0 571.4 156.0zM579.7 143.9 581.3 146.4 578.4 146.6zM565.3 158.6 563.9 161.3 562.3 158.7zM573.8 168.7 574.8 165.5 577.1 167.9zM574.5 147.6 576.4 150.1 573.3 150.5zM579.2 161.2 575.9 161.0 577.7 158.3zM579.3 160.2 577.5 161.7 577.1 159.3zM588.1 157.3 585.6 156.3 587.7 154.6zM579.9 157.6 577.6 159.6 577.0 156.6zM566.0 151.6 567.6 149.2 568.9 151.8zM572.9 157.6 569.7 156.7 572.0 154.4zM569.8 168.4 568.6 165.6 571.6 165.9zM574.1 151.9 576.5 151.1 576.1 153.6zM573.5 156.8 573.1 160.1 570.5 158.2zM571.3 152.4 572.9 149.8 574.4 152.5zM568.8 158.7 569.5 156.5 571.1 158.2zM583.6 140.2 586.2 140.8 584.4 142.7zM572.6 157.1 575.6 157.4 573.8 159.9zM575.2 148.6 576.6 145.7 578.4 148.4zM576.9 152.2 576.0 149.7 578.7 150.2zM579.2 156.7 581.2 158.0 579.1 159.0zM580.8 150.7 583.5 151.8 581.2 153.6zM578.7 166.2 578.6 169.2 576.0 167.6zM574.1 149.9 576.4 152.1 573.3 153.0zM573.5 157.7 575.6 159.4 573.1 160.3zM575.3 161.9 572.1 161.0 574.5 158.6zM582.9 152.0 581.5 154.3 580.2 151.9zM590.1 124.0 593.4 124.6 591.3 127.2zM592.9 127.1 589.6 126.7 591.6 123.9zM598.1 121.0 596.3 122.4 596.0 120.1zM598.9 130.4 596.5 129.7 598.4 128.0zM592.5 128.0 590.1 128.2 591.2 126.0zM591.5 130.8 592.2 133.7 589.3 132.8zM597.6 132.7 594.9 132.3 596.6 130.1zM603.5 131.2 604.1 133.7 601.6 133.0zM596.0 130.1 598.7 129.9 597.5 132.3zM596.2 130.9 593.6 128.7 596.8 127.6zM597.4 132.0 595.3 130.0 598.1 129.1zM597.2 132.0 600.3 132.0 598.8 134.7zM591.5 125.4 594.5 126.2 592.3 128.4zM599.0 130.3 596.2 132.4 595.8 129.0zM598.8 130.1 601.3 130.9 599.4 132.7zM598.9 123.4 598.0 126.4 595.9 124.1zM594.1 122.6 592.7 124.8 591.5 122.5zM602.1 137.5 599.3 137.9 600.4 135.3zM592.4 122.8 594.3 120.6 595.2 123.3zM597.6 129.7 595.3 132.0 594.5 128.9zM596.0 126.4 596.0 129.5 593.3 127.9zM600.2 132.3 598.5 130.5 600.9 129.9zM593.9 122.7 596.2 121.3 596.3 124.0zM595.8 133.2 598.2 134.2 596.1 135.8zM591.4 137.7 589.2 136.7 591.2 135.4zM598.9 137.6 596.6 136.8 598.4 135.2zM593.0 124.5 596.1 124.0 594.9 126.9zM590.4 129.9 593.0 129.1 592.5 131.7zM596.3 128.2 598.4 126.7 598.7 129.3zM596.0 131.0 598.6 130.1 598.2 132.8zM596.0 133.2 593.6 135.5 592.8 132.3zM589.9 127.9 590.6 125.3 592.5 127.2zM597.5 129.0 598.2 126.2 600.2 128.2zM598.7 123.1 596.0 121.1 599.1 119.8zM595.5 130.0 595.3 127.7 597.4 128.7z" fill="#1a4cc4" opacity="0.9"/>
<path d="M476.3 195.5 475.4 198.8 473.0 196.4z" fill="#4a6aa0" opacity="0.9"/>
<path d="M462.1 210.6 463.8 210.4 463.1 212.0z" fill="#b8c8d8" opacity="0.9"/>
<circle cx="513.8" cy="196.90" r="1.9" fill="#13ace2"/>
<text x="522.40" y="200.10" font-size="9" fill="#1eb1dc" text-anchor="start" stroke="#1eb1dc" stroke-width="0.2">SST-Chrna2</text>
<circle cx="513.8" cy="207.35" r="1.9" fill="#44729f"/>
<text x="522.40" y="210.55" font-size="9" fill="#5b7fa6" text-anchor="start" stroke="#5b7fa6" stroke-width="0.2">SST-Nmbr-1</text>
<circle cx="513.8" cy="217.80" r="1.9" fill="#1a4cc4"/>
<text x="522.40" y="221.00" font-size="9" fill="#2c55b8" text-anchor="start" stroke="#2c55b8" stroke-width="0.2">SST-Nmbr-2</text>
<text x="93.40" y="346.30" font-size="9" fill="#111" text-anchor="start" font-weight="bold" stroke="#111" stroke-width="0.2">P7</text>
<text x="123.10" y="346.30" font-size="9" fill="#111" text-anchor="start" font-weight="bold" stroke="#111" stroke-width="0.2">P14 assignment</text>
<text x="274.80" y="346.30" font-size="9" fill="#111" text-anchor="start" font-weight="bold" stroke="#111" stroke-width="0.2">P7</text>
<text x="303.90" y="346.30" font-size="9" fill="#111" text-anchor="start" font-weight="bold" stroke="#111" stroke-width="0.2">P14 origin</text>
<path d="M109.6 342.9H113.2" stroke="#111" stroke-width="0.9"/><path d="M115.6 342.9L112.6 341.2V344.6Z" fill="#111"/>
<path d="M294.5 342.9H298" stroke="#111" stroke-width="0.9"/><path d="M291.8 342.9L294.8 341.2V344.6Z" fill="#111"/>
<rect x="72" y="350.9" width="304.8" height="11.7" fill="#d9d9d9"/>
<rect x="72" y="518.1" width="304.8" height="11.9" fill="#d9d9d9"/>
<text x="224.50" y="359.60" font-size="8.8" fill="#111" text-anchor="middle" font-weight="bold" stroke="#111" stroke-width="0.2">control SST</text>
<text x="224.50" y="526.90" font-size="8.8" fill="#111" text-anchor="middle" font-weight="bold" stroke="#111" stroke-width="0.2">Fezf2 KO SST</text>
<rect x="72.00" y="364.00" width="12.45" height="12.45" fill="#488fce"/>
<rect x="84.40" y="364.00" width="12.45" height="12.45" fill="#d6e5f3"/>
<rect x="96.80" y="364.00" width="12.45" height="12.45" fill="#f1f6fb"/>
<rect x="109.20" y="364.00" width="12.45" height="12.45" fill="#ffffff"/>
<rect x="121.60" y="364.00" width="12.45" height="12.45" fill="#ffffff"/>
<rect x="134.00" y="364.00" width="12.45" height="12.45" fill="#ffffff"/>
<rect x="146.40" y="364.00" width="12.45" height="12.45" fill="#ffffff"/>
<rect x="158.80" y="364.00" width="12.45" height="12.45" fill="#ffffff"/>
<rect x="171.20" y="364.00" width="12.45" height="12.45" fill="#ffffff"/>
<rect x="183.60" y="364.00" width="12.45" height="12.45" fill="#f7fafd"/>
<rect x="196.00" y="364.00" width="12.45" height="12.45" fill="#ffffff"/>
<rect x="208.40" y="364.00" width="12.45" height="12.45" fill="#ffffff"/>
<rect x="72.00" y="376.40" width="12.45" height="12.45" fill="#e9f1f9"/>
<rect x="84.40" y="376.40" width="12.45" height="12.45" fill="#488fce"/>
<rect x="96.80" y="376.40" width="12.45" height="12.45" fill="#f1f6fb"/>
<rect x="109.20" y="376.40" width="12.45" height="12.45" fill="#ffffff"/>
<rect x="121.60" y="376.40" width="12.45" height="12.45" fill="#ffffff"/>
<rect x="134.00" y="376.40" width="12.45" height="12.45" fill="#ffffff"/>
<rect x="146.40" y="376.40" width="12.45" height="12.45" fill="#ffffff"/>
<rect x="158.80" y="376.40" width="12.45" height="12.45" fill="#ffffff"/>
<rect x="171.20" y="376.40" width="12.45" height="12.45" fill="#ffffff"/>
<rect x="183.60" y="376.40" width="12.45" height="12.45" fill="#ffffff"/>
<rect x="196.00" y="376.40" width="12.45" height="12.45" fill="#ffffff"/>
<rect x="208.40" y="376.40" width="12.45" height="12.45" fill="#ffffff"/>
<rect x="72.00" y="388.80" width="12.45" height="12.45" fill="#ffffff"/>
<rect x="84.40" y="388.80" width="12.45" height="12.45" fill="#f4f8fc"/>
<rect x="96.80" y="388.80" width="12.45" height="12.45" fill="#3981c6"/>
<rect x="109.20" y="388.80" width="12.45" height="12.45" fill="#ffffff"/>
<rect x="121.60" y="388.80" width="12.45" height="12.45" fill="#ffffff"/>
<rect x="134.00" y="388.80" width="12.45" height="12.45" fill="#ffffff"/>
<rect x="146.40" y="388.80" width="12.45" height="12.45" fill="#fafcfd"/>
<rect x="158.80" y="388.80" width="12.45" height="12.45" fill="#ffffff"/>
<rect x="171.20" y="388.80" width="12.45" height="12.45" fill="#ffffff"/>
<rect x="183.60" y="388.80" width="12.45" height="12.45" fill="#f4f8fc"/>
<rect x="196.00" y="388.80" width="12.45" height="12.45" fill="#ffffff"/>
<rect x="208.40" y="388.80" width="12.45" height="12.45" fill="#ffffff"/>
<rect x="72.00" y="401.20" width="12.45" height="12.45" fill="#ffffff"/>
<rect x="84.40" y="401.20" width="12.45" height="12.45" fill="#f4f8fc"/>
<rect x="96.80" y="401.20" width="12.45" height="12.45" fill="#abcce9"/>
<rect x="109.20" y="401.20" width="12.45" height="12.45" fill="#81b3e0"/>
<rect x="121.60" y="401.20" width="12.45" height="12.45" fill="#ffffff"/>
<rect x="134.00" y="401.20" width="12.45" height="12.45" fill="#e4eef7"/>
<rect x="146.40" y="401.20" width="12.45" height="12.45" fill="#ffffff"/>
<rect x="158.80" y="401.20" width="12.45" height="12.45" fill="#ffffff"/>
<rect x="171.20" y="401.20" width="12.45" height="12.45" fill="#ffffff"/>
<rect x="183.60" y="401.20" width="12.45" height="12.45" fill="#ffffff"/>
<rect x="196.00" y="401.20" width="12.45" height="12.45" fill="#ffffff"/>
<rect x="208.40" y="401.20" width="12.45" height="12.45" fill="#ffffff"/>
<rect x="72.00" y="413.60" width="12.45" height="12.45" fill="#ffffff"/>
<rect x="84.40" y="413.60" width="12.45" height="12.45" fill="#eff5fa"/>
<rect x="96.80" y="413.60" width="12.45" height="12.45" fill="#ffffff"/>
<rect x="109.20" y="413.60" width="12.45" height="12.45" fill="#ffffff"/>
<rect x="121.60" y="413.60" width="12.45" height="12.45" fill="#5396d2"/>
<rect x="134.00" y="413.60" width="12.45" height="12.45" fill="#cadef0"/>
<rect x="146.40" y="413.60" width="12.45" height="12.45" fill="#ffffff"/>
<rect x="158.80" y="413.60" width="12.45" height="12.45" fill="#ffffff"/>
<rect x="171.20" y="413.60" width="12.45" height="12.45" fill="#ffffff"/>
<rect x="183.60" y="413.60" width="12.45" height="12.45" fill="#ffffff"/>
<rect x="196.00" y="413.60" width="12.45" height="12.45" fill="#ffffff"/>
<rect x="208.40" y="413.60" width="12.45" height="12.45" fill="#ffffff"/>
<rect x="72.00" y="426.00" width="12.45" height="12.45" fill="#ffffff"/>
<rect x="84.40" y="426.00" width="12.45" height="12.45" fill="#ffffff"/>
<rect x="96.80" y="426.00" width="12.45" height="12.45" fill="#ffffff"/>
<rect x="109.20" y="426.00" width="12.45" height="12.45" fill="#ffffff"/>
<rect x="121.60" y="426.00" width="12.45" height="12.45" fill="#ffffff"/>
<rect x="134.00" y="426.00" width="12.45" height="12.45" fill="#2a6fbc"/>
<rect x="146.40" y="426.00" width="12.45" height="12.45" fill="#ffffff"/>
<rect x="158.80" y="426.00" width="12.45" height="12.45" fill="#ffffff"/>
<rect x="171.20" y="426.00" width="12.45" height="12.45" fill="#ffffff"/>
<rect x="183.60" y="426.00" width="12.45" height="12.45" fill="#ffffff"/>
<rect x="196.00" y="426.00" width="12.45" height="12.45" fill="#ffffff"/>
<rect x="208.40" y="426.00" width="12.45" height="12.45" fill="#ffffff"/>
<rect x="72.00" y="438.40" width="12.45" height="12.45" fill="#ffffff"/>
<rect x="84.40" y="438.40" width="12.45" height="12.45" fill="#ffffff"/>
<rect x="96.80" y="438.40" width="12.45" height="12.45" fill="#ffffff"/>
<rect x="109.20" y="438.40" width="12.45" height="12.45" fill="#ffffff"/>
<rect x="121.60" y="438.40" width="12.45" height="12.45" fill="#ffffff"/>
<rect x="134.00" y="438.40" width="12.45" height="12.45" fill="#f4f8fc"/>
<rect x="146.40" y="438.40" width="12.45" height="12.45" fill="#68a4da"/>
<rect x="158.80" y="438.40" width="12.45" height="12.45" fill="#b2d0eb"/>
<rect x="171.20" y="438.40" width="12.45" height="12.45" fill="#ffffff"/>
<rect x="183.60" y="438.40" width="12.45" height="12.45" fill="#ffffff"/>
<rect x="196.00" y="438.40" width="12.45" height="12.45" fill="#ffffff"/>
<rect x="208.40" y="438.40" width="12.45" height="12.45" fill="#ffffff"/>
<rect x="72.00" y="450.80" width="12.45" height="12.45" fill="#ffffff"/>
<rect x="84.40" y="450.80" width="12.45" height="12.45" fill="#ffffff"/>
<rect x="96.80" y="450.80" width="12.45" height="12.45" fill="#ffffff"/>
<rect x="109.20" y="450.80" width="12.45" height="12.45" fill="#ffffff"/>
<rect x="121.60" y="450.80" width="12.45" height="12.45" fill="#ffffff"/>
<rect x="134.00" y="450.80" width="12.45" height="12.45" fill="#f4f8fc"/>
<rect x="146.40" y="450.80" width="12.45" height="12.45" fill="#e9f1f9"/>
<rect x="158.80" y="450.80" width="12.45" height="12.45" fill="#4f93d0"/>
<rect x="171.20" y="450.80" width="12.45" height="12.45" fill="#ffffff"/>
<rect x="183.60" y="450.80" width="12.45" height="12.45" fill="#ffffff"/>
<rect x="196.00" y="450.80" width="12.45" height="12.45" fill="#e4eef7"/>
<rect x="208.40" y="450.80" width="12.45" height="12.45" fill="#ffffff"/>
<rect x="72.00" y="463.20" width="12.45" height="12.45" fill="#ffffff"/>
<rect x="84.40" y="463.20" width="12.45" height="12.45" fill="#ffffff"/>
<rect x="96.80" y="463.20" width="12.45" height="12.45" fill="#ffffff"/>
<rect x="109.20" y="463.20" width="12.45" height="12.45" fill="#ffffff"/>
<rect x="121.60" y="463.20" width="12.45" height="12.45" fill="#ffffff"/>
<rect x="134.00" y="463.20" width="12.45" height="12.45" fill="#d6e5f3"/>
<rect x="146.40" y="463.20" width="12.45" height="12.45" fill="#ffffff"/>
<rect x="158.80" y="463.20" width="12.45" height="12.45" fill="#fafcfd"/>
<rect x="171.20" y="463.20" width="12.45" height="12.45" fill="#68a4da"/>
<rect x="183.60" y="463.20" width="12.45" height="12.45" fill="#ffffff"/>
<rect x="196.00" y="463.20" width="12.45" height="12.45" fill="#e4eef7"/>
<rect x="208.40" y="463.20" width="12.45" height="12.45" fill="#ffffff"/>
<rect x="72.00" y="475.60" width="12.45" height="12.45" fill="#ffffff"/>
<rect x="84.40" y="475.60" width="12.45" height="12.45" fill="#ffffff"/>
<rect x="96.80" y="475.60" width="12.45" height="12.45" fill="#d6e5f3"/>
<rect x="109.20" y="475.60" width="12.45" height="12.45" fill="#ffffff"/>
<rect x="121.60" y="475.60" width="12.45" height="12.45" fill="#ffffff"/>
<rect x="134.00" y="475.60" width="12.45" height="12.45" fill="#ffffff"/>
<rect x="146.40" y="475.60" width="12.45" height="12.45" fill="#fafcfd"/>
<rect x="158.80" y="475.60" width="12.45" height="12.45" fill="#ffffff"/>
<rect x="171.20" y="475.60" width="12.45" height="12.45" fill="#e4eef7"/>
<rect x="183.60" y="475.60" width="12.45" height="12.45" fill="#68a4da"/>
<rect x="196.00" y="475.60" width="12.45" height="12.45" fill="#ffffff"/>
<rect x="208.40" y="475.60" width="12.45" height="12.45" fill="#ffffff"/>
<rect x="72.00" y="488.00" width="12.45" height="12.45" fill="#ffffff"/>
<rect x="84.40" y="488.00" width="12.45" height="12.45" fill="#ffffff"/>
<rect x="96.80" y="488.00" width="12.45" height="12.45" fill="#ffffff"/>
<rect x="109.20" y="488.00" width="12.45" height="12.45" fill="#ffffff"/>
<rect x="121.60" y="488.00" width="12.45" height="12.45" fill="#ffffff"/>
<rect x="134.00" y="488.00" width="12.45" height="12.45" fill="#f4f8fc"/>
<rect x="146.40" y="488.00" width="12.45" height="12.45" fill="#ffffff"/>
<rect x="158.80" y="488.00" width="12.45" height="12.45" fill="#bed7ee"/>
<rect x="171.20" y="488.00" width="12.45" height="12.45" fill="#f7fafd"/>
<rect x="183.60" y="488.00" width="12.45" height="12.45" fill="#ffffff"/>
<rect x="196.00" y="488.00" width="12.45" height="12.45" fill="#68a4da"/>
<rect x="208.40" y="488.00" width="12.45" height="12.45" fill="#ffffff"/>
<rect x="72.00" y="500.40" width="12.45" height="12.45" fill="#ffffff"/>
<rect x="84.40" y="500.40" width="12.45" height="12.45" fill="#d6e5f3"/>
<rect x="96.80" y="500.40" width="12.45" height="12.45" fill="#ffffff"/>
<rect x="109.20" y="500.40" width="12.45" height="12.45" fill="#ffffff"/>
<rect x="121.60" y="500.40" width="12.45" height="12.45" fill="#f1f6fb"/>
<rect x="134.00" y="500.40" width="12.45" height="12.45" fill="#cadef0"/>
<rect x="146.40" y="500.40" width="12.45" height="12.45" fill="#ffffff"/>
<rect x="158.80" y="500.40" width="12.45" height="12.45" fill="#ffffff"/>
<rect x="171.20" y="500.40" width="12.45" height="12.45" fill="#f7fafd"/>
<rect x="183.60" y="500.40" width="12.45" height="12.45" fill="#ffffff"/>
<rect x="196.00" y="500.40" width="12.45" height="12.45" fill="#ffffff"/>
<rect x="208.40" y="500.40" width="12.45" height="12.45" fill="#99c1e5"/>
<text x="140.20" y="434.70" font-size="7.2" fill="#fff" text-anchor="middle" stroke="#fff" stroke-width="0.2">.98</text>
<text x="177.40" y="471.90" font-size="7.2" fill="#fff" text-anchor="middle" stroke="#fff" stroke-width="0.2">.60</text>
<text x="189.80" y="484.30" font-size="7.2" fill="#fff" text-anchor="middle" stroke="#fff" stroke-width="0.2">.60</text>
<rect x="72.00" y="364.00" width="148.80" height="148.80" fill="none" stroke="#b5b5b5" stroke-width="0.8"/>
<rect x="71.70" y="426.00" width="149.40" height="12.40" fill="none" stroke="#f2e31c" stroke-width="1.5"/>
<rect x="71.70" y="463.20" width="149.40" height="24.80" fill="none" stroke="#f2e31c" stroke-width="1.5"/>
<rect x="227.30" y="364.00" width="12.47" height="12.45" fill="#3e88ca"/>
<rect x="239.72" y="364.00" width="12.47" height="12.45" fill="#e4eef7"/>
<rect x="252.13" y="364.00" width="12.47" height="12.45" fill="#f4f8fc"/>
<rect x="264.55" y="364.00" width="12.47" height="12.45" fill="#fafcfd"/>
<rect x="276.97" y="364.00" width="12.47" height="12.45" fill="#ffffff"/>
<rect x="289.38" y="364.00" width="12.47" height="12.45" fill="#ffffff"/>
<rect x="301.80" y="364.00" width="12.47" height="12.45" fill="#ffffff"/>
<rect x="314.22" y="364.00" width="12.47" height="12.45" fill="#ffffff"/>
<rect x="326.63" y="364.00" width="12.47" height="12.45" fill="#ffffff"/>
<rect x="339.05" y="364.00" width="12.47" height="12.45" fill="#ffffff"/>
<rect x="351.47" y="364.00" width="12.47" height="12.45" fill="#ffffff"/>
<rect x="363.88" y="364.00" width="12.47" height="12.45" fill="#ffffff"/>
<rect x="227.30" y="376.40" width="12.47" height="12.45" fill="#d6e5f3"/>
<rect x="239.72" y="376.40" width="12.47" height="12.45" fill="#5396d2"/>
<rect x="252.13" y="376.40" width="12.47" height="12.45" fill="#eff5fa"/>
<rect x="264.55" y="376.40" width="12.47" height="12.45" fill="#f7fafd"/>
<rect x="276.97" y="376.40" width="12.47" height="12.45" fill="#f7fafd"/>
<rect x="289.38" y="376.40" width="12.47" height="12.45" fill="#ffffff"/>
<rect x="301.80" y="376.40" width="12.47" height="12.45" fill="#ffffff"/>
<rect x="314.22" y="376.40" width="12.47" height="12.45" fill="#ffffff"/>
<rect x="326.63" y="376.40" width="12.47" height="12.45" fill="#ffffff"/>
<rect x="339.05" y="376.40" width="12.47" height="12.45" fill="#ffffff"/>
<rect x="351.47" y="376.40" width="12.47" height="12.45" fill="#ffffff"/>
<rect x="363.88" y="376.40" width="12.47" height="12.45" fill="#ffffff"/>
<rect x="227.30" y="388.80" width="12.47" height="12.45" fill="#ffffff"/>
<rect x="239.72" y="388.80" width="12.47" height="12.45" fill="#f7fafd"/>
<rect x="252.13" y="388.80" width="12.47" height="12.45" fill="#81b3e0"/>
<rect x="264.55" y="388.80" width="12.47" height="12.45" fill="#ffffff"/>
<rect x="276.97" y="388.80" width="12.47" height="12.45" fill="#ffffff"/>
<rect x="289.38" y="388.80" width="12.47" height="12.45" fill="#ffffff"/>
<rect x="301.80" y="388.80" width="12.47" height="12.45" fill="#ffffff"/>
<rect x="314.22" y="388.80" width="12.47" height="12.45" fill="#ffffff"/>
<rect x="326.63" y="388.80" width="12.47" height="12.45" fill="#ffffff"/>
<rect x="339.05" y="388.80" width="12.47" height="12.45" fill="#f7fafd"/>
<rect x="351.47" y="388.80" width="12.47" height="12.45" fill="#ffffff"/>
<rect x="363.88" y="388.80" width="12.47" height="12.45" fill="#ffffff"/>
<rect x="227.30" y="401.20" width="12.47" height="12.45" fill="#ffffff"/>
<rect x="239.72" y="401.20" width="12.47" height="12.45" fill="#f7fafd"/>
<rect x="252.13" y="401.20" width="12.47" height="12.45" fill="#bed7ee"/>
<rect x="264.55" y="401.20" width="12.47" height="12.45" fill="#3e88ca"/>
<rect x="276.97" y="401.20" width="12.47" height="12.45" fill="#ffffff"/>
<rect x="289.38" y="401.20" width="12.47" height="12.45" fill="#f7fafd"/>
<rect x="301.80" y="401.20" width="12.47" height="12.45" fill="#ffffff"/>
<rect x="314.22" y="401.20" width="12.47" height="12.45" fill="#ffffff"/>
<rect x="326.63" y="401.20" width="12.47" height="12.45" fill="#ffffff"/>
<rect x="339.05" y="401.20" width="12.47" height="12.45" fill="#ffffff"/>
<rect x="351.47" y="401.20" width="12.47" height="12.45" fill="#ffffff"/>
<rect x="363.88" y="401.20" width="12.47" height="12.45" fill="#ffffff"/>
<rect x="227.30" y="413.60" width="12.47" height="12.45" fill="#ffffff"/>
<rect x="239.72" y="413.60" width="12.47" height="12.45" fill="#f7fafd"/>
<rect x="252.13" y="413.60" width="12.47" height="12.45" fill="#ffffff"/>
<rect x="264.55" y="413.60" width="12.47" height="12.45" fill="#ffffff"/>
<rect x="276.97" y="413.60" width="12.47" height="12.45" fill="#3e88ca"/>
<rect x="289.38" y="413.60" width="12.47" height="12.45" fill="#f7fafd"/>
<rect x="301.80" y="413.60" width="12.47" height="12.45" fill="#ffffff"/>
<rect x="314.22" y="413.60" width="12.47" height="12.45" fill="#ffffff"/>
<rect x="326.63" y="413.60" width="12.47" height="12.45" fill="#ffffff"/>
<rect x="339.05" y="413.60" width="12.47" height="12.45" fill="#ffffff"/>
<rect x="351.47" y="413.60" width="12.47" height="12.45" fill="#ffffff"/>
<rect x="363.88" y="413.60" width="12.47" height="12.45" fill="#ffffff"/>
<rect x="227.30" y="426.00" width="12.47" height="12.45" fill="#ffffff"/>
<rect x="239.72" y="426.00" width="12.47" height="12.45" fill="#ffffff"/>
<rect x="252.13" y="426.00" width="12.47" height="12.45" fill="#ffffff"/>
<rect x="264.55" y="426.00" width="12.47" height="12.45" fill="#ffffff"/>
<rect x="276.97" y="426.00" width="12.47" height="12.45" fill="#ffffff"/>
<rect x="289.38" y="426.00" width="12.47" height="12.45" fill="#4d92d0"/>
<rect x="301.80" y="426.00" width="12.47" height="12.45" fill="#ffffff"/>
<rect x="314.22" y="426.00" width="12.47" height="12.45" fill="#ffffff"/>
<rect x="326.63" y="426.00" width="12.47" height="12.45" fill="#fafcfd"/>
<rect x="339.05" y="426.00" width="12.47" height="12.45" fill="#ffffff"/>
<rect x="351.47" y="426.00" width="12.47" height="12.45" fill="#ffffff"/>
<rect x="363.88" y="426.00" width="12.47" height="12.45" fill="#ffffff"/>
<rect x="227.30" y="438.40" width="12.47" height="12.45" fill="#ffffff"/>
<rect x="239.72" y="438.40" width="12.47" height="12.45" fill="#ffffff"/>
<rect x="252.13" y="438.40" width="12.47" height="12.45" fill="#ffffff"/>
<rect x="264.55" y="438.40" width="12.47" height="12.45" fill="#f4f8fc"/>
<rect x="276.97" y="438.40" width="12.47" height="12.45" fill="#ffffff"/>
<rect x="289.38" y="438.40" width="12.47" height="12.45" fill="#ffffff"/>
<rect x="301.80" y="438.40" width="12.47" height="12.45" fill="#3981c6"/>
<rect x="314.22" y="438.40" width="12.47" height="12.45" fill="#81b3e0"/>
<rect x="326.63" y="438.40" width="12.47" height="12.45" fill="#f7fafd"/>
<rect x="339.05" y="438.40" width="12.47" height="12.45" fill="#ffffff"/>
<rect x="351.47" y="438.40" width="12.47" height="12.45" fill="#ffffff"/>
<rect x="363.88" y="438.40" width="12.47" height="12.45" fill="#ffffff"/>
<rect x="227.30" y="450.80" width="12.47" height="12.45" fill="#ffffff"/>
<rect x="239.72" y="450.80" width="12.47" height="12.45" fill="#ffffff"/>
<rect x="252.13" y="450.80" width="12.47" height="12.45" fill="#ffffff"/>
<rect x="264.55" y="450.80" width="12.47" height="12.45" fill="#ffffff"/>
<rect x="276.97" y="450.80" width="12.47" height="12.45" fill="#ffffff"/>
<rect x="289.38" y="450.80" width="12.47" height="12.45" fill="#ffffff"/>
<rect x="301.80" y="450.80" width="12.47" height="12.45" fill="#fafcfd"/>
<rect x="314.22" y="450.80" width="12.47" height="12.45" fill="#a6c9e8"/>
<rect x="326.63" y="450.80" width="12.47" height="12.45" fill="#ffffff"/>
<rect x="339.05" y="450.80" width="12.47" height="12.45" fill="#ffffff"/>
<rect x="351.47" y="450.80" width="12.47" height="12.45" fill="#e4eef7"/>
<rect x="363.88" y="450.80" width="12.47" height="12.45" fill="#ffffff"/>
<rect x="227.30" y="463.20" width="12.47" height="12.45" fill="#ffffff"/>
<rect x="239.72" y="463.20" width="12.47" height="12.45" fill="#ffffff"/>
<rect x="252.13" y="463.20" width="12.47" height="12.45" fill="#ffffff"/>
<rect x="264.55" y="463.20" width="12.47" height="12.45" fill="#ffffff"/>
<rect x="276.97" y="463.20" width="12.47" height="12.45" fill="#ffffff"/>
<rect x="289.38" y="463.20" width="12.47" height="12.45" fill="#eff5fa"/>
<rect x="301.80" y="463.20" width="12.47" height="12.45" fill="#ffffff"/>
<rect x="314.22" y="463.20" width="12.47" height="12.45" fill="#f7fafd"/>
<rect x="326.63" y="463.20" width="12.47" height="12.45" fill="#5e9dd6"/>
<rect x="339.05" y="463.20" width="12.47" height="12.45" fill="#ffffff"/>
<rect x="351.47" y="463.20" width="12.47" height="12.45" fill="#cadef0"/>
<rect x="363.88" y="463.20" width="12.47" height="12.45" fill="#ffffff"/>
<rect x="227.30" y="475.60" width="12.47" height="12.45" fill="#ffffff"/>
<rect x="239.72" y="475.60" width="12.47" height="12.45" fill="#ffffff"/>
<rect x="252.13" y="475.60" width="12.47" height="12.45" fill="#e4eef7"/>
<rect x="264.55" y="475.60" width="12.47" height="12.45" fill="#f7fafd"/>
<rect x="276.97" y="475.60" width="12.47" height="12.45" fill="#ffffff"/>
<rect x="289.38" y="475.60" width="12.47" height="12.45" fill="#ffffff"/>
<rect x="301.80" y="475.60" width="12.47" height="12.45" fill="#f1f6fb"/>
<rect x="314.22" y="475.60" width="12.47" height="12.45" fill="#ffffff"/>
<rect x="326.63" y="475.60" width="12.47" height="12.45" fill="#c5dbef"/>
<rect x="339.05" y="475.60" width="12.47" height="12.45" fill="#3981c6"/>
<rect x="351.47" y="475.60" width="12.47" height="12.45" fill="#ffffff"/>
<rect x="363.88" y="475.60" width="12.47" height="12.45" fill="#ffffff"/>
<rect x="227.30" y="488.00" width="12.47" height="12.45" fill="#ffffff"/>
<rect x="239.72" y="488.00" width="12.47" height="12.45" fill="#ffffff"/>
<rect x="252.13" y="488.00" width="12.47" height="12.45" fill="#ffffff"/>
<rect x="264.55" y="488.00" width="12.47" height="12.45" fill="#ffffff"/>
<rect x="276.97" y="488.00" width="12.47" height="12.45" fill="#ffffff"/>
<rect x="289.38" y="488.00" width="12.47" height="12.45" fill="#ffffff"/>
<rect x="301.80" y="488.00" width="12.47" height="12.45" fill="#ffffff"/>
<rect x="314.22" y="488.00" width="12.47" height="12.45" fill="#e4eef7"/>
<rect x="326.63" y="488.00" width="12.47" height="12.45" fill="#ffffff"/>
<rect x="339.05" y="488.00" width="12.47" height="12.45" fill="#ffffff"/>
<rect x="351.47" y="488.00" width="12.47" height="12.45" fill="#81b3e0"/>
<rect x="363.88" y="488.00" width="12.47" height="12.45" fill="#ffffff"/>
<rect x="227.30" y="500.40" width="12.47" height="12.45" fill="#ffffff"/>
<rect x="239.72" y="500.40" width="12.47" height="12.45" fill="#e9f1f9"/>
<rect x="252.13" y="500.40" width="12.47" height="12.45" fill="#f4f8fc"/>
<rect x="264.55" y="500.40" width="12.47" height="12.45" fill="#f4f8fc"/>
<rect x="276.97" y="500.40" width="12.47" height="12.45" fill="#e4eef7"/>
<rect x="289.38" y="500.40" width="12.47" height="12.45" fill="#e9f1f9"/>
<rect x="301.80" y="500.40" width="12.47" height="12.45" fill="#ffffff"/>
<rect x="314.22" y="500.40" width="12.47" height="12.45" fill="#ffffff"/>
<rect x="326.63" y="500.40" width="12.47" height="12.45" fill="#f7fafd"/>
<rect x="339.05" y="500.40" width="12.47" height="12.45" fill="#f7fafd"/>
<rect x="351.47" y="500.40" width="12.47" height="12.45" fill="#eff5fa"/>
<rect x="363.88" y="500.40" width="12.47" height="12.45" fill="#2e73be"/>
<text x="295.59" y="434.70" font-size="7.2" fill="#fff" text-anchor="middle" stroke="#fff" stroke-width="0.2">.73</text>
<text x="332.84" y="471.90" font-size="7.2" fill="#fff" text-anchor="middle" stroke="#fff" stroke-width="0.2">.65</text>
<text x="332.84" y="484.30" font-size="7.2" fill="#222" text-anchor="middle" stroke="#222" stroke-width="0.2">.22</text>
<text x="345.26" y="484.30" font-size="7.2" fill="#fff" text-anchor="middle" stroke="#fff" stroke-width="0.2">.85</text>
<rect x="227.30" y="364.00" width="149.00" height="148.80" fill="none" stroke="#b5b5b5" stroke-width="0.8"/>
<rect x="289.38" y="363.70" width="12.42" height="149.40" fill="none" stroke="#f2e31c" stroke-width="1.5"/>
<rect x="326.63" y="363.70" width="24.83" height="149.40" fill="none" stroke="#f2e31c" stroke-width="1.5"/>
<rect x="72.00" y="531.30" width="12.45" height="12.38" fill="#5396d2"/>
<rect x="84.40" y="531.30" width="12.45" height="12.38" fill="#cadef0"/>
<rect x="96.80" y="531.30" width="12.45" height="12.38" fill="#e9f1f9"/>
<rect x="109.20" y="531.30" width="12.45" height="12.38" fill="#ffffff"/>
<rect x="121.60" y="531.30" width="12.45" height="12.38" fill="#eff5fa"/>
<rect x="134.00" y="531.30" width="12.45" height="12.38" fill="#f7fafd"/>
<rect x="146.40" y="531.30" width="12.45" height="12.38" fill="#ffffff"/>
<rect x="158.80" y="531.30" width="12.45" height="12.38" fill="#ffffff"/>
<rect x="171.20" y="531.30" width="12.45" height="12.38" fill="#ffffff"/>
<rect x="183.60" y="531.30" width="12.45" height="12.38" fill="#f4f8fc"/>
<rect x="196.00" y="531.30" width="12.45" height="12.38" fill="#ffffff"/>
<rect x="208.40" y="531.30" width="12.45" height="12.38" fill="#ffffff"/>
<rect x="72.00" y="543.63" width="12.45" height="12.38" fill="#e9f1f9"/>
<rect x="84.40" y="543.63" width="12.45" height="12.38" fill="#488fce"/>
<rect x="96.80" y="543.63" width="12.45" height="12.38" fill="#e4eef7"/>
<rect x="109.20" y="543.63" width="12.45" height="12.38" fill="#ffffff"/>
<rect x="121.60" y="543.63" width="12.45" height="12.38" fill="#f4f8fc"/>
<rect x="134.00" y="543.63" width="12.45" height="12.38" fill="#ffffff"/>
<rect x="146.40" y="543.63" width="12.45" height="12.38" fill="#ffffff"/>
<rect x="158.80" y="543.63" width="12.45" height="12.38" fill="#ffffff"/>
<rect x="171.20" y="543.63" width="12.45" height="12.38" fill="#ffffff"/>
<rect x="183.60" y="543.63" width="12.45" height="12.38" fill="#ffffff"/>
<rect x="196.00" y="543.63" width="12.45" height="12.38" fill="#ffffff"/>
<rect x="208.40" y="543.63" width="12.45" height="12.38" fill="#ffffff"/>
<rect x="72.00" y="555.97" width="12.45" height="12.38" fill="#ffffff"/>
<rect x="84.40" y="555.97" width="12.45" height="12.38" fill="#f7fafd"/>
<rect x="96.80" y="555.97" width="12.45" height="12.38" fill="#3e88ca"/>
<rect x="109.20" y="555.97" width="12.45" height="12.38" fill="#ffffff"/>
<rect x="121.60" y="555.97" width="12.45" height="12.38" fill="#ffffff"/>
<rect x="134.00" y="555.97" width="12.45" height="12.38" fill="#ffffff"/>
<rect x="146.40" y="555.97" width="12.45" height="12.38" fill="#ffffff"/>
<rect x="158.80" y="555.97" width="12.45" height="12.38" fill="#ffffff"/>
<rect x="171.20" y="555.97" width="12.45" height="12.38" fill="#ffffff"/>
<rect x="183.60" y="555.97" width="12.45" height="12.38" fill="#d6e5f3"/>
<rect x="196.00" y="555.97" width="12.45" height="12.38" fill="#ffffff"/>
<rect x="208.40" y="555.97" width="12.45" height="12.38" fill="#ffffff"/>
<rect x="72.00" y="568.30" width="12.45" height="12.38" fill="#ffffff"/>
<rect x="84.40" y="568.30" width="12.45" height="12.38" fill="#f4f8fc"/>
<rect x="96.80" y="568.30" width="12.45" height="12.38" fill="#99c1e5"/>
<rect x="109.20" y="568.30" width="12.45" height="12.38" fill="#99c1e5"/>
<rect x="121.60" y="568.30" width="12.45" height="12.38" fill="#ffffff"/>
<rect x="134.00" y="568.30" width="12.45" height="12.38" fill="#e9f1f9"/>
<rect x="146.40" y="568.30" width="12.45" height="12.38" fill="#ffffff"/>
<rect x="158.80" y="568.30" width="12.45" height="12.38" fill="#ffffff"/>
<rect x="171.20" y="568.30" width="12.45" height="12.38" fill="#ffffff"/>
<rect x="183.60" y="568.30" width="12.45" height="12.38" fill="#ffffff"/>
<rect x="196.00" y="568.30" width="12.45" height="12.38" fill="#ffffff"/>
<rect x="208.40" y="568.30" width="12.45" height="12.38" fill="#ffffff"/>
<rect x="72.00" y="580.63" width="12.45" height="12.38" fill="#ffffff"/>
<rect x="84.40" y="580.63" width="12.45" height="12.38" fill="#f4f8fc"/>
<rect x="96.80" y="580.63" width="12.45" height="12.38" fill="#ffffff"/>
<rect x="109.20" y="580.63" width="12.45" height="12.38" fill="#ffffff"/>
<rect x="121.60" y="580.63" width="12.45" height="12.38" fill="#3e88ca"/>
<rect x="134.00" y="580.63" width="12.45" height="12.38" fill="#cadef0"/>
<rect x="146.40" y="580.63" width="12.45" height="12.38" fill="#ffffff"/>
<rect x="158.80" y="580.63" width="12.45" height="12.38" fill="#ffffff"/>
<rect x="171.20" y="580.63" width="12.45" height="12.38" fill="#ffffff"/>
<rect x="183.60" y="580.63" width="12.45" height="12.38" fill="#ffffff"/>
<rect x="196.00" y="580.63" width="12.45" height="12.38" fill="#ffffff"/>
<rect x="208.40" y="580.63" width="12.45" height="12.38" fill="#f7fafd"/>
<rect x="72.00" y="592.97" width="12.45" height="12.38" fill="#ffffff"/>
<rect x="84.40" y="592.97" width="12.45" height="12.38" fill="#ffffff"/>
<rect x="96.80" y="592.97" width="12.45" height="12.38" fill="#ffffff"/>
<rect x="109.20" y="592.97" width="12.45" height="12.38" fill="#ffffff"/>
<rect x="121.60" y="592.97" width="12.45" height="12.38" fill="#ffffff"/>
<rect x="134.00" y="592.97" width="12.45" height="12.38" fill="#3780c5"/>
<rect x="146.40" y="592.97" width="12.45" height="12.38" fill="#ffffff"/>
<rect x="158.80" y="592.97" width="12.45" height="12.38" fill="#ffffff"/>
<rect x="171.20" y="592.97" width="12.45" height="12.38" fill="#e4eef7"/>
<rect x="183.60" y="592.97" width="12.45" height="12.38" fill="#ffffff"/>
<rect x="196.00" y="592.97" width="12.45" height="12.38" fill="#ffffff"/>
<rect x="208.40" y="592.97" width="12.45" height="12.38" fill="#ffffff"/>
<rect x="72.00" y="605.30" width="12.45" height="12.38" fill="#ffffff"/>
<rect x="84.40" y="605.30" width="12.45" height="12.38" fill="#ffffff"/>
<rect x="96.80" y="605.30" width="12.45" height="12.38" fill="#ffffff"/>
<rect x="109.20" y="605.30" width="12.45" height="12.38" fill="#ffffff"/>
<rect x="121.60" y="605.30" width="12.45" height="12.38" fill="#ffffff"/>
<rect x="134.00" y="605.30" width="12.45" height="12.38" fill="#fafcfd"/>
<rect x="146.40" y="605.30" width="12.45" height="12.38" fill="#5e9dd6"/>
<rect x="158.80" y="605.30" width="12.45" height="12.38" fill="#b2d0eb"/>
<rect x="171.20" y="605.30" width="12.45" height="12.38" fill="#eff5fa"/>
<rect x="183.60" y="605.30" width="12.45" height="12.38" fill="#f7fafd"/>
<rect x="196.00" y="605.30" width="12.45" height="12.38" fill="#ffffff"/>
<rect x="208.40" y="605.30" width="12.45" height="12.38" fill="#ffffff"/>
<rect x="72.00" y="617.63" width="12.45" height="12.38" fill="#ffffff"/>
<rect x="84.40" y="617.63" width="12.45" height="12.38" fill="#ffffff"/>
<rect x="96.80" y="617.63" width="12.45" height="12.38" fill="#ffffff"/>
<rect x="109.20" y="617.63" width="12.45" height="12.38" fill="#ffffff"/>
<rect x="121.60" y="617.63" width="12.45" height="12.38" fill="#ffffff"/>
<rect x="134.00" y="617.63" width="12.45" height="12.38" fill="#f7fafd"/>
<rect x="146.40" y="617.63" width="12.45" height="12.38" fill="#e4eef7"/>
<rect x="158.80" y="617.63" width="12.45" height="12.38" fill="#3e88ca"/>
<rect x="171.20" y="617.63" width="12.45" height="12.38" fill="#f4f8fc"/>
<rect x="183.60" y="617.63" width="12.45" height="12.38" fill="#ffffff"/>
<rect x="196.00" y="617.63" width="12.45" height="12.38" fill="#f4f8fc"/>
<rect x="208.40" y="617.63" width="12.45" height="12.38" fill="#ffffff"/>
<rect x="72.00" y="629.97" width="12.45" height="12.38" fill="#ffffff"/>
<rect x="84.40" y="629.97" width="12.45" height="12.38" fill="#ffffff"/>
<rect x="96.80" y="629.97" width="12.45" height="12.38" fill="#ffffff"/>
<rect x="109.20" y="629.97" width="12.45" height="12.38" fill="#ffffff"/>
<rect x="121.60" y="629.97" width="12.45" height="12.38" fill="#ffffff"/>
<rect x="134.00" y="629.97" width="12.45" height="12.38" fill="#ffffff"/>
<rect x="146.40" y="629.97" width="12.45" height="12.38" fill="#f4f8fc"/>
<rect x="158.80" y="629.97" width="12.45" height="12.38" fill="#ffffff"/>
<rect x="171.20" y="629.97" width="12.45" height="12.38" fill="#3981c6"/>
<rect x="183.60" y="629.97" width="12.45" height="12.38" fill="#ffffff"/>
<rect x="196.00" y="629.97" width="12.45" height="12.38" fill="#ffffff"/>
<rect x="208.40" y="629.97" width="12.45" height="12.38" fill="#ffffff"/>
<rect x="72.00" y="642.30" width="12.45" height="12.38" fill="#ffffff"/>
<rect x="84.40" y="642.30" width="12.45" height="12.38" fill="#ffffff"/>
<rect x="96.80" y="642.30" width="12.45" height="12.38" fill="#ffffff"/>
<rect x="109.20" y="642.30" width="12.45" height="12.38" fill="#ffffff"/>
<rect x="121.60" y="642.30" width="12.45" height="12.38" fill="#ffffff"/>
<rect x="134.00" y="642.30" width="12.45" height="12.38" fill="#ffffff"/>
<rect x="146.40" y="642.30" width="12.45" height="12.38" fill="#f4f8fc"/>
<rect x="158.80" y="642.30" width="12.45" height="12.38" fill="#ffffff"/>
<rect x="171.20" y="642.30" width="12.45" height="12.38" fill="#c8ddf0"/>
<rect x="183.60" y="642.30" width="12.45" height="12.38" fill="#5396d2"/>
<rect x="196.00" y="642.30" width="12.45" height="12.38" fill="#ffffff"/>
<rect x="208.40" y="642.30" width="12.45" height="12.38" fill="#ffffff"/>
<rect x="72.00" y="654.63" width="12.45" height="12.38" fill="#ffffff"/>
<rect x="84.40" y="654.63" width="12.45" height="12.38" fill="#ffffff"/>
<rect x="96.80" y="654.63" width="12.45" height="12.38" fill="#ffffff"/>
<rect x="109.20" y="654.63" width="12.45" height="12.38" fill="#ffffff"/>
<rect x="121.60" y="654.63" width="12.45" height="12.38" fill="#ffffff"/>
<rect x="134.00" y="654.63" width="12.45" height="12.38" fill="#ffffff"/>
<rect x="146.40" y="654.63" width="12.45" height="12.38" fill="#f7fafd"/>
<rect x="158.80" y="654.63" width="12.45" height="12.38" fill="#b2d0eb"/>
<rect x="171.20" y="654.63" width="12.45" height="12.38" fill="#e4eef7"/>
<rect x="183.60" y="654.63" width="12.45" height="12.38" fill="#e9f1f9"/>
<rect x="196.00" y="654.63" width="12.45" height="12.38" fill="#b2d0eb"/>
<rect x="208.40" y="654.63" width="12.45" height="12.38" fill="#ffffff"/>
<rect x="72.00" y="666.97" width="12.45" height="12.38" fill="#ffffff"/>
<rect x="84.40" y="666.97" width="12.45" height="12.38" fill="#f7fafd"/>
<rect x="96.80" y="666.97" width="12.45" height="12.38" fill="#ffffff"/>
<rect x="109.20" y="666.97" width="12.45" height="12.38" fill="#ffffff"/>
<rect x="121.60" y="666.97" width="12.45" height="12.38" fill="#f1f6fb"/>
<rect x="134.00" y="666.97" width="12.45" height="12.38" fill="#ffffff"/>
<rect x="146.40" y="666.97" width="12.45" height="12.38" fill="#ffffff"/>
<rect x="158.80" y="666.97" width="12.45" height="12.38" fill="#ffffff"/>
<rect x="171.20" y="666.97" width="12.45" height="12.38" fill="#e4eef7"/>
<rect x="183.60" y="666.97" width="12.45" height="12.38" fill="#f1f6fb"/>
<rect x="196.00" y="666.97" width="12.45" height="12.38" fill="#ffffff"/>
<rect x="208.40" y="666.97" width="12.45" height="12.38" fill="#3e88ca"/>
<text x="140.20" y="601.63" font-size="7.2" fill="#fff" text-anchor="middle" stroke="#fff" stroke-width="0.2">.86</text>
<text x="177.40" y="601.63" font-size="7.2" fill="#222" text-anchor="middle" stroke="#222" stroke-width="0.2">.10</text>
<text x="177.40" y="638.63" font-size="7.2" fill="#fff" text-anchor="middle" stroke="#fff" stroke-width="0.2">.85</text>
<text x="177.40" y="650.97" font-size="7.2" fill="#222" text-anchor="middle" stroke="#222" stroke-width="0.2">.21</text>
<text x="189.80" y="650.97" font-size="7.2" fill="#fff" text-anchor="middle" stroke="#fff" stroke-width="0.2">.70</text>
<rect x="72.00" y="531.30" width="148.80" height="148.00" fill="none" stroke="#b5b5b5" stroke-width="0.8"/>
<rect x="71.70" y="592.97" width="149.40" height="12.33" fill="none" stroke="#f2e31c" stroke-width="1.5"/>
<rect x="71.70" y="629.97" width="149.40" height="24.67" fill="none" stroke="#f2e31c" stroke-width="1.5"/>
<rect x="227.30" y="531.30" width="12.47" height="12.38" fill="#3e88ca"/>
<rect x="239.72" y="531.30" width="12.47" height="12.38" fill="#e9f1f9"/>
<rect x="252.13" y="531.30" width="12.47" height="12.38" fill="#f1f6fb"/>
<rect x="264.55" y="531.30" width="12.47" height="12.38" fill="#ffffff"/>
<rect x="276.97" y="531.30" width="12.47" height="12.38" fill="#cadef0"/>
<rect x="289.38" y="531.30" width="12.47" height="12.38" fill="#ffffff"/>
<rect x="301.80" y="531.30" width="12.47" height="12.38" fill="#ffffff"/>
<rect x="314.22" y="531.30" width="12.47" height="12.38" fill="#ffffff"/>
<rect x="326.63" y="531.30" width="12.47" height="12.38" fill="#ffffff"/>
<rect x="339.05" y="531.30" width="12.47" height="12.38" fill="#f4f8fc"/>
<rect x="351.47" y="531.30" width="12.47" height="12.38" fill="#ffffff"/>
<rect x="363.88" y="531.30" width="12.47" height="12.38" fill="#ffffff"/>
<rect x="227.30" y="543.63" width="12.47" height="12.38" fill="#d6e5f3"/>
<rect x="239.72" y="543.63" width="12.47" height="12.38" fill="#3981c6"/>
<rect x="252.13" y="543.63" width="12.47" height="12.38" fill="#e4eef7"/>
<rect x="264.55" y="543.63" width="12.47" height="12.38" fill="#f4f8fc"/>
<rect x="276.97" y="543.63" width="12.47" height="12.38" fill="#d6e5f3"/>
<rect x="289.38" y="543.63" width="12.47" height="12.38" fill="#ffffff"/>
<rect x="301.80" y="543.63" width="12.47" height="12.38" fill="#ffffff"/>
<rect x="314.22" y="543.63" width="12.47" height="12.38" fill="#ffffff"/>
<rect x="326.63" y="543.63" width="12.47" height="12.38" fill="#ffffff"/>
<rect x="339.05" y="543.63" width="12.47" height="12.38" fill="#f4f8fc"/>
<rect x="351.47" y="543.63" width="12.47" height="12.38" fill="#ffffff"/>
<rect x="363.88" y="543.63" width="12.47" height="12.38" fill="#f7fafd"/>
<rect x="227.30" y="555.97" width="12.47" height="12.38" fill="#fafcfd"/>
<rect x="239.72" y="555.97" width="12.47" height="12.38" fill="#ffffff"/>
<rect x="252.13" y="555.97" width="12.47" height="12.38" fill="#74abdd"/>
<rect x="264.55" y="555.97" width="12.47" height="12.38" fill="#e9f1f9"/>
<rect x="276.97" y="555.97" width="12.47" height="12.38" fill="#ffffff"/>
<rect x="289.38" y="555.97" width="12.47" height="12.38" fill="#ffffff"/>
<rect x="301.80" y="555.97" width="12.47" height="12.38" fill="#ffffff"/>
<rect x="314.22" y="555.97" width="12.47" height="12.38" fill="#ffffff"/>
<rect x="326.63" y="555.97" width="12.47" height="12.38" fill="#ffffff"/>
<rect x="339.05" y="555.97" width="12.47" height="12.38" fill="#d6e5f3"/>
<rect x="351.47" y="555.97" width="12.47" height="12.38" fill="#ffffff"/>
<rect x="363.88" y="555.97" width="12.47" height="12.38" fill="#ffffff"/>
<rect x="227.30" y="568.30" width="12.47" height="12.38" fill="#ffffff"/>
<rect x="239.72" y="568.30" width="12.47" height="12.38" fill="#f7fafd"/>
<rect x="252.13" y="568.30" width="12.47" height="12.38" fill="#bed7ee"/>
<rect x="264.55" y="568.30" width="12.47" height="12.38" fill="#3981c6"/>
<rect x="276.97" y="568.30" width="12.47" height="12.38" fill="#ffffff"/>
<rect x="289.38" y="568.30" width="12.47" height="12.38" fill="#f4f8fc"/>
<rect x="301.80" y="568.30" width="12.47" height="12.38" fill="#ffffff"/>
<rect x="314.22" y="568.30" width="12.47" height="12.38" fill="#ffffff"/>
<rect x="326.63" y="568.30" width="12.47" height="12.38" fill="#ffffff"/>
<rect x="339.05" y="568.30" width="12.47" height="12.38" fill="#ffffff"/>
<rect x="351.47" y="568.30" width="12.47" height="12.38" fill="#ffffff"/>
<rect x="363.88" y="568.30" width="12.47" height="12.38" fill="#ffffff"/>
<rect x="227.30" y="580.63" width="12.47" height="12.38" fill="#ffffff"/>
<rect x="239.72" y="580.63" width="12.47" height="12.38" fill="#fafcfd"/>
<rect x="252.13" y="580.63" width="12.47" height="12.38" fill="#ffffff"/>
<rect x="264.55" y="580.63" width="12.47" height="12.38" fill="#ffffff"/>
<rect x="276.97" y="580.63" width="12.47" height="12.38" fill="#74abdd"/>
<rect x="289.38" y="580.63" width="12.47" height="12.38" fill="#f7fafd"/>
<rect x="301.80" y="580.63" width="12.47" height="12.38" fill="#ffffff"/>
<rect x="314.22" y="580.63" width="12.47" height="12.38" fill="#ffffff"/>
<rect x="326.63" y="580.63" width="12.47" height="12.38" fill="#ffffff"/>
<rect x="339.05" y="580.63" width="12.47" height="12.38" fill="#ffffff"/>
<rect x="351.47" y="580.63" width="12.47" height="12.38" fill="#ffffff"/>
<rect x="363.88" y="580.63" width="12.47" height="12.38" fill="#f4f8fc"/>
<rect x="227.30" y="592.97" width="12.47" height="12.38" fill="#ffffff"/>
<rect x="239.72" y="592.97" width="12.47" height="12.38" fill="#ffffff"/>
<rect x="252.13" y="592.97" width="12.47" height="12.38" fill="#ffffff"/>
<rect x="264.55" y="592.97" width="12.47" height="12.38" fill="#fafcfd"/>
<rect x="276.97" y="592.97" width="12.47" height="12.38" fill="#ffffff"/>
<rect x="289.38" y="592.97" width="12.47" height="12.38" fill="#3c85c8"/>
<rect x="301.80" y="592.97" width="12.47" height="12.38" fill="#ffffff"/>
<rect x="314.22" y="592.97" width="12.47" height="12.38" fill="#ffffff"/>
<rect x="326.63" y="592.97" width="12.47" height="12.38" fill="#ecf3f9"/>
<rect x="339.05" y="592.97" width="12.47" height="12.38" fill="#ffffff"/>
<rect x="351.47" y="592.97" width="12.47" height="12.38" fill="#ffffff"/>
<rect x="363.88" y="592.97" width="12.47" height="12.38" fill="#ffffff"/>
<rect x="227.30" y="605.30" width="12.47" height="12.38" fill="#ffffff"/>
<rect x="239.72" y="605.30" width="12.47" height="12.38" fill="#ffffff"/>
<rect x="252.13" y="605.30" width="12.47" height="12.38" fill="#ffffff"/>
<rect x="264.55" y="605.30" width="12.47" height="12.38" fill="#ffffff"/>
<rect x="276.97" y="605.30" width="12.47" height="12.38" fill="#ffffff"/>
<rect x="289.38" y="605.30" width="12.47" height="12.38" fill="#ffffff"/>
<rect x="301.80" y="605.30" width="12.47" height="12.38" fill="#3e88ca"/>
<rect x="314.22" y="605.30" width="12.47" height="12.38" fill="#8dbae2"/>
<rect x="326.63" y="605.30" width="12.47" height="12.38" fill="#f7fafd"/>
<rect x="339.05" y="605.30" width="12.47" height="12.38" fill="#ffffff"/>
<rect x="351.47" y="605.30" width="12.47" height="12.38" fill="#ffffff"/>
<rect x="363.88" y="605.30" width="12.47" height="12.38" fill="#ffffff"/>
<rect x="227.30" y="617.63" width="12.47" height="12.38" fill="#ffffff"/>
<rect x="239.72" y="617.63" width="12.47" height="12.38" fill="#ffffff"/>
<rect x="252.13" y="617.63" width="12.47" height="12.38" fill="#ffffff"/>
<rect x="264.55" y="617.63" width="12.47" height="12.38" fill="#ffffff"/>
<rect x="276.97" y="617.63" width="12.47" height="12.38" fill="#ffffff"/>
<rect x="289.38" y="617.63" width="12.47" height="12.38" fill="#ffffff"/>
<rect x="301.80" y="617.63" width="12.47" height="12.38" fill="#eff5fa"/>
<rect x="314.22" y="617.63" width="12.47" height="12.38" fill="#99c1e5"/>
<rect x="326.63" y="617.63" width="12.47" height="12.38" fill="#ffffff"/>
<rect x="339.05" y="617.63" width="12.47" height="12.38" fill="#ffffff"/>
<rect x="351.47" y="617.63" width="12.47" height="12.38" fill="#e9f1f9"/>
<rect x="363.88" y="617.63" width="12.47" height="12.38" fill="#ffffff"/>
<rect x="227.30" y="629.97" width="12.47" height="12.38" fill="#ffffff"/>
<rect x="239.72" y="629.97" width="12.47" height="12.38" fill="#ffffff"/>
<rect x="252.13" y="629.97" width="12.47" height="12.38" fill="#ffffff"/>
<rect x="264.55" y="629.97" width="12.47" height="12.38" fill="#ffffff"/>
<rect x="276.97" y="629.97" width="12.47" height="12.38" fill="#ffffff"/>
<rect x="289.38" y="629.97" width="12.47" height="12.38" fill="#ffffff"/>
<rect x="301.80" y="629.97" width="12.47" height="12.38" fill="#eff5fa"/>
<rect x="314.22" y="629.97" width="12.47" height="12.38" fill="#f4f8fc"/>
<rect x="326.63" y="629.97" width="12.47" height="12.38" fill="#6fa8dc"/>
<rect x="339.05" y="629.97" width="12.47" height="12.38" fill="#ffffff"/>
<rect x="351.47" y="629.97" width="12.47" height="12.38" fill="#e9f1f9"/>
<rect x="363.88" y="629.97" width="12.47" height="12.38" fill="#ffffff"/>
<rect x="227.30" y="642.30" width="12.47" height="12.38" fill="#ffffff"/>
<rect x="239.72" y="642.30" width="12.47" height="12.38" fill="#ffffff"/>
<rect x="252.13" y="642.30" width="12.47" height="12.38" fill="#ffffff"/>
<rect x="264.55" y="642.30" width="12.47" height="12.38" fill="#ffffff"/>
<rect x="276.97" y="642.30" width="12.47" height="12.38" fill="#ffffff"/>
<rect x="289.38" y="642.30" width="12.47" height="12.38" fill="#ffffff"/>
<rect x="301.80" y="642.30" width="12.47" height="12.38" fill="#e4eef7"/>
<rect x="314.22" y="642.30" width="12.47" height="12.38" fill="#ffffff"/>
<rect x="326.63" y="642.30" width="12.47" height="12.38" fill="#d4e4f2"/>
<rect x="339.05" y="642.30" width="12.47" height="12.38" fill="#7cb0df"/>
<rect x="351.47" y="642.30" width="12.47" height="12.38" fill="#ffffff"/>
<rect x="363.88" y="642.30" width="12.47" height="12.38" fill="#ffffff"/>
<rect x="227.30" y="654.63" width="12.47" height="12.38" fill="#ffffff"/>
<rect x="239.72" y="654.63" width="12.47" height="12.38" fill="#ffffff"/>
<rect x="252.13" y="654.63" width="12.47" height="12.38" fill="#ffffff"/>
<rect x="264.55" y="654.63" width="12.47" height="12.38" fill="#ffffff"/>
<rect x="276.97" y="654.63" width="12.47" height="12.38" fill="#ffffff"/>
<rect x="289.38" y="654.63" width="12.47" height="12.38" fill="#ffffff"/>
<rect x="301.80" y="654.63" width="12.47" height="12.38" fill="#ffffff"/>
<rect x="314.22" y="654.63" width="12.47" height="12.38" fill="#d6e5f3"/>
<rect x="326.63" y="654.63" width="12.47" height="12.38" fill="#ffffff"/>
<rect x="339.05" y="654.63" width="12.47" height="12.38" fill="#ffffff"/>
<rect x="351.47" y="654.63" width="12.47" height="12.38" fill="#3981c6"/>
<rect x="363.88" y="654.63" width="12.47" height="12.38" fill="#ffffff"/>
<rect x="227.30" y="666.97" width="12.47" height="12.38" fill="#ffffff"/>
<rect x="239.72" y="666.97" width="12.47" height="12.38" fill="#ffffff"/>
<rect x="252.13" y="666.97" width="12.47" height="12.38" fill="#ffffff"/>
<rect x="264.55" y="666.97" width="12.47" height="12.38" fill="#ffffff"/>
<rect x="276.97" y="666.97" width="12.47" height="12.38" fill="#eff5fa"/>
<rect x="289.38" y="666.97" width="12.47" height="12.38" fill="#ffffff"/>
<rect x="301.80" y="666.97" width="12.47" height="12.38" fill="#ffffff"/>
<rect x="314.22" y="666.97" width="12.47" height="12.38" fill="#ffffff"/>
<rect x="326.63" y="666.97" width="12.47" height="12.38" fill="#f4f8fc"/>
<rect x="339.05" y="666.97" width="12.47" height="12.38" fill="#f7fafd"/>
<rect x="351.47" y="666.97" width="12.47" height="12.38" fill="#ffffff"/>
<rect x="363.88" y="666.97" width="12.47" height="12.38" fill="#337ac2"/>
<text x="295.59" y="601.63" font-size="7.2" fill="#fff" text-anchor="middle" stroke="#fff" stroke-width="0.2">.82</text>
<text x="332.84" y="601.63" font-size="7.2" fill="#222" text-anchor="middle" stroke="#222" stroke-width="0.2">.07</text>
<text x="332.84" y="638.63" font-size="7.2" fill="#fff" text-anchor="middle" stroke="#fff" stroke-width="0.2">.57</text>
<text x="332.84" y="650.97" font-size="7.2" fill="#222" text-anchor="middle" stroke="#222" stroke-width="0.2">.18</text>
<text x="345.26" y="650.97" font-size="7.2" fill="#fff" text-anchor="middle" stroke="#fff" stroke-width="0.2">.65</text>
<rect x="227.30" y="531.30" width="149.00" height="148.00" fill="none" stroke="#b5b5b5" stroke-width="0.8"/>
<rect x="289.38" y="531.00" width="12.42" height="148.60" fill="none" stroke="#f2e31c" stroke-width="1.5"/>
<rect x="326.63" y="531.00" width="24.83" height="148.60" fill="none" stroke="#f2e31c" stroke-width="1.5"/>
<line x1="70.00" y1="370.20" x2="72.00" y2="370.20" stroke="#666" stroke-width="0.6"/>
<text x="65.80" y="372.00" font-size="7.5" fill="#222" text-anchor="end" stroke="#222" stroke-width="0.2">Mme</text>
<line x1="70.00" y1="382.60" x2="72.00" y2="382.60" stroke="#666" stroke-width="0.6"/>
<text x="65.80" y="384.40" font-size="7.5" fill="#222" text-anchor="end" stroke="#222" stroke-width="0.2">Calb2</text>
<line x1="70.00" y1="395.00" x2="72.00" y2="395.00" stroke="#666" stroke-width="0.6"/>
<text x="65.80" y="396.80" font-size="7.5" fill="#222" text-anchor="end" stroke="#222" stroke-width="0.2">Hpse</text>
<line x1="70.00" y1="407.40" x2="72.00" y2="407.40" stroke="#666" stroke-width="0.6"/>
<text x="65.80" y="409.20" font-size="7.5" fill="#222" text-anchor="end" stroke="#222" stroke-width="0.2">Syndig1l</text>
<line x1="70.00" y1="419.80" x2="72.00" y2="419.80" stroke="#666" stroke-width="0.6"/>
<text x="65.80" y="421.60" font-size="7.5" fill="#222" text-anchor="end" stroke="#222" stroke-width="0.2">Etv1</text>
<line x1="70.00" y1="432.20" x2="72.00" y2="432.20" stroke="#666" stroke-width="0.6"/>
<text x="65.80" y="434.00" font-size="7.5" fill="#22b0e0" text-anchor="end" stroke="#22b0e0" stroke-width="0.2">Chrna2</text>
<line x1="70.00" y1="444.60" x2="72.00" y2="444.60" stroke="#666" stroke-width="0.6"/>
<text x="65.80" y="446.40" font-size="7.5" fill="#222" text-anchor="end" stroke="#222" stroke-width="0.2">Crh-1</text>
<line x1="70.00" y1="457.00" x2="72.00" y2="457.00" stroke="#666" stroke-width="0.6"/>
<text x="65.80" y="458.80" font-size="7.5" fill="#222" text-anchor="end" stroke="#222" stroke-width="0.2">Crh-2</text>
<line x1="70.00" y1="469.40" x2="72.00" y2="469.40" stroke="#666" stroke-width="0.6"/>
<text x="65.80" y="471.20" font-size="7.5" fill="#5e90c8" text-anchor="end" stroke="#5e90c8" stroke-width="0.2">Nmbr-1</text>
<line x1="70.00" y1="481.80" x2="72.00" y2="481.80" stroke="#666" stroke-width="0.6"/>
<text x="65.80" y="483.60" font-size="7.5" fill="#2d5fc8" text-anchor="end" stroke="#2d5fc8" stroke-width="0.2">Nmbr-2</text>
<line x1="70.00" y1="494.20" x2="72.00" y2="494.20" stroke="#666" stroke-width="0.6"/>
<text x="65.80" y="496.00" font-size="7.5" fill="#222" text-anchor="end" stroke="#222" stroke-width="0.2">Th</text>
<line x1="70.00" y1="506.60" x2="72.00" y2="506.60" stroke="#666" stroke-width="0.6"/>
<text x="65.80" y="508.40" font-size="7.5" fill="#222" text-anchor="end" stroke="#222" stroke-width="0.2">Chodl</text>
<text x="32.00" y="427.90" font-size="9.5" fill="#111" text-anchor="middle" font-weight="bold" transform="rotate(-90 32.00 427.90)" stroke="#111" stroke-width="0.2">P7</text>
<line x1="70.00" y1="537.47" x2="72.00" y2="537.47" stroke="#666" stroke-width="0.6"/>
<text x="65.80" y="539.27" font-size="7.5" fill="#222" text-anchor="end" stroke="#222" stroke-width="0.2">Mme</text>
<line x1="70.00" y1="549.80" x2="72.00" y2="549.80" stroke="#666" stroke-width="0.6"/>
<text x="65.80" y="551.60" font-size="7.5" fill="#222" text-anchor="end" stroke="#222" stroke-width="0.2">Calb2</text>
<line x1="70.00" y1="562.13" x2="72.00" y2="562.13" stroke="#666" stroke-width="0.6"/>
<text x="65.80" y="563.93" font-size="7.5" fill="#222" text-anchor="end" stroke="#222" stroke-width="0.2">Hpse</text>
<line x1="70.00" y1="574.47" x2="72.00" y2="574.47" stroke="#666" stroke-width="0.6"/>
<text x="65.80" y="576.27" font-size="7.5" fill="#222" text-anchor="end" stroke="#222" stroke-width="0.2">Syndig1l</text>
<line x1="70.00" y1="586.80" x2="72.00" y2="586.80" stroke="#666" stroke-width="0.6"/>
<text x="65.80" y="588.60" font-size="7.5" fill="#222" text-anchor="end" stroke="#222" stroke-width="0.2">Etv1</text>
<line x1="70.00" y1="599.13" x2="72.00" y2="599.13" stroke="#666" stroke-width="0.6"/>
<text x="65.80" y="600.93" font-size="7.5" fill="#22b0e0" text-anchor="end" stroke="#22b0e0" stroke-width="0.2">Chrna2</text>
<line x1="70.00" y1="611.47" x2="72.00" y2="611.47" stroke="#666" stroke-width="0.6"/>
<text x="65.80" y="613.27" font-size="7.5" fill="#222" text-anchor="end" stroke="#222" stroke-width="0.2">Crh-1</text>
<line x1="70.00" y1="623.80" x2="72.00" y2="623.80" stroke="#666" stroke-width="0.6"/>
<text x="65.80" y="625.60" font-size="7.5" fill="#222" text-anchor="end" stroke="#222" stroke-width="0.2">Crh-2</text>
<line x1="70.00" y1="636.13" x2="72.00" y2="636.13" stroke="#666" stroke-width="0.6"/>
<text x="65.80" y="637.93" font-size="7.5" fill="#5e90c8" text-anchor="end" stroke="#5e90c8" stroke-width="0.2">Nmbr-1</text>
<line x1="70.00" y1="648.47" x2="72.00" y2="648.47" stroke="#666" stroke-width="0.6"/>
<text x="65.80" y="650.27" font-size="7.5" fill="#2d5fc8" text-anchor="end" stroke="#2d5fc8" stroke-width="0.2">Nmbr-2</text>
<line x1="70.00" y1="660.80" x2="72.00" y2="660.80" stroke="#666" stroke-width="0.6"/>
<text x="65.80" y="662.60" font-size="7.5" fill="#222" text-anchor="end" stroke="#222" stroke-width="0.2">Th</text>
<line x1="70.00" y1="673.13" x2="72.00" y2="673.13" stroke="#666" stroke-width="0.6"/>
<text x="65.80" y="674.93" font-size="7.5" fill="#222" text-anchor="end" stroke="#222" stroke-width="0.2">Chodl</text>
<text x="32.00" y="603.90" font-size="9.5" fill="#111" text-anchor="middle" font-weight="bold" transform="rotate(-90 32.00 603.90)" stroke="#111" stroke-width="0.2">P7</text>
<line x1="78.20" y1="679.30" x2="78.20" y2="681.30" stroke="#666" stroke-width="0.6"/>
<text x="84.20" y="689.00" font-size="7.6" fill="#222" text-anchor="end" transform="rotate(-45 84.20 689.00)" stroke="#222" stroke-width="0.2">Mme</text>
<line x1="90.60" y1="679.30" x2="90.60" y2="681.30" stroke="#666" stroke-width="0.6"/>
<text x="96.60" y="689.00" font-size="7.6" fill="#222" text-anchor="end" transform="rotate(-45 96.60 689.00)" stroke="#222" stroke-width="0.2">Calb2</text>
<line x1="103.00" y1="679.30" x2="103.00" y2="681.30" stroke="#666" stroke-width="0.6"/>
<text x="109.00" y="689.00" font-size="7.6" fill="#222" text-anchor="end" transform="rotate(-45 109.00 689.00)" stroke="#222" stroke-width="0.2">Hpse</text>
<line x1="115.40" y1="679.30" x2="115.40" y2="681.30" stroke="#666" stroke-width="0.6"/>
<text x="121.40" y="689.00" font-size="7.6" fill="#222" text-anchor="end" transform="rotate(-45 121.40 689.00)" stroke="#222" stroke-width="0.2">Syndig1l</text>
<line x1="127.80" y1="679.30" x2="127.80" y2="681.30" stroke="#666" stroke-width="0.6"/>
<text x="133.80" y="689.00" font-size="7.6" fill="#222" text-anchor="end" transform="rotate(-45 133.80 689.00)" stroke="#222" stroke-width="0.2">Etv1</text>
<line x1="140.20" y1="679.30" x2="140.20" y2="681.30" stroke="#666" stroke-width="0.6"/>
<text x="146.20" y="689.00" font-size="7.6" fill="#22b0e0" text-anchor="end" transform="rotate(-45 146.20 689.00)" stroke="#22b0e0" stroke-width="0.2">Chrna2</text>
<line x1="152.60" y1="679.30" x2="152.60" y2="681.30" stroke="#666" stroke-width="0.6"/>
<text x="158.60" y="689.00" font-size="7.6" fill="#222" text-anchor="end" transform="rotate(-45 158.60 689.00)" stroke="#222" stroke-width="0.2">Crh-1</text>
<line x1="165.00" y1="679.30" x2="165.00" y2="681.30" stroke="#666" stroke-width="0.6"/>
<text x="171.00" y="689.00" font-size="7.6" fill="#222" text-anchor="end" transform="rotate(-45 171.00 689.00)" stroke="#222" stroke-width="0.2">Crh-2</text>
<line x1="177.40" y1="679.30" x2="177.40" y2="681.30" stroke="#666" stroke-width="0.6"/>
<text x="183.40" y="689.00" font-size="7.6" fill="#86aad6" text-anchor="end" transform="rotate(-45 183.40 689.00)" stroke="#86aad6" stroke-width="0.2">Nmbr-1</text>
<line x1="189.80" y1="679.30" x2="189.80" y2="681.30" stroke="#666" stroke-width="0.6"/>
<text x="195.80" y="689.00" font-size="7.6" fill="#2d5fc8" text-anchor="end" transform="rotate(-45 195.80 689.00)" stroke="#2d5fc8" stroke-width="0.2">Nmbr-2</text>
<line x1="202.20" y1="679.30" x2="202.20" y2="681.30" stroke="#666" stroke-width="0.6"/>
<text x="208.20" y="689.00" font-size="7.6" fill="#222" text-anchor="end" transform="rotate(-45 208.20 689.00)" stroke="#222" stroke-width="0.2">Th</text>
<line x1="214.60" y1="679.30" x2="214.60" y2="681.30" stroke="#666" stroke-width="0.6"/>
<text x="220.60" y="689.00" font-size="7.6" fill="#222" text-anchor="end" transform="rotate(-45 220.60 689.00)" stroke="#222" stroke-width="0.2">Chodl</text>
<line x1="233.51" y1="679.30" x2="233.51" y2="681.30" stroke="#666" stroke-width="0.6"/>
<text x="239.51" y="689.00" font-size="7.6" fill="#222" text-anchor="end" transform="rotate(-45 239.51 689.00)" stroke="#222" stroke-width="0.2">Mme</text>
<line x1="245.93" y1="679.30" x2="245.93" y2="681.30" stroke="#666" stroke-width="0.6"/>
<text x="251.93" y="689.00" font-size="7.6" fill="#222" text-anchor="end" transform="rotate(-45 251.93 689.00)" stroke="#222" stroke-width="0.2">Calb2</text>
<line x1="258.34" y1="679.30" x2="258.34" y2="681.30" stroke="#666" stroke-width="0.6"/>
<text x="264.34" y="689.00" font-size="7.6" fill="#222" text-anchor="end" transform="rotate(-45 264.34 689.00)" stroke="#222" stroke-width="0.2">Hpse</text>
<line x1="270.76" y1="679.30" x2="270.76" y2="681.30" stroke="#666" stroke-width="0.6"/>
<text x="276.76" y="689.00" font-size="7.6" fill="#222" text-anchor="end" transform="rotate(-45 276.76 689.00)" stroke="#222" stroke-width="0.2">Syndig1l</text>
<line x1="283.18" y1="679.30" x2="283.18" y2="681.30" stroke="#666" stroke-width="0.6"/>
<text x="289.18" y="689.00" font-size="7.6" fill="#222" text-anchor="end" transform="rotate(-45 289.18 689.00)" stroke="#222" stroke-width="0.2">Etv1</text>
<line x1="295.59" y1="679.30" x2="295.59" y2="681.30" stroke="#666" stroke-width="0.6"/>
<text x="301.59" y="689.00" font-size="7.6" fill="#22b0e0" text-anchor="end" transform="rotate(-45 301.59 689.00)" stroke="#22b0e0" stroke-width="0.2">Chrna2</text>
<line x1="308.01" y1="679.30" x2="308.01" y2="681.30" stroke="#666" stroke-width="0.6"/>
<text x="314.01" y="689.00" font-size="7.6" fill="#222" text-anchor="end" transform="rotate(-45 314.01 689.00)" stroke="#222" stroke-width="0.2">Crh-1</text>
<line x1="320.43" y1="679.30" x2="320.43" y2="681.30" stroke="#666" stroke-width="0.6"/>
<text x="326.43" y="689.00" font-size="7.6" fill="#222" text-anchor="end" transform="rotate(-45 326.43 689.00)" stroke="#222" stroke-width="0.2">Crh-2</text>
<line x1="332.84" y1="679.30" x2="332.84" y2="681.30" stroke="#666" stroke-width="0.6"/>
<text x="338.84" y="689.00" font-size="7.6" fill="#86aad6" text-anchor="end" transform="rotate(-45 338.84 689.00)" stroke="#86aad6" stroke-width="0.2">Nmbr-1</text>
<line x1="345.26" y1="679.30" x2="345.26" y2="681.30" stroke="#666" stroke-width="0.6"/>
<text x="351.26" y="689.00" font-size="7.6" fill="#2d5fc8" text-anchor="end" transform="rotate(-45 351.26 689.00)" stroke="#2d5fc8" stroke-width="0.2">Nmbr-2</text>
<line x1="357.68" y1="679.30" x2="357.68" y2="681.30" stroke="#666" stroke-width="0.6"/>
<text x="363.68" y="689.00" font-size="7.6" fill="#222" text-anchor="end" transform="rotate(-45 363.68 689.00)" stroke="#222" stroke-width="0.2">Th</text>
<line x1="370.09" y1="679.30" x2="370.09" y2="681.30" stroke="#666" stroke-width="0.6"/>
<text x="376.09" y="689.00" font-size="7.6" fill="#222" text-anchor="end" transform="rotate(-45 376.09 689.00)" stroke="#222" stroke-width="0.2">Chodl</text>
<text x="140.00" y="717.00" font-size="9" fill="#111" text-anchor="middle" font-weight="bold" stroke="#111" stroke-width="0.2">P14</text>
<text x="300.60" y="717.00" font-size="9" fill="#111" text-anchor="middle" font-weight="bold" stroke="#111" stroke-width="0.2">P14</text>
<defs><linearGradient id="cb" x1="0" y1="1" x2="0" y2="0"><stop offset="0.00" stop-color="#ffffff"/><stop offset="0.05" stop-color="#f1f6fb"/><stop offset="0.10" stop-color="#e4eef7"/><stop offset="0.15" stop-color="#d6e5f3"/><stop offset="0.20" stop-color="#cadef0"/><stop offset="0.25" stop-color="#bed7ee"/><stop offset="0.30" stop-color="#b2d0eb"/><stop offset="0.35" stop-color="#a6c9e8"/><stop offset="0.40" stop-color="#99c1e5"/><stop offset="0.45" stop-color="#8dbae2"/><stop offset="0.50" stop-color="#81b3e0"/><stop offset="0.55" stop-color="#74abdd"/><stop offset="0.60" stop-color="#68a4da"/><stop offset="0.65" stop-color="#5e9dd6"/><stop offset="0.70" stop-color="#5396d2"/><stop offset="0.75" stop-color="#488fce"/><stop offset="0.80" stop-color="#3e88ca"/><stop offset="0.85" stop-color="#3981c6"/><stop offset="0.90" stop-color="#337ac2"/><stop offset="0.95" stop-color="#2e73be"/><stop offset="1.00" stop-color="#286cba"/></linearGradient></defs>
<rect x="381.75" y="449.5" width="7.5" height="150.5" fill="url(#cb)"/>
<line x1="389.25" y1="600.00" x2="391.00" y2="600.00" stroke="#777" stroke-width="0.6"/>
<text x="393.50" y="602.60" font-size="7.3" fill="#333" text-anchor="start" stroke="#333" stroke-width="0.2">0.0</text>
<line x1="389.25" y1="569.90" x2="391.00" y2="569.90" stroke="#777" stroke-width="0.6"/>
<text x="393.50" y="572.50" font-size="7.3" fill="#333" text-anchor="start" stroke="#333" stroke-width="0.2">0.2</text>
<line x1="389.25" y1="539.80" x2="391.00" y2="539.80" stroke="#777" stroke-width="0.6"/>
<text x="393.50" y="542.40" font-size="7.3" fill="#333" text-anchor="start" stroke="#333" stroke-width="0.2">0.4</text>
<line x1="389.25" y1="509.70" x2="391.00" y2="509.70" stroke="#777" stroke-width="0.6"/>
<text x="393.50" y="512.30" font-size="7.3" fill="#333" text-anchor="start" stroke="#333" stroke-width="0.2">0.6</text>
<line x1="389.25" y1="479.60" x2="391.00" y2="479.60" stroke="#777" stroke-width="0.6"/>
<text x="393.50" y="482.20" font-size="7.3" fill="#333" text-anchor="start" stroke="#333" stroke-width="0.2">0.8</text>
<line x1="389.25" y1="449.50" x2="391.00" y2="449.50" stroke="#777" stroke-width="0.6"/>
<text x="393.50" y="452.10" font-size="7.3" fill="#333" text-anchor="start" stroke="#333" stroke-width="0.2">1.0</text>
<text x="411.00" y="530.50" font-size="7.3" fill="#333" text-anchor="middle" transform="rotate(90 411.00 530.50)" stroke="#333" stroke-width="0.2">Cell-type transition probability</text>
</svg></body></html>
